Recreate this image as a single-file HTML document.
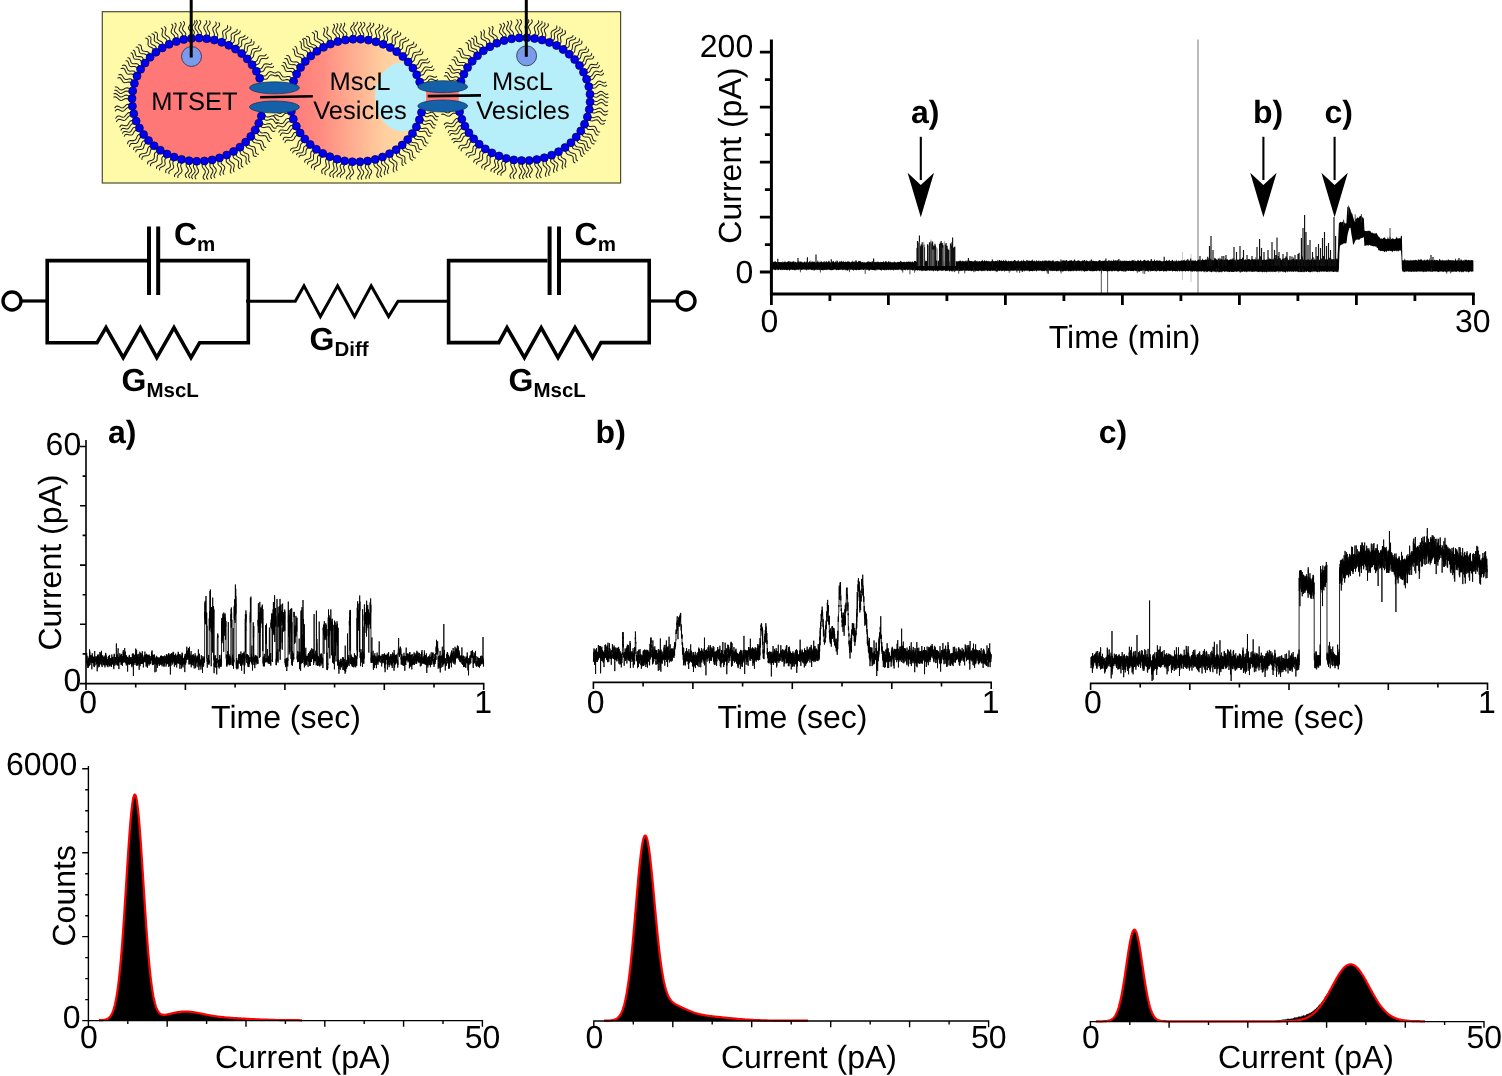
<!DOCTYPE html>
<html lang="en"><head><meta charset="utf-8"><title>MscL vesicle figure</title>
<style>html,body{margin:0;padding:0;background:#fff;}body{width:1502px;height:1076px;overflow:hidden;}svg text{font-family:"Liberation Sans",Arial,Helvetica,sans-serif;}</style></head>
<body>
<svg width="1502" height="1076" viewBox="0 0 1502 1076" style="display:block" text-rendering="geometricPrecision">
<g id="vesicles">
<rect x="102.3" y="11.7" width="518.3" height="171.3" fill="#FFFAA8" stroke="#4d4d33" stroke-width="1.2"/>
<defs><linearGradient id="gmid" x1="0" y1="0" x2="1" y2="0"><stop offset="0" stop-color="#FF7B7B"/><stop offset="0.22" stop-color="#FF8A80"/><stop offset="0.72" stop-color="#FFD0A0"/><stop offset="1" stop-color="#FFDDA8"/></linearGradient><clipPath id="cmid"><ellipse cx="356.5" cy="100.5" rx="66.3" ry="61.4"/></clipPath>
</defs>
<rect x="256" y="88" width="46" height="19" fill="#FF7878"/>
<ellipse cx="197.9" cy="99.7" rx="65.9" ry="61.6" fill="#FF7878"/>
<ellipse cx="356.5" cy="100.5" rx="66.3" ry="61.4" fill="url(#gmid)"/>
<g clip-path="url(#cmid)"><ellipse cx="403" cy="96.8" rx="28" ry="34.5" fill="#B6EFFA"/><rect x="403" y="76" width="40" height="42" fill="#B6EFFA"/></g>
<rect x="418" y="87" width="50" height="19" fill="#B6EFFA"/>
<ellipse cx="524.2" cy="99.2" rx="66" ry="61.5" fill="#B6EFFA"/>
<path d="M264.8 115.3 L265.9 116.4 L267.1 117 L268.5 117 L270.1 116.4 L271.6 115.9 L273 115.8 L274.2 116.6 L275.2 117.9 L276.2 119.3 L277.4 120.1 L278.8 120.1 M263.8 118.6 L264.9 119.6 L266.1 120.3 L267.5 120.2 L269.1 119.7 L270.7 119.1 L272.1 119.1 L273.3 119.8 L274.3 121.2 L275.3 122.6 L276.4 123.4 L277.8 123.3 M262.1 123.1 L263.2 124.1 L264.5 124.5 L266.1 124.3 L267.8 123.8 L269.4 123.6 L270.7 124 L271.7 125.1 L272.5 126.5 L273.4 127.8 L274.7 128.3 L276.3 127.9 M260.8 126.2 L261.8 127.2 L263.1 127.6 L264.7 127.4 L266.4 126.9 L268 126.7 L269.3 127.1 L270.3 128.2 L271.1 129.6 L272.1 130.9 L273.3 131.4 L275 131 M258.8 130 L259.6 131.3 L260.6 132.4 L261.9 132.9 L263.6 132.8 L265.3 132.6 L266.9 132.8 L268 133.6 L268.8 135 L269.4 136.7 L270.2 137.9 L271.5 138.5 M257 132.9 L257.8 134.2 L258.8 135.3 L260.2 135.8 L261.8 135.7 L263.6 135.5 L265.1 135.7 L266.2 136.5 L267 137.9 L267.6 139.6 L268.5 140.9 L269.8 141.4 M254.1 137 L254.8 138.5 L255.7 139.6 L257.1 140.2 L258.8 140.3 L260.5 140.5 L261.8 141.1 L262.7 142.3 L263.2 143.9 L263.6 145.7 L264.4 147 L265.8 147.5 M252 139.7 L252.7 141.2 L253.6 142.3 L255 142.8 L256.7 143 L258.3 143.2 L259.7 143.7 L260.6 144.9 L261 146.6 L261.5 148.3 L262.3 149.6 L263.6 150.2 M248.4 143.7 L249 144.9 L250.1 145.8 L251.5 146.2 L253.1 146.5 L254.4 147.1 L255.1 148.2 L255.4 149.9 L255.5 151.6 L255.9 153.1 L257 153.9 L258.6 154.2 M246 146.1 L246.6 147.3 L247.6 148.1 L249.1 148.6 L250.7 148.9 L252 149.5 L252.7 150.6 L253 152.3 L253.1 154 L253.5 155.5 L254.5 156.3 L256.2 156.6 M242.8 148.7 L242.9 150.4 L243.3 151.7 L244.3 152.7 L245.8 153.3 L247.3 153.9 L248.4 154.7 L248.8 156.1 L248.8 157.8 L248.6 159.7 L248.9 161.2 L249.9 162.1 M240.1 150.8 L240.2 152.4 L240.7 153.8 L241.6 154.8 L243.1 155.4 L244.6 155.9 L245.7 156.8 L246.2 158.1 L246.1 159.9 L245.9 161.7 L246.2 163.3 L247.2 164.2 M236 153.5 L236.1 155.1 L236.8 156.3 L238 157.2 L239.4 157.9 L240.8 158.7 L241.5 159.9 L241.6 161.4 L241.3 163.2 L241.1 164.9 L241.6 166.2 L242.9 167 M233.1 155.3 L233.2 156.8 L233.8 158 L235 158.9 L236.5 159.6 L237.8 160.4 L238.6 161.6 L238.7 163.2 L238.4 165 L238.2 166.6 L238.7 167.9 L240 168.8 M229.4 157.2 L229.2 158.8 L229.4 160.2 L230.2 161.4 L231.5 162.3 L232.9 163.2 L234 164.2 L234.3 165.6 L234 167.2 L233.5 169 L233.4 170.5 L234.1 171.7 M226.4 158.6 L226.2 160.2 L226.3 161.6 L227.1 162.8 L228.4 163.7 L229.8 164.6 L230.9 165.6 L231.2 167 L230.9 168.6 L230.4 170.4 L230.3 171.9 L231 173.1 M221.6 160.4 L221.2 161.8 L221.2 163.1 L221.9 164.2 L223.1 165.2 L224.2 166.1 L224.8 167.3 L224.7 168.6 L223.9 170.2 L223.2 171.8 L223.1 173.1 L223.8 174.2 M218.4 161.4 L217.9 162.9 L218 164.2 L218.7 165.3 L219.9 166.2 L221 167.2 L221.6 168.3 L221.4 169.7 L220.7 171.3 L220 172.8 L219.8 174.2 L220.6 175.3 M213.7 162.6 L213.2 164.1 L213.3 165.5 L214 166.7 L215.1 167.9 L216 169.1 L216.3 170.5 L215.9 172 L214.9 173.5 L214.1 175.1 L214 176.5 L214.9 177.8 M210.3 163.3 L209.9 164.8 L209.9 166.2 L210.6 167.4 L211.7 168.6 L212.7 169.8 L213 171.1 L212.5 172.6 L211.6 174.2 L210.8 175.8 L210.7 177.2 L211.5 178.4 M205.9 163.9 L205.5 165.3 L205.8 166.7 L206.7 168 L207.8 169.3 L208.6 170.7 L208.7 172.1 L208 173.6 L207.1 175.1 L206.5 176.5 L206.7 177.9 L207.8 179.2 M202.5 164.2 L202.1 165.6 L202.4 167 L203.3 168.3 L204.5 169.7 L205.3 171 L205.3 172.4 L204.7 173.9 L203.7 175.4 L203.1 176.8 L203.3 178.2 L204.4 179.5 M197.4 164.3 L196.8 165.6 L196.8 166.9 L197.4 168.3 L198.2 169.6 L198.6 171 L198.3 172.3 L197.2 173.6 L195.9 174.9 L195.1 176.2 L195.1 177.5 L195.9 178.9 M194 164.2 L193.4 165.6 L193.4 166.9 L194 168.2 L194.8 169.6 L195.2 170.9 L194.9 172.2 L193.8 173.5 L192.5 174.8 L191.7 176.2 L191.7 177.5 L192.5 178.8 M189.9 163.9 L189.4 165.1 L189.7 166.4 L190.4 167.8 L191.3 169.2 L191.7 170.5 L191.4 171.8 L190.4 172.9 L189.3 174 L188.6 175.2 L188.8 176.5 L189.8 177.9 M186.5 163.4 L186.1 164.7 L186.3 166 L187 167.4 L187.9 168.7 L188.4 170.1 L188.1 171.3 L187.1 172.5 L185.9 173.6 L185.3 174.8 L185.5 176.1 L186.4 177.5 M182.4 162.7 L181.3 163.9 L180.7 165.2 L180.8 166.6 L181.3 168.2 L181.9 169.8 L182 171.3 L181.3 172.6 L180 173.7 L178.6 174.8 L177.8 176.1 L177.9 177.6 M179.1 161.9 L178 163.1 L177.4 164.4 L177.4 165.8 L178 167.4 L178.6 169 L178.7 170.5 L178 171.8 L176.7 172.9 L175.3 174 L174.5 175.3 L174.6 176.8 M174.2 160.4 L173.2 161.4 L172.8 162.6 L173 164.1 L173.5 165.6 L173.7 167.1 L173.2 168.3 L172.1 169.3 L170.5 170.1 L169.3 171.1 L168.8 172.3 L169.1 173.8 M171 159.2 L170 160.2 L169.6 161.5 L169.8 162.9 L170.3 164.5 L170.5 166 L170 167.2 L168.9 168.1 L167.3 169 L166.1 169.9 L165.6 171.1 L165.9 172.6 M166.9 157.4 L165.7 158.3 L164.9 159.3 L164.8 160.7 L165 162.3 L165.2 163.9 L164.8 165.1 L163.7 166.1 L162.1 166.7 L160.6 167.4 L159.6 168.5 L159.6 169.9 M163.8 155.9 L162.6 156.7 L161.9 157.8 L161.7 159.2 L162 160.8 L162.1 162.4 L161.7 163.6 L160.6 164.5 L159 165.2 L157.5 165.9 L156.6 166.9 L156.5 168.4 M159.6 153.4 L158.3 154.2 L157.5 155.4 L157.2 156.9 L157.2 158.6 L157 160.1 L156.2 161.3 L154.8 162 L153 162.5 L151.5 163.2 L150.6 164.3 L150.4 165.9 M156.7 151.6 L155.4 152.4 L154.6 153.5 L154.4 155 L154.4 156.7 L154.2 158.2 L153.4 159.4 L152 160.2 L150.2 160.7 L148.6 161.3 L147.7 162.4 L147.6 164 M152.6 148.4 L151.3 149.1 L150.6 150.3 L150.2 151.8 L149.9 153.4 L149.2 154.6 L148 155.4 L146.2 155.7 L144.3 156 L142.9 156.6 L142.1 157.8 L141.9 159.4 M150 146.2 L148.7 147 L148 148.1 L147.6 149.7 L147.3 151.2 L146.6 152.5 L145.3 153.2 L143.6 153.6 L141.7 153.8 L140.3 154.4 L139.5 155.6 L139.3 157.3 M146.9 143.2 L145.5 143.6 L144.6 144.4 L144.1 145.8 L143.7 147.3 L143.2 148.5 L142.1 149.3 L140.6 149.5 L138.8 149.5 L137.2 149.7 L136.2 150.5 L135.8 151.9 M144.6 140.7 L143.2 141.1 L142.3 142 L141.7 143.3 L141.4 144.8 L140.9 146.1 L139.8 146.8 L138.2 147.1 L136.5 147 L134.9 147.2 L133.9 148 L133.5 149.5 M141.6 137 L140.3 137.6 L139.4 138.7 L138.7 140.2 L138.1 141.7 L137.2 142.8 L135.9 143.4 L134.1 143.4 L132.4 143.3 L130.9 143.7 L130 144.8 L129.5 146.5 M139.6 134.3 L138.3 134.8 L137.4 135.9 L136.7 137.4 L136.1 139 L135.2 140.1 L133.9 140.6 L132.1 140.6 L130.4 140.6 L128.9 141 L128 142.1 L127.5 143.8 M137.2 130.3 L135.8 130.4 L134.7 131 L133.8 132.2 L133.1 133.6 L132.3 134.7 L131 135.1 L129.5 134.9 L127.7 134.5 L126.2 134.3 L125 134.9 L124.3 136.2 M135.5 127.3 L134.1 127.4 L133 128 L132.2 129.2 L131.5 130.6 L130.6 131.7 L129.4 132.2 L127.8 132 L126.1 131.5 L124.5 131.4 L123.4 131.9 L122.6 133.3 M133.9 123.6 L132.5 123.7 L131.4 124.3 L130.4 125.5 L129.6 127 L128.7 128.3 L127.6 129 L126.2 128.9 L124.6 128.5 L123.1 128.2 L121.9 128.7 L121 130.1 M132.6 120.5 L131.3 120.5 L130.1 121.2 L129.2 122.4 L128.4 123.9 L127.5 125.2 L126.4 125.8 L124.9 125.8 L123.3 125.3 L121.9 125.1 L120.7 125.6 L119.8 126.9 M131.1 115.7 L129.7 115.8 L128.4 116.6 L127.3 117.8 L126.2 119.2 L125 120.2 L123.6 120.5 L122 120 L120.4 119.4 L118.9 119.3 L117.6 120 L116.5 121.5 M130.3 112.5 L128.9 112.5 L127.6 113.3 L126.5 114.5 L125.3 115.9 L124.1 116.9 L122.7 117.2 L121.2 116.7 L119.6 116.1 L118.1 116 L116.8 116.7 L115.7 118.2 M129.5 107.8 L128.2 107.6 L126.9 108.1 L125.7 109.1 L124.5 110.3 L123.3 111.2 L121.9 111.2 L120.5 110.6 L119.1 109.7 L117.7 109.3 L116.4 109.7 L115.3 111 M129.1 104.4 L127.8 104.3 L126.5 104.7 L125.3 105.8 L124.1 107 L122.9 107.8 L121.6 107.9 L120.2 107.2 L118.7 106.4 L117.3 105.9 L116.1 106.3 L114.9 107.6 M129 99.7 L127.6 98.8 L126.3 98.4 L124.9 98.7 L123.5 99.5 L122.1 100.2 L120.7 100.4 L119.3 99.8 L118 98.6 L116.6 97.4 L115.2 96.8 L113.9 97.1 M129.1 96.3 L127.7 95.4 L126.3 95 L124.9 95.3 L123.5 96.1 L122.1 96.8 L120.8 97 L119.4 96.4 L118 95.2 L116.7 94 L115.3 93.4 L113.9 93.7 M129.4 92.5 L128.2 91.6 L126.9 91.1 L125.5 91.3 L124 92 L122.5 92.9 L121 93.4 L119.7 93.2 L118.5 92.2 L117.3 91 L116 90.2 L114.6 90.3 M129.9 89.1 L128.7 88.2 L127.4 87.7 L126 87.9 L124.5 88.7 L123 89.6 L121.5 90.1 L120.2 89.8 L119 88.8 L117.8 87.6 L116.6 86.9 L115.2 87 M131.3 83.3 L130.2 82.3 L128.9 81.9 L127.5 82.2 L126 82.6 L124.6 82.7 L123.4 82.2 L122.4 80.9 L121.5 79.3 L120.5 78.1 L119.3 77.6 L117.8 78 M132.2 80 L131.1 79 L129.9 78.7 L128.4 78.9 L127 79.4 L125.6 79.5 L124.4 78.9 L123.4 77.6 L122.5 76 L121.5 74.8 L120.2 74.4 L118.8 74.8 M134.1 75.4 L133 74.4 L131.7 74 L130.2 74.1 L128.7 74.3 L127.4 74 L126.4 72.9 L125.6 71.3 L124.9 69.7 L124 68.5 L122.6 68.2 L121 68.5 M135.4 72.3 L134.4 71.3 L133.1 70.9 L131.6 71 L130.1 71.2 L128.8 70.8 L127.8 69.8 L127 68.2 L126.3 66.6 L125.3 65.4 L124 65 L122.4 65.4 M137.3 68.9 L136.6 67.6 L135.7 66.8 L134.3 66.5 L132.8 66.6 L131.3 66.7 L130 66.3 L129.2 65.2 L128.7 63.6 L128.2 62 L127.3 60.9 L126 60.7 M139.1 66 L138.4 64.7 L137.4 63.9 L136.1 63.6 L134.6 63.7 L133 63.8 L131.8 63.3 L131 62.2 L130.5 60.6 L130 59.1 L129.1 58 L127.8 57.7 M141.5 62.6 L141 61.1 L140.2 60 L139.1 59.4 L137.5 59.3 L135.9 59.3 L134.5 58.9 L133.6 58 L133.2 56.5 L132.9 54.8 L132.3 53.5 L131.1 52.8 M143.6 59.9 L143.1 58.5 L142.3 57.3 L141.2 56.7 L139.6 56.6 L138 56.6 L136.6 56.3 L135.7 55.3 L135.3 53.8 L135 52.2 L134.4 50.8 L133.3 50.2 M147 56.2 L146.4 55 L145.3 54.2 L143.9 53.8 L142.2 53.7 L140.7 53.4 L139.7 52.6 L139.2 51.2 L139 49.6 L138.6 48.2 L137.7 47.3 L136.1 47.1 M149.4 53.8 L148.8 52.6 L147.8 51.8 L146.3 51.4 L144.6 51.3 L143.1 51 L142.1 50.2 L141.6 48.8 L141.4 47.2 L141.1 45.8 L140.1 44.9 L138.5 44.7 M153.6 50.2 L153.2 48.8 L152.4 47.9 L151 47.3 L149.6 46.7 L148.5 45.9 L148 44.6 L148.1 42.9 L148.3 41.1 L148.1 39.6 L147.2 38.6 L145.7 38.1 M156.3 48.1 L155.9 46.8 L155 45.8 L153.7 45.2 L152.3 44.6 L151.2 43.8 L150.7 42.5 L150.8 40.8 L151 39 L150.8 37.5 L149.9 36.6 L148.4 36.1 M159.9 45.8 L159.6 44.5 L158.6 43.5 L157.2 42.8 L155.8 42.1 L154.7 41.3 L154.2 40 L154.3 38.4 L154.6 36.7 L154.4 35.3 L153.5 34.3 L151.9 33.7 M162.9 44 L162.5 42.7 L161.6 41.7 L160.2 41 L158.7 40.4 L157.6 39.5 L157.1 38.3 L157.3 36.6 L157.5 35 L157.3 33.5 L156.4 32.5 L154.8 32 M166.8 42 L166.8 40.5 L166.3 39.3 L165.2 38.3 L163.8 37.4 L162.6 36.5 L162 35.3 L162.1 33.7 L162.5 32 L162.9 30.4 L162.5 29.1 L161.3 28.1 M169.9 40.6 L169.9 39.1 L169.4 37.9 L168.3 36.9 L166.9 36 L165.7 35.1 L165.1 33.9 L165.1 32.3 L165.6 30.6 L166 29 L165.6 27.7 L164.4 26.7 M174.5 38.9 L174.8 37.4 L174.5 36.1 L173.6 34.9 L172.4 33.9 L171.4 32.8 L171.1 31.5 L171.5 29.9 L172.3 28.2 L172.9 26.6 L172.7 25.3 L171.7 24.2 M177.8 37.9 L178 36.4 L177.8 35 L176.9 33.9 L175.7 32.9 L174.7 31.7 L174.3 30.4 L174.7 28.9 L175.5 27.2 L176.1 25.6 L176 24.2 L174.9 23.1 M182.1 36.8 L182.5 35.4 L182.3 34.1 L181.5 32.9 L180.4 31.8 L179.4 30.6 L179.1 29.3 L179.6 27.9 L180.5 26.3 L181.2 24.8 L181.2 23.5 L180.3 22.3 M185.4 36.1 L185.8 34.7 L185.7 33.4 L184.9 32.2 L183.7 31.1 L182.8 29.9 L182.4 28.6 L182.9 27.2 L183.8 25.6 L184.5 24.1 L184.5 22.8 L183.6 21.6 M189.9 35.5 L190.7 34.1 L191 32.8 L190.6 31.5 L189.7 30.3 L188.8 29.1 L188.5 27.8 L188.9 26.5 L190 25 L191.1 23.6 L191.6 22.3 L191.3 21 M193.3 35.2 L194.1 33.8 L194.4 32.5 L194 31.2 L193.1 30 L192.2 28.8 L191.9 27.5 L192.3 26.1 L193.4 24.7 L194.5 23.3 L195 22 L194.6 20.7 M197.5 35.1 L198 33.7 L197.9 32.4 L197.1 31 L196 29.7 L195.1 28.3 L194.9 27 L195.4 25.6 L196.4 24.3 L197.2 23 L197.3 21.6 L196.4 20.3 M200.9 35.1 L201.4 33.8 L201.3 32.5 L200.5 31.1 L199.4 29.7 L198.5 28.4 L198.3 27 L198.8 25.7 L199.8 24.4 L200.6 23 L200.7 21.7 L199.8 20.3 M205.4 35.5 L206.1 34.2 L206.3 32.9 L205.7 31.4 L204.8 29.9 L204 28.5 L203.8 27.1 L204.4 25.8 L205.5 24.6 L206.5 23.4 L206.8 22 L206.2 20.6 M208.8 35.9 L209.5 34.6 L209.6 33.3 L209.1 31.9 L208.2 30.4 L207.4 28.9 L207.2 27.5 L207.8 26.2 L208.9 25 L209.9 23.8 L210.2 22.5 L209.6 21 M213.6 36.8 L214.3 35.6 L214.4 34.2 L214 32.7 L213.2 31.1 L212.7 29.6 L212.9 28.2 L213.8 27.1 L215.1 26 L216.1 24.8 L216.3 23.5 L215.7 21.9 M216.9 37.6 L217.6 36.4 L217.8 35 L217.3 33.5 L216.5 31.9 L216 30.4 L216.2 29 L217.1 27.8 L218.4 26.8 L219.4 25.6 L219.6 24.3 L219 22.7 M221.8 39.1 L222.8 38 L223.2 36.8 L223.1 35.3 L222.7 33.8 L222.5 32.3 L223.1 31.1 L224.3 30.1 L225.9 29.3 L227.2 28.3 L227.7 27.1 L227.5 25.6 M225 40.2 L226 39.2 L226.4 38 L226.3 36.5 L225.9 34.9 L225.7 33.5 L226.3 32.2 L227.5 31.3 L229.1 30.4 L230.4 29.5 L230.9 28.3 L230.6 26.7 M229 42 L230.3 41.2 L231.1 40 L231.4 38.6 L231.2 37 L231.1 35.4 L231.5 34.1 L232.7 33.2 L234.4 32.5 L236 31.7 L237 30.7 L237.2 29.3 M232 43.5 L233.3 42.7 L234.2 41.6 L234.4 40.1 L234.3 38.5 L234.2 37 L234.6 35.6 L235.7 34.7 L237.4 34 L239 33.2 L240 32.2 L240.2 30.8 M235.7 45.7 L237.1 45.1 L238.3 44.3 L238.8 43.2 L238.9 41.7 L238.8 40.1 L239 38.8 L239.9 37.8 L241.4 37.3 L243.1 36.9 L244.5 36.3 L245.1 35.2 M238.6 47.5 L240 46.9 L241.1 46.2 L241.7 45 L241.7 43.5 L241.6 42 L241.8 40.6 L242.7 39.7 L244.2 39.2 L246 38.8 L247.3 38.1 L247.9 37 M242.9 50.8 L244 50 L244.5 48.7 L244.7 47.2 L244.8 45.6 L245.3 44.3 L246.4 43.6 L247.9 43.2 L249.6 42.9 L250.8 42.2 L251.4 41 L251.3 39.3 M245.5 52.9 L246.6 52.1 L247.1 50.9 L247.3 49.4 L247.4 47.8 L247.9 46.5 L249 45.7 L250.6 45.3 L252.2 45 L253.4 44.4 L254 43.1 L254 41.4 M248.6 55.9 L249.9 55.4 L250.8 54.5 L251.3 53.1 L251.5 51.4 L252 50 L252.9 49 L254.3 48.6 L256 48.5 L257.5 48.2 L258.5 47.4 L258.9 45.9 M250.9 58.4 L252.2 57.9 L253.2 56.9 L253.6 55.5 L253.9 53.9 L254.3 52.4 L255.2 51.5 L256.6 51.1 L258.3 51 L259.8 50.7 L260.8 49.9 L261.2 48.3 M253.8 61.9 L255.3 61.8 L256.5 61.2 L257.3 60.1 L257.9 58.6 L258.4 57.1 L259.3 56.1 L260.7 55.7 L262.4 55.8 L264.1 55.9 L265.4 55.5 L266.2 54.4 M255.8 64.7 L257.3 64.5 L258.5 63.9 L259.4 62.8 L259.9 61.3 L260.4 59.8 L261.3 58.8 L262.7 58.5 L264.4 58.6 L266.1 58.7 L267.4 58.3 L268.2 57.1 M258.4 68.7 L259.9 68.8 L261.2 68.4 L262.2 67.5 L263 66.1 L263.7 64.8 L264.7 63.9 L266.2 63.8 L267.9 64.1 L269.6 64.5 L271 64.3 L271.9 63.3 M260 71.7 L261.6 71.8 L262.9 71.4 L263.9 70.5 L264.6 69.1 L265.4 67.7 L266.4 66.9 L267.8 66.7 L269.5 67.1 L271.2 67.5 L272.6 67.3 L273.6 66.3 M261.9 75.7 L263.5 76 L264.9 76 L266.1 75.4 L267.1 74.2 L268 72.8 L269.1 71.9 L270.4 71.6 L272 72.1 L273.8 72.7 L275.3 73 L276.5 72.4 M263.1 78.8 L264.7 79.2 L266.2 79.2 L267.4 78.5 L268.3 77.3 L269.3 76 L270.3 75 L271.7 74.8 L273.3 75.2 L275 75.9 L276.6 76.1 L277.8 75.5 M424.7 111.8 L425.8 112.9 L427 113.4 L428.4 113.3 L429.8 112.8 L431.2 112.3 L432.5 112.3 L433.7 113.2 L434.7 114.6 L435.7 116 L436.9 116.8 L438.2 116.6 M424 115.1 L425.1 116.2 L426.3 116.8 L427.7 116.7 L429.1 116.1 L430.5 115.6 L431.8 115.7 L433 116.5 L434 117.9 L435 119.3 L436.2 120.1 L437.5 120 M422.8 119.3 L423.8 120.4 L424.9 121.1 L426.2 121.2 L427.8 120.7 L429.3 120.3 L430.6 120.3 L431.7 121.1 L432.6 122.5 L433.4 124 L434.5 124.8 L435.8 124.9 M421.7 122.5 L422.6 123.6 L423.7 124.3 L425.1 124.4 L426.6 123.9 L428.1 123.5 L429.5 123.5 L430.6 124.3 L431.4 125.7 L432.3 127.2 L433.3 128 L434.7 128.1 M419.6 127.2 L420.5 128.2 L421.7 128.6 L423.2 128.5 L424.8 128.1 L426.3 128.1 L427.4 128.7 L428.2 130 L428.8 131.5 L429.6 132.8 L430.8 133.3 L432.3 133 M418 130.2 L419 131.2 L420.2 131.6 L421.7 131.5 L423.3 131.2 L424.7 131.1 L425.8 131.7 L426.6 133 L427.2 134.5 L428 135.8 L429.2 136.3 L430.8 136 M415.7 134 L416.5 135.3 L417.5 136.3 L418.9 136.7 L420.6 136.6 L422.3 136.7 L423.6 137.2 L424.5 138.4 L425 140.1 L425.6 141.7 L426.5 142.8 L428 143.1 M413.8 136.8 L414.6 138.1 L415.6 139.1 L417 139.5 L418.7 139.4 L420.4 139.5 L421.7 140 L422.6 141.2 L423.1 142.9 L423.7 144.5 L424.6 145.6 L426.1 146 M410.6 140.8 L411.3 141.9 L412.5 142.5 L414 142.7 L415.6 142.8 L417 143.3 L417.8 144.2 L418.2 145.8 L418.4 147.4 L419 148.7 L420.1 149.4 L421.8 149.4 M408.3 143.3 L409.1 144.4 L410.2 145 L411.8 145.2 L413.4 145.4 L414.7 145.8 L415.5 146.8 L415.9 148.3 L416.2 149.9 L416.7 151.2 L417.9 151.9 L419.5 151.9 M405 146.5 L405.6 147.9 L406.6 148.9 L408 149.4 L409.7 149.8 L411.1 150.4 L412.1 151.5 L412.4 153.1 L412.5 154.8 L412.8 156.4 L413.7 157.5 L415.3 158 M402.5 148.7 L403 150.1 L404 151.1 L405.5 151.7 L407.1 152.1 L408.6 152.7 L409.5 153.7 L409.8 155.3 L409.9 157.1 L410.2 158.7 L411.2 159.7 L412.7 160.2 M399.1 151.3 L399.2 152.8 L399.6 154 L400.7 154.9 L402.1 155.4 L403.6 155.9 L404.7 156.8 L405 158.1 L404.9 159.7 L404.7 161.4 L405 162.7 L406 163.6 M396.3 153.3 L396.4 154.8 L396.8 156 L397.9 156.8 L399.3 157.4 L400.8 157.9 L401.9 158.7 L402.2 160 L402.1 161.6 L401.9 163.3 L402.2 164.7 L403.2 165.5 M392.1 155.8 L392 157.4 L392.2 158.8 L393.1 159.9 L394.5 160.8 L395.8 161.6 L396.8 162.7 L397 164.2 L396.7 165.9 L396.2 167.7 L396.3 169.3 L397.1 170.4 M389.1 157.4 L389 159 L389.2 160.4 L390.1 161.5 L391.5 162.4 L392.8 163.2 L393.8 164.3 L394 165.8 L393.6 167.5 L393.2 169.3 L393.3 170.9 L394.1 172 M384.9 159.3 L384.6 160.8 L384.6 162.2 L385.4 163.3 L386.6 164.2 L387.8 165.1 L388.6 166.2 L388.7 167.5 L388.1 169.2 L387.5 170.8 L387.3 172.3 L388.1 173.4 M381.7 160.5 L381.4 162 L381.5 163.4 L382.2 164.5 L383.4 165.4 L384.7 166.3 L385.5 167.4 L385.5 168.8 L385 170.4 L384.3 172.1 L384.2 173.5 L384.9 174.6 M377.2 162 L377.1 163.4 L377.5 164.8 L378.6 165.9 L380 167 L381.1 168.1 L381.4 169.4 L381.1 171 L380.4 172.6 L380 174.1 L380.4 175.5 L381.6 176.6 M373.9 162.9 L373.8 164.3 L374.3 165.6 L375.3 166.8 L376.7 167.9 L377.8 169 L378.2 170.3 L377.8 171.9 L377.1 173.5 L376.7 175 L377.1 176.4 L378.4 177.5 M369.6 163.8 L368.9 165.2 L368.6 166.5 L369 167.8 L370 169 L371.1 170.1 L371.7 171.3 L371.5 172.7 L370.6 174.1 L369.6 175.6 L369.1 177 L369.5 178.3 M366.2 164.3 L365.5 165.7 L365.3 167.1 L365.7 168.3 L366.6 169.5 L367.7 170.6 L368.3 171.9 L368.1 173.2 L367.3 174.7 L366.2 176.2 L365.7 177.5 L366.1 178.8 M361.7 164.7 L361 166.1 L360.9 167.4 L361.4 168.7 L362.4 170 L363.4 171.2 L363.8 172.5 L363.5 173.8 L362.5 175.2 L361.5 176.6 L361.1 177.9 L361.7 179.2 M358.3 164.9 L357.6 166.2 L357.5 167.6 L358 168.9 L359 170.1 L360 171.4 L360.4 172.7 L360.1 174 L359.1 175.4 L358.1 176.7 L357.7 178.1 L358.3 179.3 M353.1 164.8 L352.2 166.1 L351.9 167.4 L352.2 168.7 L353 170.1 L353.6 171.5 L353.6 172.8 L352.8 174.1 L351.5 175.3 L350.3 176.6 L349.7 177.9 L350.2 179.2 M349.7 164.6 L348.8 165.9 L348.5 167.2 L348.8 168.5 L349.6 169.9 L350.2 171.3 L350.2 172.6 L349.4 173.9 L348.1 175.1 L346.9 176.4 L346.3 177.7 L346.8 179 M345.4 164.1 L344.3 165.2 L343.6 166.3 L343.6 167.6 L344.1 169 L344.7 170.3 L344.8 171.6 L344.1 172.8 L342.8 173.8 L341.4 174.9 L340.4 176 L340.4 177.2 M342 163.5 L340.9 164.6 L340.2 165.8 L340.2 167 L340.7 168.4 L341.3 169.8 L341.5 171.1 L340.8 172.2 L339.5 173.3 L338 174.3 L337.1 175.4 L337.1 176.7 M337.2 162.4 L336.5 163.6 L336.3 165.1 L336.8 166.7 L337.3 168.3 L337.4 169.8 L336.8 171.1 L335.5 172.2 L334.1 173.3 L333.1 174.5 L333 175.9 L333.6 177.5 M333.9 161.4 L333.2 162.7 L333.1 164.1 L333.5 165.7 L334 167.3 L334.1 168.9 L333.5 170.1 L332.3 171.3 L330.8 172.3 L329.9 173.5 L329.7 175 L330.4 176.6 M329.6 159.9 L328.9 161.1 L328.8 162.6 L329.1 164.2 L329.5 165.9 L329.5 167.4 L328.7 168.6 L327.3 169.6 L325.9 170.5 L324.9 171.6 L324.8 173.1 L325.4 174.8 M326.5 158.6 L325.7 159.8 L325.6 161.3 L325.9 162.9 L326.3 164.6 L326.3 166.1 L325.5 167.3 L324.2 168.3 L322.7 169.2 L321.8 170.3 L321.7 171.8 L322.2 173.6 M322.2 156.5 L321 157.4 L320.5 158.7 L320.4 160.2 L320.5 161.9 L320.4 163.4 L319.5 164.5 L318.1 165.3 L316.4 166 L315 166.8 L314.3 168 L314.5 169.7 M319.2 154.8 L318.1 155.8 L317.5 157.1 L317.4 158.6 L317.6 160.3 L317.4 161.8 L316.5 162.9 L315.1 163.7 L313.4 164.3 L312 165.2 L311.4 166.4 L311.5 168 M315.6 152.5 L314.4 153.3 L313.7 154.3 L313.5 155.8 L313.5 157.4 L313.5 159 L312.8 160.1 L311.6 160.8 L309.9 161.3 L308.5 161.8 L307.6 162.8 L307.5 164.3 M312.9 150.6 L311.6 151.3 L310.9 152.4 L310.7 153.8 L310.8 155.5 L310.7 157 L310.1 158.2 L308.8 158.9 L307.2 159.3 L305.7 159.8 L304.8 160.8 L304.7 162.3 M309.3 147.7 L307.9 148.1 L306.8 148.8 L306.2 150 L306 151.6 L305.9 153.1 L305.3 154.3 L304.1 154.9 L302.5 155.2 L300.8 155.3 L299.5 155.9 L299 157.1 M306.8 145.4 L305.4 145.8 L304.3 146.6 L303.7 147.7 L303.5 149.3 L303.3 150.8 L302.8 152 L301.6 152.7 L300 152.9 L298.3 153.1 L297 153.6 L296.5 154.8 M303.8 142.3 L302.3 142.8 L301.2 143.6 L300.6 145 L300.2 146.7 L299.9 148.4 L299.1 149.7 L297.9 150.4 L296.2 150.6 L294.6 150.8 L293.3 151.5 L292.7 152.9 M301.5 139.8 L300.1 140.2 L299 141.1 L298.3 142.4 L298 144.1 L297.6 145.8 L296.9 147.1 L295.7 147.8 L294 148 L292.4 148.2 L291.1 148.9 L290.5 150.3 M298 135 L296.6 135.4 L295.5 136.3 L294.8 137.6 L294.1 139 L293.1 140 L291.7 140.4 L290 140.3 L288.2 140 L286.6 140.2 L285.6 141.1 L284.9 142.6 M296.1 132.2 L294.7 132.5 L293.6 133.4 L292.9 134.8 L292.2 136.2 L291.2 137.2 L289.9 137.6 L288.1 137.5 L286.3 137.2 L284.7 137.3 L283.7 138.2 L283.1 139.8 M294 128.3 L292.5 128.6 L291.4 129.4 L290.5 130.8 L289.7 132.2 L288.6 133.2 L287.2 133.6 L285.5 133.3 L283.8 132.9 L282.2 133 L281.1 133.8 L280.3 135.4 M292.5 125.2 L291 125.5 L289.9 126.4 L289 127.7 L288.1 129.1 L287.1 130.2 L285.7 130.5 L284 130.3 L282.2 129.9 L280.7 129.9 L279.6 130.8 L278.8 132.3 M291.1 122 L289.6 121.7 L288.2 121.8 L287 122.6 L286 123.9 L285 125.4 L283.9 126.5 L282.6 126.9 L281.1 126.5 L279.4 126 L277.9 125.8 L276.7 126.5 M290 118.7 L288.5 118.5 L287.1 118.6 L285.9 119.4 L284.9 120.7 L283.9 122.2 L282.8 123.3 L281.5 123.7 L280 123.3 L278.3 122.8 L276.8 122.6 L275.6 123.3 M288.6 113.6 L287.2 113.2 L285.8 113.2 L284.5 113.9 L283.4 115.1 L282.2 116.2 L280.9 116.8 L279.5 116.6 L277.9 115.8 L276.4 115 L275 114.8 L273.7 115.6 M288 110.3 L286.5 109.8 L285.1 109.9 L283.9 110.6 L282.7 111.7 L281.5 112.9 L280.3 113.5 L278.8 113.2 L277.3 112.5 L275.7 111.7 L274.3 111.5 L273.1 112.2 M290.3 81.4 L289.2 80.3 L288 79.6 L286.5 79.6 L284.8 80 L283.2 80.3 L281.8 80 L280.7 78.9 L279.8 77.4 L278.8 75.9 L277.6 75.1 L276.1 75.2 M291.4 78.2 L290.4 77 L289.1 76.4 L287.6 76.4 L286 76.8 L284.4 77.1 L283 76.8 L281.9 75.7 L280.9 74.2 L280 72.7 L278.7 71.9 L277.2 72 M293.4 73.8 L292.6 72.5 L291.6 71.6 L290.3 71.3 L288.8 71.5 L287.3 71.6 L286 71.1 L285.2 70 L284.6 68.3 L284 66.7 L283 65.7 L281.7 65.5 M295 70.8 L294.2 69.5 L293.2 68.6 L291.9 68.3 L290.3 68.5 L288.8 68.6 L287.6 68.1 L286.7 67 L286.1 65.3 L285.5 63.7 L284.6 62.6 L283.2 62.4 M297.3 67 L296.5 65.7 L295.4 64.9 L293.9 64.6 L292.2 64.7 L290.6 64.6 L289.3 64 L288.5 62.7 L288 61 L287.4 59.5 L286.3 58.5 L284.8 58.4 M299.2 64.2 L298.4 62.9 L297.3 62.1 L295.8 61.8 L294.1 61.9 L292.5 61.8 L291.2 61.2 L290.4 59.9 L289.9 58.2 L289.3 56.7 L288.3 55.7 L286.7 55.6 M302.2 60.5 L301.8 58.9 L301.1 57.7 L299.9 57 L298.4 56.7 L296.8 56.4 L295.6 55.8 L294.9 54.6 L294.6 52.8 L294.4 51 L293.9 49.6 L292.7 48.9 M304.5 57.9 L304 56.4 L303.3 55.2 L302.1 54.5 L300.6 54.2 L299.1 53.9 L297.8 53.3 L297.1 52 L296.9 50.3 L296.7 48.5 L296.1 47.1 L295 46.4 M307.8 54.6 L307.6 53 L307.1 51.6 L306 50.7 L304.5 50.2 L303 49.7 L301.9 48.8 L301.3 47.5 L301.3 45.7 L301.3 43.8 L300.9 42.3 L299.9 41.4 M310.4 52.4 L310.2 50.7 L309.6 49.4 L308.6 48.5 L307.1 47.9 L305.6 47.4 L304.4 46.6 L303.9 45.2 L303.8 43.4 L303.8 41.5 L303.5 40 L302.4 39.1 M314.1 49.6 L313.5 48.3 L312.4 47.3 L310.9 46.7 L309.1 46.2 L307.8 45.5 L307 44.3 L306.8 42.8 L306.8 41.1 L306.5 39.6 L305.4 38.7 L303.7 38.2 M316.9 47.6 L316.3 46.3 L315.2 45.4 L313.7 44.8 L311.9 44.3 L310.6 43.5 L309.8 42.4 L309.6 40.8 L309.6 39.1 L309.3 37.7 L308.2 36.7 L306.5 36.2 M320.8 45.3 L320.5 43.9 L319.7 42.7 L318.3 41.9 L316.6 41.2 L315.2 40.4 L314.4 39.2 L314.3 37.7 L314.5 36 L314.5 34.4 L313.8 33.2 L312.2 32.5 M323.8 43.7 L323.5 42.3 L322.7 41.1 L321.3 40.3 L319.6 39.6 L318.2 38.8 L317.4 37.6 L317.3 36.1 L317.5 34.4 L317.5 32.8 L316.8 31.6 L315.2 30.9 M328 41.8 L328.2 40.3 L328 39 L327.1 37.9 L325.8 37.1 L324.5 36.2 L323.7 35.1 L323.6 33.7 L324.2 32.1 L324.7 30.5 L324.7 29.1 L323.8 28.1 M331.2 40.5 L331.4 39 L331.2 37.7 L330.3 36.7 L329 35.8 L327.7 34.9 L326.9 33.9 L326.8 32.5 L327.3 30.9 L327.9 29.3 L327.8 27.9 L326.9 26.8 M335.9 39 L336.3 37.5 L336.2 36.2 L335.4 35 L334.2 33.9 L333.1 32.9 L332.7 31.6 L333 30.1 L333.8 28.5 L334.5 27 L334.5 25.6 L333.6 24.4 M339.2 38.1 L339.6 36.6 L339.4 35.3 L338.7 34.1 L337.5 33.1 L336.4 32 L335.9 30.7 L336.2 29.2 L337 27.6 L337.8 26.1 L337.8 24.7 L336.9 23.5 M342.8 37.3 L343.3 36 L343.5 34.7 L343 33.5 L341.9 32.4 L340.6 31.3 L339.7 30.2 L339.6 28.9 L340.2 27.5 L341 26.1 L341.4 24.8 L341 23.6 M346.2 36.8 L346.7 35.4 L346.9 34.1 L346.4 32.9 L345.3 31.8 L344 30.8 L343.1 29.6 L342.9 28.4 L343.5 27 L344.4 25.6 L344.8 24.2 L344.4 23 M351.6 36.3 L352.4 34.9 L352.9 33.7 L352.7 32.4 L351.9 31.2 L351 29.9 L350.6 28.7 L351 27.4 L352 26.1 L353.3 24.8 L354 23.5 L353.8 22.2 M354.9 36.1 L355.8 34.8 L356.3 33.5 L356.1 32.2 L355.3 31 L354.4 29.8 L354 28.5 L354.4 27.2 L355.4 25.9 L356.7 24.6 L357.4 23.3 L357.2 22 M360 36.2 L360.5 34.9 L360.3 33.7 L359.5 32.3 L358.7 31 L358.2 29.7 L358.6 28.5 L359.6 27.3 L360.7 26.1 L361.5 24.8 L361.3 23.5 L360.4 22.2 M363.4 36.4 L363.8 35.1 L363.7 33.9 L362.9 32.5 L362.1 31.2 L361.6 29.9 L362 28.7 L363 27.5 L364.1 26.3 L364.9 25 L364.7 23.7 L363.8 22.4 M367.4 36.9 L368.2 35.7 L368.6 34.4 L368.4 33.1 L367.6 31.6 L366.9 30.2 L366.8 28.8 L367.4 27.6 L368.7 26.5 L369.9 25.4 L370.5 24.2 L370.1 22.8 M370.7 37.4 L371.6 36.3 L372 35 L371.7 33.6 L371 32.2 L370.3 30.7 L370.1 29.4 L370.8 28.2 L372 27.1 L373.2 25.9 L373.8 24.7 L373.5 23.3 M375.6 38.6 L376.4 37.4 L376.7 36.1 L376.3 34.6 L375.7 33 L375.4 31.5 L375.7 30.2 L376.8 29.1 L378.2 28.1 L379.4 27 L379.7 25.7 L379.2 24.2 M378.8 39.5 L379.7 38.3 L380 37 L379.6 35.5 L379 33.9 L378.7 32.4 L379 31.1 L380.1 30 L381.5 29 L382.6 27.9 L383 26.6 L382.5 25.1 M382.6 40.8 L383.7 39.9 L384.4 38.7 L384.5 37.3 L384 35.7 L383.5 34.1 L383.5 32.7 L384.2 31.6 L385.6 30.7 L387 29.9 L387.9 28.8 L387.9 27.5 M385.8 42.1 L386.9 41.1 L387.6 40 L387.6 38.6 L387.2 37 L386.7 35.4 L386.7 34 L387.4 32.9 L388.7 32 L390.1 31.2 L391.1 30.1 L391.1 28.7 M390.5 44.4 L391.6 43.4 L392.3 42.2 L392.3 40.7 L392.1 39 L392.1 37.4 L392.6 36.2 L393.9 35.3 L395.5 34.6 L396.9 33.8 L397.7 32.7 L397.6 31.1 M393.5 46 L394.6 45.1 L395.3 43.8 L395.3 42.3 L395.1 40.6 L395.1 39 L395.6 37.8 L396.9 36.9 L398.5 36.2 L399.9 35.4 L400.7 34.3 L400.6 32.7 M397 48.2 L398.4 47.6 L399.4 46.8 L399.9 45.6 L399.9 44 L399.8 42.4 L400.1 41 L401 40 L402.5 39.5 L404.2 39.1 L405.4 38.4 L405.9 37.2 M399.8 50.2 L401.1 49.6 L402.2 48.7 L402.7 47.5 L402.7 46 L402.6 44.3 L402.9 42.9 L403.8 42 L405.3 41.5 L406.9 41.1 L408.2 40.4 L408.7 39.2 M403.8 53.4 L405.2 52.8 L406 51.7 L406.4 50.2 L406.6 48.5 L407 47 L407.9 45.9 L409.3 45.4 L411.1 45.1 L412.6 44.6 L413.6 43.6 L413.8 42 M406.4 55.7 L407.7 55.1 L408.6 54 L409 52.5 L409.1 50.8 L409.5 49.2 L410.4 48.2 L411.8 47.6 L413.6 47.3 L415.1 46.9 L416.1 45.9 L416.4 44.3 M409.7 59.3 L411 58.7 L411.9 57.6 L412.4 56.1 L412.8 54.5 L413.4 53.2 L414.6 52.4 L416.2 52.2 L417.9 52.1 L419.4 51.8 L420.3 50.7 L420.7 49.1 M412 61.8 L413.3 61.3 L414.2 60.2 L414.6 58.7 L415 57.1 L415.7 55.7 L416.8 55 L418.4 54.8 L420.1 54.7 L421.6 54.3 L422.5 53.3 L422.9 51.6 M414.6 65.4 L416.2 65.3 L417.4 64.8 L418.3 63.7 L418.9 62.2 L419.6 60.8 L420.6 59.9 L422 59.7 L423.8 59.9 L425.5 60 L426.8 59.7 L427.7 58.5 M416.5 68.3 L418.1 68.2 L419.3 67.6 L420.2 66.5 L420.8 65 L421.5 63.6 L422.5 62.7 L423.9 62.5 L425.7 62.7 L427.4 62.9 L428.7 62.5 L429.6 61.3 M418.8 72.2 L420.3 72.2 L421.6 71.7 L422.6 70.6 L423.4 69.1 L424.2 67.8 L425.3 67 L426.8 66.9 L428.5 67.3 L430.2 67.5 L431.6 67.2 L432.5 66 M420.3 75.3 L421.8 75.3 L423.1 74.8 L424.1 73.7 L424.9 72.2 L425.7 70.8 L426.9 70 L428.3 69.9 L430 70.3 L431.7 70.6 L433.1 70.2 L434 69 M422.1 79.6 L423.6 80 L425 79.9 L426.2 79.1 L427.2 77.9 L428.1 76.6 L429.3 75.9 L430.7 75.9 L432.4 76.5 L434 77.2 L435.5 77.3 L436.6 76.5 M423.2 82.9 L424.7 83.2 L426.1 83.1 L427.3 82.3 L428.3 81.1 L429.2 79.8 L430.4 79.1 L431.8 79.1 L433.5 79.7 L435.1 80.4 L436.6 80.5 L437.7 79.7 M593.2 100.3 L594.5 101.1 L595.8 101.6 L597.1 101.4 L598.5 100.6 L599.9 99.6 L601.2 99.1 L602.5 99.4 L603.8 100.4 L605.1 101.6 L606.4 102.3 L607.7 102.1 M593.1 103.7 L594.3 104.5 L595.6 105 L597 104.8 L598.3 103.9 L599.7 103 L601.1 102.5 L602.4 102.8 L603.7 103.8 L604.9 105 L606.2 105.7 L607.6 105.5 M592.4 109.1 L593.7 109.7 L595.2 109.6 L596.7 109 L598.3 108.3 L599.7 108 L601.1 108.5 L602.3 109.7 L603.5 111 L604.8 111.8 L606.2 111.7 L607.8 110.9 M591.8 112.4 L593.1 113 L594.5 113 L596.1 112.4 L597.6 111.7 L599.1 111.4 L600.5 111.9 L601.7 113 L602.9 114.3 L604.2 115.1 L605.6 115.1 L607.2 114.3 M590.6 116.9 L591.8 117.6 L593.2 117.7 L594.8 117.3 L596.4 116.7 L597.9 116.6 L599.2 117.2 L600.2 118.5 L601.2 119.9 L602.4 120.8 L603.8 120.9 L605.5 120.3 M589.5 120.1 L590.7 120.8 L592.2 120.9 L593.8 120.5 L595.4 120 L596.9 119.8 L598.1 120.5 L599.2 121.7 L600.2 123.1 L601.3 124.1 L602.8 124.2 L604.4 123.5 M587.7 124.5 L588.5 125.7 L589.6 126.4 L590.9 126.5 L592.5 126.3 L593.9 126.2 L595.1 126.7 L595.9 127.9 L596.6 129.5 L597.3 131.1 L598.3 131.9 L599.7 131.9 M586.2 127.5 L587.1 128.8 L588.1 129.5 L589.5 129.6 L591 129.4 L592.5 129.3 L593.6 129.8 L594.5 131 L595.1 132.6 L595.8 134.1 L596.8 135 L598.2 135 M583.8 131.8 L584.6 133 L585.8 133.8 L587.3 134.1 L588.9 134.1 L590.4 134.4 L591.5 135.2 L592.2 136.8 L592.7 138.6 L593.4 140.1 L594.5 140.9 L596.1 141 M581.9 134.6 L582.8 135.9 L583.9 136.7 L585.4 136.9 L587.1 136.9 L588.6 137.2 L589.7 138.1 L590.4 139.6 L590.9 141.4 L591.5 142.9 L592.7 143.8 L594.3 143.9 M579.2 138.2 L579.9 139.5 L581 140.3 L582.5 140.7 L584.1 140.8 L585.6 141.2 L586.6 142.2 L587.1 143.7 L587.4 145.5 L587.9 147 L589 147.9 L590.6 148.1 M577 140.8 L577.7 142.1 L578.8 142.9 L580.3 143.3 L581.9 143.5 L583.4 143.8 L584.4 144.8 L584.9 146.3 L585.3 148.1 L585.8 149.6 L586.8 150.5 L588.4 150.7 M574.4 143.5 L574.9 144.9 L575.6 146 L576.9 146.7 L578.5 147 L580.3 147.2 L581.7 147.8 L582.5 148.8 L582.9 150.4 L583.1 152 L583.6 153.4 L584.9 154.1 M572 145.8 L572.4 147.2 L573.1 148.4 L574.4 149 L576.1 149.3 L577.8 149.6 L579.2 150.1 L580.1 151.1 L580.4 152.7 L580.6 154.3 L581.2 155.7 L582.4 156.4 M568.3 148.8 L568.6 150.3 L569.3 151.6 L570.5 152.4 L572.1 152.9 L573.8 153.4 L575.1 154.1 L575.8 155.3 L576 156.9 L576 158.6 L576.4 160 L577.6 160.9 M565.6 150.8 L565.9 152.3 L566.5 153.6 L567.7 154.4 L569.4 154.9 L571.1 155.4 L572.4 156.1 L573.1 157.3 L573.2 158.9 L573.2 160.6 L573.7 162 L574.9 162.9 M561.2 153.7 L561 155.2 L561.2 156.6 L562 157.6 L563.2 158.4 L564.6 159 L565.6 159.9 L565.9 161.2 L565.6 162.9 L565.1 164.6 L565 166.1 L565.8 167.1 M558.3 155.3 L558.1 156.9 L558.2 158.3 L559 159.3 L560.3 160 L561.7 160.7 L562.6 161.6 L562.9 162.9 L562.6 164.5 L562.1 166.3 L562.1 167.8 L562.8 168.8 M554 157.4 L553.7 158.9 L553.8 160.2 L554.5 161.3 L555.7 162.1 L557 163 L557.8 164 L557.9 165.3 L557.3 166.9 L556.7 168.6 L556.6 170 L557.3 171 M550.9 158.7 L550.6 160.2 L550.6 161.5 L551.4 162.6 L552.6 163.5 L553.8 164.3 L554.7 165.3 L554.7 166.7 L554.2 168.2 L553.6 169.9 L553.4 171.3 L554.1 172.4 M546.7 160.2 L546.3 161.8 L546.2 163.2 L546.9 164.5 L548 165.6 L549.3 166.7 L550.1 167.9 L550.2 169.3 L549.6 171 L548.8 172.6 L548.6 174.2 L549.2 175.4 M543.4 161.2 L543 162.8 L543 164.2 L543.6 165.5 L544.8 166.6 L546 167.7 L546.9 168.9 L546.9 170.3 L546.3 171.9 L545.6 173.6 L545.3 175.1 L545.9 176.4 M538.3 162.4 L538.1 163.8 L538.5 165.2 L539.6 166.4 L540.7 167.6 L541.5 168.9 L541.5 170.4 L540.8 171.9 L539.9 173.5 L539.5 175 L539.9 176.4 L541.1 177.6 M534.9 163 L534.7 164.4 L535.2 165.8 L536.2 167 L537.4 168.2 L538.1 169.5 L538.1 171 L537.5 172.5 L536.6 174.1 L536.1 175.6 L536.6 177 L537.8 178.2 M530.2 163.5 L529.8 164.8 L530 166 L530.8 167.2 L531.7 168.4 L532.3 169.6 L532.1 170.9 L531.3 172.2 L530.1 173.6 L529.4 174.9 L529.6 176.1 L530.6 177.3 M526.8 163.7 L526.4 165 L526.6 166.2 L527.4 167.4 L528.3 168.6 L528.9 169.9 L528.7 171.1 L527.9 172.5 L526.8 173.8 L526.1 175.1 L526.2 176.4 L527.2 177.6 M522.9 163.7 L522.4 165.1 L522.4 166.4 L523.1 167.8 L524.1 169.2 L525 170.6 L525.2 172 L524.6 173.4 L523.5 174.7 L522.7 176 L522.6 177.4 L523.4 178.8 M519.5 163.6 L519 164.9 L519 166.3 L519.7 167.7 L520.7 169.1 L521.6 170.5 L521.8 171.9 L521.2 173.2 L520.1 174.6 L519.3 175.9 L519.2 177.3 L520 178.7 M514.7 163.1 L514.2 164.4 L514.3 165.9 L515 167.4 L515.9 169 L516.4 170.5 L516.2 171.9 L515.3 173.1 L514.1 174.4 L513.3 175.7 L513.4 177.1 L514.2 178.7 M511.4 162.6 L510.8 163.9 L510.9 165.4 L511.6 166.9 L512.5 168.5 L513.1 170 L512.9 171.4 L512 172.7 L510.8 173.9 L510 175.2 L510 176.6 L510.9 178.2 M506.7 161.6 L505.6 162.7 L504.9 163.9 L504.9 165.3 L505.4 166.8 L505.8 168.3 L505.6 169.7 L504.7 170.8 L503.2 171.8 L501.8 172.8 L500.9 174 L501 175.4 M503.4 160.7 L502.3 161.8 L501.6 163.1 L501.6 164.4 L502.1 166 L502.5 167.5 L502.4 168.8 L501.4 170 L499.9 171 L498.5 172 L497.6 173.1 L497.7 174.6 M499.5 159.4 L498.4 160.4 L497.7 161.5 L497.7 162.9 L498.2 164.4 L498.7 166 L498.6 167.4 L497.8 168.4 L496.5 169.3 L495.1 170.1 L494.2 171.2 L494.2 172.5 M496.3 158.2 L495.2 159.2 L494.6 160.3 L494.5 161.7 L495 163.2 L495.5 164.8 L495.5 166.1 L494.7 167.2 L493.3 168.1 L491.9 168.9 L491 169.9 L491 171.3 M491.6 156.1 L490.5 157.1 L490 158.3 L490 159.9 L490.2 161.6 L490.2 163.1 L489.6 164.4 L488.4 165.2 L486.7 166 L485.4 166.8 L484.7 168 L484.8 169.6 M488.6 154.5 L487.5 155.5 L487 156.7 L487 158.3 L487.2 160 L487.2 161.6 L486.6 162.8 L485.3 163.7 L483.7 164.4 L482.4 165.2 L481.7 166.4 L481.8 168.1 M484.9 152.2 L483.6 153 L482.8 154 L482.5 155.4 L482.6 157 L482.6 158.6 L482.1 159.9 L480.9 160.7 L479.3 161.2 L477.8 161.8 L476.8 162.7 L476.5 164.1 M482.1 150.3 L480.8 151.1 L480 152.1 L479.7 153.5 L479.7 155.1 L479.8 156.7 L479.3 158 L478.1 158.8 L476.5 159.3 L475 159.8 L474 160.8 L473.7 162.2 M478.3 147.4 L476.9 147.9 L476 148.7 L475.6 150.1 L475.5 151.6 L475.3 153.2 L474.6 154.2 L473.3 154.8 L471.7 155.1 L470.1 155.3 L469 156.1 L468.7 157.5 M475.7 145.1 L474.4 145.7 L473.4 146.5 L473 147.8 L472.9 149.4 L472.7 150.9 L472 152 L470.8 152.6 L469.1 152.8 L467.5 153.1 L466.4 153.9 L466.1 155.2 M472 141.3 L470.7 141.9 L469.9 143 L469.5 144.5 L469 146 L468.3 147.1 L467 147.7 L465.3 147.8 L463.5 147.8 L462.2 148.2 L461.4 149.3 L461.1 151 M469.7 138.8 L468.4 139.4 L467.6 140.5 L467.2 142 L466.8 143.5 L466 144.6 L464.7 145.2 L463 145.3 L461.3 145.3 L459.9 145.7 L459.1 146.8 L458.8 148.5 M467.3 135.7 L465.7 135.8 L464.3 136.2 L463.3 137.2 L462.7 138.6 L462 140.1 L461.1 141.2 L459.8 141.7 L458 141.6 L456.2 141.3 L454.7 141.6 L453.7 142.6 M465.3 132.9 L463.7 133 L462.4 133.4 L461.4 134.4 L460.7 135.8 L460.1 137.3 L459.2 138.4 L457.8 138.9 L456.1 138.8 L454.3 138.6 L452.8 138.8 L451.8 139.8 M462.8 128.6 L461.3 128.8 L460.2 129.5 L459.4 130.7 L458.6 132.2 L457.8 133.4 L456.5 134 L455 133.9 L453.3 133.6 L451.7 133.5 L450.5 134.1 L449.8 135.5 M461.2 125.6 L459.8 125.8 L458.6 126.5 L457.8 127.7 L457 129.2 L456.2 130.4 L455 131 L453.4 130.9 L451.7 130.5 L450.1 130.4 L448.9 131.1 L448.2 132.5 M459.4 121.5 L458 121.6 L456.7 122.3 L455.7 123.5 L454.8 125 L453.7 126.3 L452.4 126.8 L450.9 126.7 L449.2 126.2 L447.7 126 L446.4 126.6 L445.4 128 M458.3 118.3 L456.8 118.4 L455.6 119.1 L454.5 120.3 L453.6 121.8 L452.6 123.1 L451.3 123.7 L449.7 123.5 L448.1 123 L446.5 122.8 L445.2 123.4 L444.2 124.8 M457 113.8 L455.4 113.2 L454 113 L452.7 113.4 L451.5 114.4 L450.3 115.5 L449.1 116.2 L447.6 116.1 L446 115.4 L444.4 114.4 L442.9 113.9 L441.6 114.3 M456.2 110.5 L454.7 109.9 L453.2 109.7 L451.9 110.1 L450.7 111.1 L449.6 112.2 L448.3 112.9 L446.9 112.8 L445.3 112 L443.7 111.1 L442.1 110.6 L440.8 111 M457.8 81.5 L456.8 80.4 L455.6 79.9 L454.1 80 L452.6 80.5 L451.1 80.7 L449.8 80.4 L448.8 79.2 L447.9 77.7 L447 76.3 L445.8 75.7 L444.3 75.9 M458.9 78.3 L457.8 77.2 L456.6 76.7 L455.2 76.8 L453.6 77.2 L452.2 77.5 L450.9 77.1 L449.9 76 L449 74.5 L448 73.1 L446.8 72.4 L445.4 72.6 M460.4 74.6 L459.5 73.4 L458.4 72.6 L457.1 72.5 L455.5 72.8 L453.9 73.2 L452.5 73.1 L451.4 72.3 L450.6 70.9 L449.9 69.4 L448.9 68.5 L447.6 68.3 M461.9 71.5 L461 70.3 L459.9 69.6 L458.5 69.4 L456.9 69.7 L455.3 70.1 L453.9 70.1 L452.9 69.2 L452.1 67.9 L451.4 66.4 L450.4 65.4 L449 65.2 M464.4 67 L463.5 65.9 L462.4 65.3 L460.9 65.2 L459.2 65.4 L457.7 65.4 L456.5 64.8 L455.8 63.5 L455.2 61.9 L454.6 60.5 L453.5 59.8 L451.9 59.8 M466.2 64.2 L465.4 63.1 L464.2 62.4 L462.7 62.4 L461.1 62.5 L459.5 62.5 L458.4 61.9 L457.6 60.6 L457.1 59.1 L456.4 57.7 L455.3 56.9 L453.8 57 M469.1 60.3 L468.3 59.1 L467.1 58.3 L465.5 58 L463.8 57.9 L462.2 57.6 L461.2 56.6 L460.6 55.2 L460.2 53.4 L459.6 52 L458.4 51.1 L456.7 51 M471.3 57.7 L470.5 56.5 L469.3 55.7 L467.7 55.4 L466 55.3 L464.4 54.9 L463.4 54 L462.8 52.6 L462.4 50.8 L461.8 49.4 L460.6 48.5 L458.9 48.4 M474.9 54.1 L474.4 52.7 L473.5 51.7 L472.2 51.2 L470.6 50.8 L469.3 50.2 L468.6 49.1 L468.4 47.5 L468.4 45.7 L468.1 44.1 L467.3 43.1 L465.8 42.7 M477.3 51.8 L476.9 50.4 L476 49.4 L474.6 48.9 L473.1 48.5 L471.8 47.9 L471.1 46.8 L470.9 45.2 L470.9 43.4 L470.6 41.8 L469.8 40.8 L468.3 40.3 M480.5 49.2 L480.2 47.9 L479.3 46.9 L478 46.3 L476.3 45.9 L474.9 45.3 L474 44.3 L473.8 42.9 L473.9 41.2 L473.8 39.7 L473 38.7 L471.5 38.1 M483.3 47.2 L482.9 45.9 L482.1 44.9 L480.7 44.3 L479.1 43.9 L477.7 43.3 L476.8 42.3 L476.6 40.9 L476.6 39.2 L476.5 37.7 L475.8 36.6 L474.3 36.1 M486.8 45 L486.8 43.4 L486.5 42 L485.7 41 L484.3 40.3 L482.7 39.6 L481.5 38.8 L481 37.5 L481.1 35.9 L481.4 34.2 L481.4 32.7 L480.6 31.7 M489.8 43.3 L489.8 41.7 L489.5 40.4 L488.6 39.3 L487.2 38.6 L485.7 37.9 L484.5 37.1 L484 35.9 L484.1 34.3 L484.4 32.5 L484.3 31 L483.5 30 M494 41.2 L494.2 39.7 L493.9 38.3 L493.1 37.3 L491.7 36.5 L490.2 35.6 L489.3 34.6 L489 33.3 L489.4 31.7 L489.9 30.1 L489.8 28.7 L488.9 27.6 M497.2 39.8 L497.3 38.3 L497.1 37 L496.2 36 L494.8 35.1 L493.4 34.3 L492.4 33.3 L492.1 32 L492.5 30.4 L493 28.8 L493 27.4 L492.1 26.3 M502.6 37.9 L502.8 36.5 L502.4 35.3 L501.4 34.3 L500.3 33.3 L499.5 32.2 L499.5 30.9 L500.1 29.4 L500.9 27.8 L501.4 26.3 L501.1 25.1 L499.9 24.1 M505.8 37 L506.1 35.6 L505.7 34.4 L504.7 33.3 L503.6 32.3 L502.8 31.2 L502.7 29.9 L503.3 28.4 L504.2 26.8 L504.7 25.3 L504.3 24.1 L503.2 23.1 M509.7 36.1 L510.1 34.7 L509.9 33.3 L509.1 32.1 L507.9 31 L506.9 29.8 L506.5 28.5 L506.9 27 L507.7 25.5 L508.4 24 L508.4 22.6 L507.4 21.4 M513.1 35.5 L513.5 34.1 L513.3 32.7 L512.5 31.5 L511.2 30.3 L510.2 29.2 L509.8 27.9 L510.2 26.4 L511 24.9 L511.7 23.4 L511.7 22 L510.8 20.8 M518.1 34.9 L518.4 33.5 L518.1 32.2 L517.2 30.8 L516.2 29.5 L515.6 28.2 L515.7 26.8 L516.6 25.3 L517.6 23.8 L518.2 22.4 L517.9 21 L516.8 19.7 M521.5 34.7 L521.8 33.3 L521.5 31.9 L520.6 30.6 L519.6 29.3 L519 27.9 L519.1 26.5 L519.9 25.1 L521 23.6 L521.6 22.2 L521.3 20.8 L520.2 19.5 M526 34.7 L526.8 33.4 L527 32 L526.6 30.6 L525.8 29.2 L525.2 27.8 L525.2 26.4 L526 25.1 L527.3 23.8 L528.5 22.4 L528.9 21.1 L528.3 19.7 M529.4 34.8 L530.2 33.5 L530.4 32.1 L530 30.7 L529.2 29.3 L528.6 27.9 L528.6 26.6 L529.4 25.2 L530.7 23.9 L531.9 22.6 L532.3 21.2 L531.7 19.8 M534 35.3 L535 34.1 L535.5 32.8 L535.3 31.4 L534.7 29.9 L534.3 28.4 L534.4 27.1 L535.3 25.8 L536.7 24.6 L538.1 23.4 L538.8 22.2 L538.5 20.7 M537.3 35.8 L538.4 34.6 L538.9 33.3 L538.7 31.9 L538.1 30.4 L537.6 28.9 L537.7 27.6 L538.7 26.3 L540.1 25.1 L541.5 23.9 L542.1 22.7 L541.9 21.2 M541.4 36.7 L542.3 35.6 L542.6 34.4 L542.3 33 L541.6 31.4 L541.1 30 L541.2 28.7 L542.1 27.5 L543.4 26.6 L544.6 25.5 L545.1 24.3 L544.7 22.9 M544.7 37.6 L545.6 36.5 L545.9 35.2 L545.6 33.8 L544.9 32.3 L544.4 30.8 L544.5 29.5 L545.4 28.4 L546.7 27.4 L547.9 26.4 L548.4 25.2 L548 23.7 M549.8 39.3 L550.9 38.3 L551.4 37 L551.4 35.5 L551.1 34 L551.2 32.5 L551.9 31.3 L553.3 30.4 L555 29.6 L556.3 28.7 L556.9 27.4 L556.7 25.9 M553 40.5 L554.1 39.5 L554.6 38.2 L554.6 36.7 L554.3 35.2 L554.3 33.7 L555.1 32.5 L556.5 31.6 L558.2 30.8 L559.5 29.9 L560.1 28.6 L559.9 27.1 M556.8 42.3 L557.7 41.3 L558 40 L557.8 38.5 L557.4 36.8 L557.5 35.4 L558.2 34.3 L559.6 33.6 L561.1 32.9 L562.2 32 L562.5 30.7 L562.1 29 M559.8 43.9 L560.7 42.9 L561 41.6 L560.8 40 L560.5 38.4 L560.5 37 L561.2 35.9 L562.6 35.1 L564.1 34.5 L565.2 33.6 L565.5 32.3 L565.1 30.6 M563.6 46.2 L565 45.6 L566 44.8 L566.4 43.5 L566.5 42 L566.5 40.4 L566.9 39.2 L568.1 38.4 L569.7 38 L571.4 37.5 L572.6 36.8 L573 35.5 M566.4 48.1 L567.8 47.5 L568.8 46.7 L569.3 45.4 L569.3 43.9 L569.3 42.3 L569.7 41.1 L570.9 40.3 L572.5 39.9 L574.2 39.5 L575.4 38.7 L575.8 37.4 M570.3 51.2 L571.4 50.3 L572.1 49.1 L572.4 47.4 L572.5 45.7 L573 44.2 L574 43.3 L575.6 42.8 L577.3 42.4 L578.6 41.7 L579.3 40.4 L579.4 38.7 M572.9 53.4 L574 52.6 L574.7 51.3 L574.9 49.6 L575.1 47.9 L575.5 46.5 L576.6 45.5 L578.1 45 L579.8 44.6 L581.2 43.9 L581.9 42.7 L581.9 40.9 M576.2 56.8 L577.4 56.2 L578.2 55.1 L578.6 53.6 L579 52.1 L579.6 50.8 L580.7 50.1 L582.3 49.9 L584 49.8 L585.4 49.4 L586.1 48.3 L586.4 46.7 M578.5 59.3 L579.7 58.7 L580.5 57.7 L580.9 56.2 L581.2 54.6 L581.8 53.3 L583 52.6 L584.6 52.4 L586.2 52.3 L587.6 51.9 L588.4 50.8 L588.7 49.2 M581.2 62.8 L582.4 62.3 L583.3 61.4 L583.8 60 L584.3 58.3 L584.9 57 L585.9 56.3 L587.4 56.1 L589 56.2 L590.4 56 L591.3 55.1 L591.7 53.6 M583.1 65.6 L584.4 65.1 L585.2 64.2 L585.8 62.7 L586.2 61.1 L586.8 59.8 L587.8 59.1 L589.3 58.9 L590.9 59 L592.3 58.8 L593.3 57.9 L593.7 56.3 M585.6 69.8 L587 69.6 L588 68.7 L588.8 67.4 L589.4 65.9 L590.3 64.7 L591.6 64.3 L593.1 64.5 L594.8 64.8 L596.2 64.8 L597.3 63.9 L597.9 62.4 M587.2 72.8 L588.6 72.6 L589.6 71.7 L590.3 70.4 L591 68.9 L591.9 67.8 L593.1 67.3 L594.7 67.5 L596.4 67.8 L597.8 67.8 L598.8 66.9 L599.5 65.4 M588.9 76.7 L590.3 76.6 L591.5 76 L592.5 74.8 L593.4 73.2 L594.4 71.9 L595.6 71.3 L597.1 71.3 L598.7 71.8 L600.2 72 L601.5 71.5 L602.5 70.1 M590.1 79.9 L591.5 79.8 L592.7 79.2 L593.7 78 L594.6 76.4 L595.6 75.1 L596.8 74.4 L598.3 74.5 L599.9 75 L601.4 75.2 L602.7 74.6 L603.6 73.3 M591.4 84.5 L592.9 84.9 L594.2 84.8 L595.4 84.1 L596.5 82.9 L597.6 81.7 L598.8 81.1 L600.2 81.3 L601.7 82.1 L603.3 82.8 L604.6 82.9 L605.8 82.1 M592.2 87.8 L593.6 88.2 L594.9 88.1 L596.1 87.4 L597.2 86.2 L598.3 85 L599.5 84.4 L600.9 84.6 L602.5 85.4 L604 86.1 L605.4 86.2 L606.6 85.4 M592.9 92.7 L594.3 93.5 L595.7 93.8 L597 93.5 L598.3 92.6 L599.6 91.7 L600.9 91.3 L602.3 91.7 L603.7 92.8 L605.2 93.9 L606.6 94.5 L607.9 94.1 M593.2 96.1 L594.6 96.9 L596 97.2 L597.3 96.9 L598.6 96 L599.8 95.1 L601.2 94.7 L602.6 95.1 L604 96.2 L605.5 97.3 L606.9 97.9 L608.2 97.5" fill="none" stroke="#222" stroke-width="1.05" stroke-linecap="round" stroke-linejoin="round"/>
<g fill="#0000F0" stroke="#00004a" stroke-width="0.7"><circle cx="261.4" cy="116" r="4"/><circle cx="258.8" cy="123.3" r="4"/><circle cx="255.2" cy="130.1" r="4"/><circle cx="250.8" cy="136.4" r="4"/><circle cx="245.7" cy="142.1" r="4"/><circle cx="239.9" cy="147.2" r="4"/><circle cx="233.5" cy="151.5" r="4"/><circle cx="226.7" cy="155.1" r="4"/><circle cx="219.5" cy="157.9" r="4"/><circle cx="212.1" cy="159.9" r="4"/><circle cx="204.4" cy="161" r="4"/><circle cx="196.7" cy="161.3" r="4"/><circle cx="189.1" cy="160.7" r="4"/><circle cx="181.5" cy="159.4" r="4"/><circle cx="174.1" cy="157.1" r="4"/><circle cx="167" cy="154.1" r="4"/><circle cx="160.3" cy="150.3" r="4"/><circle cx="154.1" cy="145.8" r="4"/><circle cx="148.5" cy="140.5" r="4"/><circle cx="143.6" cy="134.6" r="4"/><circle cx="139.4" cy="128.1" r="4"/><circle cx="136.1" cy="121.1" r="4"/><circle cx="133.8" cy="113.8" r="4"/><circle cx="132.4" cy="106.2" r="4"/><circle cx="132" cy="98.5" r="4"/><circle cx="132.7" cy="90.9" r="4"/><circle cx="134.4" cy="83.4" r="4"/><circle cx="137" cy="76.1" r="4"/><circle cx="140.6" cy="69.3" r="4"/><circle cx="145" cy="63" r="4"/><circle cx="150.1" cy="57.3" r="4"/><circle cx="155.9" cy="52.2" r="4"/><circle cx="162.3" cy="47.9" r="4"/><circle cx="169.1" cy="44.3" r="4"/><circle cx="176.3" cy="41.5" r="4"/><circle cx="183.7" cy="39.5" r="4"/><circle cx="191.4" cy="38.4" r="4"/><circle cx="199.1" cy="38.1" r="4"/><circle cx="206.7" cy="38.7" r="4"/><circle cx="214.3" cy="40" r="4"/><circle cx="221.7" cy="42.3" r="4"/><circle cx="228.8" cy="45.3" r="4"/><circle cx="235.5" cy="49.1" r="4"/><circle cx="241.7" cy="53.6" r="4"/><circle cx="247.3" cy="58.9" r="4"/><circle cx="252.2" cy="64.8" r="4"/><circle cx="256.4" cy="71.3" r="4"/><circle cx="259.7" cy="78.3" r="4"/><circle cx="421.5" cy="112.4" r="4"/><circle cx="419.4" cy="119.8" r="4"/><circle cx="416.4" cy="126.9" r="4"/><circle cx="412.4" cy="133.5" r="4"/><circle cx="407.7" cy="139.6" r="4"/><circle cx="402.2" cy="145" r="4"/><circle cx="396.1" cy="149.7" r="4"/><circle cx="389.5" cy="153.7" r="4"/><circle cx="382.5" cy="157" r="4"/><circle cx="375.2" cy="159.4" r="4"/><circle cx="367.6" cy="161" r="4"/><circle cx="360" cy="161.8" r="4"/><circle cx="352.3" cy="161.8" r="4"/><circle cx="344.6" cy="160.9" r="4"/><circle cx="337.1" cy="159.2" r="4"/><circle cx="329.8" cy="156.7" r="4"/><circle cx="322.8" cy="153.4" r="4"/><circle cx="316.3" cy="149.3" r="4"/><circle cx="310.2" cy="144.5" r="4"/><circle cx="304.8" cy="139" r="4"/><circle cx="300.1" cy="132.9" r="4"/><circle cx="296.3" cy="126.2" r="4"/><circle cx="293.3" cy="119.1" r="4"/><circle cx="291.3" cy="111.6" r="4"/><circle cx="293.6" cy="81.2" r="4"/><circle cx="296.6" cy="74.1" r="4"/><circle cx="300.6" cy="67.5" r="4"/><circle cx="305.3" cy="61.4" r="4"/><circle cx="310.8" cy="56" r="4"/><circle cx="316.9" cy="51.3" r="4"/><circle cx="323.5" cy="47.3" r="4"/><circle cx="330.5" cy="44" r="4"/><circle cx="337.8" cy="41.6" r="4"/><circle cx="345.4" cy="40" r="4"/><circle cx="353" cy="39.2" r="4"/><circle cx="360.7" cy="39.2" r="4"/><circle cx="368.4" cy="40.1" r="4"/><circle cx="375.9" cy="41.8" r="4"/><circle cx="383.2" cy="44.3" r="4"/><circle cx="390.2" cy="47.6" r="4"/><circle cx="396.7" cy="51.7" r="4"/><circle cx="402.8" cy="56.5" r="4"/><circle cx="408.2" cy="62" r="4"/><circle cx="412.9" cy="68.1" r="4"/><circle cx="416.7" cy="74.8" r="4"/><circle cx="419.7" cy="81.9" r="4"/><circle cx="590.1" cy="101.9" r="4"/><circle cx="589.3" cy="109.5" r="4"/><circle cx="587.4" cy="117" r="4"/><circle cx="584.5" cy="124.2" r="4"/><circle cx="580.8" cy="130.9" r="4"/><circle cx="576.2" cy="137.1" r="4"/><circle cx="570.9" cy="142.7" r="4"/><circle cx="565" cy="147.6" r="4"/><circle cx="558.5" cy="151.7" r="4"/><circle cx="551.6" cy="155.2" r="4"/><circle cx="544.3" cy="157.8" r="4"/><circle cx="536.8" cy="159.6" r="4"/><circle cx="529.2" cy="160.5" r="4"/><circle cx="521.5" cy="160.6" r="4"/><circle cx="513.8" cy="159.9" r="4"/><circle cx="506.3" cy="158.4" r="4"/><circle cx="499" cy="156" r="4"/><circle cx="491.9" cy="152.9" r="4"/><circle cx="485.3" cy="148.9" r="4"/><circle cx="479.2" cy="144.2" r="4"/><circle cx="473.7" cy="138.8" r="4"/><circle cx="468.9" cy="132.8" r="4"/><circle cx="464.9" cy="126.2" r="4"/><circle cx="461.8" cy="119.2" r="4"/><circle cx="459.6" cy="111.8" r="4"/><circle cx="461" cy="81.4" r="4"/><circle cx="463.9" cy="74.2" r="4"/><circle cx="467.6" cy="67.5" r="4"/><circle cx="472.2" cy="61.3" r="4"/><circle cx="477.5" cy="55.7" r="4"/><circle cx="483.4" cy="50.8" r="4"/><circle cx="489.9" cy="46.7" r="4"/><circle cx="496.8" cy="43.2" r="4"/><circle cx="504.1" cy="40.6" r="4"/><circle cx="511.6" cy="38.8" r="4"/><circle cx="519.2" cy="37.9" r="4"/><circle cx="526.9" cy="37.8" r="4"/><circle cx="534.6" cy="38.5" r="4"/><circle cx="542.1" cy="40" r="4"/><circle cx="549.4" cy="42.4" r="4"/><circle cx="556.5" cy="45.5" r="4"/><circle cx="563.1" cy="49.5" r="4"/><circle cx="569.2" cy="54.2" r="4"/><circle cx="574.7" cy="59.6" r="4"/><circle cx="579.5" cy="65.6" r="4"/><circle cx="583.5" cy="72.2" r="4"/><circle cx="586.6" cy="79.2" r="4"/><circle cx="588.8" cy="86.6" r="4"/><circle cx="590" cy="94.2" r="4"/></g>
<ellipse cx="274.5" cy="87.8" rx="24.9" ry="6" fill="#1561A9" stroke="#0b2f55" stroke-width="0.7"/>
<ellipse cx="274.5" cy="107" rx="24.9" ry="6" fill="#1561A9" stroke="#0b2f55" stroke-width="0.7"/>
<rect x="426" y="90" width="32.8" height="12" fill="#FF7878"/>
<ellipse cx="442.7" cy="86.7" rx="24.9" ry="6" fill="#1561A9" stroke="#0b2f55" stroke-width="0.7"/>
<ellipse cx="442.7" cy="106" rx="24.9" ry="6" fill="#1561A9" stroke="#0b2f55" stroke-width="0.7"/>
<path d="M260 97.3 L312.8 96.3" stroke="#000" stroke-width="2.6" fill="none"/>
<path d="M427.7 96.1 L481 95.4" stroke="#000" stroke-width="2.8" fill="none"/>
<circle cx="191.5" cy="56.5" r="10" fill="#7A9BEC" stroke="#2a2a44" stroke-width="0.8"/>
<path d="M191.2 0 V57.5" stroke="#000" stroke-width="3"/>
<circle cx="526.6" cy="55.8" r="10" fill="#7A9BEC" stroke="#2a2a44" stroke-width="0.8"/>
<path d="M526.3 0 V56.8" stroke="#000" stroke-width="3"/>
<g font-family="'Liberation Sans', Arial, Helvetica, sans-serif" font-size="25.5" fill="#000">
<text x="151.2" y="109.8">MTSET</text>
<text x="329.4" y="89.5">MscL</text>
<text x="313.2" y="119.4">Vesicles</text>
<text x="492" y="89.5">MscL</text>
<text x="476.2" y="119.4">Vesicles</text>
</g>
</g>
<g id="circuit" fill="none" stroke="#000" stroke-linejoin="miter" stroke-linecap="butt">
<circle cx="12" cy="301" r="9" stroke-width="3.4" fill="#fff"/>
<circle cx="686" cy="301" r="9" stroke-width="3.4" fill="#fff"/>
<path d="M21.5 301 H47" stroke-width="3.2"/>
<path d="M649 301 H676.5" stroke-width="3.2"/>
<path d="M147 260.6 H47.2 V342.8 H97 L106 327.6 L123.2 357.6 L140.3 327.6 L156.8 357.6 L174 327.6 L191 357.6 L199.6 342.8 H248.3 V260.6 H160" stroke-width="3.6"/>
<path d="M149 226.4 V295 M158.2 226.4 V295" stroke-width="4"/>
<path d="M246 301.2 H295.3 L304 285.8 L320.4 316.6 L337.6 285.8 L354.5 316.6 L371.2 285.8 L388.6 316.6 L398 301.2 H448" stroke-width="3"/>
<path d="M547.5 260.6 H448.6 V342.6 H498.8 L507 327.6 L524.4 357.6 L541.2 327.6 L558 357.6 L575 327.6 L592.6 357.6 L601 342.6 H649.2 V260.6 H560.8" stroke-width="3.6"/>
<path d="M549.6 226.4 V295 M559 226.4 V295" stroke-width="4"/>
</g>
<g font-family="'Liberation Sans', Arial, Helvetica, sans-serif" font-weight="bold" fill="#000">
<text x="174" y="245.3" font-size="32">C<tspan font-size="20.5" dy="6">m</tspan></text>
<text x="574.6" y="245.3" font-size="32">C<tspan font-size="20.5" dy="6">m</tspan></text>
<text x="121.6" y="390.8" font-size="32">G<tspan font-size="20.5" dy="6">MscL</tspan></text>
<text x="508.6" y="390.8" font-size="32">G<tspan font-size="20.5" dy="6">MscL</tspan></text>
<text x="309.6" y="349.6" font-size="32">G<tspan font-size="20.5" dy="6">Diff</tspan></text>
</g>
<g id="long">
<path d="M1198 39.5 V293" stroke="#aaa" stroke-width="1.6"/>
<path d="M1101.3 268 V293 M1107.6 268 V293" stroke="#444" stroke-width="0.9"/>
<path d="M1182.5 252 V280 M1191 254 V282" stroke="#bbb" stroke-width="0.8"/>
<path d="M771.4 262.4 L771.9 262.4 L772.4 261.8 L772.9 261.6 L773.4 261.7 L773.9 262.2 L774.4 261.1 L774.9 262.1 L775.4 261.1 L775.9 261.8 L776.4 262.3 L776.9 262.1 L777.4 262.3 L777.9 262 L778.4 262.1 L778.9 262 L779.4 262.3 L779.9 262 L780.4 262.2 L780.9 262.1 L781.4 261.9 L781.9 262.2 L782.4 262.5 L782.9 260.8 L783.4 262.5 L783.9 262.1 L784.4 261.3 L784.9 262 L785.4 261.3 L785.9 262.5 L786.4 262 L786.9 262.2 L787.4 261.7 L787.9 261.4 L788.4 261.3 L788.9 261.3 L789.4 260.9 L789.9 262.3 L790.4 261.6 L790.9 261.6 L791.4 262.4 L791.9 261.2 L792.4 262.1 L792.9 261.2 L793.4 261.7 L793.9 260.8 L794.4 261.8 L794.9 262.4 L795.4 261.4 L795.9 262.1 L796.4 262.3 L796.9 262.5 L797.4 262 L797.9 261.6 L798.4 261.8 L798.9 261.3 L799.4 261.3 L799.9 262.4 L800.4 261.3 L800.9 261.4 L801.4 261.9 L801.9 261.6 L802.4 262.3 L802.9 262.4 L803.4 262.4 L803.9 262.1 L804.4 261.9 L804.9 260.8 L805.4 262.2 L805.9 262.6 L806.4 262.3 L806.9 260.9 L807.4 261.6 L807.9 262.2 L808.4 262.2 L808.9 262.3 L809.4 260.4 L809.9 262.1 L810.4 262.4 L810.9 260.1 L811.4 261.7 L811.9 262.5 L812.4 261.8 L812.9 261 L813.4 262.3 L813.9 261.6 L814.4 261.6 L814.9 262 L815.4 262.4 L815.9 262.4 L816.4 261.9 L816.9 262.5 L817.4 261.6 L817.9 260.1 L818.4 261.7 L818.9 262.4 L819.4 262.4 L819.9 261.2 L820.4 262 L820.9 261.6 L821.4 261.4 L821.9 261.2 L822.4 262.6 L822.9 261.9 L823.4 261.8 L823.9 261.7 L824.4 260.8 L824.9 262.5 L825.4 262.2 L825.9 261.2 L826.4 261.5 L826.9 261.3 L827.4 261.9 L827.9 262.5 L828.4 261.3 L828.9 260.5 L829.4 260.9 L829.9 262.3 L830.4 262.5 L830.9 262.5 L831.4 262.5 L831.9 261.2 L832.4 262 L832.9 260.9 L833.4 260.8 L833.9 261.4 L834.4 262.4 L834.9 262 L835.4 260.9 L835.9 262.1 L836.4 262.4 L836.9 262.1 L837.4 261.1 L837.9 261.6 L838.4 262.5 L838.9 262.4 L839.4 261.1 L839.9 261.7 L840.4 261.7 L840.9 261.2 L841.4 261.5 L841.9 260.4 L842.4 262 L842.9 261.9 L843.4 260.5 L843.9 262.3 L844.4 261.8 L844.9 261.9 L845.4 261.3 L845.9 262.1 L846.4 261.7 L846.9 262.3 L847.4 260.8 L847.9 262.1 L848.4 261.7 L848.9 260.8 L849.4 262 L849.9 261.7 L850.4 262.3 L850.9 262.5 L851.4 261.6 L851.9 261.7 L852.4 261.8 L852.9 260.1 L853.4 262 L853.9 262 L854.4 261 L854.9 262.5 L855.4 260.8 L855.9 262.2 L856.4 261.3 L856.9 261.3 L857.4 262.3 L857.9 262.2 L858.4 260.6 L858.9 261.5 L859.4 261 L859.9 260.9 L860.4 261.8 L860.9 260.6 L861.4 262.5 L861.9 261.9 L862.4 262.1 L862.9 262 L863.4 262.2 L863.9 262.5 L864.4 262 L864.9 262.4 L865.4 262.5 L865.9 262.4 L866.4 262.2 L866.9 262.1 L867.4 262.1 L867.9 260.8 L868.4 261.7 L868.9 261.6 L869.4 261.6 L869.9 262.2 L870.4 261.8 L870.9 262.1 L871.4 261.2 L871.9 262.5 L872.4 261 L872.9 261.6 L873.4 262.4 L873.9 262.3 L874.4 262 L874.9 262.3 L875.4 261.4 L875.9 262.4 L876.4 262.2 L876.9 261.6 L877.4 261.5 L877.9 262.2 L878.4 261.8 L878.9 261.8 L879.4 262.3 L879.9 262.3 L880.4 261.6 L880.9 262.5 L881.4 262.1 L881.9 261.9 L882.4 262 L882.9 262.3 L883.4 260.9 L883.9 261.5 L884.4 262.4 L884.9 261.8 L885.4 260.8 L885.9 262 L886.4 260.9 L886.9 262 L887.4 262.5 L887.9 261.9 L888.4 261.2 L888.9 261.3 L889.4 261.6 L889.9 262.4 L890.4 262.1 L890.9 261.4 L891.4 262.3 L891.9 262.5 L892.4 261.9 L892.9 262.4 L893.4 262.4 L893.9 261.6 L894.4 261.2 L894.9 262.4 L895.4 262.3 L895.9 262.1 L896.4 262.5 L896.9 262.4 L897.4 261.8 L897.9 261.9 L898.4 262.2 L898.9 261.5 L899.4 262.1 L899.9 262 L900.4 260.4 L900.9 261.5 L901.4 261.5 L901.9 261.8 L902.4 262 L902.9 262.2 L903.4 261.8 L903.9 262 L904.4 262 L904.9 261.4 L905.4 262.3 L905.9 262.3 L906.4 261.5 L906.9 261.8 L907.4 262 L907.9 261.8 L908.4 261 L908.9 262.3 L909.4 261.2 L909.9 261.9 L910.4 261.9 L910.9 261.3 L911.4 261.9 L911.9 262.5 L912.4 261.1 L912.9 262 L913.4 262.4 L913.9 261.8 L914.4 260.7 L914.9 261 L915.4 260.9 L915.9 261.1 L916.4 262.1 L916.9 262 L917.4 262 L917.9 262 L918.4 261.6 L918.9 261.1 L919.4 261.5 L919.9 261.2 L920.4 261.4 L920.9 260.9 L921.4 261.5 L921.9 261.2 L922.4 261.1 L922.9 259.2 L923.4 261.2 L923.9 261.6 L924.4 261.5 L924.9 261.6 L925.4 260 L925.9 261.7 L926.4 260.8 L926.9 261.1 L927.4 261 L927.9 261.2 L928.4 260.4 L928.9 261.3 L929.4 261.6 L929.9 260.9 L930.4 260 L930.9 261.6 L931.4 260.3 L931.9 260.9 L932.4 261.7 L932.9 260.1 L933.4 260.9 L933.9 261 L934.4 261.3 L934.9 260.3 L935.4 260.3 L935.9 260.8 L936.4 260.6 L936.9 260.2 L937.4 261.5 L937.9 261.2 L938.4 261.2 L938.9 260.8 L939.4 261.4 L939.9 260.5 L940.4 261.2 L940.9 261.6 L941.4 261.4 L941.9 260.4 L942.4 260.9 L942.9 261.6 L943.4 260.3 L943.9 261.6 L944.4 260.3 L944.9 261.1 L945.4 260.7 L945.9 261.6 L946.4 261.2 L946.9 261.4 L947.4 261.2 L947.9 261.1 L948.4 260.9 L948.9 261.4 L949.4 261.4 L949.9 261.1 L950.4 261.1 L950.9 261.5 L951.4 260.6 L951.9 261.1 L952.4 261.1 L952.9 261.5 L953.4 260.8 L953.9 260.2 L954.4 261.3 L954.9 260.9 L955.4 260.8 L955.9 261.7 L956.4 261.2 L956.9 261.1 L957.4 261.6 L957.9 261.5 L958.4 261.2 L958.9 261.1 L959.4 260.6 L959.9 261.2 L960.4 260.7 L960.9 260.2 L961.4 261.4 L961.9 261.5 L962.4 260.3 L962.9 261.6 L963.4 261.3 L963.9 261 L964.4 261.6 L964.9 261.3 L965.4 260.4 L965.9 261.5 L966.4 261.4 L966.9 260.1 L967.4 260.5 L967.9 261.5 L968.4 261.5 L968.9 259.5 L969.4 261.1 L969.9 260.7 L970.4 261.1 L970.9 261.2 L971.4 261 L971.9 261 L972.4 261.3 L972.9 261.6 L973.4 261.2 L973.9 261.6 L974.4 260.5 L974.9 260.5 L975.4 259.7 L975.9 261.6 L976.4 260.8 L976.9 261.4 L977.4 261.5 L977.9 260.7 L978.4 261.6 L978.9 261.4 L979.4 261.2 L979.9 260.8 L980.4 261.6 L980.9 261.6 L981.4 260.6 L981.9 260.9 L982.4 259.4 L982.9 261 L983.4 261.2 L983.9 261.2 L984.4 260 L984.9 260.6 L985.4 260.9 L985.9 261.2 L986.4 260.5 L986.9 260.8 L987.4 261 L987.9 261.5 L988.4 261.2 L988.9 260.6 L989.4 261.5 L989.9 261.2 L990.4 261.6 L990.9 261.3 L991.4 260.8 L991.9 261.4 L992.4 261.4 L992.9 261.3 L993.4 261.2 L993.9 260.7 L994.4 261.4 L994.9 260.9 L995.4 261 L995.9 260.8 L996.4 261.2 L996.9 261 L997.4 259.6 L997.9 261.2 L998.4 261.5 L998.9 259.7 L999.4 260.1 L999.9 260.1 L1000.4 261.1 L1000.9 260.5 L1001.4 260.4 L1001.9 260.5 L1002.4 260.9 L1002.9 261.2 L1003.4 259.6 L1003.9 260.8 L1004.4 260.8 L1004.9 261.5 L1005.4 259.3 L1005.9 261.3 L1006.4 260.8 L1006.9 260.6 L1007.4 261.4 L1007.9 261.5 L1008.4 260.2 L1008.9 261.3 L1009.4 261.4 L1009.9 260.7 L1010.4 261.1 L1010.9 261.3 L1011.4 260.5 L1011.9 261.6 L1012.4 261.4 L1012.9 260.7 L1013.4 261.1 L1013.9 260.6 L1014.4 260.4 L1014.9 260.7 L1015.4 260.4 L1015.9 260.9 L1016.4 261.5 L1016.9 261 L1017.4 261.2 L1017.9 260.9 L1018.4 260.8 L1018.9 261.3 L1019.4 261.3 L1019.9 261.4 L1020.4 261.3 L1020.9 260.7 L1021.4 261.1 L1021.9 259.7 L1022.4 261.4 L1022.9 260.7 L1023.4 259.3 L1023.9 261.1 L1024.4 261.1 L1024.9 260.8 L1025.4 261.6 L1025.9 261 L1026.4 261.4 L1026.9 259.6 L1027.4 261.4 L1027.9 260.8 L1028.4 261 L1028.9 260.5 L1029.4 260.8 L1029.9 260.8 L1030.4 260.7 L1030.9 261 L1031.4 260.8 L1031.9 259.9 L1032.4 259.3 L1032.9 261 L1033.4 261.4 L1033.9 260.4 L1034.4 260.6 L1034.9 261 L1035.4 261.6 L1035.9 261.3 L1036.4 259.9 L1036.9 260.4 L1037.4 261.6 L1037.9 261.1 L1038.4 260.9 L1038.9 259.7 L1039.4 261.1 L1039.9 261.5 L1040.4 260.7 L1040.9 260.9 L1041.4 261.4 L1041.9 261.1 L1042.4 260.8 L1042.9 260.2 L1043.4 261.5 L1043.9 260.5 L1044.4 260.5 L1044.9 261 L1045.4 260.3 L1045.9 260.8 L1046.4 261 L1046.9 260.2 L1047.4 261.5 L1047.9 260.5 L1048.4 261 L1048.9 260.1 L1049.4 260.4 L1049.9 261.1 L1050.4 261.2 L1050.9 260.3 L1051.4 261.3 L1051.9 261.3 L1052.4 259.8 L1052.9 261.3 L1053.4 259.8 L1053.9 261.5 L1054.4 261.5 L1054.9 261.5 L1055.4 261.5 L1055.9 260.8 L1056.4 261 L1056.9 261.4 L1057.4 260.6 L1057.9 261.3 L1058.4 261.4 L1058.9 260.9 L1059.4 261.4 L1059.9 261.5 L1060.4 261.5 L1060.9 261.5 L1061.4 261 L1061.9 261.4 L1062.4 260.6 L1062.9 260.3 L1063.4 259.9 L1063.9 261 L1064.4 260.2 L1064.9 260.8 L1065.4 261.2 L1065.9 259.8 L1066.4 261.4 L1066.9 259.9 L1067.4 261.3 L1067.9 261.3 L1068.4 261.1 L1068.9 261.1 L1069.4 260.4 L1069.9 260.4 L1070.4 260.7 L1070.9 259.9 L1071.4 259.7 L1071.9 261.1 L1072.4 261.3 L1072.9 260.6 L1073.4 260.4 L1073.9 261 L1074.4 261.2 L1074.9 261.5 L1075.4 261.1 L1075.9 260.8 L1076.4 261.2 L1076.9 261 L1077.4 260.5 L1077.9 260.8 L1078.4 260.6 L1078.9 260.1 L1079.4 260.7 L1079.9 260.9 L1080.4 261.3 L1080.9 261.3 L1081.4 260.9 L1081.9 261.3 L1082.4 260.5 L1082.9 259.9 L1083.4 261.1 L1083.9 260.5 L1084.4 261.4 L1084.9 261.4 L1085.4 261.2 L1085.9 260.5 L1086.4 260.1 L1086.9 261 L1087.4 260.9 L1087.9 260.8 L1088.4 261.2 L1088.9 261.4 L1089.4 261.3 L1089.9 260.6 L1090.4 260.2 L1090.9 261.4 L1091.4 260 L1091.9 261.5 L1092.4 261 L1092.9 260.5 L1093.4 260.7 L1093.9 261 L1094.4 261.3 L1094.9 260.8 L1095.4 261 L1095.9 261.2 L1096.4 261 L1096.9 261.2 L1097.4 261.5 L1097.9 261 L1098.4 261.2 L1098.9 260.1 L1099.4 259.7 L1099.9 260.8 L1100.4 259.9 L1100.9 261.4 L1101.4 261.1 L1101.9 261 L1102.4 261.3 L1102.9 260.2 L1103.4 261.1 L1103.9 260.8 L1104.4 260.7 L1104.9 260.3 L1105.4 260.7 L1105.9 260.2 L1106.4 260.9 L1106.9 261.2 L1107.4 261.3 L1107.9 260.7 L1108.4 260.9 L1108.9 261 L1109.4 260.7 L1109.9 261.2 L1110.4 261 L1110.9 260.6 L1111.4 260.8 L1111.9 260.5 L1112.4 261 L1112.9 261.3 L1113.4 259.1 L1113.9 260.4 L1114.4 260.7 L1114.9 260.5 L1115.4 260.5 L1115.9 260.1 L1116.4 260.2 L1116.9 261 L1117.4 259.6 L1117.9 261.1 L1118.4 260.3 L1118.9 259.6 L1119.4 261.3 L1119.9 261.3 L1120.4 260.5 L1120.9 260.3 L1121.4 261.1 L1121.9 261.2 L1122.4 260.5 L1122.9 261.2 L1123.4 261 L1123.9 260.4 L1124.4 261 L1124.9 260.3 L1125.4 261.1 L1125.9 260.7 L1126.4 260.8 L1126.9 260.7 L1127.4 261 L1127.9 261 L1128.4 261 L1128.9 261 L1129.4 261 L1129.9 260 L1130.4 261.3 L1130.9 261.1 L1131.4 260.3 L1131.9 261 L1132.4 259.9 L1132.9 259.9 L1133.4 260.2 L1133.9 260.4 L1134.4 261.4 L1134.9 259.3 L1135.4 261.1 L1135.9 261.1 L1136.4 261.3 L1136.9 261.2 L1137.4 260.1 L1137.9 260.5 L1138.4 260.2 L1138.9 260.5 L1139.4 261 L1139.9 261 L1140.4 260 L1140.9 259.7 L1141.4 260.8 L1141.9 261.4 L1142.4 261.1 L1142.9 261 L1143.4 260.4 L1143.9 259.7 L1144.4 259.7 L1144.9 260.3 L1145.4 260.6 L1145.9 260.8 L1146.4 261.1 L1146.9 260.6 L1147.4 260.2 L1147.9 260.6 L1148.4 260.2 L1148.9 260.4 L1149.4 261.3 L1149.9 261.2 L1150.4 260.5 L1150.9 260.8 L1151.4 259.9 L1151.9 261.2 L1152.4 260.4 L1152.9 261.1 L1153.4 261 L1153.9 260.7 L1154.4 259 L1154.9 260.5 L1155.4 261.1 L1155.9 261.1 L1156.4 260.4 L1156.9 260 L1157.4 260.6 L1157.9 260.7 L1158.4 260.9 L1158.9 260.3 L1159.4 260.6 L1159.9 260.4 L1160.4 260.5 L1160.9 261 L1161.4 261.2 L1161.9 260.9 L1162.4 261.4 L1162.9 261.3 L1163.4 261.1 L1163.9 260.9 L1164.4 260.7 L1164.9 260.8 L1165.4 261.1 L1165.9 261 L1166.4 260.1 L1166.9 260.3 L1167.4 261 L1167.9 261 L1168.4 260.6 L1168.9 260.5 L1169.4 259.6 L1169.9 260.4 L1170.4 261.1 L1170.9 261 L1171.4 261.3 L1171.9 260.1 L1172.4 259.7 L1172.9 259.9 L1173.4 261.3 L1173.9 261.3 L1174.4 261.4 L1174.9 259.9 L1175.4 261 L1175.9 261.4 L1176.4 260.4 L1176.9 259.4 L1177.4 261.4 L1177.9 261.4 L1178.4 260.1 L1178.9 261.3 L1179.4 260.9 L1179.9 260.5 L1180.4 261.1 L1180.9 260.6 L1181.4 260.2 L1181.9 260.4 L1182.4 260.6 L1182.9 260.8 L1183.4 260.2 L1183.9 259.9 L1184.4 260.7 L1184.9 259.1 L1185.4 260.9 L1185.9 260.8 L1186.4 259.7 L1186.9 260.8 L1187.4 259.7 L1187.9 260.4 L1188.4 259.9 L1188.9 261.1 L1189.4 260.7 L1189.9 260.3 L1190.4 260.6 L1190.9 259.7 L1191.4 260.7 L1191.9 260.7 L1192.4 260.4 L1192.9 260.5 L1193.4 261.1 L1193.9 259.8 L1194.4 260.8 L1194.9 260.7 L1195.4 260.2 L1195.9 260.6 L1196.4 261.2 L1196.9 260.9 L1197.4 259.8 L1197.9 261.1 L1198.4 258.7 L1198.9 260.3 L1199.4 260.3 L1199.9 259 L1200.4 260.1 L1200.9 260.9 L1201.4 260 L1201.9 260.1 L1202.4 258.2 L1202.9 259.7 L1203.4 260.2 L1203.9 259.6 L1204.4 260 L1204.9 260.2 L1205.4 259 L1205.9 259.7 L1206.4 259.9 L1206.9 258.8 L1207.4 259.4 L1207.9 258.4 L1208.4 257.7 L1208.9 260 L1209.4 259.2 L1209.9 259.5 L1210.4 258.9 L1210.9 258.6 L1211.4 260.4 L1211.9 259.3 L1212.4 260.1 L1212.9 260.2 L1213.4 260.6 L1213.9 260 L1214.4 258.3 L1214.9 257.2 L1215.4 258.4 L1215.9 258.5 L1216.4 259.5 L1216.9 259.4 L1217.4 260.4 L1217.9 258.2 L1218.4 260.2 L1218.9 259.4 L1219.4 259.4 L1219.9 257.3 L1220.4 258.6 L1220.9 260.1 L1221.4 258.9 L1221.9 258.6 L1222.4 259.8 L1222.9 259.8 L1223.4 260.3 L1223.9 259.9 L1224.4 259.8 L1224.9 259.5 L1225.4 259.6 L1225.9 258.7 L1226.4 259.5 L1226.9 259.4 L1227.4 259.2 L1227.9 259.3 L1228.4 260.6 L1228.9 259.7 L1229.4 259.6 L1229.9 260.2 L1230.4 259.6 L1230.9 258.7 L1231.4 258.8 L1231.9 260.3 L1232.4 258.9 L1232.9 257.8 L1233.4 257.9 L1233.9 259.7 L1234.4 259.4 L1234.9 260.5 L1235.4 260.5 L1235.9 259 L1236.4 259.3 L1236.9 260.1 L1237.4 259.6 L1237.9 259.5 L1238.4 259.6 L1238.9 260 L1239.4 258.5 L1239.9 259.2 L1240.4 259 L1240.9 259.2 L1241.4 258.9 L1241.9 259.1 L1242.4 257.7 L1242.9 257.2 L1243.4 257.7 L1243.9 259.2 L1244.4 259.8 L1244.9 260.2 L1245.4 258.7 L1245.9 259.9 L1246.4 259.9 L1246.9 260 L1247.4 258.4 L1247.9 259.7 L1248.4 259.1 L1248.9 259.3 L1249.4 258.8 L1249.9 259.4 L1250.4 259.9 L1250.9 259.5 L1251.4 259.6 L1251.9 259.1 L1252.4 259.1 L1252.9 259.1 L1253.4 259.7 L1253.9 259 L1254.4 259 L1254.9 260.1 L1255.4 259.2 L1255.9 256.6 L1256.4 259.9 L1256.9 259.7 L1257.4 258.9 L1257.9 259.9 L1258.4 259.4 L1258.9 258.5 L1259.4 260.1 L1259.9 258.2 L1260.4 260 L1260.9 260.4 L1261.4 258.3 L1261.9 260.3 L1262.4 259.6 L1262.9 259.9 L1263.4 259.7 L1263.9 259.5 L1264.4 259.3 L1264.9 260 L1265.4 259.7 L1265.9 260.1 L1266.4 259.2 L1266.9 259.7 L1267.4 259.5 L1267.9 259.6 L1268.4 256.5 L1268.9 259.8 L1269.4 258.7 L1269.9 258 L1270.4 259.1 L1270.9 259.2 L1271.4 258.5 L1271.9 260.2 L1272.4 258.7 L1272.9 259.8 L1273.4 259.2 L1273.9 257.4 L1274.4 259.6 L1274.9 260 L1275.4 259.7 L1275.9 257.5 L1276.4 259.2 L1276.9 258.6 L1277.4 259.3 L1277.9 259.2 L1278.4 259.5 L1278.9 258.8 L1279.4 259.5 L1279.9 259.9 L1280.4 258.6 L1280.9 259.4 L1281.4 260.5 L1281.9 259.1 L1282.4 258.8 L1282.9 259.2 L1283.4 258.1 L1283.9 259 L1284.4 259.6 L1284.9 259.7 L1285.4 259.7 L1285.9 258.7 L1286.4 258.5 L1286.9 259.2 L1287.4 258.5 L1287.9 260 L1288.4 259.6 L1288.9 260.4 L1289.4 259.6 L1289.9 259.4 L1290.4 260.1 L1290.9 259.8 L1291.4 259.5 L1291.9 259.2 L1292.4 258.9 L1292.9 259.6 L1293.4 258.2 L1293.9 257 L1294.4 259.6 L1294.9 259.9 L1295.4 259.3 L1295.9 259.8 L1296.4 259.3 L1296.9 259.1 L1297.4 259 L1297.9 260.2 L1298.4 259.4 L1298.9 258.8 L1299.4 260 L1299.9 259.8 L1300.4 259.5 L1300.9 259 L1301.4 258.9 L1301.9 259.9 L1302.4 259.2 L1302.9 259.4 L1303.4 259.9 L1303.9 259 L1304.4 260.3 L1304.9 260.2 L1305.4 259.7 L1305.9 260.1 L1306.4 260 L1306.9 259.5 L1307.4 259.9 L1307.9 259.1 L1308.4 259.3 L1308.9 259.5 L1309.4 260.2 L1309.9 259.5 L1310.4 260.6 L1310.9 260 L1311.4 259.4 L1311.9 258.3 L1312.4 258.5 L1312.9 260.1 L1313.4 260.2 L1313.9 258.1 L1314.4 258.8 L1314.9 260.2 L1315.4 260 L1315.9 259 L1316.4 259.7 L1316.9 260.3 L1317.4 259.4 L1317.9 258.4 L1318.4 258.6 L1318.9 259 L1319.4 260 L1319.9 259.8 L1320.4 259.6 L1320.9 259.3 L1321.4 259.9 L1321.9 260.3 L1322.4 258 L1322.9 259.9 L1323.4 259.4 L1323.9 260.5 L1324.4 258.1 L1324.9 258.7 L1325.4 259.2 L1325.9 259.8 L1326.4 259.1 L1326.9 257.7 L1327.4 259.8 L1327.9 259.5 L1328.4 258.8 L1328.9 259.2 L1329.4 259 L1329.9 258.3 L1330.4 259.3 L1330.9 259.9 L1331.4 258.3 L1331.9 259.8 L1332.4 260.2 L1332.9 259.2 L1333.4 260.3 L1333.9 259.4 L1334.4 259.4 L1334.9 259 L1335.4 259.7 L1335.9 260.1 L1336.4 258.4 L1336.9 258.6 L1337.4 259.5 L1337.9 249.4 L1338.4 234.7 L1338.9 223.2 L1339.4 222.9 L1339.9 222 L1340.4 222 L1340.9 221.8 L1341.4 222.7 L1341.9 221.4 L1342.4 221.7 L1342.9 222.2 L1343.4 221.2 L1343.9 221.3 L1344.4 222.6 L1344.9 223.2 L1345.4 223.4 L1345.9 223.5 L1346.4 222.9 L1346.9 214.2 L1347.4 207 L1347.9 207.1 L1348.4 207.7 L1348.9 205.9 L1349.4 207.2 L1349.9 208.5 L1350.4 209.5 L1350.9 211.7 L1351.4 212.2 L1351.9 214.2 L1352.4 213.7 L1352.9 216.3 L1353.4 217.9 L1353.9 219.5 L1354.4 222.1 L1354.9 220.8 L1355.4 219.3 L1355.9 218.6 L1356.4 218.2 L1356.9 218.8 L1357.4 216.7 L1357.9 217.9 L1358.4 217.9 L1358.9 217.6 L1359.4 216.8 L1359.9 216 L1360.4 215.8 L1360.9 215.9 L1361.4 216.7 L1361.9 216.2 L1362.4 217.2 L1362.9 217.8 L1363.4 217.7 L1363.9 218.9 L1364.4 229.7 L1364.9 230.9 L1365.4 231.1 L1365.9 231 L1366.4 231.1 L1366.9 231.2 L1367.4 231.2 L1367.9 230.5 L1368.4 230.7 L1368.9 231.1 L1369.4 230.4 L1369.9 231.5 L1370.4 231.3 L1370.9 231.6 L1371.4 232.8 L1371.9 233 L1372.4 232.2 L1372.9 233.5 L1373.4 233.5 L1373.9 232.9 L1374.4 233.6 L1374.9 233.6 L1375.4 233.8 L1375.9 232.8 L1376.4 233.1 L1376.9 233.8 L1377.4 234.8 L1377.9 235.4 L1378.4 236.2 L1378.9 237 L1379.4 237.4 L1379.9 237.3 L1380.4 238.7 L1380.9 238.7 L1381.4 238.6 L1381.9 238.4 L1382.4 238.9 L1382.9 238.4 L1383.4 237.4 L1383.9 238.2 L1384.4 237.3 L1384.9 237.4 L1385.4 238.5 L1385.9 239.3 L1386.4 239.1 L1386.9 239.3 L1387.4 238.8 L1387.9 236.5 L1388.4 238.7 L1388.9 238.8 L1389.4 239 L1389.9 236.2 L1390.4 236.8 L1390.9 239.5 L1391.4 238.4 L1391.9 238.9 L1392.4 238.3 L1392.9 238.6 L1393.4 238.6 L1393.9 239.2 L1394.4 239.2 L1394.9 239 L1395.4 238.9 L1395.9 238.3 L1396.4 237.4 L1396.9 236.4 L1397.4 239.1 L1397.9 237.7 L1398.4 238.2 L1398.9 238.9 L1399.4 238 L1399.9 238 L1400.4 238.8 L1400.9 235.9 L1401.4 235.5 L1401.9 236.2 L1402.4 260.4 L1402.9 260.1 L1403.4 260.4 L1403.9 260.4 L1404.4 258.3 L1404.9 260.4 L1405.4 259.2 L1405.9 260.7 L1406.4 260.4 L1406.9 260.1 L1407.4 260.2 L1407.9 260.6 L1408.4 260.4 L1408.9 260.2 L1409.4 260.6 L1409.9 260.5 L1410.4 260.6 L1410.9 259.6 L1411.4 260.5 L1411.9 260.4 L1412.4 260.6 L1412.9 260 L1413.4 260.6 L1413.9 259.7 L1414.4 260.5 L1414.9 259.9 L1415.4 260.3 L1415.9 259.4 L1416.4 259.9 L1416.9 260.6 L1417.4 260.7 L1417.9 259.7 L1418.4 259.5 L1418.9 259.6 L1419.4 259.8 L1419.9 260.3 L1420.4 258.9 L1420.9 259.8 L1421.4 259.1 L1421.9 260.1 L1422.4 260.6 L1422.9 260.3 L1423.4 260.6 L1423.9 260.3 L1424.4 259.3 L1424.9 260.5 L1425.4 260.8 L1425.9 259.5 L1426.4 260.5 L1426.9 259.5 L1427.4 259.7 L1427.9 259.1 L1428.4 260.4 L1428.9 260.2 L1429.4 258.1 L1429.9 260.7 L1430.4 260.5 L1430.9 260.1 L1431.4 259.8 L1431.9 260.1 L1432.4 259.7 L1432.9 260.4 L1433.4 260.7 L1433.9 259.9 L1434.4 259.8 L1434.9 260 L1435.4 260.6 L1435.9 259.8 L1436.4 260 L1436.9 259.9 L1437.4 260.1 L1437.9 260.5 L1438.4 260.4 L1438.9 260.4 L1439.4 258.8 L1439.9 259.1 L1440.4 259.9 L1440.9 260.6 L1441.4 260.6 L1441.9 260.3 L1442.4 259.8 L1442.9 260.5 L1443.4 260.2 L1443.9 260.6 L1444.4 260.5 L1444.9 260.3 L1445.4 260.5 L1445.9 260.3 L1446.4 259.7 L1446.9 260.7 L1447.4 260.6 L1447.9 259.5 L1448.4 259.1 L1448.9 260.6 L1449.4 260.1 L1449.9 260.3 L1450.4 260.1 L1450.9 260.5 L1451.4 260 L1451.9 260.6 L1452.4 259.9 L1452.9 260.6 L1453.4 260 L1453.9 260.7 L1454.4 260.6 L1454.9 260.6 L1455.4 258.1 L1455.9 259.8 L1456.4 260.6 L1456.9 260.8 L1457.4 260.4 L1457.9 259 L1458.4 259.9 L1458.9 260.4 L1459.4 260.5 L1459.9 260.4 L1460.4 260.6 L1460.9 258.9 L1461.4 259.6 L1461.9 260.6 L1462.4 260.3 L1462.9 260.8 L1463.4 260.1 L1463.9 260.7 L1464.4 260.4 L1464.9 259.3 L1465.4 260 L1465.9 259.7 L1466.4 259.7 L1466.9 260 L1467.4 260.3 L1467.9 260.5 L1468.4 259.8 L1468.9 259.9 L1469.4 260.1 L1469.9 260.6 L1470.4 260.5 L1470.9 259.7 L1471.4 260.1 L1471.9 260.2 L1472.4 259.9 L1472.9 260.5 L1473.4 260.7 L1473.4 271.5 L1472.9 271.8 L1472.4 271.2 L1471.9 271.8 L1471.4 271.7 L1470.9 271.2 L1470.4 271.4 L1469.9 271.4 L1469.4 271.7 L1468.9 272.2 L1468.4 272.5 L1467.9 271.5 L1467.4 271.7 L1466.9 271.8 L1466.4 271.7 L1465.9 271.4 L1465.4 271.6 L1464.9 271.5 L1464.4 271.3 L1463.9 271.4 L1463.4 272.2 L1462.9 272.2 L1462.4 271.8 L1461.9 271.4 L1461.4 272.4 L1460.9 272.1 L1460.4 271.3 L1459.9 271.6 L1459.4 272.5 L1458.9 271.4 L1458.4 271.6 L1457.9 271.3 L1457.4 271.3 L1456.9 271.9 L1456.4 271.7 L1455.9 271.5 L1455.4 272.1 L1454.9 271.5 L1454.4 271.5 L1453.9 271.8 L1453.4 271.6 L1452.9 272 L1452.4 271.8 L1451.9 271.3 L1451.4 272.8 L1450.9 271.5 L1450.4 271.5 L1449.9 271.3 L1449.4 271.5 L1448.9 271.6 L1448.4 271.5 L1447.9 271.5 L1447.4 271.5 L1446.9 272.5 L1446.4 271.7 L1445.9 272.6 L1445.4 271.4 L1444.9 271.4 L1444.4 271.5 L1443.9 271.6 L1443.4 272 L1442.9 271.9 L1442.4 271.6 L1441.9 271.4 L1441.4 271.4 L1440.9 271.4 L1440.4 271.4 L1439.9 271.6 L1439.4 271.6 L1438.9 272 L1438.4 272.1 L1437.9 272.3 L1437.4 271.4 L1436.9 271.3 L1436.4 271.4 L1435.9 271.6 L1435.4 271.6 L1434.9 271.5 L1434.4 271.4 L1433.9 271.3 L1433.4 271.4 L1432.9 271.6 L1432.4 272 L1431.9 271.4 L1431.4 271.3 L1430.9 271.8 L1430.4 271.6 L1429.9 271.7 L1429.4 271.3 L1428.9 271.8 L1428.4 271.5 L1427.9 271.2 L1427.4 271.6 L1426.9 271.5 L1426.4 271.9 L1425.9 271.5 L1425.4 272 L1424.9 271.4 L1424.4 271.7 L1423.9 271.5 L1423.4 272.2 L1422.9 271.9 L1422.4 271.3 L1421.9 272.1 L1421.4 271.3 L1420.9 271.5 L1420.4 271.4 L1419.9 271.7 L1419.4 271.4 L1418.9 271.3 L1418.4 271.8 L1417.9 271.3 L1417.4 271.8 L1416.9 271.4 L1416.4 271.9 L1415.9 271.4 L1415.4 271.4 L1414.9 271.7 L1414.4 271.7 L1413.9 271.7 L1413.4 271.7 L1412.9 271.4 L1412.4 271.4 L1411.9 272 L1411.4 271.8 L1410.9 272.1 L1410.4 271.5 L1409.9 271.6 L1409.4 271.7 L1408.9 271.4 L1408.4 272 L1407.9 271.3 L1407.4 271.6 L1406.9 271.3 L1406.4 271.7 L1405.9 271.6 L1405.4 271.4 L1404.9 271.8 L1404.4 272.5 L1403.9 271.3 L1403.4 271.9 L1402.9 271.6 L1402.4 271.6 L1401.9 269.2 L1401.4 255.9 L1400.9 250.5 L1400.4 250.6 L1399.9 250.5 L1399.4 250.3 L1398.9 251.8 L1398.4 250.9 L1397.9 250.5 L1397.4 251.1 L1396.9 251.7 L1396.4 250.5 L1395.9 251.2 L1395.4 250.6 L1394.9 250.8 L1394.4 251.5 L1393.9 250.5 L1393.4 250.9 L1392.9 250.9 L1392.4 252.4 L1391.9 251.4 L1391.4 251 L1390.9 250.8 L1390.4 251.3 L1389.9 250.8 L1389.4 250.5 L1388.9 251.5 L1388.4 251.1 L1387.9 250.8 L1387.4 250.5 L1386.9 251.7 L1386.4 251.9 L1385.9 250.8 L1385.4 251.4 L1384.9 251.7 L1384.4 252.2 L1383.9 251.4 L1383.4 251.1 L1382.9 251.3 L1382.4 250.9 L1381.9 250.7 L1381.4 251.1 L1380.9 251.2 L1380.4 250.9 L1379.9 250.5 L1379.4 250.5 L1378.9 250.3 L1378.4 250.4 L1377.9 248.6 L1377.4 247.7 L1376.9 248.1 L1376.4 246.6 L1375.9 246.6 L1375.4 246.5 L1374.9 246.7 L1374.4 246 L1373.9 246 L1373.4 246.4 L1372.9 246.2 L1372.4 245.9 L1371.9 246.1 L1371.4 245.6 L1370.9 245.9 L1370.4 245.4 L1369.9 245.1 L1369.4 244.9 L1368.9 245.1 L1368.4 245.7 L1367.9 245.4 L1367.4 245.2 L1366.9 245.1 L1366.4 245.4 L1365.9 245.5 L1365.4 245.8 L1364.9 245.7 L1364.4 246.1 L1363.9 238.2 L1363.4 236.6 L1362.9 237.9 L1362.4 237.8 L1361.9 238 L1361.4 238.3 L1360.9 238.2 L1360.4 238.6 L1359.9 239 L1359.4 239.8 L1358.9 240.1 L1358.4 239.6 L1357.9 239.5 L1357.4 239.5 L1356.9 240.1 L1356.4 239.5 L1355.9 239.7 L1355.4 240.7 L1354.9 241.5 L1354.4 242.9 L1353.9 243.9 L1353.4 245.1 L1352.9 243.5 L1352.4 239.7 L1351.9 237.1 L1351.4 234.3 L1350.9 230.2 L1350.4 227.5 L1349.9 227.9 L1349.4 228 L1348.9 229.7 L1348.4 231.3 L1347.9 233.4 L1347.4 235.8 L1346.9 239.7 L1346.4 243.2 L1345.9 243.3 L1345.4 243.5 L1344.9 243.3 L1344.4 243.4 L1343.9 243.3 L1343.4 243.7 L1342.9 243.7 L1342.4 244.4 L1341.9 244.2 L1341.4 244.8 L1340.9 245.3 L1340.4 245.3 L1339.9 246 L1339.4 252.7 L1338.9 269.5 L1338.4 271.7 L1337.9 272.4 L1337.4 271.5 L1336.9 272.3 L1336.4 271.8 L1335.9 271.3 L1335.4 271.9 L1334.9 271.5 L1334.4 271.8 L1333.9 271.9 L1333.4 271.9 L1332.9 271.9 L1332.4 271.4 L1331.9 271.4 L1331.4 271.6 L1330.9 271.5 L1330.4 271.3 L1329.9 272.5 L1329.4 271.6 L1328.9 271.3 L1328.4 271.8 L1327.9 271.5 L1327.4 272.1 L1326.9 271.8 L1326.4 272 L1325.9 271.5 L1325.4 271.6 L1324.9 271.5 L1324.4 271.7 L1323.9 271.3 L1323.4 271.7 L1322.9 272 L1322.4 271.3 L1321.9 271.3 L1321.4 271.9 L1320.9 271.5 L1320.4 271.4 L1319.9 271.5 L1319.4 272.4 L1318.9 271.8 L1318.4 271.6 L1317.9 271.8 L1317.4 272.4 L1316.9 271.8 L1316.4 271.7 L1315.9 271.5 L1315.4 271.5 L1314.9 271.8 L1314.4 271.4 L1313.9 271.3 L1313.4 271.4 L1312.9 271.5 L1312.4 271.6 L1311.9 271.7 L1311.4 271.7 L1310.9 271.9 L1310.4 272.4 L1309.9 271.5 L1309.4 272.6 L1308.9 272.1 L1308.4 271.9 L1307.9 271.3 L1307.4 271.3 L1306.9 272.1 L1306.4 271.9 L1305.9 271.5 L1305.4 271.8 L1304.9 271.5 L1304.4 272.2 L1303.9 272.3 L1303.4 271.7 L1302.9 271.4 L1302.4 271.7 L1301.9 272.2 L1301.4 272.1 L1300.9 272.1 L1300.4 271.9 L1299.9 271.4 L1299.4 271.8 L1298.9 271.9 L1298.4 272.3 L1297.9 271.5 L1297.4 271.8 L1296.9 271.4 L1296.4 271.5 L1295.9 271.6 L1295.4 271.7 L1294.9 271.4 L1294.4 271.3 L1293.9 271.7 L1293.4 272 L1292.9 271.4 L1292.4 271.5 L1291.9 271.7 L1291.4 271.7 L1290.9 271.3 L1290.4 271.6 L1289.9 272.1 L1289.4 271.4 L1288.9 271.5 L1288.4 271.6 L1287.9 271.3 L1287.4 272.4 L1286.9 271.4 L1286.4 271.3 L1285.9 272.5 L1285.4 272.5 L1284.9 272.3 L1284.4 271.6 L1283.9 272.6 L1283.4 271.5 L1282.9 271.8 L1282.4 271.7 L1281.9 271.4 L1281.4 271.3 L1280.9 272.1 L1280.4 271.5 L1279.9 271.3 L1279.4 271.6 L1278.9 273.3 L1278.4 271.3 L1277.9 271.5 L1277.4 271.3 L1276.9 271.6 L1276.4 271.4 L1275.9 272.4 L1275.4 271.6 L1274.9 272 L1274.4 271.7 L1273.9 272.1 L1273.4 271.3 L1272.9 272.4 L1272.4 271.5 L1271.9 271.8 L1271.4 271.4 L1270.9 272.4 L1270.4 271.6 L1269.9 271.6 L1269.4 271.9 L1268.9 271.5 L1268.4 271.8 L1267.9 272.2 L1267.4 271.3 L1266.9 272.5 L1266.4 272.2 L1265.9 271.7 L1265.4 271.9 L1264.9 271.5 L1264.4 272.4 L1263.9 271.7 L1263.4 271.8 L1262.9 271.9 L1262.4 272.5 L1261.9 271.8 L1261.4 272.1 L1260.9 271.3 L1260.4 272.2 L1259.9 271.3 L1259.4 271.9 L1258.9 272.2 L1258.4 271.7 L1257.9 272.2 L1257.4 271.6 L1256.9 271.8 L1256.4 271.5 L1255.9 271.6 L1255.4 271.5 L1254.9 271.6 L1254.4 271.8 L1253.9 271.4 L1253.4 271.7 L1252.9 272 L1252.4 271.7 L1251.9 271.7 L1251.4 271.7 L1250.9 271.5 L1250.4 271.4 L1249.9 271.4 L1249.4 271.8 L1248.9 271.6 L1248.4 271.4 L1247.9 271.6 L1247.4 271.7 L1246.9 271.6 L1246.4 272.4 L1245.9 272.1 L1245.4 271.3 L1244.9 271.9 L1244.4 271.7 L1243.9 271.3 L1243.4 271.5 L1242.9 271.8 L1242.4 272 L1241.9 271.3 L1241.4 272.2 L1240.9 271.7 L1240.4 272.5 L1239.9 271.3 L1239.4 271.9 L1238.9 271.6 L1238.4 271.3 L1237.9 271.6 L1237.4 271.6 L1236.9 271.9 L1236.4 271.7 L1235.9 271.6 L1235.4 271.5 L1234.9 271.7 L1234.4 271.4 L1233.9 272 L1233.4 272 L1232.9 271.7 L1232.4 271.9 L1231.9 272 L1231.4 271.9 L1230.9 271.5 L1230.4 271.6 L1229.9 271.9 L1229.4 272.3 L1228.9 271.5 L1228.4 271.9 L1227.9 271.4 L1227.4 271.9 L1226.9 271.4 L1226.4 271.4 L1225.9 271.4 L1225.4 271.4 L1224.9 271.7 L1224.4 271.9 L1223.9 271.3 L1223.4 271.3 L1222.9 271.4 L1222.4 271.6 L1221.9 272.7 L1221.4 271.7 L1220.9 271.8 L1220.4 271.7 L1219.9 272.6 L1219.4 271.9 L1218.9 271.6 L1218.4 271.9 L1217.9 272 L1217.4 271.5 L1216.9 271.5 L1216.4 271.5 L1215.9 271.8 L1215.4 271.8 L1214.9 272.1 L1214.4 271.6 L1213.9 271.4 L1213.4 271.6 L1212.9 271.6 L1212.4 271.6 L1211.9 272.1 L1211.4 272.6 L1210.9 271.5 L1210.4 272.1 L1209.9 271.3 L1209.4 271.7 L1208.9 271.2 L1208.4 271.2 L1207.9 271.4 L1207.4 271.9 L1206.9 272.2 L1206.4 271.2 L1205.9 272.5 L1205.4 271.1 L1204.9 271.1 L1204.4 272.4 L1203.9 272 L1203.4 271.2 L1202.9 271.4 L1202.4 271 L1201.9 271.4 L1201.4 271.4 L1200.9 271.5 L1200.4 271.3 L1199.9 271.4 L1199.4 271.2 L1198.9 271.6 L1198.4 271.4 L1197.9 271.3 L1197.4 271.4 L1196.9 271.4 L1196.4 271.8 L1195.9 270.9 L1195.4 271.3 L1194.9 270.9 L1194.4 271.7 L1193.9 271.1 L1193.4 270.9 L1192.9 271.9 L1192.4 271.5 L1191.9 270.9 L1191.4 271.8 L1190.9 270.9 L1190.4 271.8 L1189.9 271 L1189.4 270.6 L1188.9 271.1 L1188.4 271.4 L1187.9 271.2 L1187.4 271.1 L1186.9 270.9 L1186.4 270.8 L1185.9 271.3 L1185.4 271.7 L1184.9 271.2 L1184.4 270.8 L1183.9 270.9 L1183.4 271.3 L1182.9 271 L1182.4 271.2 L1181.9 271.4 L1181.4 270.9 L1180.9 271.2 L1180.4 270.6 L1179.9 271.6 L1179.4 271.5 L1178.9 270.8 L1178.4 270.7 L1177.9 270.7 L1177.4 272.1 L1176.9 270.9 L1176.4 271.3 L1175.9 270.8 L1175.4 271.7 L1174.9 270.9 L1174.4 271 L1173.9 271 L1173.4 270.7 L1172.9 271.2 L1172.4 271.7 L1171.9 270.6 L1171.4 270.7 L1170.9 270.9 L1170.4 270.7 L1169.9 270.7 L1169.4 271.3 L1168.9 270.6 L1168.4 270.9 L1167.9 271.3 L1167.4 270.6 L1166.9 270.8 L1166.4 271.7 L1165.9 271.2 L1165.4 271.2 L1164.9 270.7 L1164.4 271.5 L1163.9 271 L1163.4 271.9 L1162.9 270.7 L1162.4 270.8 L1161.9 271.1 L1161.4 270.9 L1160.9 271.3 L1160.4 271.1 L1159.9 271 L1159.4 271.5 L1158.9 271 L1158.4 270.6 L1157.9 270.7 L1157.4 271.1 L1156.9 270.8 L1156.4 271.3 L1155.9 271.3 L1155.4 271 L1154.9 271.4 L1154.4 270.6 L1153.9 270.6 L1153.4 271.1 L1152.9 271 L1152.4 270.9 L1151.9 271.2 L1151.4 270.7 L1150.9 271.1 L1150.4 271.6 L1149.9 271.4 L1149.4 270.6 L1148.9 270.6 L1148.4 272 L1147.9 271.8 L1147.4 270.7 L1146.9 271.2 L1146.4 270.6 L1145.9 271 L1145.4 271.5 L1144.9 270.7 L1144.4 270.6 L1143.9 270.8 L1143.4 270.6 L1142.9 270.6 L1142.4 270.6 L1141.9 270.9 L1141.4 270.7 L1140.9 271 L1140.4 270.7 L1139.9 271.4 L1139.4 271.7 L1138.9 271.7 L1138.4 271.2 L1137.9 271.6 L1137.4 271.1 L1136.9 270.8 L1136.4 271.6 L1135.9 270.7 L1135.4 270.9 L1134.9 270.6 L1134.4 270.6 L1133.9 271.4 L1133.4 271.1 L1132.9 270.9 L1132.4 271 L1131.9 271 L1131.4 270.9 L1130.9 271.2 L1130.4 271 L1129.9 270.5 L1129.4 270.7 L1128.9 270.9 L1128.4 270.9 L1127.9 271 L1127.4 270.6 L1126.9 270.6 L1126.4 271.5 L1125.9 271.2 L1125.4 272.1 L1124.9 270.7 L1124.4 271.3 L1123.9 271.3 L1123.4 270.8 L1122.9 271.6 L1122.4 270.8 L1121.9 271.5 L1121.4 270.9 L1120.9 271 L1120.4 270.6 L1119.9 271.1 L1119.4 270.7 L1118.9 271.7 L1118.4 271.2 L1117.9 271.4 L1117.4 271.3 L1116.9 271.2 L1116.4 270.6 L1115.9 270.8 L1115.4 271 L1114.9 270.8 L1114.4 271.4 L1113.9 270.7 L1113.4 270.6 L1112.9 271.1 L1112.4 271.3 L1111.9 271.7 L1111.4 270.9 L1110.9 270.8 L1110.4 270.8 L1109.9 271.4 L1109.4 270.9 L1108.9 271.3 L1108.4 271 L1107.9 271.2 L1107.4 271.4 L1106.9 271.7 L1106.4 270.7 L1105.9 271 L1105.4 270.9 L1104.9 271.1 L1104.4 271.1 L1103.9 271 L1103.4 271.2 L1102.9 271.1 L1102.4 270.6 L1101.9 270.8 L1101.4 271.3 L1100.9 271.1 L1100.4 270.6 L1099.9 270.9 L1099.4 271.4 L1098.9 270.6 L1098.4 270.8 L1097.9 270.5 L1097.4 271 L1096.9 270.8 L1096.4 271.6 L1095.9 271 L1095.4 270.8 L1094.9 271 L1094.4 271.3 L1093.9 271.1 L1093.4 271.3 L1092.9 271.4 L1092.4 270.9 L1091.9 271.4 L1091.4 270.7 L1090.9 271.2 L1090.4 271.3 L1089.9 270.9 L1089.4 270.9 L1088.9 270.6 L1088.4 270.6 L1087.9 270.8 L1087.4 270.9 L1086.9 271.5 L1086.4 271 L1085.9 271 L1085.4 271.2 L1084.9 270.9 L1084.4 271.9 L1083.9 271.4 L1083.4 271.1 L1082.9 270.5 L1082.4 270.5 L1081.9 272.1 L1081.4 270.5 L1080.9 270.8 L1080.4 270.7 L1079.9 270.6 L1079.4 271.2 L1078.9 270.9 L1078.4 270.6 L1077.9 271.1 L1077.4 270.6 L1076.9 270.9 L1076.4 271.4 L1075.9 270.5 L1075.4 271 L1074.9 270.9 L1074.4 270.6 L1073.9 270.8 L1073.4 271.3 L1072.9 271.4 L1072.4 270.6 L1071.9 270.7 L1071.4 271.2 L1070.9 271 L1070.4 271.6 L1069.9 271.3 L1069.4 270.8 L1068.9 271.4 L1068.4 271.3 L1067.9 270.5 L1067.4 270.7 L1066.9 271.3 L1066.4 270.6 L1065.9 271.1 L1065.4 271.3 L1064.9 270.7 L1064.4 270.8 L1063.9 271.6 L1063.4 270.7 L1062.9 271.9 L1062.4 271.1 L1061.9 271.8 L1061.4 270.8 L1060.9 271 L1060.4 271.9 L1059.9 270.9 L1059.4 270.5 L1058.9 270.5 L1058.4 271.3 L1057.9 271.2 L1057.4 270.7 L1056.9 270.9 L1056.4 271.5 L1055.9 271.3 L1055.4 270.6 L1054.9 270.7 L1054.4 271.1 L1053.9 271.1 L1053.4 270.5 L1052.9 271.4 L1052.4 270.8 L1051.9 270.9 L1051.4 270.8 L1050.9 270.5 L1050.4 271.2 L1049.9 270.6 L1049.4 270.5 L1048.9 270.8 L1048.4 270.7 L1047.9 270.6 L1047.4 271.7 L1046.9 270.8 L1046.4 271 L1045.9 270.7 L1045.4 270.5 L1044.9 270.7 L1044.4 271.2 L1043.9 270.9 L1043.4 270.8 L1042.9 271.5 L1042.4 270.9 L1041.9 270.6 L1041.4 271.2 L1040.9 270.8 L1040.4 270.4 L1039.9 270.5 L1039.4 270.7 L1038.9 270.5 L1038.4 270.9 L1037.9 270.5 L1037.4 270.5 L1036.9 270.9 L1036.4 271.8 L1035.9 270.8 L1035.4 270.6 L1034.9 270.6 L1034.4 271.2 L1033.9 270.5 L1033.4 270.9 L1032.9 270.9 L1032.4 271.6 L1031.9 271 L1031.4 271 L1030.9 270.9 L1030.4 270.9 L1029.9 271.3 L1029.4 271.6 L1028.9 271.6 L1028.4 270.5 L1027.9 270.4 L1027.4 270.9 L1026.9 270.4 L1026.4 270.7 L1025.9 270.7 L1025.4 270.8 L1024.9 270.6 L1024.4 271.8 L1023.9 270.6 L1023.4 270.5 L1022.9 272 L1022.4 271.5 L1021.9 272 L1021.4 270.5 L1020.9 270.4 L1020.4 270.4 L1019.9 271.4 L1019.4 270.6 L1018.9 270.4 L1018.4 270.8 L1017.9 270.9 L1017.4 270.5 L1016.9 270.5 L1016.4 271.4 L1015.9 270.4 L1015.4 270.5 L1014.9 270.6 L1014.4 270.8 L1013.9 270.8 L1013.4 270.8 L1012.9 270.8 L1012.4 270.7 L1011.9 270.6 L1011.4 270.6 L1010.9 271.7 L1010.4 270.7 L1009.9 270.5 L1009.4 271 L1008.9 270.7 L1008.4 271.1 L1007.9 270.8 L1007.4 270.7 L1006.9 270.9 L1006.4 270.7 L1005.9 270.4 L1005.4 271 L1004.9 270.7 L1004.4 271.9 L1003.9 270.8 L1003.4 270.6 L1002.9 270.8 L1002.4 270.9 L1001.9 270.8 L1001.4 271.4 L1000.9 270.5 L1000.4 270.5 L999.9 271.1 L999.4 270.9 L998.9 270.4 L998.4 270.8 L997.9 270.7 L997.4 271.9 L996.9 270.9 L996.4 271.1 L995.9 271.8 L995.4 270.6 L994.9 271.2 L994.4 270.6 L993.9 270.8 L993.4 270.5 L992.9 271.1 L992.4 270.8 L991.9 270.7 L991.4 270.4 L990.9 270.7 L990.4 271.2 L989.9 270.7 L989.4 270.9 L988.9 270.8 L988.4 270.5 L987.9 271.4 L987.4 270.9 L986.9 270.6 L986.4 270.5 L985.9 270.6 L985.4 270.5 L984.9 271.5 L984.4 270.5 L983.9 270.4 L983.4 271.2 L982.9 270.4 L982.4 271.5 L981.9 270.6 L981.4 271.4 L980.9 270.8 L980.4 270.8 L979.9 270.6 L979.4 270.8 L978.9 270.6 L978.4 271.5 L977.9 271 L977.4 271 L976.9 271 L976.4 270.8 L975.9 270.6 L975.4 271.6 L974.9 271.9 L974.4 270.5 L973.9 270.6 L973.4 271.3 L972.9 270.6 L972.4 270.9 L971.9 270.7 L971.4 271.3 L970.9 271.3 L970.4 270.5 L969.9 270.7 L969.4 270.7 L968.9 270.8 L968.4 271 L967.9 270.4 L967.4 270.8 L966.9 270.4 L966.4 270.8 L965.9 271.3 L965.4 270.6 L964.9 270.8 L964.4 271.6 L963.9 270.6 L963.4 270.4 L962.9 270.5 L962.4 270.9 L961.9 270.4 L961.4 270.9 L960.9 271.3 L960.4 270.5 L959.9 270.9 L959.4 271.2 L958.9 270.4 L958.4 270.4 L957.9 270.9 L957.4 270.4 L956.9 270.7 L956.4 270.8 L955.9 270.5 L955.4 271.6 L954.9 270.6 L954.4 272.4 L953.9 271.1 L953.4 270.6 L952.9 270.5 L952.4 271.9 L951.9 270.8 L951.4 271.6 L950.9 270.9 L950.4 270.3 L949.9 271.8 L949.4 271.3 L948.9 270.7 L948.4 270.4 L947.9 270.3 L947.4 271.3 L946.9 270.7 L946.4 270.9 L945.9 270.5 L945.4 271.5 L944.9 270.5 L944.4 270.3 L943.9 270.4 L943.4 270.6 L942.9 270.8 L942.4 270.8 L941.9 270.5 L941.4 271 L940.9 270.4 L940.4 270.6 L939.9 270.4 L939.4 270.5 L938.9 271 L938.4 270.6 L937.9 270.7 L937.4 271.7 L936.9 270.6 L936.4 270.5 L935.9 271.1 L935.4 270.7 L934.9 270.4 L934.4 270.5 L933.9 270.4 L933.4 271.4 L932.9 271.2 L932.4 270.3 L931.9 270.7 L931.4 270.5 L930.9 270.4 L930.4 270.6 L929.9 270.7 L929.4 270.8 L928.9 270.6 L928.4 270.3 L927.9 270.4 L927.4 270.5 L926.9 270.7 L926.4 270.7 L925.9 270.9 L925.4 270.8 L924.9 270.8 L924.4 270.5 L923.9 270.5 L923.4 270.4 L922.9 271.4 L922.4 270.3 L921.9 271.6 L921.4 270.6 L920.9 270.4 L920.4 270.6 L919.9 270.2 L919.4 271 L918.9 270.1 L918.4 270.2 L917.9 270.2 L917.4 270.8 L916.9 270.5 L916.4 270 L915.9 270.1 L915.4 270.7 L914.9 270.5 L914.4 270.8 L913.9 269.7 L913.4 270.1 L912.9 270.9 L912.4 270.2 L911.9 269.7 L911.4 270 L910.9 269.5 L910.4 269.9 L909.9 269.8 L909.4 269.9 L908.9 269.8 L908.4 269.5 L907.9 270.5 L907.4 269.9 L906.9 269.7 L906.4 269.5 L905.9 269.5 L905.4 270.8 L904.9 270.1 L904.4 270.1 L903.9 269.6 L903.4 270.1 L902.9 270.3 L902.4 270.9 L901.9 269.6 L901.4 270.9 L900.9 269.6 L900.4 269.7 L899.9 269.7 L899.4 269.6 L898.9 269.6 L898.4 269.9 L897.9 270.3 L897.4 269.7 L896.9 269.5 L896.4 270 L895.9 269.9 L895.4 269.7 L894.9 270.3 L894.4 269.6 L893.9 269.5 L893.4 271.1 L892.9 269.9 L892.4 269.7 L891.9 269.9 L891.4 269.7 L890.9 269.5 L890.4 270.4 L889.9 269.5 L889.4 270.1 L888.9 269.8 L888.4 270.2 L887.9 269.9 L887.4 269.6 L886.9 270.3 L886.4 270.1 L885.9 270.5 L885.4 269.5 L884.9 270 L884.4 270.6 L883.9 270 L883.4 269.8 L882.9 270.3 L882.4 269.5 L881.9 269.8 L881.4 270.7 L880.9 270.4 L880.4 269.9 L879.9 269.9 L879.4 269.5 L878.9 269.8 L878.4 269.5 L877.9 270.2 L877.4 269.6 L876.9 269.5 L876.4 270 L875.9 271 L875.4 269.6 L874.9 271 L874.4 270 L873.9 270.1 L873.4 269.9 L872.9 270.1 L872.4 270.1 L871.9 269.8 L871.4 269.9 L870.9 269.6 L870.4 269.8 L869.9 270.3 L869.4 270.4 L868.9 271 L868.4 269.9 L867.9 269.5 L867.4 270 L866.9 269.6 L866.4 270.1 L865.9 270.2 L865.4 269.6 L864.9 269.6 L864.4 269.5 L863.9 270 L863.4 269.9 L862.9 269.6 L862.4 269.7 L861.9 269.5 L861.4 269.8 L860.9 269.9 L860.4 269.6 L859.9 269.9 L859.4 270.1 L858.9 270.3 L858.4 270.1 L857.9 270 L857.4 269.6 L856.9 269.9 L856.4 270.5 L855.9 269.9 L855.4 270.1 L854.9 269.8 L854.4 269.7 L853.9 269.7 L853.4 271 L852.9 270.1 L852.4 270 L851.9 269.5 L851.4 269.7 L850.9 269.6 L850.4 270 L849.9 269.5 L849.4 270 L848.9 269.5 L848.4 269.9 L847.9 270.9 L847.4 270.5 L846.9 269.7 L846.4 270.2 L845.9 270.7 L845.4 269.8 L844.9 269.6 L844.4 269.9 L843.9 269.7 L843.4 270 L842.9 269.6 L842.4 270.6 L841.9 269.6 L841.4 269.7 L840.9 269.5 L840.4 269.9 L839.9 269.8 L839.4 269.8 L838.9 270.2 L838.4 269.9 L837.9 269.9 L837.4 269.8 L836.9 270.1 L836.4 270.2 L835.9 270 L835.4 269.5 L834.9 269.6 L834.4 269.5 L833.9 269.5 L833.4 270.1 L832.9 270.1 L832.4 270 L831.9 270.4 L831.4 270.1 L830.9 270.2 L830.4 269.9 L829.9 269.8 L829.4 269.9 L828.9 269.7 L828.4 269.6 L827.9 269.5 L827.4 270.1 L826.9 269.5 L826.4 270.3 L825.9 270.1 L825.4 269.7 L824.9 269.8 L824.4 270.3 L823.9 269.5 L823.4 270.4 L822.9 270.4 L822.4 270.1 L821.9 270 L821.4 269.9 L820.9 270.3 L820.4 270 L819.9 270.3 L819.4 269.8 L818.9 269.9 L818.4 269.6 L817.9 270.1 L817.4 269.6 L816.9 270.4 L816.4 269.5 L815.9 269.5 L815.4 270.1 L814.9 270.3 L814.4 270.3 L813.9 271 L813.4 269.8 L812.9 269.6 L812.4 270.3 L811.9 270 L811.4 270.1 L810.9 269.7 L810.4 269.5 L809.9 269.5 L809.4 269.6 L808.9 269.7 L808.4 269.8 L807.9 269.6 L807.4 269.6 L806.9 271 L806.4 269.7 L805.9 270 L805.4 269.6 L804.9 269.6 L804.4 269.8 L803.9 269.4 L803.4 269.6 L802.9 269.8 L802.4 269.5 L801.9 269.9 L801.4 269.8 L800.9 270.2 L800.4 270 L799.9 269.6 L799.4 269.5 L798.9 269.7 L798.4 270 L797.9 269.4 L797.4 269.7 L796.9 270.1 L796.4 269.8 L795.9 269.5 L795.4 270.4 L794.9 270 L794.4 270.5 L793.9 269.8 L793.4 269.7 L792.9 270.2 L792.4 269.7 L791.9 269.8 L791.4 269.7 L790.9 269.5 L790.4 270 L789.9 269.9 L789.4 270.9 L788.9 269.8 L788.4 269.6 L787.9 270.6 L787.4 269.7 L786.9 270.2 L786.4 269.8 L785.9 270.2 L785.4 269.6 L784.9 270 L784.4 269.9 L783.9 269.4 L783.4 269.9 L782.9 269.6 L782.4 270.2 L781.9 270.3 L781.4 269.6 L780.9 270.1 L780.4 270 L779.9 269.6 L779.4 269.5 L778.9 269.8 L778.4 270.1 L777.9 270.4 L777.4 269.6 L776.9 269.8 L776.4 269.4 L775.9 269.7 L775.4 270.4 L774.9 269.7 L774.4 269.9 L773.9 269.5 L773.4 269.6 L772.9 269.7 L772.4 269.5 L771.9 269.6 L771.4 269.7Z" fill="#000"/>
<path d="M1390 228V240 M1348.4 205.6V215 M1355.2 214.5V222 M1361.4 214V222 M1343.6 219.6V226" stroke="#333" stroke-width="0.9" fill="none"/>
<path d="M873.7 259.2V266 M1151.3 259.1V266 M777.8 258.8V266 M1108.9 259.9V266 M1014.7 260.1V266 M1091.4 259.4V266 M837 260.5V266 M939.2 260.1V266 M992.4 259.6V266 M807.4 257.3V266 M1018.2 260.3V266 M1105.9 258.4V266 M1074.6 259.4V266 M1027 260V266 M1190.7 258.4V266 M1066.5 259.9V266 M1118.9 258.9V266 M968.4 258.1V266 M1164.2 256.7V266 M947.1 260.2V266 M945.1 259.5V266 M1084.4 259.9V266 M1061 259.6V266 M831.3 259.3V266 M856 260.2V266 M1187.8 259.1V266 M816 254.5V266 M798 258V266 M873.6 258.5V266 M917 248.1V266 M917.5 241.1V266 M918.1 242.6V266 M918.7 249.6V266 M919.3 242.8V266 M920 246.3V266 M920.6 246.3V266 M921.1 244.5V266 M921.6 246.8V266 M922.2 242.3V266 M922.6 245.5V266 M923.3 249.3V266 M923.9 244.6V266 M924.5 247.3V266 M927.6 244.2V266 M928.3 247.2V266 M928.8 245.8V266 M929.5 242.2V266 M929.9 247.9V266 M930.3 242.4V266 M931 241.3V266 M931.5 243.6V266 M932 249.7V266 M932.6 241.4V266 M933.2 246.5V266 M933.9 245.4V266 M934.5 248V266 M935 243.7V266 M935.4 245.4V266 M935.9 247.2V266 M939.6 243.7V266 M940 245.6V266 M940.5 242.4V266 M941.2 241.1V266 M941.7 243.6V266 M942.2 243V266 M942.7 244.5V266 M943.2 245.6V266 M945 244.4V266 M946.1 243.1V266 M947.1 245.8V266 M947.9 248.7V266 M949 250V266 M950.5 243.4V266 M951.2 245.6V266 M951.9 242.2V266 M952.8 249.2V266 M953.6 247.8V266 M954.4 246.7V266 M919.4 235.6V266 M952.6 237.5V266 M1211 236V266 M1209.5 246V266 M1213 250V266 M1234 247V266 M1236.5 252V266 M1240 246V266 M1243.5 250V266 M1247 255V266 M1257 247V266 M1259.6 239V266 M1261.5 248V266 M1264 252V266 M1268 250V266 M1272 242V266 M1274.5 250V266 M1277 237.5V266 M1279 252V266 M1283 254V266 M1287 252V266 M1290 256V266 M1301.4 238V266 M1303 228V266 M1304.6 215V266 M1306 232V266 M1308 245V266 M1310 240V266 M1312.5 252V266 M1316 247V266 M1318.5 244V266 M1320.5 248V266 M1322.5 238V266 M1324.5 232V266 M1326.5 246V266 M1328.5 243V266 M1330.5 250V266 M1334 217V266 M1335.6 236V266 M1222 256V266 M1226 255V266 M1252 256V266 M1295 255V266 M1298 254V266 M1225.8 258V266 M1313 257.1V266 M1200 255.9V266 M1223.8 255.9V266 M1310.1 257.9V266 M1234.1 258.2V266 M1275.2 257.9V266 M1317.3 256.1V266 M1326.3 258.7V266 M1321.6 258.4V266 M1284.9 258V266 M1260.4 256.3V266 M1289.9 258.3V266 M1285.9 256.4V266 M1292 256.4V266 M1323.4 256.1V266 M1332.8 259V266 M1207.7 256.7V266 M1275.8 255.1V266 M1260.9 259V266 M1299.1 252.7V266 M1302 256.4V266 M1218.6 258.4V266 M1329.6 257.7V266 M1279.9 257.9V266 M1278.4 256.1V266 M1301.6 258.1V266 M1287.2 258V266 M1431 255V266 M1433 257V266 M1459 258V266" stroke="#111" stroke-width="1.15" fill="none"/>
<path d="M928.6 244.5V266 M933.8 249.7V266 M943 247.7V266 M944.1 242.6V266 M955.5 246.5V266 M944.6 241.3V266 M923.5 244.9V266 M950 247.5V266 M930.9 239.7V266 M937.6 248.5V266 M923.5 246.9V266 M923.8 241.7V266 M919.1 241.6V266 M932.3 249.6V266" stroke="#888" stroke-width="0.8" fill="none"/>
<path d="M1446.8 268V273.7 M902.8 268V272.6 M909.9 268V274.4 M996.7 268V272.1 M954.1 268V271.7 M1048 268V274 M958.7 268V273.7 M914.6 268V272.7 M1218.7 268V272.3 M1318 268V271.8 M1302.9 268V272.2 M1101.5 268V273.3 M1299.7 268V272.2 M964.7 268V273.4 M1143 268V273.7 M973.8 268V272.2 M1312.9 268V272.2 M800.4 268V272.3 M1019.7 268V273 M1431.2 268V271.6 M820.4 268V272.5 M1156.5 268V271.5 M1061.1 268V273.5 M849.5 268V272.2 M1450.4 268V273.3 M1216.4 268V272.3 M1048.3 268V273.6 M1431.5 268V271.6 M1047 268V272.7 M1016.9 268V272.5 M1144.7 268V273.9 M1137.3 268V272.9 M865.2 268V273.9 M1009.2 268V272.7 M1123.9 268V272 M1240.2 268V272.7" stroke="#222" stroke-width="0.8" fill="none"/>
<path d="M771.4 39.6 V294 H1474.8" fill="none" stroke="#000" stroke-width="3" stroke-linejoin="miter"/>
<path d="M759.9 52.2 H771.4 M764.9 79.7 H771.4 M759.9 107.2 H771.4 M764.9 134.7 H771.4 M759.9 162.1 H771.4 M764.9 189.6 H771.4 M759.9 217.1 H771.4 M764.9 244.6 H771.4 M759.9 272 H771.4 M771.4 294 V305 M829.9 294 V301 M888.4 294 V305 M946.9 294 V301 M1005.4 294 V305 M1063.9 294 V301 M1122.4 294 V305 M1180.9 294 V301 M1239.4 294 V305 M1297.9 294 V301 M1356.4 294 V305 M1414.9 294 V301 M1473.4 294 V305" fill="none" stroke="#000" stroke-width="2.8"/>
<path d="M920.8 136.8 V180" stroke="#000" stroke-width="2.1"/>
<path d="M920.8 217.2 L907.6 172.8 L920.8 185 L934 172.8 Z" fill="#000"/>
<path d="M1263.4 136.8 V180" stroke="#000" stroke-width="2.1"/>
<path d="M1263.4 217.2 L1250.2 172.8 L1263.4 185 L1276.6 172.8 Z" fill="#000"/>
<path d="M1334.6 136.8 V180" stroke="#000" stroke-width="2.1"/>
<path d="M1334.6 217.2 L1321.4 172.8 L1334.6 185 L1347.8 172.8 Z" fill="#000"/>
</g>
<g font-family="'Liberation Sans', Arial, Helvetica, sans-serif" fill="#000">
<text x="753.2" y="56.6" font-size="32" text-anchor="end">200</text>
<text x="753.2" y="283.2" font-size="32" text-anchor="end">0</text>
<text x="769.4" y="332" font-size="32" text-anchor="middle">0</text>
<text x="1472.8" y="332" font-size="32" text-anchor="middle">30</text>
<text x="1124.6" y="347.5" font-size="32" text-anchor="middle">Time (min)</text>
<text x="741.3" y="155.6" font-size="32" text-anchor="middle" transform="rotate(-90 741.3 155.6)">Current (pA)</text>
<text x="911" y="123.2" font-size="32" font-weight="bold">a)</text>
<text x="1253" y="123.2" font-size="32" font-weight="bold">b)</text>
<text x="1324.4" y="123.2" font-size="32" font-weight="bold">c)</text>
</g>
<g id="traces">
<path id="ta" d="M86.5 659.6l.1-2.2l.1 2.6l0-6.9l.1 10.3l.1-3.4l.1 2.7l0-4l.1-2.9l.1 3.9l.1-.2l0 3.5l.1 2.5l.1-3.2l.1 1.4l0 .1l.1-2.4l.1 1.6l.1 4.9l.1-4.5l0-.3l.1 4.7l.1-.5l.1 0l0-3.5l.1 1.5l.1-7.4l.1 .7l0 2.3l.1-1l.1 6.4l.1-3.7l0 1.8l.1-5l.1 3.8l.1-2.1l0-4.7l.1 3.7l.1 5.5l.1-4.9l.1-11.3l0 15.3l.1-2.2l.1-10.8l.1 5.1l0 .8l.1 7.3l.1-3.2l.1 .9l0-4.2l.1-3.2l.1 1l.1 4.9l0-4.7l.1 4.7l.1-4.1l.1 4.7l.1-5.9l0 1.7l.1 3.3l.1 1.9l.1-.9l0-1.6l.1 .4l.1-1.6l.1-3.4l0 .5l.1 4.1l.1-1.4l.1-3.3l0 13.8l.1-10.1l.1 1l.1-3.1l.1-1.4l0-2.4l.1 0l.1 9.5l.1-6.1l0 3.8l.1-1.8l.1-2.4l.1 6.8l0-3l.1-.3l.1-.2l.1 2.7l0-.5l.1-.1l.1-4.9l.1 .5l.1 1.2l0 4.6l.1-5.4l.1 2.1l.1 2.7l0 4l.1-5.2l.1-4.4l.1 5.2l0-1.8l.1 .3l.1-2l.1 5.9l0-2.5l.1 5.1l.1-7.5l.1-8.6l0 2.8l.1 6.4l.1-3.5l.1 6.1l.1 2.6l0-4.7l.1-1.9l.1 0l.1 1.6l0 1.7l.1-3.9l.1-.1l.1 1.2l0-.6l.1-1.1l.1 .3l.1 1.2l0-1.8l.1-1.3l.1 .4l.1 1.1l.1 .6l0 .4l.1 4.8l.1 .9l.1-4.4l0 2.6l.1 2l.1-7.3l.1 2.8l0 .2l.1-1.5l.1 12.7l.1-12.8l0-1.8l.1 3.9l.1-3.4l.1 3.3l.1-5.6l0 5.7l.1 3.3l.1-6.1l.1 .1l0-3.4l.1 13l.1-9.1l.1-1.5l0 .2l.1 1.7l.1 .4l.1 2.4l0 1.2l.1-8l.1 5l.1 4.7l0-2.7l.1 .3l.1 3.9l.1-7.4l.1 6.3l0 1.9l.1-4.7l.1 1.8l.1 .6l0-1.9l.1-5.1l.1 5.2l.1-5l0-5.8l.1 8.3l.1 3.6l.1 .6l0-8.5l.1 1.9l.1 2.9l.1-6.1l.1 9l0-8.3l.1 2.4l.1-4l.1 7.2l0-5.1l.1-3.4l.1 6.3l.1-.5l0 1.7l.1-.5l.1-4.9l.1-3.7l0 6.2l.1-1l.1 9.4l.1-6.6l.1 0l0-2.2l.1-1.4l.1 11.9l.1-2.1l0-5.4l.1 2l.1-.9l.1-2.2l0 2l.1-2l.1-1.8l.1 4.9l0-6.1l.1 3.7l.1-2.4l.1 6.2l.1-2.7l0-3.3l.1 3.3l.1-1l.1 3.3l0 1.9l.1-5.3l.1-.6l.1-1.4l0 1.6l.1-1.6l.1 7.6l.1-.8l0-1.2l.1 2.7l.1-5.9l.1 .8l0-1.9l.1 3.9l.1-.5l.1 3l.1-9.2l0 2.3l.1 9.4l.1-.6l.1-3.6l0-4.8l.1 .9l.1-2.3l.1 8.1l0-3.3l.1-1.5l.1-7.4l.1 5.7l0-5.3l.1 2.3l.1 2.3l.1 4.2l.1-6.8l0 2l.1 1.7l.1 .7l.1-2.3l0 4.2l.1 1l.1 2.2l.1-3.2l0 .7l.1 2.8l.1-5.7l.1 1.8l0 1.1l.1 1.7l.1 2.4l.1-1.7l.1-5.7l0 1.6l.1 1.7l.1-2.2l.1 2.1l0 1.9l.1-2l.1-2.2l.1 7.3l0-4.2l.1 2.3l.1-7.8l.1 1l0-1.6l.1 2.7l.1-.3l.1-3.4l.1 4.9l0 2.9l.1-4.9l.1 1.6l.1 3.8l0-3l.1 2.6l.1-2.7l.1 3.6l0-5.4l.1 2.9l.1 .9l.1-8.2l0 11.4l.1-8.2l.1 2.6l.1-1.1l0 0l.1 5.8l.1-2.4l.1 1.8l.1-6.3l0 3.6l.1 2.6l.1-.6l.1 1.2l0-5.2l.1 3l.1-3.4l.1 4.4l0-4.8l.1 2.2l.1-3.5l.1 8.8l0-7.5l.1 4.3l.1-2.6l.1 5.7l.1-4.9l0-2.2l.1 .9l.1-6l.1 5.3l0 .4l.1-1.2l.1 2.4l.1-1.7l0 1l.1-3.3l.1 4.7l.1-4.9l0 7.3l.1-3.3l.1 .8l.1 .3l.1-1.9l0 1.4l.1-1.7l.1 1.6l.1 .2l0-5.3l.1 1.5l.1 1.2l.1 1.6l0 5.6l.1-3.3l.1-2l.1 7.5l0 .5l.1-6.2l.1 .2l.1-3.3l0-1l.1-5.1l.1 2.3l.1-1.3l.1 2.8l0-.2l.1-.1l.1 .5l.1 .9l0 7l.1-8.4l.1 1.9l.1 .2l0-2l.1 3.6l.1 .8l.1-4.6l0 .9l.1 4.7l.1-2.2l.1-2.1l.1 2.2l0-3.3l.1 6.5l.1 .9l.1-3.5l0-.7l.1-.5l.1-2.4l.1-14.2l0 18.8l.1-2.4l.1-3.5l.1-1.5l0 6.8l.1 2.6l.1-3.6l.1 0l.1-6.8l0 3.4l.1 2.4l.1 5.8l.1-2.7l0 1.8l.1-6.9l.1-1.7l.1 3.9l0 2.4l.1-5l.1 1.7l.1-.7l0 .4l.1-10.4l.1 13.6l.1 3.8l.1-7.9l0 3.6l.1 1.3l.1 0l.1-1.8l0-3.3l.1 6.3l.1 5.2l.1-10.2l0 1.7l.1-3.3l.1 3l.1 2.1l0-5.1l.1 2.6l.1 .9l.1-3l0 2.9l.1-1.2l.1-6.2l.1 6.1l.1-1.6l0 1.4l.1-2.9l.1 2.8l.1-1.4l0 4l.1-5.8l.1 1.9l.1-2l0 .8l.1-1.8l.1 .4l.1 7.1l0-5.1l.1 .2l.1 7.6l.1-2.7l.1-1.5l0 2.7l.1-6.3l.1-3.3l.1 4l0 4l.1 2.1l.1-4.3l.1 4.8l0-1.5l.1-6.6l.1 4.5l.1-.1l0-1.4l.1 4.8l.1 1.7l.1-2.6l.1-4.9l0 5l.1-7.3l.1 3l.1 .2l0 1.2l.1-2.8l.1 5.1l.1-11.1l0 9.9l.1-11.4l.1 9l.1 1.3l0-3.9l.1 1l.1 4.2l.1-3.4l0 1.3l.1-1l.1-2.5l.1 2.8l.1-1.4l0 3.7l.1-.8l.1-6.4l.1 4.5l0 2.6l.1 1.2l.1-14.4l.1 11.5l0 2l.1-.4l.1-2l.1 2.4l0-5.7l.1 1.1l.1-5.3l.1 5.5l.1-1.9l0 5l.1 3.1l.1-2.5l.1-1.3l0-2.6l.1 4.7l.1-5.8l.1 1.9l0 2.5l.1-1.3l.1 6.6l.1-7.2l0-3l.1 5.9l.1 3.2l.1-2.6l.1-1.7l0 .3l.1 3.3l.1-4.2l.1-2.7l0 4l.1 1.8l.1-4.6l.1 .5l0 4.2l.1-5.6l.1 14.5l.1-13.8l0-.4l.1 .3l.1 5.1l.1-4.7l.1 2.2l0-1.4l.1 3l.1-3.9l.1 .5l0 5.8l.1-3.3l.1 1.4l.1-2l0-2.2l.1 4.9l.1-1.2l.1 2.6l0-4.3l.1-4l.1 .8l.1 2l0-4.1l.1 3.9l.1 3.5l.1 2.4l.1-3.6l0-.4l.1 1l.1-4l.1 .5l0 1.5l.1 .6l.1-2.6l.1 3.1l0-.1l.1-1.8l.1 .9l.1 1.3l0 2.9l.1-1.4l.1-1.3l.1-4.3l.1 6.7l0-3.5l.1-1.6l.1 3.5l.1-1.8l0 1.4l.1 1.3l.1 1l.1-4l0 1.1l.1 .2l.1 4.6l.1-7.7l0 6.3l.1 2.7l.1-10.1l.1 3.8l.1-2.8l0-4.2l.1 1.6l.1 8.9l.1-7.8l0 2.4l.1-3.6l.1-1.8l.1 3.1l0 .2l.1-.6l.1 1.6l.1-4.3l0 10.9l.1-2.6l.1 14.1l.1-13.8l.1-1.1l0-1.7l.1-.9l.1 4.7l.1-5.6l0 1.3l.1-1.5l.1 .3l.1 1.4l0-.9l.1-3.5l.1 5.4l.1-2.9l0-1.4l.1 6.9l.1-1.5l.1 1.8l0-5.6l.1 3.8l.1 3.7l.1-4.4l.1-1.6l0-2.5l.1 6.2l.1-1.7l.1-5.6l0 1l.1-1.3l.1-6.4l.1 12.5l0-8.3l.1 9.3l.1-2.5l.1-1.4l0-.6l.1 3.6l.1-3.7l.1 3.6l.1-.1l0 4.7l.1-15.9l.1 4.5l.1 2.9l0 3.3l.1-3.7l.1 1.8l.1 2l0-4.3l.1 3.7l.1 5.3l.1-10.9l0 1.2l.1 6.8l.1 1.3l.1-.3l.1 2.2l0-4.7l.1 .6l.1-3.8l.1 .6l0 4.3l.1-.2l.1-5l.1 4.8l0-3.6l.1 5.8l.1-3.6l.1-7l0 .4l.1 2.9l.1 1.3l.1-.3l0 2.1l.1-2.9l.1 12.6l.1-6.7l.1-5.1l0 4.9l.1-4.4l.1-1l.1-.1l0 1.3l.1-7.1l.1 8.3l.1-1.1l0 7.3l.1-4l.1-3.8l.1-3l0 8.8l.1-6l.1 2.5l.1-7.8l.1 10.3l0-3.1l.1-4.7l.1 1.5l.1-.8l0 4l.1 .4l.1-4.2l.1 4.2l0 3.5l.1-5.7l.1 5l.1-1.8l0-.1l.1-7.9l.1 7.3l.1-1.5l.1-.4l0 4.8l.1-5.6l.1-.5l.1-.4l0-6l.1 8l.1-4.4l.1 9l0-2.5l.1-.8l.1-4.3l.1 2.9l0 1l.1-1.3l.1 2l.1-.7l.1-1.7l0 1.3l.1 7.7l.1-5.9l.1-4.2l0 0l.1 .2l.1 .5l.1 .5l0 4.1l.1-4.8l.1 .8l.1 .8l0-4.2l.1 3.7l.1-2l.1 .7l0 2l.1-2.3l.1 .5l.1-1.6l.1-4.6l0 10.4l.1-2.3l.1 1.5l.1-6l0 1.8l.1 4.7l.1-1.8l.1 0l0 .4l.1-1.8l.1-3.8l.1 .8l0 6.7l.1-.4l.1 1.3l.1 3.3l.1-7.8l0-.7l.1-4.1l.1 8.1l.1-2.8l0 4.4l.1-3.7l.1 1.5l.1 1.8l0-2.2l.1-6.6l.1 6.6l.1 5.9l0-4.5l.1-4.3l.1 .5l.1 9.3l.1-12.6l0 6.3l.1-3.1l.1 1.6l.1 2.2l0-6.5l.1 2.5l.1-.4l.1-1.8l0 6l.1-6.7l.1-.3l.1 5.9l0-1.6l.1 4.7l.1-8.2l.1 4l0-2.1l.1-1.5l.1 3.6l.1 5.7l.1-11l0 8.9l.1-3.5l.1 2.3l.1-3.8l0-2.6l.1 .2l.1 3.8l.1-.4l0 5l.1-2.8l.1-.1l.1-2.6l0 1.3l.1-1.1l.1-.4l.1-2.6l.1 4.9l0-.5l.1 1.5l.1 1.8l.1-1l0-3.4l.1-.4l.1-.4l.1-.3l0 1.8l.1-1.5l.1 1.5l.1-1.9l0-.2l.1 2.2l.1-7.6l.1-.9l.1 7l0-1.4l.1 1l.1-.1l.1 2.2l0-.5l.1-9.5l.1 12.9l.1-.1l0-3l.1 4.9l.1-2.3l.1-6.5l0-1.6l.1 3.5l.1 2l.1 2.8l.1 2l0-5.8l.1-4.4l.1 2.9l.1 6.9l0-9.2l.1 2.9l.1-2.3l.1 .5l0-1.4l.1 6.2l.1-3.5l.1 .1l0 2.7l.1 2.3l.1-7.6l.1 1.8l0 3.8l.1-.6l.1-5.9l.1 3.3l.1-1l0 6.9l.1-5l.1-1.5l.1 15.2l0-9.2l.1-2.5l.1 1.2l.1-1.7l0-1.9l.1 4.9l.1 .9l.1-4.3l0 4.3l.1-1.6l.1 1.7l.1-5.9l.1-.4l0 4.7l.1 4l.1 5.2l.1-2.7l0-10.6l.1 1.8l.1-4.4l.1 2.5l0 6.4l.1-5.9l.1 5l.1-2.9l0 .6l.1 .9l.1 .7l.1-6.3l.1 7l0-2l.1-4.6l.1 10.6l.1-7.3l0 5.9l.1-2.6l.1-4.9l.1 1.9l0 .2l.1 2.6l.1-3l.1-.5l0 1.7l.1-.6l.1-1.9l.1 4.5l.1-4l0 1l.1-.3l.1-2.2l.1 4.3l0-5.2l.1 3.6l.1 1.8l.1-1.5l0-2.4l.1 7.1l.1-4.8l.1 3.6l0-4.4l.1-.3l.1 2.6l.1-.9l0-3.7l.1-.6l.1 3.5l.1 1.8l.1 1.8l0 .3l.1-3l.1 2.2l.1-5.9l0 .2l.1-2.1l.1 2.7l.1 2.5l0 1.4l.1-2.4l.1-4.2l.1 3.6l0-3.3l.1 3l.1-4.2l.1 1.5l.1 8l0-8.6l.1 6.1l.1 2.1l.1-6.5l0 .3l.1-1l.1 4.7l.1-2.1l0 1.2l.1 5.2l.1-4.6l.1-1.1l0-4.3l.1 4.3l.1 2.4l.1-2.3l.1 3.6l0-2.8l.1-2l.1 .1l.1 .9l0-1.8l.1-2.6l.1 1.9l.1 2.4l0-3.7l.1 2.2l.1-.5l.1-.8l0 2.2l.1 6.1l.1 .7l.1-7.7l0 2.8l.1-1.4l.1-.2l.1-.7l.1 4.2l0 2.7l.1-3.5l.1-2.4l.1-2.9l0-1.9l.1 4.8l.1-.8l.1 3.9l0-.4l.1-1.4l.1-2.1l.1 3.4l0-1.2l.1-2l.1-.9l.1-2.6l.1 2.6l0 1.3l.1 2.2l.1-5l.1-.3l0 4.2l.1 5.3l.1-2.3l.1-3.3l0-.9l.1-4.2l.1-1.7l.1 3.6l0-2.3l.1 3.5l.1 5.6l.1-8.5l.1 0l0 1.8l.1-1.5l.1 4.8l.1-2.4l0-4.2l.1 1l.1 2.2l.1 6.1l0-7.6l.1 5.9l.1-5.3l.1-.3l0 2l.1 .4l.1-1.7l.1 1.9l.1 .9l0 3.3l.1-1.6l.1-4.6l.1 6.5l0-10.4l.1 6.3l.1-1.5l.1 8.9l0-8.2l.1 3.1l.1-8.3l.1 4.4l0 3.7l.1 4.2l.1-8.1l.1 2.1l0-3.8l.1 8.3l.1-7.4l.1 3.2l.1-4.5l0 3.9l.1 2l.1-.7l.1-1.5l0 .9l.1-5.8l.1 10.2l.1 9.8l0-19l.1-1.2l.1 8.1l.1-3l0-1.9l.1 8.6l.1-8.8l.1-2.4l.1 4.6l0 0l.1 2.4l.1-3.8l.1 .3l0-5.3l.1 3.8l.1-2.5l.1 3l0 4.3l.1-2.9l.1 .6l.1 3.4l0-5.1l.1 7.1l.1-7.6l.1-3.8l.1 9.2l0-.1l.1 0l.1-4.9l.1 3.3l0-2.2l.1 2.5l.1 1.6l.1 .8l0-6.2l.1-5.6l.1 3.3l.1 6.2l0-5.5l.1-.3l.1 1.6l.1-4.8l0 2l.1 4.1l.1 .1l.1 3.6l.1-2.5l0-1.7l.1 3.9l.1-2.9l.1 1.7l0-1.1l.1 7.2l.1-8.8l.1-2.6l0 6.3l.1 .7l.1-.8l.1-2.1l0 .4l.1-4.9l.1 4.3l.1-4.2l.1 2.7l0 6l.1 .7l.1 .7l.1-11.4l0 5l.1-1l.1 2l.1-3l0 3.1l.1-.1l.1 4.5l.1-8.7l0 3.1l.1 3.1l.1-5.3l.1 .8l.1 4.3l0 4.1l.1 1.8l.1-6.5l.1 2.3l0 .4l.1-7l.1 3.3l.1-1.1l0 1.9l.1-6.1l.1 .5l.1 1.2l0 2.5l.1 4.3l.1-5.2l.1 1.9l.1-4.3l0 2.3l.1 .9l.1 4.4l.1-.3l0-11l.1 7l.1 3.7l.1-4.3l0-5.4l.1 5.9l.1 2.6l.1 2.6l0-3.5l.1-.7l.1 3.2l.1 .2l0-2.8l.1 1.6l.1 .1l.1-4.4l.1-1.6l0-1.6l.1 2.9l.1 5.1l.1 2.7l0 .2l.1 3.5l.1-8.5l.1-1.1l0 1.6l.1 .2l.1-6.7l.1 9.7l0-5.3l.1 3.1l.1 1l.1-3.4l.1 1.5l0-4.7l.1 7.8l.1 1.1l.1-1.1l0-3.8l.1 4.6l.1-3.6l.1 4l0 3.3l.1-4.6l.1 .9l.1-3l0-4.8l.1 2.3l.1-3.8l.1 4.7l.1 .8l0-8.4l.1 9.7l.1 3.4l.1-12.2l0 4.8l.1-1.8l.1 5.5l.1-3.9l0 2l.1-2.5l.1 .6l.1 3.2l0 6l.1-4.9l.1-.5l.1 .6l0-2.3l.1-1.1l.1-.9l.1 3.1l.1 .1l0 2.8l.1-5.2l.1 3.7l.1 .2l0 1.3l.1-3.8l.1 .8l.1-1.6l0 1.2l.1-2.6l.1 2.3l.1-3.5l0 6.6l.1-7.5l.1 15.9l.1-12.9l.1 .9l0-5.9l.1 2.6l.1 .9l.1 3.2l0 2.7l.1-.7l.1 .3l.1-1.9l0 3.4l.1-10.8l.1 .3l.1 1.4l0 7.2l.1-1.5l.1-3.3l.1-1.9l.1 2l0-4.8l.1 2.3l.1-4.7l.1 8.8l0-4.3l.1 2.2l.1-10.9l.1 12.5l0 .7l.1-2.5l.1-1.1l.1 1.3l0-2.4l.1 3.3l.1-4.5l.1 3.8l.1-3.4l0-3.4l.1 4.7l.1-2.3l.1 4.4l0-7.7l.1 4.6l.1-.6l.1 5.7l0-7.6l.1 2.4l.1-6.6l.1 9.9l0-4.9l.1 3.3l.1-2.4l.1 1.5l0 5.6l.1 3.4l.1-7.2l.1-1l.1-.2l0-3.1l.1 1.5l.1-2l.1-5.6l0 6l.1 8.2l.1 3.2l.1-9.6l0-.6l.1-.4l.1 4.1l.1 3.5l0-5.7l.1 2.9l.1-1.6l.1 2.9l.1 1l0-3.5l.1 .5l.1 2.2l.1 1.1l0-.4l.1 3.3l.1-5l.1 4.5l0-12.3l.1 16.2l.1-6.8l.1 4.4l0-5.1l.1 .2l.1-.5l.1 .9l.1-1.5l0-2.3l.1 4.5l.1-1.8l.1-.6l0-3.6l.1 6.2l.1 3.9l.1-9.8l0 4.9l.1-.7l.1 1.8l.1-1.2l0 .7l.1-5.5l.1 7l.1-4.1l.1 1.5l0 1.9l.1-7.6l.1 4.5l.1 6.9l0-7.2l.1-.3l.1 3.6l.1-5.7l0 1.6l.1 2.5l.1 2.3l.1-4l0 1.9l.1 2.2l.1 6.1l.1-8.3l0-1.7l.1-.4l.1-.7l.1 3.1l.1-2.8l0 1.4l.1 1.1l.1-4.4l.1 2.4l0-1.7l.1-3.2l.1 8.1l.1 .6l0 2.2l.1 2.5l.1-5.7l.1 .1l0 7.1l.1-12.9l.1 7.1l.1 .4l.1 3.5l0-.1l.1-5.2l.1-.3l.1-1.1l0-1.2l.1 4.3l.1 .4l.1-2.7l0 2.4l.1 .3l.1-1.8l.1 .7l0-5.6l.1 5.6l.1-4.5l.1 2.9l.1-1.4l0-1.2l.1 2.2l.1-3.1l.1 2.6l0 1.6l.1-5.5l.1 3.2l.1 8.4l0-3.9l.1-1.1l.1-.3l.1-4.4l0 1.6l.1 3.6l.1-13.3l.1 10.6l0-3l.1 3.4l.1 3.6l.1-2l.1 8.1l0-10.7l.1 1.3l.1 2.9l.1-2.2l0-2.2l.1-3.7l.1-1.8l.1 5.8l0-3.9l.1 2.3l.1 .6l.1 5.2l0 1.1l.1-3.7l.1 5.6l.1-6.8l.1 3.7l0-1l.1 3.3l.1-3.5l.1 2.5l0-1l.1-4.3l.1 3l.1 .7l0 1.4l.1 4.9l.1-9.3l.1 4.8l0 .5l.1-4.1l.1-6.3l.1 3.3l.1 4.5l0 .8l.1-2.5l.1-1.7l.1-.6l0-.1l.1-.7l.1 5.6l.1-1.5l0 2.5l.1 2.6l.1-.2l.1-5l0 .6l.1 10.2l.1-8.7l.1 .1l.1-5.9l0 1.3l.1-3.7l.1 5.8l.1 5.1l0-7.6l.1 .2l.1 1.2l.1-3.1l0 4.7l.1-1l.1 4l.1 .2l0 .1l.1-6.4l.1 .6l.1 2l0-.8l.1 1l.1 .1l.1-5.4l.1 5.8l0-.7l.1-2.7l.1 1.2l.1-49.4l0 4.1l.1-2.1l.1 5.6l.1-16l0 7.8l.1-1.4l.1-8.2l.1 23.4l0-7.9l.1 7.1l.1-8.9l.1 5.3l.1-7.7l0 12.1l.1-7.5l.1 2.4l.1 3.5l0-26.6l.1 21l.1 1.3l.1-3.6l0 1l.1 3.2l.1-2.7l.1 9.9l0-10.3l.1-3.1l.1 10.6l.1 35.4l.1-32.8l0 34.8l.1 .9l.1-2.1l.1 8.2l0-3l.1-3.5l.1 1l.1-1.3l0-1.5l.1-.8l.1-.5l.1 2l0 3.9l.1-2.4l.1 2.2l.1-4.8l0 2l.1 2.1l.1 .1l.1-1.9l.1-1.7l0-4.7l.1 8.9l.1-2.8l.1 3.9l0-1.3l.1-3.7l.1 2.3l.1 1l0-44.7l.1 2.5l.1 9.4l.1-12.6l0-6.8l.1 8.7l.1-.1l.1-1.3l.1-1.5l0 4.7l.1-30.5l.1 36.4l.1-9l0 .4l.1-13.2l.1-16.1l.1 20.7l0 5.8l.1-6.1l.1 .5l.1 18.4l0-20.5l.1 6l.1-2.6l.1 20l.1-2.3l0 36.9l.1-59.3l.1 12l.1-.4l0-6.1l.1 15.1l.1-18.7l.1-1.9l0 20.3l.1-3.1l.1 .8l.1 9.1l0-17.9l.1 17l.1-12.1l.1-9.7l.1 6.6l0 34.5l.1-41.5l.1-13.3l.1 19.9l0-2.9l.1-.8l.1 3.2l.1-5.3l0 2.2l.1 2.2l.1 4.8l.1-15l0 20.5l.1-9.4l.1 .6l.1-9.1l0 51.6l.1-33.8l.1-16.6l.1 46l.1 17.4l0-9.9l.1 2.2l.1-1.4l.1-4.4l0 7.3l.1-4l.1-.7l.1-.6l0-2.3l.1-.5l.1-3.4l.1 7.2l0 .4l.1-1.6l.1 2.2l.1-8.3l.1 8.3l0 1.6l.1 1.9l.1-1.3l.1 1.5l0-1.4l.1-4.9l.1 2.8l.1 .9l0-5.4l.1 4.8l.1-2.6l.1 .5l0 .5l.1-.4l.1 5.9l.1-.8l.1-1.5l0 8.6l.1-14.1l.1-1.4l.1 .9l0-1.7l.1 4.3l.1-3.2l.1-14.1l0-7.1l.1 0l.1-2.1l.1 .9l0-.9l.1-2.4l.1 4.4l.1-2.7l.1 3.6l0 24.5l.1-2.2l.1 .4l.1 5.7l0-2l.1-3.6l.1 3.7l.1-5.4l0 1.8l.1 3.6l.1-4l.1-1.4l0 2.5l.1-2.2l.1 2.2l.1 6.1l0-4l.1-.1l.1 2l.1-4.8l.1 0l0-6.5l.1 5l.1 2.5l.1 2.2l0-3.3l.1-1l.1 4.8l.1 .9l0-1.9l.1-.5l.1-3.1l.1 5.8l0-3.8l.1-3.1l.1 .2l.1 2.9l.1-2.4l0 1.3l.1-3.1l.1 6.3l.1-10.1l0 12.1l.1-8.4l.1-2.9l.1 4.4l0-33.3l.1-5.8l.1 5l.1-7.7l0 22.9l.1-9.4l.1-5.9l.1 17.5l.1-21.2l0 7.3l.1 3.1l.1 8.1l.1-22.3l0 1.4l.1 1.1l.1 11.2l.1 2.2l0-9.9l.1-10.4l.1 7.4l.1-3.9l0-.5l.1 21.5l.1-19.5l.1 10.3l0-7.3l.1 3.3l.1-4.4l.1 31.1l.1-39.3l0 12.1l.1 2.1l.1-4.8l.1 .8l0 4.9l.1-13.4l.1 4.8l.1 16.7l0-1.4l.1-6.2l.1-3l.1 3.9l0-12l.1 6.7l.1 8l.1-11.3l.1 10.4l0-17.3l.1 1.6l.1 15.4l.1-4.6l0-7.5l.1 8.8l.1 12.6l.1-7.2l0-6.4l.1-.9l.1 1l.1-5.1l0 35.3l.1 .2l.1 1.9l.1-1.9l.1-2.1l0 4.6l.1 5.8l.1-2.3l.1 3l0-1.5l.1-4.2l.1 6.7l.1-6.2l0-1.6l.1 2.8l.1 .3l.1 2.9l0-.3l.1-4.4l.1 1.9l.1-4.5l.1-6.6l0 9.1l.1 1.3l.1-6.3l.1 8.8l0-.7l.1-2.1l.1 1l.1-40l0 36.9l.1 .1l.1 4.2l.1 .5l0 .5l.1-.5l.1-6.2l.1 .5l0 .2l.1-4.1l.1 6.5l.1-.1l.1 4.7l0-7.2l.1 .6l.1-1.5l.1-.5l0 4.6l.1-4.8l.1 3.9l.1 2.1l0-6.7l.1 9.2l.1-4.9l.1-2.6l0 3.2l.1 .5l.1 3.2l.1-1.8l.1-1.2l0-.2l.1-2.2l.1-1.4l.1-39l0-4.5l.1 5.8l.1 1.4l.1-12.4l0 18.6l.1-15.6l.1-4.4l.1 18l0-1l.1-12l.1 15.3l.1-8.1l.1 .4l0 5.2l.1 39.7l.1-4.5l.1-3.1l0 5.9l.1-3.7l.1 5.9l.1-.5l0-6l.1 3.4l.1-6.8l.1-.8l0 4.7l.1 6.1l.1-.8l.1-36.8l0 37.9l.1-7.7l.1 3.4l.1-1.5l.1 3.6l0 5l.1-7.1l.1 .1l.1-.8l0-1.2l.1 2l.1 .5l.1-53.1l0-.2l.1-2.7l.1 12.1l.1-3.9l0-7l.1-2.8l.1-5.3l.1 20.7l.1-13.6l0 6.5l.1 2.7l.1-2.4l.1 9.7l0-7.2l.1-6.8l.1 3.9l.1-28.3l0 23.6l.1-2.4l.1 9.6l.1-7l0-19.5l.1 24.7l.1-17.3l.1 9.1l.1-.8l0 17.7l.1 42.5l.1 3.6l.1-6.2l0 2.5l.1-4.4l.1 7.3l.1-9.5l0 7l.1 .4l.1 4l.1-3.9l0-1l.1 .4l.1-1.7l.1 2.5l.1-4l0 4.7l.1 1.9l.1 0l.1 0l0-4l.1-2.5l.1-1.7l.1 2.9l0 5.6l.1-4.8l.1-2.3l.1 1l0-1.4l.1-2.5l.1-2.1l.1 .7l0-2.9l.1 5.6l.1 3.4l.1-1l.1-1l0 2.5l.1 .2l.1-5.3l.1 .1l0-2.3l.1 3.8l.1-4.8l.1 2l0 1.5l.1-5.1l.1 4.2l.1 1l0 3.7l.1 .2l.1-3.6l.1-3.5l.1 .3l0-2.1l.1 4.6l.1-.6l.1 1.3l0 5.9l.1 .5l.1-2.7l.1-2.9l0-8.7l.1 9l.1 4.9l.1-4.8l0-5.8l.1 10.7l.1-6.1l.1 2.8l.1 8.5l0-14.4l.1 1.7l.1 1.3l.1 1.7l0-3.7l.1 3.9l.1 4.1l.1-11.8l0 7.6l.1 2.9l.1-7.5l.1 2.2l0-.7l.1-1.3l.1-3.2l.1 2.2l.1 6.8l0-1.8l.1 .6l.1-3.6l.1-2.5l0 1.1l.1 .5l.1-1.9l.1 3.8l0-5.5l.1 3.6l.1-.7l.1 2.3l0-1.6l.1 8.5l.1-9.7l.1-4l0 5.4l.1 .1l.1 16.8l.1-18.7l.1 3l0 1.1l.1 1.7l.1-3l.1-1.2l0 8.4l.1-11.6l.1 4.8l.1-8.6l0-25l.1-5.6l.1 .2l.1 .6l0-5.9l.1 38.3l.1-25.9l.1 4.5l.1-14.1l0 5.7l.1-12.2l.1 7.5l.1-3.9l0 8.4l.1 36.4l.1 3l.1 .9l0-7.7l.1-.3l.1 5.4l.1-1.6l0-.2l.1-.1l.1-3.5l.1 4.3l.1-2l0-2.6l.1 4.5l.1-4.6l.1 .7l0 2.7l.1-1.6l.1 3.5l.1 1.5l0 2.9l.1-2.6l.1 2.3l.1-.4l0 3.1l.1-8.1l.1 4.7l.1 1.9l0 2.1l.1-3.3l.1-8.3l.1 9.2l.1-1.8l0 .1l.1-.4l.1-2.5l.1 5.1l0 2l.1-4.1l.1-4.9l.1-.9l0 2.3l.1 4.3l.1-4.5l.1-1.5l0 4.6l.1-.8l.1 .2l.1-1.9l.1 1l0-10.9l.1-33.6l.1 .3l.1-4.6l0 10.6l.1-24.7l.1 8.9l.1 5.3l0 1.3l.1 8.1l.1-7.5l.1-17.5l0 60.4l.1 4.6l.1-4.8l.1 5.5l.1-2.7l0-1.8l.1-.6l.1-2.4l.1-.9l0 4.4l.1 2.8l.1 1.6l.1-17.1l0 12.6l.1 1.6l.1 4.8l.1-.1l0-3.8l.1 3.6l.1-3.4l.1 9.7l.1-9.1l0-4.2l.1 3l.1-2.3l.1 1.7l0-1.9l.1-1.3l.1 8.4l.1-4.3l0-38.3l.1 16.4l.1 0l.1 18l0-10l.1-11l.1 1l.1-10.6l0 11.2l.1 23.9l.1 1l.1-2l.1-.1l0 .4l.1-.4l.1 2.5l.1-5.1l0 3.4l.1 3.8l.1-3.6l.1 7.1l0-4l.1-.5l.1-7.4l.1 4.7l0-2.9l.1-3.2l.1 6l.1 .7l.1 .2l0-2.5l.1 2.8l.1-5.7l.1 2.9l0-2.4l.1 5.3l.1-6l.1-.7l0 9l.1-1.1l.1-3.1l.1 .3l0-.6l.1 .6l.1-.1l.1-.9l.1-2.9l0 2.2l.1-.1l.1 3.7l.1-.4l0-5.9l.1 1.8l.1-.6l.1 5.1l0-5.2l.1 1.7l.1 1.1l.1 3.4l0-3.6l.1 .6l.1 3.6l.1-2.6l0-41.6l.1 4.1l.1 2.1l.1-11.1l.1-11.7l0 20.6l.1-4.2l.1 2.8l.1-10.3l0 2.9l.1-.4l.1 17.6l.1-14.2l0 8.6l.1 6.3l.1-20.4l.1-.3l0 6.8l.1 31.1l.1 7.8l.1-37.3l.1 5.1l0-6.9l.1-17l.1 31.1l.1-8.7l0-5.3l.1 37.9l.1-31.3l.1-13.7l0 13.2l.1-9.3l.1-3.9l.1 4l0-8.4l.1 10.5l.1 1.3l.1 3.3l.1-5.3l0 .4l.1-5.9l.1-1.1l.1-2.9l0 5.1l.1 6.4l.1-5.1l.1-.3l0 4.7l.1-3.8l.1 4.3l.1-4.9l0 5.4l.1 4.1l.1-17.4l.1 7l.1-8.7l0 23.2l.1-6.7l.1-7.3l.1 6.3l0-1.4l.1 4.7l.1 27.8l.1-42l0 21.2l.1 31.6l.1 1.5l.1-6.3l0 3.7l.1 5.1l.1-1.1l.1-3.6l0-3.2l.1 7.5l.1-1.5l.1-.7l.1 3.2l0-7.8l.1-2.9l.1 3l.1 2.8l0-1.6l.1-6.2l.1 2.3l.1 2.3l0 7.6l.1-5.6l.1 1l.1-1.5l0-.7l.1-1.2l.1 3.1l.1-1.7l.1 1l0-2.1l.1 1.7l.1 1.8l.1 .5l0-.4l.1-36.6l.1 1.4l.1-1.2l0 8.6l.1-2.5l.1 2.6l.1 9.7l0-17.4l.1 8.9l.1-1.5l.1-6.2l.1 14.9l0-19.1l.1 37.3l.1 1.3l.1-.6l0-3.5l.1 1.4l.1 0l.1-1l0 2.8l.1-1.5l.1-3.6l.1-7.1l0 13.3l.1-4.3l.1 2.2l.1-.1l0-.9l.1 1l.1 1.4l.1-1.4l.1-2.1l0 1.8l.1-.6l.1 4.3l.1-2.7l0 .8l.1-.1l.1-5.4l.1 5l0-.8l.1-2.4l.1-.8l.1 5.7l0-4.1l.1 4.3l.1-7.8l.1 4.6l.1-32.4l0 30.3l.1-3.6l.1 5.9l.1 1l0 2.7l.1-2l.1-2l.1 .5l0-2l.1 5.2l.1-8l.1 2.5l0 .5l.1 .6l.1 5.3l.1-5.4l.1-6.1l0 9.6l.1 3.1l.1-6.1l.1 1.7l0-38.6l.1 5.3l.1-8.4l.1 6.9l0-.1l.1-6.4l.1-2.2l.1-1.6l0 12.4l.1-4.9l.1-10.2l.1 3.8l.1 9l0-2.9l.1-9.9l.1 6.3l.1 10.8l0-5.6l.1-6.2l.1 43.2l.1-46.6l0-.8l.1 10.2l.1-6.7l.1 1.6l0-5.1l.1 12.5l.1-17.7l.1 25.2l0-20.3l.1 11.3l.1-23.6l.1 11l.1 1.6l0-3.4l.1 2.9l.1 10.4l.1 7.8l0-.4l.1-8.1l.1-4.1l.1 13.9l0-5.5l.1 7l.1-24.7l.1 10.7l0-.9l.1-25l.1 29.4l.1 17.4l.1-26.4l0-2.1l.1 0l.1 .7l.1-5.8l0 2.2l.1 10.2l.1-9l.1 9l0 2.3l.1-15l.1 18.6l.1-6.6l0 5.5l.1-9.3l.1 15l.1 29.5l.1 4.2l0-5.9l.1 6.1l.1-7.7l.1-2.6l0 6.9l.1-2l.1-7.9l.1-.3l0 6.3l.1 2.5l.1-61.4l.1 59.9l0 .2l.1-5.8l.1 1.5l.1 5.1l.1-7l0 3.6l.1-4.8l.1 .4l.1 7.1l0 2.3l.1-12.5l.1 13.6l.1-55.9l0 20.6l.1-5.7l.1-7.8l.1-.4l0 8.3l.1-4.1l.1 7.1l.1-7.5l0-1.9l.1 6.4l.1 4.1l.1-12.5l.1 .5l0 1.2l.1 4.5l.1 30.1l.1 1.9l0-27.9l.1-17.3l.1 3.2l.1 11.8l0-9.5l.1 2.8l.1 0l.1 .2l0-15.9l.1 16.5l.1 44.4l.1-48.5l.1 8.4l0 7.2l.1-5l.1-16.6l.1 43.4l0-29.8l.1-5.3l.1 5l.1-14.2l0 7.8l.1 13.2l.1-6.4l.1 .1l0-.5l.1-7l.1 8.3l.1-.1l.1-6l0 1.9l.1 5.4l.1-4.6l.1 4l0-10.5l.1 32.7l.1-14.6l.1 21.6l0-30.3l.1 3.6l.1-2.8l.1 3.1l0-19.7l.1 20.2l.1 .8l.1-.3l0-4.1l.1-5.8l.1 4.9l.1-5.7l.1 9l0-10.6l.1 12.1l.1-5.2l.1 8.8l0-10.7l.1 14.7l.1-3l.1-13.2l0 15l.1-2.5l.1-6.7l.1-3.2l0-1.1l.1-2.2l.1 7.3l.1 0l.1-5.7l0 2.7l.1-9.6l.1 21.2l.1-17.4l0-1.9l.1 50.5l.1 .7l.1 .4l0-4.1l.1 5.9l.1-4.1l.1 6.4l0-4.7l.1-2.1l.1 1.1l.1 1.8l.1-1l0-1.2l.1 .4l.1 1.9l.1-.7l0-4.4l.1 4.5l.1 3.2l.1 .2l0-4.2l.1-2.3l.1 3.8l.1 7.6l0-7.9l.1 2.7l.1-6.1l.1-.2l.1-1.9l0 3.6l.1 1.2l.1-3.2l.1-.1l0 2.3l.1-3.5l.1 8.6l.1-1.6l0-5.2l.1-.3l.1 1.2l.1-27l0-7.3l.1-9.8l.1-14.9l.1 21.4l0-7.4l.1 21.4l.1-16l.1-11l.1 11.2l0 13.1l.1-12.6l.1-4.4l.1 7.5l0 29.6l.1-37.8l.1 10.6l.1 21.1l0-33.3l.1 .1l.1 7.1l.1 29.7l0-31.4l.1-5.6l.1 18.3l.1-22.9l.1 18l0-3.3l.1 1.3l.1-1.5l.1-12.8l0-2.7l.1 8.5l.1-7.2l.1 7.5l0 .7l.1 3.8l.1-.2l.1-6l0 42.4l.1-40.2l.1-10.1l.1 42.7l.1-27.1l0-8l.1-6.1l.1 12.5l.1-7.1l0-7l.1 56.8l.1-33.7l.1-9.4l0 40.8l.1-7l.1 6.8l.1-3.2l0 2l.1 1.2l.1 3l.1-14.5l0 4.9l.1-2.3l.1 8l.1-3.1l.1-2.2l0 3.7l.1-2.2l.1-3.6l.1 1.2l0-2.5l.1 3.4l.1 2.1l.1 0l0-.6l.1 .8l.1 .5l.1-1.7l0 .5l.1-46.2l.1 5.3l.1-5.1l.1 13.6l0 4.2l.1 3.5l.1-2.9l.1 13.5l0-14l.1 .5l.1-2.8l.1-2.4l0 6.8l.1 1.8l.1 8.7l.1-3.8l0-7.5l.1-3.7l.1 .3l.1 1.5l.1-1.3l0 2.5l.1 1.1l.1 5.2l.1-21l0 15.2l.1 4.6l.1-10.1l.1 4.5l0-1.2l.1-4.6l.1-2.5l.1 4l0-2.4l.1-5.3l.1 6.7l.1 6.9l.1-4.8l0-9.3l.1 36.4l.1 3l.1 2.6l0-4l.1 1.5l.1 1.8l.1-4.1l0 7.3l.1-8.4l.1 2.9l.1-3.5l0-2.1l.1 2.4l.1-1.2l.1 6l0-3.4l.1 1.5l.1 5.7l.1-5.2l.1 1.1l0 2.6l.1 .6l.1-5.4l.1 3.1l0 1.1l.1-4.2l.1-2.2l.1 1l0 1.4l.1-17.3l.1 20l.1-.7l0-1.9l.1-3.4l.1 16.6l.1-7.5l.1-7.2l0 6.2l.1-2.5l.1 6.1l.1-8.1l0-4.3l.1 9.2l.1-5.1l.1 7.5l0 .9l.1 2.7l.1 3.7l.1-11.1l0-.8l.1 5.3l.1-6.4l.1 4.9l.1-51.5l0 52.2l.1-45.5l.1-7.8l.1 10.4l0 35.1l.1-45.5l.1 6.8l.1 3.8l0-10.4l.1 15.9l.1-10.6l.1-8.5l0 45.8l.1 6.5l.1-3.3l.1 5.6l.1 1.2l0-3.2l.1 1.8l.1-8.4l.1-18.4l0 25.9l.1 1.3l.1-1.7l.1-2.4l0-57.8l.1 55.3l.1 3.9l.1-31.9l0 4.8l.1-13.1l.1 0l.1 9l0 7.2l.1-9.7l.1 6.8l.1 22.6l.1-17.4l0 18.3l.1 8.4l.1-6.9l.1 4.7l0-37.7l.1 43.1l.1-9.2l.1-.1l0 3.2l.1-1.8l.1-2.2l.1-2.4l0-.6l.1 1.4l.1-.2l.1 3.9l.1 1.8l0 4.4l.1-6.7l.1 3.6l.1 0l0-1.3l.1-7.9l.1-5.5l.1 11.5l0 2.9l.1 .1l.1-3.7l.1-.2l0-.6l.1 6.2l.1-6.9l.1 1.5l.1-2.7l0 3.6l.1 5.6l.1-2.3l.1-6.3l0 1.6l.1 2.8l.1-3.4l.1-.6l0 1.7l.1-2.3l.1-.3l.1 1.4l0-.2l.1 .8l.1-1.9l.1 3.7l0-2l.1 .7l.1 5.7l.1 2.7l.1-10.6l0-2.1l.1 4l.1-3.2l.1 1.8l0-3.7l.1 8.7l.1-3.9l.1 1.9l0-2.9l.1 2.9l.1-4l.1 2.6l0-3.5l.1 5.5l.1-1.4l.1-3.5l.1 10.2l0-6.1l.1-4.8l.1-2.7l.1 4l0 3.3l.1-3.3l.1 3.8l.1-2.3l0-6.5l.1 3.4l.1 11.5l.1-3.7l0-3.9l.1 1l.1 2.2l.1-3.3l.1 2.8l0-11.3l.1 9.1l.1-.4l.1 3.5l0-4.1l.1 4l.1-2.5l.1-.4l0-1.6l.1-.3l.1 3.2l.1-4.1l0-8l.1 5.1l.1 2.9l.1 1l.1-2.3l0 .1l.1-1l.1 .1l.1 1.4l0 2.7l.1-.6l.1 .8l.1-1.2l0-2.5l.1-3.8l.1 7.9l.1-9.5l0 7.1l.1-7.3l.1 7.8l.1 2.4l0-.4l.1-.6l.1 .8l.1 5.8l.1-4.4l0-7.1l.1 3.2l.1 6.2l.1-3.7l0 0l.1-45l.1 43.6l.1 1.2l0-3.7l.1 5l.1-3.7l.1-.4l0 3.6l.1 1.4l.1-3l.1-.9l.1-3.8l0 2.2l.1 .5l.1-.3l.1 1.2l0-.6l.1 4.4l.1-5.6l.1 5.9l0 .2l.1-6.5l.1-4.1l.1 8.5l0-1.6l.1 .9l.1 1.9l.1 4.9l.1-7.1l0-1l.1-46.6l.1 41.3l.1 1l0 5.6l.1-15.2l.1 11l.1 3.5l0-18.8l.1 18.1l.1-3.4l.1 11.2l0-7.9l.1 .6l.1-.9l.1 .6l0 8.7l.1-5.8l.1 2.2l.1-.7l.1 3.3l0-3.2l.1 1.8l.1-2.2l.1 1.3l0-5.8l.1 5.9l.1-3.4l.1-3l0 2l.1-.7l.1 7.8l.1-4.6l0 1l.1 2.6l.1-6.2l.1 2.8l.1 .2l0-39.7l.1 33.3l.1 8.8l.1-.3l0-2.3l.1 1.9l.1 3.5l.1-8.9l0 8.1l.1-2.3l.1-.9l.1-4l0-.6l.1 5.1l.1-2.8l.1-5.8l.1 5.1l0 3l.1-2.2l.1 .5l.1 2.3l0-3l.1 2.5l.1 2.9l.1-1l0-11.2l.1 9l.1-1.1l.1 1.8l0-6.5l.1 6.1l.1-1.1l.1 .3l.1-3.6l0-4l.1 9.2l.1-4.7l.1 1.8l0-1.3l.1-2l.1 4.6l.1-3.3l0 5.6l.1-3.4l.1-.4l.1 .2l0-2.4l.1 2.9l.1 7.1l.1-3.2l0-28.6l.1-8.3l.1-.3l.1 2.9l.1-3.9l0 5.6l.1 .6l.1 1.6l.1-4.3l0-2.3l.1-3.3l.1 13.4l.1 15.8l0-29.2l.1 10.3l.1 .5l.1-8.4l0-5.8l.1 16.9l.1-1.3l.1 2.8l.1-3.8l0-1l.1-1.2l.1-6.8l.1 5.1l0 3.6l.1-5.4l.1-.6l.1 8.7l0-11.8l.1 10.7l.1-7.9l.1 5.7l0-9.8l.1-1.9l.1 .6l.1 16.3l.1-5.4l0 .8l.1-5.1l.1 6.5l.1-12.2l0 3.7l.1 4.7l.1 .6l.1 29.2l0 1.2l.1 1.7l.1 4l.1-3.5l0-4.4l.1-1.7l.1-7.6l.1 5.8l0 6l.1 1.1l.1 1l.1 3.6l.1-3.9l0 .2l.1 2.1l.1-.4l.1-4.7l0 1.4l.1-35.8l.1 6.9l.1-14.8l0-3.6l.1 1.1l.1 21l.1-12.8l0-17.3l.1 38.5l.1-21.7l.1-8.6l.1 10.2l0 1.3l.1-7.8l.1-6.2l.1 4.6l0 16.9l.1-13.5l.1 .6l.1 7.7l0-4.8l.1 8.1l.1-17.1l.1 8.3l0 32.4l.1-24.4l.1-4.7l.1-10.2l.1-.8l0 12.3l.1-8.5l.1 4.5l.1-2.2l0 3.3l.1-8.8l.1 4.4l.1-7.8l0-6l.1 11.1l.1 7.6l.1-6.2l0 2.9l.1 5.6l.1-7.7l.1-2.5l.1 35l0-27.6l.1 1.5l.1 1.3l.1-1.1l0-4.3l.1 6.6l.1-10.1l.1 29l0-25.7l.1-6.2l.1 6.3l.1 5.1l0-7.7l.1 37.4l.1-12.7l.1 12.9l0-1.6l.1 4.2l.1-3.5l.1 3l.1-2.4l0 .7l.1 1.2l.1 1.2l.1-2.6l0-.9l.1 4.4l.1-7.7l.1 1.7l0-2.3l.1-30.6l.1 34.3l.1-3.2l0-3.3l.1 2.9l.1 4.6l.1 .1l.1 2.5l0 6.7l.1-32.9l.1-15.9l.1 5.5l0 15.3l.1-6.6l.1 4.2l.1 1.2l0-4.5l.1-13.5l.1 33.4l.1-17.5l0-7.4l.1-5.7l.1 30.5l.1-17.7l.1-1.1l0 5.7l.1-7.9l.1-.7l.1-4.9l0 32.6l.1-31.2l.1 9.8l.1-5.6l0-2.4l.1 10.2l.1-11.6l.1-2l0-3.4l.1 10.2l.1-7.7l.1 3.9l.1-1.5l0-8.9l.1 17.9l.1-15.4l.1 22l0-15.6l.1-3.3l.1 1.1l.1 2.4l0 34.9l.1-1.2l.1-1.6l.1-3.1l0 6.1l.1-.7l.1-3.2l.1-33.8l0 30.5l.1 2.6l.1-1l.1 1.5l.1 2.9l0-1.1l.1 3.4l.1 2.5l.1-2.6l0 7.2l.1-13.5l.1 5.4l.1-3.7l0 .4l.1 4.5l.1-3.6l.1-.1l0-.6l.1-.1l.1 .4l.1 1.3l.1 2.3l0-2.4l.1 1.1l.1-1.4l.1 .4l0 4.1l.1 1.5l.1-3.9l.1-1.9l0-1.9l.1 .4l.1-1.4l.1-1.6l0 4.5l.1-5.2l.1 2.5l.1 3.2l.1 .9l0-3.3l.1 1.8l.1-2.9l.1 4.6l0 1.8l.1-4.3l.1 .9l.1 1.2l0 .2l.1 .2l.1-.6l.1 0l0-1.8l.1 2l.1-3.8l.1 1.5l0-1.4l.1-3.8l.1-.5l.1 .5l.1-.2l0 3.6l.1 9.1l.1-5.2l.1 .8l0 .7l.1-6.8l.1 4.6l.1-3.3l0-3.4l.1 5.6l.1-3.5l.1 2.8l0 7.4l.1-3.5l.1-5.6l.1 1.1l.1-1.5l0-.4l.1-.3l.1 .8l.1-1l0 5.4l.1-3.6l.1 9.6l.1-6.3l0 1.5l.1 3.3l.1 .1l.1-8l0 5.1l.1 7.2l.1-28.1l.1 22.2l.1-3.4l0 2.8l.1-1.4l.1-2.5l.1 8.5l0-6.9l.1-.8l.1 1.2l.1-.5l0-2.2l.1-.3l.1 1.3l.1 3.9l0 .2l.1-2.8l.1 .4l.1 3.5l.1-4.3l0 .3l.1-4.7l.1 4.2l.1-2.4l0 1.7l.1 1.5l.1-5.5l.1 7.5l0-1.6l.1-4.5l.1-27.5l.1 28.2l0-1.7l.1 1.3l.1 4.4l.1-4l0 3.2l.1-.6l.1-1.1l.1 .3l.1 .4l0-6.7l.1 4.3l.1-.6l.1 0l0-.3l.1 .7l.1-6.3l.1 4.5l0 3.5l.1-4.5l.1 7.6l.1-.3l0-4.2l.1-40.9l.1 3.8l.1-1.1l.1 2.1l0-8.3l.1 2.4l.1-4.4l.1-4.5l0 5.4l.1 3.1l.1 31.5l.1-40.8l0 10l.1-.1l.1-2.1l.1-7.6l0 7l.1 46.1l.1 .6l.1-.8l.1-1.8l0-2.6l.1 5.4l.1-9.5l.1 6.8l0 3l.1-3.1l.1 .6l.1-.6l0 3.2l.1-8.2l.1 5.1l.1-3.2l0 4.4l.1-.1l.1 3.9l.1-3.6l0-5.5l.1 5.4l.1-4.8l.1 5.6l.1 3.2l0-.8l.1-3.5l.1 1.6l.1-6.8l0-.1l.1 6l.1 0l.1 1.3l0-6.5l.1 2.6l.1 2.5l.1-3.8l0 7.5l.1-4.4l.1 2.5l.1-2.6l.1 5.3l0-9.4l.1 5.9l.1-4.8l.1 .9l0 1.6l.1 4.1l.1-1.1l.1-11.3l0 8.2l.1 1.8l.1-2.9l.1 2.6l0-2.3l.1 2.8l.1-4.5l.1 7.6l.1-5.4l0-1.7l.1 4.1l.1-8.4l.1 2.7l0 .5l.1-.1l.1-2.4l.1 2.7l0 8.7l.1-6.9l.1 3l.1 1.3l0 0l.1-3.5l.1-2.3l.1 2.5l.1-1.1l0 4.1l.1-8.2l.1-.2l.1 4.3l0 5.5l.1-6.9l.1-1.7l.1 1.5l0-40.4l.1 31.9l.1-42.5l.1 7.4l0 4l.1-.4l.1 37.6l.1-43.7l0-11.3l.1 12l.1 3.1l.1 7.1l.1-7.6l0-2.5l.1-9.7l.1 6.8l.1 5.3l0 14.8l.1-15.7l.1 7.2l.1-4.1l0-7.9l.1 4.6l.1-.5l.1 7.5l0-12l.1 8.9l.1-2.9l.1-2.1l.1-2.9l0 1.7l.1 39.7l.1-32.5l.1-9.2l0-13.7l.1-1.2l.1 15.2l.1-9.1l0 3.2l.1 52.1l.1 .5l.1 .6l0-1.9l.1 .3l.1-2.1l.1-.2l.1 12.1l0-6.1l.1-7.5l.1 .9l.1 3.8l0-4.6l.1-3.5l.1 9.5l.1-.7l0-2l.1 3l.1-.8l.1-.8l0-4.7l.1 2.4l.1 1l.1 1l.1 5.5l0-5.4l.1 3.8l.1 .4l.1-.3l0-.9l.1-2.6l.1 3l.1-6.3l0 12.6l.1-57.7l.1 44.8l.1-2.6l0 12.2l.1-5.5l.1 3.5l.1 1.4l0-10.1l.1 1.9l.1 4.7l.1-5.5l.1-1.6l0 3.7l.1 2.1l.1 0l.1-4.4l0 10l.1-4.2l.1-33l.1 32.2l0-38.3l.1-5.9l.1 6l.1-7.6l0-8.6l.1 15.6l.1-2.2l.1 8.3l.1-3l0-1.1l.1 10.9l.1-12.2l.1-8.4l0 4.7l.1-4.3l.1 3l.1 5.1l0 2.9l.1-2.1l.1 2.3l.1-9.1l0 .8l.1-3.1l.1 11.4l.1-5.1l.1-2.6l0-.7l.1 3.7l.1-7l.1 8.4l0-12.8l.1 28.7l.1-35.8l.1 20.8l0 8.9l.1-16.8l.1-3.4l.1-2.8l0 11.5l.1 .5l.1-11.4l.1 6l0-2.1l.1 .4l.1 6.6l.1-2.7l.1-11.3l0 4.2l.1 15.8l.1-4.9l.1-7.3l0 15.2l.1-16.3l.1 3.9l.1-4l0-2.3l.1 12.3l.1 1.8l.1-4.9l0-2.6l.1-1.4l.1 38.2l.1-33.2l.1-3.5l0 5.2l.1-2l.1-5.9l.1-.1l0-.2l.1 8.2l.1-3.5l.1-.8l0 1.8l.1 5.8l.1-10.6l.1 .5l0 .3l.1 5.6l.1-17.8l.1 18.2l.1 .9l0-10.8l.1 18l.1-7.2l.1-8.3l0-14.8l.1 14.1l.1-7.7l.1 3.1l0 5.4l.1 41l.1 8.5l.1-3.8l0-1.7l.1 4.2l.1-9.5l.1 8.8l.1-2.8l0 4.8l.1-5.1l.1 1.2l.1-21.5l0 19.1l.1 3.4l.1-4.5l.1 6.6l0-1l.1-4.1l.1 1l.1 4.3l0-.8l.1 .8l.1-3.2l.1 3.6l0-5.9l.1-2.1l.1-1.8l.1-2l.1 10.5l0-5.2l.1 11.6l.1 2.1l.1-9.7l0-1.9l.1-2l.1 4.3l.1-3.9l0 .1l.1 6.5l.1 3.6l.1-12l0 1.2l.1 12.1l.1-8.4l.1-2.8l.1 4.6l0-.9l.1-1.4l.1-1.2l.1-1.6l0-3.1l.1 11.8l.1-5.3l.1-1l0-.9l.1 2.8l.1-1.6l.1-2.4l0 6.5l.1-3.9l.1 .2l.1 1.4l.1-.7l0 4.8l.1-9.2l.1 3.5l.1 .8l0-2.8l.1 4.7l.1 .3l.1 5.9l0-9.5l.1 4l.1-.3l.1-2.3l0-2.1l.1 6.1l.1-1.1l.1-.6l0-4l.1-5.8l.1 9.1l.1-3.2l.1 4.3l0-2.7l.1 1.4l.1-4.3l.1-.8l0 2.8l.1 .7l.1 4.7l.1 .2l0-6.7l.1 2.1l.1-1.5l.1-1.4l0 3.9l.1-5.7l.1 4l.1-1.3l.1-2.3l0 3.1l.1 2.9l.1 .5l.1-6.6l0 .3l.1 3.1l.1-17.8l.1 18.7l0-4.7l.1 4.7l.1-.3l.1 1.6l0-1.6l.1-.3l.1-1.4l.1-.7l.1-1.7l0 2.3l.1-.7l.1 1.5l.1-2.5l0-.2l.1 .2l.1 2l.1-1.3l0 1.7l.1 4l.1-2.1l.1 0l0-1.3l.1-1.1l.1-1.1l.1-.2l.1-1.1l0 1.8l.1 3.1l.1-.4l.1 1.9l0 4l.1 .2l.1-4.1l.1-4.3l0-.5l.1-1.7l.1 0l.1 1.3l0-3.1l.1 5.3l.1 2.6l.1-.7l0-2.1l.1-3.6l.1 2.3l.1-.7l.1 3.2l0 3l.1-6.9l.1 4.3l.1 2l0-4.5l.1-1.1l.1 2.9l.1-1.1l0-1.5l.1-1l.1 2.2l.1-4.5l0 3.8l.1 .6l.1-2.8l.1 4.1l.1-3.9l0 4.7l.1-2.9l.1-4.4l.1 3.3l0 4.4l.1 6.8l.1-7l.1 4.1l0-4.3l.1 .9l.1 .2l.1 10.5l0-17.6l.1 4.5l.1 2l.1-5.9l.1 8.3l0-7.5l.1 1.9l.1 3.9l.1 1.6l0-.1l.1 1l.1-3.6l.1-4.2l0 3.4l.1-2.7l.1 2.6l.1-4l0 4l.1-3.2l.1-1.4l.1 .5l.1 1.5l0-.3l.1-1.7l.1 .8l.1-.9l0-.5l.1 .4l.1-1.4l.1 1.3l0 14.7l.1-10.1l.1-3.3l.1 4.2l0 4.3l.1-2l.1-2.4l.1 3.2l0-8.7l.1 8.3l.1-2l.1 2.1l.1-.8l0-.9l.1-3.2l.1-6.2l.1 11.6l0-7.8l.1 8.8l.1-8.2l.1 2.8l0 3.9l.1 4l.1-6.7l.1 .5l0 2.4l.1-1.7l.1 3.2l.1-4.4l.1 3.5l0-2.2l.1-4.6l.1 3.6l.1 3.8l0 .1l.1-4.6l.1-1.1l.1 2.5l0-5.7l.1 .6l.1 4.5l.1-2.9l0-.8l.1-.3l.1-2.5l.1 .4l.1 8.3l0-9l.1 6.5l.1 .3l.1-.1l0 4.9l.1-3.2l.1 2.2l.1-6.6l0-1.2l.1 3.7l.1-1.4l.1 4.1l0 1l.1-6.5l.1-1.5l.1 5.8l0 5.8l.1-6.9l.1 2.3l.1-4.1l.1-6.7l0 4.8l.1 .3l.1-.4l.1 .8l0 1.5l.1-3.4l.1 3l.1-1.4l0-.7l.1 5.7l.1-2l.1-.8l0-3.3l.1 3.7l.1-5l.1 5.1l.1-6.8l0 5l.1 12.1l.1-20.7l.1 10.1l0-1.7l.1-2.6l.1 .2l.1 2.4l0-1.2l.1 10.5l.1-6.9l.1-.9l0 3.6l.1 .8l.1-2.7l.1 .9l.1-2.6l0 1.6l.1 .5l.1 2.4l.1-6.8l0 1.4l.1-4.1l.1 6.5l.1 2.6l0-2.5l.1-6.6l.1 3.7l.1 4l0-5.1l.1 .8l.1 0l.1-1.5l.1 4.1l0-2.4l.1 2l.1-3.8l.1-2.1l0 4.2l.1-4.1l.1 7.9l.1 .3l0-3.2l.1 1.1l.1 .4l.1 .3l0 1l.1-1.9l.1 1.5l.1-2.5l0 8l.1-3.9l.1-1l.1 2l.1-11.8l0 1.5l.1-2.5l.1-3.1l.1-.4l0-.9l.1-1.7l.1-7.8l.1 10.7l0 .2l.1-.5l.1-.4l.1 4.9l0-1.2l.1 .7l.1 3l.1-6l.1 2.7l0 4.7l.1-6.4l.1 6.2l.1-7.3l0 3.1l.1-2.3l.1 1.3l.1 .4l0-1.8l.1-2.3l.1-.1l.1 .7l0-1.7l.1 1.4l.1 2.1l.1 2.9l.1 1.7l0-6.6l.1 .8l.1 .4l.1 .2l0 9.9l.1-1.9l.1 7l.1-3.7l0-2.2l.1-3.9l.1 4.4l.1-.6l0 3.8l.1-4.4l.1-4l.1 5.2l0 5.5l.1-7.4l.1-1.6l.1 4.3l.1 1.8l0 .9l.1 .4l.1 1.8l.1 .5l0-.3l.1-6.4l.1 .5l.1-1l0 6.8l.1-4.4l.1 .6l.1-2.8l0-1.6l.1 3.8l.1-.1l.1-3.8l.1 9.3l0-9.4l.1 1.5l.1-.5l.1-1.2l0-2.3l.1-1.2l.1 7.8l.1 .2l0-4.2l.1 .4l.1-.8l.1 9.3l0-7.2l.1 3.1l.1-2.5l.1 11.9l.1-12.9l0 3l.1 2.3l.1-6.2l.1 2.2l0 3.8l.1 1l.1 .5l.1-3.9l0-4.3l.1 2.2l.1-.8l.1 6.9l0 .4l.1-5.3l.1-2.4l.1 1.9l.1-11.6l0 13.3l.1-2.3l.1-2.6l.1 2.5l0-.2l.1-4.2l.1-.2l.1-.1l0 2.4l.1 3.6l.1-3.3l.1 3.2l0-.5l.1-.2l.1-2.8l.1-2.8l0 1.7l.1 4.9l.1-3.8l.1 2.6l.1 .3l0-.5l.1-1l.1 4.7l.1-6.6l0 3.4l.1 1.5l.1-3.9l.1 .9l0 3.8l.1-4.4l.1-3.3l.1 6l0-2.4l.1 3.5l.1-4.3l.1 2.7l.1-2.8l0 3.2l.1 .8l.1-4.1l.1 3l0 9l.1-15.8l.1 5.6l.1 .2l0-1.2l.1-.3l.1-4.8l.1 14.9l0-9.7l.1 2.8l.1 2.5l.1 2.2l.1-8.1l0 5.3l.1-6.7l.1 6.9l.1 4.1l0-7l.1 5.6l.1-7.1l.1 1.6l0 3.9l.1 2.1l.1-3.2l.1-2.7l0-4.7l.1 2l.1-2l.1 8.3l0-5.4l.1 7.4l.1 4.4l.1-8.9l.1-2.2l0-.2l.1 6.7l.1-6.6l.1 6.5l0-1.8l.1 .7l.1-4.3l.1 5l0 .9l.1-11.1l.1 5.3l.1 2.8l0 2.7l.1-3.8l.1-.1l.1 3.1l.1-3.4l0-1.3l.1-1.5l.1 1.5l.1-2.5l0-.6l.1 1.7l.1 0l.1 5.4l0-2.3l.1-6.6l.1-2.2l.1 3.5l0 2.2l.1 6.6l.1-1.7l.1 1.8l.1-3.9l0 1.2l.1-5.9l.1 1.7l.1-2.2l0-2.2l.1 4.4l.1-3.2l.1 9.2l0-2l.1-5.2l.1 2.4l.1 1.1l0-2.8l.1 0l.1 .3l.1 .3l.1 2.9l0 .6l.1-2.1l.1-5.7l.1 .1l0 5.2l.1 3.8l.1-1.5l.1-3.5l0 3.7l.1 2.6l.1-6.2l.1-7l0 9.2l.1-1.6l.1 2.1l.1-1.6l0 1.5l.1-4.1l.1 2l.1 .8l.1-3.1l0 4.3l.1-5.4l.1-3l.1 3.4l0-1.2l.1 4.6l.1 3.6l.1-1.3l0-5.1l.1 1.8l.1 .3l.1 .4l0 4l.1-.8l.1 .5l.1-5.6l.1 2.1l0-.4l.1-2.7l.1-2.7l.1 5.8l0 1.2l.1-6.6l.1 5.5l.1 1.9l0-2.5l.1 .1l.1 1.9l.1 2.4l0-.9l.1-2.9l.1 3.5l.1-1.2l.1-4.1l0 1.9l.1 4.5l.1 3.1l.1-5.3l0 2.4l.1-4.9l.1-1l.1 2.4l0-2.5l.1-3.4l.1 5.9l.1-2.4l0 2.1l.1 3.1l.1 2.5l.1 .4l.1-8.9l0 3l.1-2.7l.1-5.2l.1 3.2l0 .5l.1 6.9l.1-.2l.1-12.3l0 8.2l.1 2.9l.1-2.3l.1 4.6l0-3.6l.1 .7l.1-2.9l.1 1.9l0 3.7l.1-3.8l.1 2.4l.1 1.5l.1-.1l0-1.7l.1 1.7l.1-1.7l.1-5.2l0 3.3l.1 4l.1 .1l.1-.1l0-4.8l.1-1l.1 1.7l.1-.6l0 1l.1 1.5l.1 .3l.1 .6l.1-8.3l0 3.2l.1-6.7l.1 11.7l.1 1.7l0-4.9l.1 4.5l.1-.5l.1-5.3l0 6.7l.1-9.3l.1 5.1l.1-2.5l0-2.4l.1 .6l.1 3.1l.1-.1l.1-3l0-.7l.1 8l.1 .3l.1 1.3l0-5.1l.1-1l.1 1.1l.1 5.2l0-7.3l.1-4.3l.1 3.9l.1 4.1l0 .8l.1-3.1l.1 10.9l.1 2.9l0-13.6l.1 3.2l.1-2l.1-3.7l.1 8.4l0-3.5l.1 1.9l.1 1l.1-2.6l0-3l.1-1.3l.1 .3l.1 2.9l0 6.6l.1-4.9l.1-3.3l.1-1l0 3l.1 0l.1-.6l.1 1l.1 1.3l0-2.6l.1-3.6l.1 4.3l.1-1.2l0-3.8l.1 9.3l.1-7.4l.1 5.4l0-5.6l.1 5.3l.1 1.6l.1-5.6l0 .2l.1 5.6l.1-3.2l.1-.7l.1-2.9l0-3.6l.1 4.2l.1 4.7l.1 1.2l0-6l.1-1.6l.1 3.3l.1 .6l0 6.3l.1-1.3l.1-4.9l.1 2.1l0-2.9l.1 4l.1-2.5l.1 1.3l.1 .3l0-4.8l.1-6.2l.1 4l.1 3.2l0 .5l.1 1.6l.1-5.5l.1 2.4l0 6.5l.1-7.2l.1 2l.1 2.4l0-1.5l.1-4.4l.1 2.5l.1 2.1l0-2.5l.1-1.4l.1-4l.1 6.2l.1 1.4l0-4l.1-1.1l.1-3.2l.1 5.8l0-4.6l.1 3.8l.1 2.3l.1 4.4l0-1.4l.1 .4l.1-3.9l.1 2.6l0-.1l.1 1.7l.1-3.5l.1 2.3l.1-1.4l0 6.2l.1-3.7l.1-3.5l.1 5l0-1.2l.1 .6l.1-.8l.1-5.5l0 4.6l.1-1.3l.1-7l.1 2.8l0 1.9l.1 3.3l.1 1.9l.1-3l.1 .8l0-.7l.1 .7l.1-4.4l.1 .8l0-5l.1 6.6l.1-3.8l.1 4.1l0-3.9l.1-5.5l.1-4.1l.1 5.2l0-3.6l.1 .2l.1 1.7l.1-10.3l0 6.7l.1 2.7l.1 4.7l.1-8.2l.1 5.2l0 3.9l.1-.3l.1-5.5l.1-.3l0-.3l.1-2.9l.1 3.4l.1 4.2l0-3l.1-8.8l.1 8.8l.1 2.2l0-2.6l.1-1.3l.1 8.8l.1 2.2l.1 9.3l0-11.2l.1 1.7l.1-3.1l.1 .5l0 5.9l.1 4.2l.1-3.4l.1 .9l0-1l.1 3.1l.1-2.5l.1-1l0 2.5l.1-4.1l.1 .4l.1 1l.1-7.1l0 5.7l.1-.8l.1 4.7l.1 3.2l0-7l.1 1.6l.1 1.4l.1-13.4l0 9.6l.1 11.2l.1 .7l.1-10.2l0-4.5l.1 3.1l.1-.4l.1-4.3l.1 2.8l0-2.3l.1 1.3l.1 1.8l.1-2.1l0 7l.1 3.1l.1-7.5l.1-1.6l0 .4l.1-3.4l.1 3.6l.1 .3l0-1.6l.1 5.1l.1-2.9l.1 .8l0-4.9l.1-.6l.1-2l.1-6.7l.1 9.5l0 1.9l.1 3.2l.1-7.9l.1 5.6l0 7.7l.1-8.9l.1 2.4l.1 5l0-11.2l.1-.7l.1 10.8l.1-7.9l0-.2l.1-1.8l.1 8.1l.1 0l.1-.5l0-.4l.1-37.4l.1 32.7l.1-2.3l0 .8l.1 3.8l.1 2.1l.1-11.2l0 9l.1-.2l.1 4.5l.1-.6l0-4.1l.1 4.4l.1-.2l.1-4.2l.1 1.6l0 2.2l.1 1.5l.1-1l.1 7.7l0-8.9l.1 4l.1-1.3l.1-.7l0-4l.1 1.6l.1-3l.1 7.6l0-5.8l.1 4.8l.1-4.1l.1 5l.1-4.8l0-.8l.1 .5l.1 .4l.1-4.3l0-2.8l.1 4.4l.1 1.2l.1 1.5l0-.6l.1-1.5l.1 4.6l.1-1.6l0-4.7l.1-5.2l.1 5l.1 1.9l0-6.1l.1 7.2l.1-6.7l.1 5.4l.1 1l0-.4l.1 1.7l.1-5.3l.1 1.5l0 5.9l.1-1.4l.1-3l.1-3.6l0 6l.1 0l.1 7.4l.1-7.1l0 1.6l.1 5.7l.1-6.3l.1-2.7l.1 1.2l0 1.7l.1 5.6l.1-9.6l.1 3.8l0 3.9l.1-9.6l.1 3.8l.1 2.7l0-.8l.1-3l.1-.2l.1 2.8l0 1.1l.1-4.9l.1-2.6l.1 6.6l.1-3.6l0 1.8l.1-2.4l.1 3.4l.1-6.7l0 5.1l.1 .5l.1-5.8l.1 .2l0-2.2l.1 2.4l.1 4.2l.1 8.2l0-5.6l.1-11.1l.1 4.2l.1 .2l0-4l.1 10l.1-4.8l.1 2.5l.1 .7l0 3.2l.1-6.1l.1 1.8l.1-.8l0-4.7l.1 2.6l.1 4.8l.1-5.3l0 .4l.1-2.4l.1 4.5l.1 1.5l0-3.7l.1-7.2l.1 2.4l.1 2.8l.1 3.1l0 2.9l.1-4.3l.1 7.5l.1-4.9l0 2.9l.1 3.5l.1-12.5l.1 6.5l0-1.3l.1-4.1l.1 2.4l.1 1.3l0 3.9l.1-.2l.1 .4l.1-2l.1 2.1l0-2.5l.1-.7l.1 1.9l.1-12.3l0 17.8l.1-5.3l.1 3.3l.1-7.2l0 2.2l.1 1.9l.1-4.6l.1 1.2l0-6.4l.1 6.7l.1-4.4l.1 4.1l.1 .1l0-7.9l.1 3.8l.1 5.4l.1-3.6l0-1.9l.1 4.8l.1-2.7l.1-5.1l0 1.4l.1 2.5l.1 5.7l.1-7l0 2.6l.1 .3l.1-4.5l.1-1.7l0-.6l.1 4.4l.1-6.6l.1 5.2l.1 7.2l0-.1l.1-1.1l.1-3.7l.1 2.8l0-5.8l.1 .8l.1 7.3l.1-7.3l0-.2l.1-4.2l.1 1.2l.1 .5l0 3.4l.1 1.5l.1-.2l.1-1.5l.1 3.2l0-4.3l.1 9.9l.1-7.7l.1 6.6l0-4.4l.1 .3l.1-.4l.1 .4l0 4.5l.1 .8l.1-2.8l.1 2.5l0 1.3l.1-4.6l.1 5l.1 0l.1-4.7l0-.2l.1 4.6l.1-1.5l.1-.5l0-3.2l.1 2.7l.1 .3l.1 3.2l0-5.8l.1 .4l.1 2l.1 1.5l0-5.4l.1 5l.1-2.5l.1-.4l0 2.3l.1-4.4l.1 2.8l.1-.1l.1-.2l0-1l.1-9.1l.1 16.6l.1-5.5l0 4l.1-1.3l.1 2.3l.1-1.7l0-.1l.1 1.1l.1 2l.1-2.8l0-5.7l.1 5.8l.1 .7l.1-4.8l.1-1.8l0 3.7l.1-4.3l.1 2.8l.1 2.2l0-1.1l.1 7.6l.1-6l.1 1.7l0 2.4l.1-1.3l.1-2.1l.1 5l0-5.5l.1 5.6l.1-6.1l.1 1.5l.1 3.7l0-4.4l.1 .4l.1 .6l.1-2.1l0-3.1l.1-.9l.1 5.2l.1-2.6l0 3.8l.1 1.8l.1 2.1l.1-7.6l0-.5l.1 .8l.1 .9l.1 2.1l.1-.7l0-.8l.1 6.9l.1-9.7l.1 3.3l0 1.9l.1 0l.1-6.7l.1 3.1l0-2l.1 2.4l.1 .5l.1-3.7l0-.1l.1 .5l.1 4.9l.1-2.9l0 2.6l.1-5l.1 5.7l.1-10.2l.1 6.1l0 2l.1-4.7l.1 3.2l.1-1.1l0 .4l.1 4.6l.1-.4l.1-4.4l0 12.1l.1-11.8l.1 6.1l.1-5.8l0 5l.1-2l.1 4.7l.1 8.9l.1-10.4l0-4.5l.1 4.7l.1-1.3l.1 .6l0-5.6l.1 1.2l.1 3.1l.1 .6l0-1.6l.1-.2l.1-3.9l.1 3.7l0-3.1l.1 1.8l.1-1.9l.1-1.4l.1 .3l0-1.9l.1 8.6l.1-2.2l.1-1.1l0-1.5l.1 1.5l.1 .7l.1-2.4l0-1.6l.1-2.3l.1 5.5l.1 2.3l0-2.5l.1-.3l.1-7.9l.1-1.1l.1-.3l0 4l.1 1.1l.1-1.2l.1-2.1l0 .4l.1 3.5l.1-4.5l.1-.8l0 2l.1 1.3l.1 3.5l.1-3.1l0 2.7l.1-2.4l.1-.5l.1-.8l0-3.9l.1 6.2l.1-.1l.1-4.5l.1 4.9l0-4.7l.1 7.4l.1 2.7l.1 2.2l0 2.6l.1 1.1l.1-8l.1-1.5l0 5.6l.1-5.6l.1-2.7l.1 1.1l0 4.1l.1-4.3l.1 5.2l.1-5.3l.1-1l0 3l.1 .5l.1 4.2l.1-2.9l0 .7l.1 .3l.1-8.6l.1 2.7l0 3.2l.1 .7l.1 .5l.1-2.1l0-1l.1-2.4l.1 3.4l.1-2.4l.1 4.1l0-6.3l.1-2.3l.1 6l.1 1l0 6.7l.1 .9l.1-.9l.1-4.3l0-4.3l.1 7.3l.1-2.5l.1 0l0 .7l.1 5.1l.1-1.9l.1-1.1l0 1.2l.1 1l.1-2.2l.1-2.1l.1 .9l0-.2l.1 1.2l.1 2.9l.1-1l0-2.3l.1 1.1l.1-3.3l.1-2l0-.8l.1-1.2l.1 1.1l.1 1.2l0-.9l.1 .2l.1 4.7l.1-2l.1 2.9l0-2.1l.1-2.7l.1 6.7l.1-1.6l0-6l.1 3.2l.1 5.5l.1-8.7l0-.4l.1 3.4l.1-2.3l.1 5.3l0-5.6l.1 4.1l.1 4.9l.1-8.7l.1-.3l0-.2l.1 3l.1-1.7l.1 1.3l0 1.5l.1-3.4l.1-.3l.1 3.7l0 2.2l.1 1.1l.1-2.2l.1-7.5l0 4.3l.1 2.5l.1-1.2l.1 1.4l.1-.1l0-2.9l.1 4.3l.1-1.2l.1-5.6l0-2l.1 7.5l.1-2.5l.1 .6l0 1.8l.1-1.5l.1 1.6l.1 .6l0-3.6l.1 3.3l.1-2.1l.1 .1l0-2.4l.1-1.8l.1-1.4l.1 6.5l.1-4.9l0 1l.1 1.4l.1-2l.1 3.1l0-1.1l.1-4.6l.1-18.3l.1 26.7l0 .6l.1-2.4l.1 1.8l.1-4.1l0 2.1l.1 4.8l.1-4.6" fill="none" stroke="#000" stroke-width="0.85" stroke-linejoin="round"/>
<path d="M86 440 V683.6 H484.5 M86 683.6 V690.1 M135.7 683.6 V687.6 M185.4 683.6 V690.1 M235.1 683.6 V687.6 M284.9 683.6 V690.1 M334.6 683.6 V687.6 M384.3 683.6 V690.1 M434 683.6 V687.6 M483.7 683.6 V690.1 M80 446.5 H86 M80 505.8 H86 M80 565.1 H86 M80 624.3 H86 M80 683.6 H86 M82.6 476.1 H86 M82.6 535.4 H86 M82.6 594.7 H86 M82.6 653.9 H86" fill="none" stroke="#000" stroke-width="1.6"/>
<path id="tb" d="M593.4 662.1l.1-4l.1 .1l0 3.1l.1-9.1l.1 .9l.1 4.9l0-8.7l.1-.9l.1 5.4l.1 3.3l0 2.3l.1-5.4l.1 1.3l.1 2.2l0-5.1l.1 12.5l.1-10.6l.1-3.5l.1 9.3l0-6.5l.1 .4l.1-4.7l.1 6.5l0-1.9l.1-3.1l.1-.1l.1 4.2l0 1.7l.1 17.3l.1-20.3l.1 6.7l0-4.5l.1 .8l.1-2.5l.1-3.1l.1 6l0-.4l.1-4.1l.1 3.5l.1-7.9l0 7.2l.1-1.8l.1 4.2l.1 .2l0-4.2l.1 8.2l.1-5.1l.1 3.3l0-6.3l.1 8.2l.1-4.8l.1-.2l.1 1.9l0-7l.1 2.3l.1-1.8l.1 7.9l0 0l.1-6.7l.1 .5l.1 2.2l0-3l.1-1.1l.1-3.8l.1-3.4l0 8l.1 6.3l.1-6.4l.1 3.9l.1-.7l0-2.8l.1-.9l.1 1.1l.1-2.3l0 .6l.1 .3l.1 .7l.1 4.9l0-8.1l.1-3.7l.1 3.8l.1 4.4l.1 .7l0 1.5l.1-7.7l.1 6.1l.1 2.5l0-.1l.1 1.1l.1-8.4l.1 3.6l0-7.4l.1 3l.1 24.3l.1-20l0-6.1l.1 7.6l.1 .7l.1 .6l.1-1l0 .5l.1 .2l.1-1.5l.1-5.6l0-.8l.1 11l.1-6.5l.1 8.3l0-5.1l.1-7l.1-1.9l.1 8.6l0 1.2l.1 .3l.1-1.6l.1 5.7l.1-9l0 6.6l.1-4.3l.1-4.2l.1 4.7l0 4.3l.1-1.5l.1-.7l.1 3.4l0 2l.1-9.2l.1 1.3l.1-2.6l0 3.7l.1-3l.1 10.6l.1-7.9l.1-2.9l0 1.3l.1 7.7l.1-9.3l.1 .8l0 14.4l.1-14.6l.1 .3l.1-.8l0 5.5l.1-.4l.1 1.7l.1-5.9l0 0l.1 .1l.1-.2l.1 1.9l.1-9.8l0 8.9l.1-3.4l.1 4.2l.1 .9l0 2.4l.1-.4l.1-4.2l.1-8.8l0 10.9l.1-2.4l.1-1l.1-6.5l0 12.5l.1-.5l.1-10.7l.1 9.3l.1-2.2l0-4.5l.1 7.3l.1 2.8l.1-6.8l0-1.4l.1 2.9l.1 2.8l.1-4l0 6.3l.1-4l.1-1l.1-3.8l0-.2l.1 9.9l.1-4.5l.1-10.1l.1 16.3l0-8.7l.1 2.7l.1 1.7l.1-.2l0 4.9l.1-19.6l.1 14.1l.1 .6l0-3l.1-.5l.1 .4l.1-1.6l0 1.4l.1 1.7l.1-2l.1 7.9l.1-9.5l0 6.1l.1-7.3l.1 1.1l.1-4.1l0 5.9l.1-1.6l.1 4.9l.1-13.9l0 10.8l.1 1.6l.1-4.1l.1 2.7l.1-3.5l0 1.1l.1 6.8l.1-10.1l.1 5.7l0 2.5l.1 1.5l.1-4.5l.1 2.6l0 .5l.1 1.7l.1-6.1l.1 1.7l0 1.1l.1 1.3l.1-4.3l.1 3.7l.1 2.3l0 .2l.1 6.3l.1-12l.1-2.6l0 8.9l.1-2.5l.1-.8l.1-4.6l0 1.8l.1 1.6l.1 3.2l.1-4.8l0-2l.1 1.2l.1-.3l.1-7.7l.1 5.7l0 1.6l.1-5.2l.1 4.9l.1 2.4l0 4.8l.1-.7l.1-1.6l.1-.3l0-1.8l.1 1.1l.1-.8l.1 .5l0 3.5l.1-1.7l.1 2.4l.1-8.9l.1-2.9l0 8.3l.1-2.5l.1 .9l.1-8.4l0 10.2l.1-3.2l.1 5.4l.1-1.1l0 2.9l.1-4.3l.1-3l.1 4.6l0-3.4l.1 17.5l.1-19.1l.1 4.6l.1-9.1l0 8.5l.1 2.4l.1-2.2l.1-1.4l0 1.1l.1-2.5l.1 6.2l.1-8.2l0-.8l.1 3.6l.1 2l.1 1.5l0-10l.1 12.3l.1-3.2l.1-3.3l.1 4.6l0-1.9l.1 .5l.1-.3l.1-4l0-.5l.1 9.5l.1-3.8l.1-9.3l0 .3l.1 5.3l.1 1.5l.1-.3l0 1.7l.1-2.8l.1-2.5l.1-3.7l.1 7.7l0-5.4l.1 7.8l.1-4.6l.1-.9l0 6.6l.1-3.5l.1 5.4l.1-11.7l0 1.8l.1 6l.1-1.3l.1 1.9l0-10.7l.1 6.6l.1 3.7l.1 6.5l.1-5.9l0 .1l.1 .2l.1-9.2l.1 .6l0 3.4l.1 1.9l.1 3.6l.1 1l0-4.5l.1 1.5l.1 4.7l.1-8.7l.1 12.2l0-5.6l.1-6.3l.1-1.4l.1 5l0 4.7l.1 2.9l.1-.3l.1-10.2l0 6.7l.1-1.2l.1-.7l.1 1l0-3.1l.1 2.3l.1-1.9l.1-1.5l.1-.1l0 12.5l.1-13.4l.1 1.1l.1-.4l0 .8l.1 4.4l.1-2.2l.1 5.4l0-5.6l.1-.1l.1-.9l.1 1.2l0-5.2l.1 2.4l.1-3.1l.1-5.8l.1-5l0 1.6l.1-.5l.1-10.1l.1 12l0 1.4l.1-2l.1-11.2l.1 6.3l0-1.5l.1 10.1l.1-3l.1 0l0 4.5l.1 .4l.1 1.1l.1 7l.1-3.8l0 4.3l.1-1.3l.1-.1l.1-3.8l0 13.3l.1-6.6l.1-.5l.1-1l0-4.8l.1-.7l.1-.1l.1 1.1l0 3.6l.1-3.7l.1 4.1l.1 1.8l.1-10.5l0 2.8l.1 9.9l.1-.1l.1-5.3l0-2.9l.1 6.5l.1-4.2l.1 1l0 3.9l.1-4.3l.1 .4l.1-2.8l0 2.9l.1-6.2l.1 7.2l.1-4.1l.1-4.8l0 10.5l.1-2.5l.1-4.4l.1 5.4l0-9.3l.1 15.5l.1-17.2l.1 5.7l0 6.7l.1-2.1l.1-4.1l.1 5l0-12.9l.1 1.1l.1 4.5l.1 4.7l.1-2.1l0 .5l.1-1.7l.1 3.9l.1 2.5l0-4.4l.1 6.4l.1-5.2l.1 4.7l0 1.1l.1-15.6l.1 13.5l.1-4.3l0-7.4l.1 6.2l.1-1.7l.1 6l.1 1.8l0-4.3l.1 2.1l.1-2.9l.1-.6l0 .5l.1 .7l.1 6.5l.1-7.4l0-1.2l.1 6.8l.1 2l.1-20.3l.1 18.7l0-5.5l.1 .6l.1 3.8l.1-15.6l0 25.1l.1-6.3l.1-7.4l.1 2.5l0-.9l.1 .4l.1 2.1l.1-3.1l0-3.2l.1 .6l.1 3l.1-4.4l.1 5.7l0-2.1l.1 .9l.1 2.6l.1-2.1l0 1.7l.1-3.8l.1 2l.1 5.7l0-6.5l.1 3.1l.1-4.4l.1-.8l0-.4l.1 2.2l.1 .7l.1 4.6l.1-6.1l0-2.1l.1-.9l.1 6.1l.1-2.9l0 5l.1-11.4l.1 11.7l.1 7.8l0-4.1l.1 1.2l.1-11.5l.1 4.4l0-2.2l.1 2.4l.1 7l.1-7.5l.1 2.6l0-1.6l.1 4.2l.1 1.7l.1-2.4l0 1.7l.1-.6l.1-7l.1-3.8l0-4.9l.1 9.2l.1-9.3l.1 3l0-2.5l.1-.7l.1 4.3l.1-6.4l.1-7.2l0 1.4l.1-7.6l.1 2.2l.1 2.5l0 2l.1 2.7l.1 2.6l.1-1.2l0 11.3l.1-1.4l.1 1.3l.1 1l0 5.1l.1 1.7l.1-1.9l.1-1.7l.1 .2l0 1.9l.1-4.8l.1 3.5l.1-1.6l0-1.8l.1 3.1l.1-2.2l.1 0l0 1.3l.1-6.1l.1 9.5l.1-3.5l0 3l.1 8l.1-7.4l.1 5.8l.1-10.2l0 6.1l.1-4.3l.1-2.9l.1 5.7l0 .6l.1-2.9l.1 3.1l.1 5.2l0-14.7l.1 6.3l.1-.3l.1-8.7l0 3.6l.1-2l.1-1.2l.1 8.7l.1 1.2l0-4.7l.1 7.3l.1-4l.1 3.7l0-.3l.1-.4l.1 2.1l.1-5.6l0-.5l.1 .2l.1 .9l.1-9.4l.1 10.6l0-3.8l.1-1.8l.1 .9l.1 .7l0 3.8l.1-3.6l.1 4.3l.1-2.7l0 3.8l.1 .8l.1 2.9l.1-4.4l0-1.7l.1 5.9l.1-1.8l.1 5.7l.1-12.2l0-.6l.1 1.1l.1-2.5l.1 6.4l0 3.4l.1 .7l.1-3.9l.1 5.1l0-3.9l.1-2.7l.1 5.2l.1-3.2l0 3.7l.1-2.5l.1-1.7l.1-4.9l.1 .9l0 7.2l.1-9.2l.1 5.1l.1 2.6l0-2.9l.1-8.6l.1 7l.1-7.9l0 .6l.1 2.8l.1 12.1l.1-10.9l0 10.6l.1-10.1l.1 3.2l.1 1.5l.1-7.9l0 3.7l.1-5.9l.1 11.5l.1-3.3l0 2l.1-8.4l.1 3.2l.1 4.5l0 3.3l.1-13.5l.1 2.9l.1 12.5l0-4.6l.1-7.1l.1 5.5l.1 .1l.1 .9l0-9.5l.1 4.9l.1 3.8l.1-.8l0 .1l.1-2.7l.1 11.5l.1-2.8l0-5.6l.1 2l.1-.5l.1 2.6l0-.5l.1-12.4l.1 14.4l.1-10.1l.1 1.9l0-4.2l.1 3.3l.1 .5l.1-1.3l0 .6l.1-2.1l.1 3.1l.1-2.2l0 6.8l.1-2l.1 9.2l.1-11.7l0-2.1l.1-4l.1 6.6l.1-5.9l.1 4.1l0-2.7l.1 3.8l.1-4.1l.1 1.4l0 7.3l.1-3.1l.1-1.3l.1 5.7l0-4.9l.1 1.8l.1-2.5l.1-1l0 4.5l.1-4.5l.1 1.3l.1-.4l.1 2.1l0-2.4l.1 9.1l.1-1.6l.1-1.5l0 3.6l.1-7.3l.1-5.8l.1 6.1l0-3.8l.1-10.7l.1 10l.1 5.6l.1-8.6l0-2.8l.1 8.5l.1-7.1l.1-2.2l0-5.3l.1 4.6l.1-8.6l.1 1.4l0 2.9l.1-4.8l.1 4.5l.1 .8l0-2.1l.1 6.9l.1-.4l.1 .4l.1-2.7l0 8.3l.1 1.7l.1-.5l.1 3.1l0-4.1l.1-3.6l.1 6.8l.1-2.3l0 .2l.1 1.4l.1 1.7l.1 6.9l0-6.7l.1-.4l.1-.4l.1 1.3l.1-17.8l0 16.9l.1-10.5l.1 16.9l.1-12l0 2.6l.1 5.7l.1 1.4l.1-6.1l0 6.8l.1-1.8l.1-4.8l.1 5.8l0-7.5l.1 2.3l.1 .2l.1-3.5l.1-4l0 10.2l.1-.8l.1-1.8l.1 .2l0-1.3l.1-4.6l.1 6l.1-5l0-5.4l.1 12.6l.1-1.7l.1-3.5l0 3.7l.1-5.4l.1 6.2l.1-8.4l.1 0l0 9.2l.1-2.8l.1 3.1l.1-6l0 3.5l.1 4.3l.1 3.5l.1-3.7l0 3.5l.1-4.3l.1-1.2l.1 .6l0-7.3l.1-1.8l.1 6.6l.1 1.1l.1-7.9l0 5.7l.1-1.8l.1 1.5l.1-1.2l0 .8l.1 3.7l.1-3.4l.1-1.9l0 1.1l.1 9.4l.1-7.8l.1-.5l0-2.9l.1 5.7l.1 1.6l.1-2.7l.1 .5l0-1.2l.1 2l.1 12l.1-20.5l0-1.3l.1 12.3l.1-6.6l.1 1.6l0-3.8l.1-.7l.1-2.1l.1 8.4l0 3.6l.1-3.1l.1-7l.1 1.9l.1-2.5l0 9.7l.1 1.6l.1 .3l.1-7.4l0 6.6l.1 .4l.1 7.9l.1-9.8l0-8.5l.1-1.3l.1 1.6l.1 1.2l.1-14.8l0 23.2l.1 5.1l.1-11.3l.1-4l0 12.7l.1-6l.1 13.5l.1-20.1l0 3.7l.1-5.7l.1 5.7l.1-1.6l0 3.3l.1-1.1l.1 6.9l.1-1.8l.1-1.5l0-.1l.1-3.8l.1-1.7l.1 5.6l0-2l.1-1.6l.1 4.6l.1 3.2l0-5.8l.1-3l.1 .5l.1 3.6l0 1.1l.1-3.2l.1-5.3l.1 4.3l.1-2.1l0 1.2l.1 5.4l.1-2.4l.1 .2l0-2.6l.1 2.1l.1-.2l.1-2.7l0 .1l.1 3l.1 1.4l.1-4.3l0 1.9l.1-9.4l.1 10.9l.1-2.3l.1-11.2l0 10.4l.1-3.4l.1 4l.1-4.3l0 11l.1-1.7l.1 4.8l.1-2.6l0-5.8l.1-3.9l.1 3.7l.1-6.8l0 6.4l.1 2.7l.1-3.2l.1-.2l.1 3.8l0-5.1l.1 1.5l.1 1.2l.1-10.3l0-2.3l.1 8l.1 1.4l.1-5.7l0 5.3l.1-4.2l.1-9.1l.1 17.5l0-9.7l.1 1.2l.1 5l.1 7.4l.1-5.1l0-1.4l.1 .6l.1-9.1l.1 5.4l0 9.6l.1-5.1l.1-1.9l.1-.8l0 2.3l.1 10.6l.1-12.3l.1 0l0-7.2l.1 1.1l.1 10l.1-2.9l.1-9.3l0 6.2l.1 6.5l.1-.8l.1-1.6l0 1.8l.1-.7l.1 1.1l.1 .9l0-1.2l.1-1l.1 .1l.1-21l0 16.8l.1 2.2l.1 3.9l.1 2.9l.1-.3l0-3l.1-6.3l.1-2.1l.1 4.5l0 2.5l.1-.2l.1-.9l.1-7.8l0-1.1l.1-3.6l.1 5.8l.1 3l.1 3.9l0 1.5l.1 2.8l.1-8.8l.1 3l0-4.6l.1 5.8l.1-7.4l.1 9.3l0-6.1l.1 2.7l.1-5.9l.1 12.3l0-11.2l.1 1.6l.1-1.9l.1-1.6l.1 3.5l0 5.3l.1-2.8l.1 5.5l.1-4.2l0 5.4l.1-7.7l.1 5.3l.1-3.5l0-.9l.1-3.3l.1-1.9l.1 4l0 4.2l.1-2.5l.1 1.9l.1-8.5l.1 6.6l0-.6l.1-2.7l.1-1l.1 6l0-5.4l.1 4.8l.1-4.6l.1 3.7l0-1.3l.1-2.2l.1 .2l.1 .8l0 5.5l.1-9.7l.1-2l.1 .3l.1 5l0 2.4l.1-3.7l.1 5.3l.1-6.8l0-6.3l.1 2.1l.1 4.9l.1-1.1l0-1l.1-5.5l.1 3.6l.1-2.6l0 4.4l.1-.4l.1-1.8l.1 .7l.1-2.4l0-1.3l.1-.1l.1-2.3l.1 .4l0-7.5l.1 1.2l.1-4.3l.1 4l0-3l.1 .5l.1 1.2l.1-3.7l0-1l.1 0l.1-4.9l.1 2.3l.1-4.1l0 0l.1 .5l.1-1.7l.1-3.4l0 12.8l.1-4.1l.1 1.3l.1-2.8l0 7.3l.1-5.3l.1-1.5l.1 1.5l0-.2l.1 14l.1-18.1l.1-.8l.1 2.2l0-1.3l.1-.7l.1-1.2l.1-2l0 7.4l.1-.1l.1-3.8l.1-2.7l0 4l.1 .9l.1-1.2l.1-.9l0 5.9l.1-6.8l.1 4.3l.1-6.3l.1-2.4l0 9.9l.1-3.7l.1-.9l.1 5l0-1.4l.1-5.7l.1 2.7l.1-4.6l0 2.4l.1-3.2l.1-2.6l.1 7.3l.1-5.7l0 3.1l.1-5.3l.1 11.5l.1-.4l0 .9l.1-.2l.1 3.7l.1 2.1l0-4l.1 .6l.1-2.3l.1 12.7l0-8l.1 6.1l.1 2l.1-3.6l.1 3.1l0 1.6l.1-3.9l.1 8.3l.1 .4l0 1.2l.1-2.6l.1 .5l.1 10.5l0-5.2l.1-4.9l.1 .8l.1 10.7l0 .2l.1-1.4l.1 1.3l.1-7.2l.1 2.6l0 9.6l.1-.2l.1-6.6l.1 7.9l0 4.5l.1-13.5l.1-3.7l.1 4.7l0 5.4l.1 .3l.1-1.2l.1 8.1l0-11l.1 1.3l.1 6.5l.1-1.7l.1 2.3l0-4.4l.1-2.5l.1-.1l.1 .4l0 1.7l.1-3.7l.1-1.3l.1 9.6l0-5.3l.1 2l.1 1.5l.1 1l0-1.5l.1 5.3l.1-13.9l.1 9.1l.1 .5l0-.1l.1-5.2l.1-1.2l.1-1.8l0 1.8l.1 2.7l.1-6.1l.1 9.2l0-6.4l.1-2.4l.1-3.6l.1 12.3l0-6.1l.1 1.8l.1-5.2l.1 10.9l.1-2.6l0 .8l.1-7.5l.1 5l.1 3.3l0-4.1l.1-5l.1 3.8l.1-3.5l0 1.7l.1 5.3l.1 .2l.1 .2l0-1.8l.1-2.3l.1 8.7l.1-.6l.1 1.7l0-5.3l.1 3.4l.1-9.4l.1 15.3l0-11.9l.1 2.3l.1-10.3l.1 7.7l0 5l.1-8.9l.1 7.8l.1 2.5l0-7.1l.1 2.1l.1 2.6l.1-5.3l.1 3.9l0 2.4l.1-2.1l.1-6.2l.1-.6l0 7.6l.1-1.4l.1-7.4l.1 4.1l0 .3l.1 1.8l.1 1.8l.1 1.6l.1-16.9l0 11.4l.1 5l.1-4.1l.1-1.9l0-2.3l.1-1.8l.1 10.8l.1-10.6l0 10.4l.1 1l.1-5.7l.1-1.1l0 4.1l.1-5.1l.1 1.6l.1 6.3l.1-1.6l0 .3l.1-2l.1-2.7l.1-.4l0 3.5l.1-1.2l.1 8.1l.1-10.7l0 3.7l.1 .3l.1 1.1l.1-5.2l0-3.1l.1-.3l.1 3.7l.1-.2l.1 3.7l0-2.3l.1 5.3l.1 9.6l.1-19.7l0 11.1l.1-.5l.1-5.3l.1 .7l0 1.5l.1 5.7l.1-8.3l.1 9.4l0-5.2l.1-2.1l.1 2l.1-3.7l.1-2.1l0 9.4l.1-5.4l.1-2.6l.1-2.2l0 7.9l.1-1.1l.1-3.4l.1 3.9l0-3.3l.1-6.9l.1 16.3l.1-9.2l0 5.7l.1-6.5l.1 1.5l.1-1.9l.1-1.3l0 3.7l.1 .9l.1 3.8l.1-4.7l0 3.6l.1-2.3l.1-2.8l.1 1.1l0-2.6l.1-1.8l.1 8.1l.1 1.6l0-5l.1 .3l.1-4.3l.1-2.7l.1 11.8l0-2l.1-3.2l.1 5l.1-8.5l0 2.5l.1 2.8l.1 2l.1-3.7l0-1.3l.1 7.5l.1-14.2l.1 3.1l0-2.6l.1 7.5l.1-3.7l.1 4.3l.1-5.6l0 6.8l.1-7.7l.1 6.3l.1-8.7l0-4.1l.1 9.3l.1 3.6l.1-1l0 7.6l.1-17.4l.1 1.5l.1-1.9l0 8.8l.1-9.2l.1 9l.1-7.6l.1 2.4l0-.8l.1 1.7l.1 4l.1 6.1l0-12l.1 6.1l.1-4.2l.1 6.8l0-9.3l.1 10.9l.1-7l.1-.5l.1 12.8l0-8.5l.1-4.4l.1 2.9l.1 .6l0-1.4l.1 .6l.1 1.7l.1 .7l0 1.3l.1-12.5l.1 9.9l.1 0l0-9.5l.1 .5l.1 13.3l.1-4.3l.1-7.4l0 2.4l.1-2.7l.1 3.9l.1 .9l0-.2l.1 3.7l.1-7l.1 3.1l0 2l.1 2.3l.1 .6l.1-6.5l0 4.5l.1-5.4l.1 3.5l.1 1.6l.1-.8l0-4.2l.1 7.1l.1 1.6l.1-2.9l0-6.6l.1 6.8l.1-3.3l.1-1.6l0-5l.1 15.2l.1-7.3l.1 .3l0 .4l.1-4.1l.1-15.5l.1 16.4l.1 .7l0 10.7l.1-9.5l.1 3.2l.1-6l0 7.2l.1-.2l.1-2.8l.1-.4l0-5.8l.1 4.8l.1-5.5l.1 8.7l0-6.9l.1 .3l.1 2.6l.1-.9l.1 21.1l0-23.8l.1 2.6l.1-2.7l.1-1.1l0 6.5l.1 1.2l.1-8.4l.1 5.1l0-1.9l.1 .8l.1 .3l.1-1.9l0 .3l.1 .7l.1 8.6l.1-7.4l.1 5l0-7l.1 5.1l.1-6.3l.1 4.1l0-2.3l.1 3l.1 .1l.1 2.7l0-7.4l.1-3.9l.1 3.2l.1 7.3l0-5.6l.1 3.3l.1 .4l.1 1.8l.1-4.1l0-2.4l.1 .4l.1-4.2l.1 2.7l0-4.9l.1 10.5l.1-1.6l.1 5.1l0 1.9l.1-10l.1 6.7l.1 4.7l0 .7l.1-4.9l.1-.1l.1-4.5l.1 3.1l0-1.9l.1 5.1l.1-2.6l.1-8l0 1.9l.1 .7l.1-.7l.1-6.2l0 5.4l.1 8.5l.1-3.9l.1 4.9l.1-1.5l0 2.5l.1-13.9l.1 5.7l.1-1.9l0 5l.1-1.1l.1-3.2l.1 9.1l0-9.8l.1 8.9l.1-.9l.1-4.3l0-1.8l.1-4.5l.1 5.8l.1 3l.1-5l0-1.7l.1 6l.1-2.9l.1 .6l0-5.4l.1 4.5l.1 .4l.1 1.4l0-1.4l.1 .4l.1 2.7l.1 .4l0 .4l.1-11.4l.1 8.7l.1-5.8l.1 6.2l0-1.5l.1 6.8l.1-4.4l.1 1.5l0 2.3l.1-12.7l.1 15.1l.1-2l0-2.3l.1 6.3l.1-7.3l.1 2.9l0 .5l.1-3.5l.1 7.6l.1-9.9l.1 .3l0-3.3l.1 10.9l.1-8.6l.1-1.3l0 12.3l.1-3.2l.1-9.2l.1 2.1l0 3.3l.1 1.3l.1-3l.1 2.1l0-5.9l.1 4.4l.1 4.1l.1-3.5l.1-6l0 2.9l.1 5.5l.1-5.4l.1-3.6l0 3.5l.1 2.9l.1 8.6l.1-5.2l0-4.3l.1-1.6l.1 3.2l.1 3.4l0-1l.1-7.2l.1-2.5l.1 3.3l.1 .3l0 2.7l.1-.4l.1-1.2l.1 1.4l0-9.7l.1 10.2l.1-2.1l.1 3l0-7.2l.1 4.5l.1-2.8l.1-2.5l0 2.4l.1-3l.1 .3l.1-.1l.1 6.6l0 3l.1-4.9l.1 3.7l.1-.2l0-3.8l.1 5l.1-5.8l.1-2.2l0 4.5l.1 5.2l.1 .1l.1-4.6l0-5.1l.1-2.3l.1 2.8l.1-6l.1 2l0 7.6l.1-2.6l.1 1.8l.1 9.6l0 2l.1-12.8l.1 7.3l.1-1.6l0-4.1l.1 2.9l.1 2l.1 7.6l.1-8.7l0 1.2l.1-1.9l.1-3.2l.1 7.9l0-.6l.1 1.6l.1-13.7l.1 9.7l0-1.9l.1-4.2l.1 6.5l.1-.4l0 1.4l.1-1.1l.1 2.8l.1-5.2l.1-6l0 2.9l.1-1l.1-2.6l.1 6.4l0-5.6l.1-.9l.1 6.3l.1-15.1l0 13.1l.1 7.6l.1-8.7l.1 2.9l0-2.7l.1 1.3l.1 5.2l.1-5.2l.1 3.2l0 2.1l.1 6.3l.1-1.2l.1-8.4l0 1.1l.1 2.5l.1 .2l.1-2.1l0-.3l.1-2.7l.1 8.4l.1 .2l0-8.6l.1-1.3l.1 3.3l.1-1.2l.1-6.9l0 4.1l.1-2.4l.1 .3l.1 4.8l0-14.2l.1 16.3l.1 2.7l.1-10.2l0 1.9l.1-2.3l.1 9.9l.1-11l0 4.9l.1 5.7l.1-7.5l.1 6.9l.1 .9l0-8.1l.1 .6l.1-5.1l.1 .8l0 7l.1-.5l.1 1.5l.1 .4l0 16.7l.1-19.1l.1 10.3l.1-2.9l0-8.9l.1 2.6l.1-1.7l.1 5.9l.1-1.8l0 .2l.1-5.5l.1-1.9l.1 .6l0-7.4l.1 6.7l.1-2l.1-.7l0 1.1l.1 3.4l.1 4.8l.1-.8l0-3.2l.1-2.2l.1-6.5l.1 4.9l.1 4.6l0 8.1l.1-15.6l.1 5l.1 1.7l0 2.6l.1 .7l.1-1.3l.1-5.3l0 1.3l.1 1.2l.1 4.9l.1-3.9l0 3.4l.1-.7l.1 4.1l.1-3.8l.1 .1l0-8.1l.1 3.3l.1 3.1l.1-3.5l0 3.6l.1-1.1l.1-6.5l.1 1.6l0 3.5l.1 2.9l.1 .1l.1-4l0-9.7l.1 9.7l.1-10.3l.1 8.4l.1 1.8l0 3.2l.1 11.5l.1-10.5l.1 1.2l0-.2l.1 .4l.1-5.7l.1 2.1l0-3.4l.1-7.4l.1 8l.1-1.3l.1 4.6l0 11.3l.1-10.1l.1-1.7l.1-2.1l0 2.5l.1 5.7l.1-3.8l.1-5.7l0 2.3l.1-.4l.1 4.8l.1 3.7l0-2.7l.1-3.9l.1 2.8l.1-1.1l.1-2.5l0 3.1l.1 2.4l.1-7.4l.1 4.9l0-9.5l.1 8.9l.1 2.3l.1-.7l0 5.1l.1 0l.1-.9l.1-5.7l0 2.6l.1-7.1l.1 .6l.1 4.1l.1-.3l0 3.6l.1 1.3l.1-1.4l.1 2.3l0-3.5l.1 .1l.1 .9l.1-4.7l0 5.6l.1-10.2l.1 6.3l.1-.2l0 2l.1-9.4l.1 7l.1 3.5l.1-4l0-3.3l.1 4l.1 .4l.1 4.4l0-8.4l.1 11.3l.1-6.2l.1-.1l0 2.1l.1 3.9l.1-4.3l.1-5.4l0 2.8l.1 .2l.1-.9l.1 .4l.1 3.2l0-1.4l.1-5l.1 11.6l.1-.6l0 2.6l.1-12.4l.1 .4l.1 2.7l0 10.9l.1-3.9l.1-8.6l.1 4l0-5.6l.1 0l.1 7.7l.1-1.9l.1 1.5l0-2.4l.1 1.2l.1 1.3l.1 3l0-7.4l.1 1.4l.1 5.8l.1-6.1l0 .8l.1-.8l.1 3.8l.1-10.2l0 6.6l.1-3l.1-2.1l.1 6.7l.1-3.3l0-1.9l.1-1.4l.1 15.8l.1-14.8l0 2.7l.1 .5l.1-7.6l.1 11.1l0-2.9l.1-.6l.1-5.4l.1 9.6l0-7.4l.1 3.2l.1-7l.1 10.4l.1-1.9l0-8.2l.1 6.6l.1 .7l.1 5.8l0-8l.1 10.6l.1-11.4l.1 6.5l0-3.9l.1-1.6l.1 2.8l.1 2.3l.1-3.3l0 8.8l.1-4.2l.1-5.8l.1 6.4l0-2.2l.1-6.9l.1-1.8l.1-1.8l0 9.1l.1-6l.1 .5l.1 4.3l0-4.4l.1 1.5l.1-5l.1 3.9l.1 5.5l0 1.8l.1-3.7l.1-22l.1 18.3l0 2.1l.1 .5l.1 .8l.1 0l0 3.4l.1-2.4l.1-.5l.1 .2l0 15.7l.1-24.3l.1 8.5l.1 1.2l.1-1.6l0-1.3l.1 1.6l.1-7.1l.1-.9l0 1.9l.1 3.5l.1-.4l.1-3.4l0 2.9l.1 3l.1-3.2l.1 .8l0 2l.1-2l.1 9.5l.1-10.2l.1 0l0 0l.1 7.2l.1-4.5l.1-6.3l0 1.5l.1 1.3l.1 3.1l.1-6.4l0 3.8l.1-3.8l.1 6.8l.1 1.9l0-7.8l.1 9.2l.1 1.8l.1-3l.1-3l0-1.8l.1-1.2l.1 1.1l.1 6.3l0 3.8l.1-.8l.1 2.1l.1-5.9l0-5.7l.1-.2l.1-1.5l.1-3.1l0 2.5l.1-4.7l.1 7.8l.1-6.2l.1 2.1l0-3.8l.1 9.8l.1-4.1l.1 1.2l0-4.7l.1 6.3l.1-4.3l.1 1.7l0 1.4l.1 .5l.1 5.5l.1-4.7l0-2.9l.1-3.3l.1 1.8l.1-1.5l.1 2.1l0 3.8l.1-17l.1 14.6l.1 2.9l0-3.4l.1 7l.1 1.1l.1-7.5l0 1.4l.1 2.4l.1-4.5l.1-.9l0-1.9l.1 7.5l.1-5.2l.1 6.6l.1-6.1l0-1.8l.1-2.5l.1 6.4l.1-.1l0 2.6l.1-4.4l.1 2.7l.1 3.5l0-7.6l.1 6.3l.1-3l.1 1.1l.1-8.6l0 9.5l.1 2.4l.1-6.7l.1-4l0 17.3l.1-8.2l.1-3.8l.1 1.9l0 7.2l.1-13.4l.1 4.4l.1 1.3l0-6.7l.1 10.4l.1-5.5l.1 1.6l.1 1.9l0-5.3l.1-.5l.1 .6l.1 8.3l0 4.4l.1-3.9l.1-6l.1 14.3l0-8.9l.1-10.7l.1 7.2l.1-2l0 1.8l.1 4l.1-6.9l.1 3.4l.1-6.9l0-2.6l.1 2.1l.1-1l.1 12l0-8.7l.1 .2l.1 2.2l.1-2.7l0-.8l.1 3.2l.1-2l.1 3.1l0-3.7l.1 10.6l.1-6.2l.1-3.8l.1 2.9l0 1.6l.1-.1l.1 4.2l.1-6l0-1.8l.1 1.5l.1-6.1l.1 10.2l0-.8l.1-7.2l.1 4.3l.1-.7l0 6.1l.1-6.9l.1-.3l.1-1.8l.1-6.7l0 15.2l.1-.9l.1-4.5l.1 .4l0-.5l.1-6l.1 .7l.1 9.1l0-8.1l.1-1.2l.1 12.2l.1-4l0-.9l.1-1.6l.1 3.3l.1-11.6l.1 12l0-6.7l.1-6.6l.1 7.2l.1-3.8l0 7.3l.1-6.4l.1 6l.1-2.3l0 7.6l.1-12.1l.1 3.1l.1 4.5l0-17.4l.1 3.1l.1 6.8l.1-1.9l.1-4.3l0 2.1l.1 2.9l.1-2.5l.1-6l0-4.4l.1-5.5l.1 1l.1 .8l0-5l.1 1.7l.1-.3l.1 .7l0-3.6l.1 3.1l.1 2.6l.1-6.1l.1 .6l0 6.4l.1-3.6l.1 4.7l.1-4.5l0 0l.1 2.6l.1 6.3l.1-4.1l0 2.2l.1-5.7l.1 4.2l.1 6l.1 6.3l0-15l.1 13.4l.1 5.1l.1 .8l0 4.6l.1-.9l.1-3.1l.1 3.3l0 5.2l.1-4.2l.1 3.4l.1-.8l0 1.9l.1 .4l.1-3.6l.1-4.6l.1 5.1l0 3.5l.1-17.4l.1 3.8l.1 4.7l0 2.8l.1-8.3l.1-.1l.1-5.7l0 1.7l.1-4.6l.1 3.9l.1-.1l0 2.4l.1-8.5l.1 3.5l.1 1l.1-2.7l0-5.5l.1 1.6l.1 10.7l.1-7.7l0 3.6l.1-9.3l.1 5.1l.1-10.6l0-.4l.1 7.4l.1-1.2l.1-2.8l0 1.6l.1 3.7l.1-.9l.1 6.3l.1-6.1l0 6.9l.1 3.9l.1-2.9l.1-5.9l0 4.8l.1 6.3l.1-3.7l.1 6.7l0 7.4l.1-2.1l.1-1.9l.1 .6l0-3.2l.1 4.6l.1 3.6l.1-4.3l.1 6.4l0-4.9l.1 4.8l.1-4.9l.1 3.7l0 5.3l.1-1.5l.1 2.4l.1-4.4l0 0l.1 0l.1-6.1l.1 3.8l0 3.9l.1-8.4l.1 6.2l.1-4.3l.1 3.4l0-5.2l.1 10.6l.1-1.4l.1-5.7l0 3.2l.1-1.7l.1 .9l.1-6.6l0 .6l.1 1.5l.1-.5l.1 2.1l0 8.4l.1-5.4l.1 4.2l.1-9.4l.1-.7l0 6.4l.1-3.5l.1 4.5l.1-2.9l0 2.1l.1-1.7l.1-3.2l.1-2.1l0 7.7l.1-4.9l.1 10.3l.1-9l0 20.6l.1-18l.1-2.5l.1-.6l.1 1.2l0-.5l.1-.4l.1 5.5l.1-9.1l0 2.9l.1 3.3l.1 2l.1 2.5l0-8.4l.1 2.3l.1 4.6l.1 1.4l.1-1.1l0-.7l.1-2.9l.1-2l.1-10l0 7.9l.1 7.4l.1-1.2l.1-1.6l0 6.4l.1-11.5l.1 10l.1-7.8l0 .4l.1 1.3l.1-4.3l.1-1.7l.1 9.7l0-5.4l.1 .4l.1-1l.1-3.5l0-1l.1-1.6l.1 11.7l.1-6.1l0-2.9l.1 5.7l.1-5.9l.1 6.8l0 4.4l.1-4.3l.1-4.3l.1 2.9l.1 3.6l0-.8l.1 3.2l.1-7.4l.1 3l0-5.6l.1 4.6l.1 1.5l.1-7.8l0-.8l.1 11.1l.1-13.3l.1 1.5l0 4.6l.1 3l.1-1.5l.1 11.5l.1 .2l0-10.2l.1-3.2l.1 11.8l.1-8l0-3.4l.1 3.7l.1-6.9l.1 4l0 1.5l.1-5.2l.1 2.1l.1 7.5l0-.6l.1-5.5l.1 2.2l.1 3.9l.1-6l0 1.5l.1-1.6l.1-1.3l.1-7.4l0-1.7l.1 4.5l.1 2.7l.1 .2l0 2.8l.1 1.1l.1 .1l.1 6.7l0-.3l.1-4.3l.1 3l.1-3.4l.1-2.9l0-1.2l.1 5.8l.1-3.2l.1-2.6l0 7.4l.1-4.4l.1 .9l.1-2.9l0 1.3l.1 4.5l.1-2.1l.1-2.5l0-1.7l.1 2.1l.1 .5l.1-1.7l.1-4.3l0 6.1l.1-5.2l.1 4.9l.1-11.4l0 10.5l.1 5.1l.1-4.6l.1-1l0-1.3l.1 .2l.1-3.4l.1 1.5l0 4l.1-4.7l.1 4.3l.1-4l.1 2.4l0 3.3l.1-6.8l.1 6.5l.1-1.9l0 6.7l.1-7.5l.1-3.7l.1 1.4l0-2.9l.1 6.8l.1-3.9l.1-1.2l.1 .3l0-.8l.1 7.4l.1 1.9l.1-5.9l0 7l.1-8.1l.1-.1l.1 4.8l0-3.1l.1 0l.1 3.7l.1-5.5l0 1.8l.1-4.7l.1 10l.1 6.8l.1-4.2l0-8.3l.1 3.2l.1 5.2l.1-2.9l0-2.2l.1 6.4l.1-3.7l.1-8.9l0 3.2l.1 3.7l.1-7.3l.1-.2l0 1.8l.1 1l.1 2.6l.1-4.3l.1 7.2l0-5l.1-2.1l.1 2.1l.1-5l0 4.3l.1-3.3l.1 8.2l.1-2.8l0 .3l.1 8l.1-17.3l.1 7.1l0 9.7l.1-4l.1-.2l.1 1.1l.1-5.7l0-9.2l.1 15.6l.1-4.5l.1-4.7l0 9.9l.1-4.5l.1 1l.1-1.5l0 6.8l.1-7.1l.1 5.2l.1-8l0 6.7l.1-3.3l.1 .9l.1-3.1l.1 2.1l0-1.5l.1 7.6l.1-7.7l.1 11.2l0-9.9l.1 2.8l.1-3.6l.1-8.2l0 9.6l.1 4.3l.1-.9l.1-2.4l0 8.4l.1-.5l.1-4.8l.1-4.1l.1-1.1l0-9.1l.1 16.4l.1-6.5l.1 2.7l0-9.5l.1 3.6l.1 2.8l.1 .6l0 .4l.1-.7l.1 1.9l.1 5.5l0 .3l.1-6.4l.1-6.1l.1 11.7l.1-7.5l0 5.1l.1-2.6l.1-.7l.1 .8l0 3.2l.1 .8l.1-8.6l.1 4.2l0 11.4l.1-8.3l.1-2.1l.1-5.8l0 4.6l.1-1.1l.1 6.5l.1-4.5l.1-5.8l0 3.1l.1 1.3l.1-2.6l.1-1l0 6.7l.1-.2l.1 4.6l.1-10.9l0 12.8l.1-12.5l.1 .9l.1 6.1l.1-9.8l0 10.9l.1 2.2l.1-7l.1-2.4l0 8.2l.1-1.7l.1-6.2l.1 6.3l0-1.5l.1-2.6l.1-4.5l.1 1.6l0 6.2l.1 5.2l.1-1.3l.1 1.8l.1-2.5l0-1l.1-4.9l.1-.7l.1 1.9l0 .7l.1-2.2l.1 1.5l.1 5.3l0-5.5l.1-5l.1-1.7l.1 10.5l0-9.1l.1 1.5l.1 5.5l.1-10.6l.1 11.9l0-2.5l.1 4.1l.1-4.3l.1 3.6l0-8.6l.1-2.1l.1 7l.1-4.2l0 3l.1 5.2l.1-10.9l.1 8.5l0-11.9l.1 14.6l.1-11.3l.1 20.5l.1-15.3l0 3.8l.1-6.7l.1 5.3l.1-7.8l0 10l.1-1.2l.1-4.7l.1 10.2l0-16.1l.1 5.1l.1 0l.1 3.4l0 .4l.1-4.9l.1 4.6l.1-3.7l.1-.4l0 3.3l.1-2.6l.1 1.8l.1-1.8l0 5.5l.1-3l.1 .6l.1-2.8l0-1.6l.1 6.4l.1-3l.1 2l0-.5l.1-.7l.1-1.4l.1 1.2l.1 .2l0 1l.1-1.1l.1-2.2l.1 5.7l0-11.4l.1 4.8l.1-3.6l.1 4.2l0 2.5l.1-18.7l.1 20.4l.1-.6l0-5.2l.1 1.4l.1 5.7l.1-11.8l.1 4.7l0 3.7l.1 8l.1-11.3l.1-2.1l0 6.2l.1-1.2l.1-2.1l.1 5.4l0-7.1l.1-.1l.1 3.7l.1-1l0-2.1l.1 4.9l.1-4.4l.1-3.7l.1 5.2l0 2.3l.1-9l.1 7.3l.1 5.5l0-3l.1-6.4l.1 1.8l.1-.2l0-1.8l.1 2.6l.1-1.3l.1 1.2l.1 4.9l0-6.1l.1 3.7l.1 .1l.1-3.1l0 8.6l.1-10.1l.1 2.3l.1 5.4l0-7.5l.1-1l.1 4.2l.1-2l0-2.2l.1 2.4l.1 1.1l.1 4.9l.1-7l0 13.5l.1-17.4l.1-1.7l.1 7l0-2.9l.1-2.2l.1 3.4l.1-3.3l0 2.5l.1 10.4l.1-7.8l.1-4.8l0 8.5l.1 2l.1-7.1l.1-3.8l.1 15.6l0-8.4l.1-.4l.1 1.1l.1-6.5l0 0l.1 1.5l.1 6.2l.1-2.3l0-1.9l.1-4.5l.1 13l.1-6.4l0-2.3l.1 6.3l.1-1.3l.1-8.6l.1 8l0-2.4l.1-8.4l.1-1.8l.1 7.2l0 1.4l.1 .4l.1 .8l.1-5.5l0 11.4l.1-3.3l.1-2.3l.1-6.2l0 7.9l.1-5.4l.1-3.9l.1 7.4l.1 4.1l0-6l.1-.1l.1-.3l.1-4.1l0 5.3l.1-2l.1-.2l.1 1.6l0 4.6l.1-1.1l.1-5.5l.1-1.1l0 5.3l.1-6.5l.1-1.1l.1-2l.1 9.2l0-3.3l.1 1.3l.1 2.7l.1-3.1l0-.9l.1 9.2l.1-9.7l.1 1.3l0-2.1l.1 3l.1 1.8l.1 1.5l0-1.2l.1 1.4l.1-2.7l.1-2.4l.1-6.6l0 6l.1 .7l.1 2.3l.1-.2l0 4.3l.1-15.1l.1 10.7l.1-7l0 13.3l.1-9.4l.1 14.4l.1-13l0-.2l.1-4.1l.1 6.3l.1-3l.1 2.8l0 0l.1 2.1l.1-3.1l.1 3.3l0-7.2l.1-.1l.1 8.9l.1-.6l0 2l.1-5.5l.1-1.4l.1-2l.1-3.6l0 11.5l.1-2.1l.1-1.8l.1 .3l0-1.1l.1 4.6l.1-7.4l.1-11.8l0 20l.1-1.9l.1 3.3l.1-8.5l0 6.2l.1-6l.1-7.5l.1 4.8l.1 6.9l0-5.6l.1 7.4l.1-1.3l.1 1.8l0-1l.1-3.5l.1 2.3l.1-12.1l0 11.7l.1-.6l.1-3.4l.1 7.9l0-5.9l.1-3.8l.1 4l.1-7.1l.1 5l0 2.8l.1-4.5l.1 1.2l.1-.3l0 1.7l.1-2.2l.1 8.3l.1-8.2l0-4l.1 4.1l.1 .6l.1 2.3l0-.4l.1 3.1l.1 .4l.1-3.7l.1-4.4l0 4.6l.1 1.5l.1-2.1l.1 4.8l0-1.1l.1-3.3l.1 4.5l.1-.8l0 2l.1-3.3l.1 3.7l.1-2.7l0-8.7l.1 8.9l.1-6.1l.1-8.4l.1 13.2l0-1.5l.1 1.5l.1-.9l.1-9.6l0 10.1l.1-5.7l.1-4.4l.1 9.6l0 3.8l.1-9.4l.1-4.1l.1 11.8l0-5.8l.1-7.9l.1-1.6l.1 .2l.1 8.2l0-9l.1 1.8l.1-6.7l.1 2.5l0-3.5l.1 8.6l.1-15.3l.1-2.3l0 10.3l.1-6.7l.1 2l.1-7.6l0 1.3l.1-5.3l.1 7.2l.1-3.6l.1 .6l0-7.4l.1-1.9l.1-1.3l.1-1.1l0 1.8l.1-2.3l.1 3.5l.1 2.8l0-3.3l.1-4.3l.1 7.6l.1 1.8l0-9.5l.1-2.3l.1 3.1l.1-6.5l.1 .5l0 9.4l.1-3.1l.1-2.6l.1 1.1l0 0l.1 .3l.1 4l.1 .4l0 4.5l.1 2.7l.1 3l.1-7.6l.1 4.4l0 2.5l.1 6.7l.1 3.6l.1-10.7l0 4.4l.1 2.8l.1-2.1l.1 4.2l0-5.8l.1 7l.1 2.1l.1 3.7l0-2.3l.1 1.7l.1-.1l.1 3.3l.1-5.5l0 2.7l.1-1.2l.1 2.5l.1-4.7l0 3l.1-1.3l.1 2.2l.1-1.6l0-7.2l.1 5.4l.1-5.2l.1 3.4l0-2.1l.1-2.7l.1-6.3l.1 11.7l.1-10.1l0 .8l.1-.6l.1-3l.1 1.4l0-5.1l.1 8.1l.1-8.7l.1-.7l0 .7l.1-.5l.1-1.9l.1-3.9l0 3.3l.1-6.2l.1 2.5l.1 1.2l.1-2.5l0 3l.1 6l.1-18.7l.1 9.1l0 .1l.1-5.9l.1-6.2l.1 12.2l0-5.2l.1 5.9l.1-.4l.1-2.5l0-3l.1 1.9l.1 2.8l.1-2.1l.1-4.4l0 12.6l.1 3.9l.1-.7l.1-3.7l0 1.2l.1 3.6l.1-6l.1 8.6l0-4l.1 4l.1-8.9l.1 16.8l0-1.1l.1-.9l.1 4.2l.1-4.7l.1 9.3l0-.7l.1-6.6l.1 6.1l.1-1.5l0-1.2l.1 6.8l.1-8.9l.1 10l0-9.4l.1-5.4l.1 7.4l.1-.2l0 1.1l.1 6.8l.1-3l.1-2.8l.1-4.8l0-.3l.1 .1l.1 7.8l.1 6l0-12.9l.1 5.1l.1-1.9l.1-4.3l0 3.2l.1-3.3l.1-3.1l.1-2.9l0 12.5l.1-7.5l.1 1l.1 6.2l.1-9.5l0-.2l.1-2.8l.1 5.1l.1 .1l0 6.9l.1-5.3l.1-5.5l.1 .7l0 2.5l.1 4.5l.1 2l.1-7.9l.1 2.2l0-3.1l.1 4.6l.1-1.1l.1 1.4l0 3.3l.1 1.2l.1-8.2l.1 12.5l0-14l.1 2.3l.1 2.1l.1 2.7l0-3.8l.1 3.2l.1 2.7l.1 6.6l.1-3.2l0-6.7l.1 3.1l.1 7.9l.1-4.5l0 5l.1-1.5l.1-5.1l.1 .9l0 6.4l.1-3.3l.1 3.4l.1-5.3l0 6.7l.1-4.7l.1 3.7l.1-2.2l.1-2.1l0 1.5l.1-.4l.1 3.6l.1-8.5l0 12.8l.1-6.7l.1-2.1l.1 7.5l0-7.5l.1 1.7l.1 3.5l.1-4.6l0 4.8l.1-4.3l.1 2.3l.1 3.4l.1 5.4l0-10.5l.1-4.2l.1 9.9l.1-1.5l0-3.3l.1-4.2l.1 8.2l.1-18.4l0 10.5l.1-7.1l.1 .2l.1-4.4l0-7l.1-6.5l.1 5.4l.1-3.1l.1 1.3l0-6.6l.1-.5l.1-.1l.1-2.3l0-5.6l.1 1.8l.1-7.5l.1-3.9l0-1.2l.1-8.5l.1 12.9l.1 1.2l0-10l.1-.2l.1 .3l.1-1.1l.1 4.9l0-2.9l.1-2l.1 2.6l.1-3.4l0-5.4l.1 9.2l.1-2.5l.1-7.2l0 12.4l.1-9.7l.1 6.4l.1 9.2l0-5l.1 5.6l.1 4.4l.1 1.2l.1-1.5l0 5.7l.1-1.1l.1 1.4l.1-.6l0-2.2l.1 8.5l.1-4.6l.1 5.6l0-1.6l.1 .2l.1-3.6l.1 2.8l0 7.1l.1-2.7l.1 7.1l.1-3.3l.1 2.8l0-1.8l.1-.5l.1 .6l.1-1.7l0 3.5l.1-11.7l.1 .7l.1 16.2l0-8.6l.1-6.9l.1 .4l.1 6.8l.1-5.6l0-5.4l.1 9.1l.1 3.9l.1-1.4l0-5.6l.1 5.7l.1-8.5l.1 .8l0-.1l.1 19.3l.1-14.1l.1-.2l0-6.6l.1-.4l.1 7.2l.1-1.9l.1-10.5l0 16.1l.1-9.5l.1 2.2l.1 7l0-3.4l.1-5.4l.1 8.8l.1-20l0 5.3l.1-5.5l.1 4.9l.1-5l0 8.4l.1-2.1l.1-1.2l.1-4.8l.1 6.3l0-8.7l.1 2.7l.1-5.6l.1-.8l0-3l.1-6.7l.1 .9l.1-1.8l0 1.2l.1-1.9l.1 4.7l.1 3.7l0-7.5l.1-.9l.1 11.7l.1-3.2l.1-1.7l0 1.2l.1-.4l.1 .2l.1 2.9l0 8l.1-1.9l.1 6.2l.1-8.4l0 7.2l.1 1l.1 4.7l.1-2l0 8.2l.1 8.8l.1-.9l.1-3.2l.1 2.3l0 .4l.1 2.4l.1 1.2l.1 4l0-3l.1 10.7l.1-2.8l.1-.2l0 5.3l.1-6l.1 9.5l.1 1l0 2.1l.1-3.7l.1-.5l.1-1.5l.1-2.2l0 3.7l.1 9.7l.1-7.6l.1-9.7l0 8.9l.1-.5l.1-4.8l.1-3.5l0 8.1l.1-2.7l.1 1.1l.1 3.7l0-12.3l.1-1.1l.1 3.5l.1-.7l.1 2.8l0-4.4l.1-4.7l.1 11.3l.1 6.5l0-8.1l.1-3.6l.1 .4l.1-10.3l0 3.8l.1-.7l.1-4.9l.1 1.8l0-.8l.1 2.9l.1-9.8l.1 5.6l.1 5.1l0 .7l.1-6.2l.1 .2l.1-4.5l0 5.5l.1-6.2l.1 1.3l.1-.2l0 0l.1 6.2l.1 1.7l.1-4.1l.1 .3l0-1.5l.1 2.4l.1-5.9l.1 12.5l0-5.7l.1 4.1l.1-2.7l.1-.5l0 2.8l.1 7.7l.1-6.3l.1-3.3l0 3.8l.1-5.2l.1 7.2l.1-10l.1 13l0 4.9l.1-1.9l.1-4.1l.1 .7l0 .5l.1-8.1l.1 8.2l.1-3l0 3.7l.1-6.9l.1 4.8l.1-6.6l0 3.4l.1-6l.1 4.3l.1-.7l.1-.9l0 .6l.1-1.7l.1-6.4l.1-2.4l0 5.9l.1-15.9l.1 8.1l.1-8.3l0 15l.1-9.5l.1-9.5l.1 7.6l0-3l.1 .4l.1-22.1l.1 17.6l.1-8.3l0-3.1l.1-4.7l.1 3.2l.1 4l0-4l.1-1.2l.1-11.2l.1 5.9l0 .6l.1 .5l.1-8.2l.1-3.2l0 2.8l.1-4.5l.1 1.6l.1 3.5l.1 6.1l0-2.2l.1-4.2l.1-.6l.1 9.6l0-6.6l.1-3.9l.1 15.7l.1-8.5l0 1.3l.1 .2l.1-3.6l.1 6.1l0-2.5l.1 9.8l.1 12.4l.1-9.2l.1 4.9l0-17l.1 9.2l.1 .6l.1 3.9l0 2.5l.1-9.7l.1 7.5l.1 5l0-12l.1 .1l.1 2.9l.1-7.2l0 7.9l.1-1.1l.1-4.4l.1 2l.1-7.9l0-.9l.1 3.3l.1-5.5l.1-2.1l0-1.3l.1-5l.1 6.4l.1 .3l0-2.9l.1-1.2l.1-2.4l.1 5.8l0 .3l.1 1.6l.1-3.6l.1 .2l.1 3.3l0-6.5l.1-5.5l.1 6l.1 14.6l0-9.8l.1 7.9l.1-1l.1 4.1l0-4.1l.1-4l.1 5.2l.1 4.8l0-1.1l.1-1l.1 5.5l.1-5.4l.1 3.7l0 2.9l.1 1.4l.1 2l.1 5.4l0-5.8l.1 7.3l.1 2.7l.1 2.3l0-8.5l.1 6.5l.1 2.6l.1 6.8l.1-9.5l0-5l.1 7l.1-3.3l.1 3.5l0-6.4l.1 5.6l.1 .4l.1-1.1l0-.3l.1-4.1l.1 12.1l.1-7.9l0 2.4l.1-.4l.1 5l.1-.6l.1-2.9l0-1.1l.1-2.3l.1-3l.1 12.8l0 1l.1 .8l.1-9.3l.1 7.5l0 5.3l.1-2.9l.1 .4l.1-.3l0 5.2l.1-3l.1 12.5l.1-7.7l.1-1.9l0 3.4l.1 5l.1 2.7l.1-3.5l0-5l.1 3.1l.1 5.6l.1-4.7l0 3.3l.1 3.5l.1 1.9l.1 2.7l0-9.4l.1 7.4l.1-2.8l.1 3l.1-2.3l0 5.1l.1-1.8l.1-7.8l.1 7.3l0 .5l.1 2.2l.1 4.5l.1-19.9l0 14.6l.1-4.3l.1 4.7l.1 .7l0 5.4l.1-3.3l.1-.2l.1 10.4l.1-11.5l0-2.9l.1 7.2l.1-5.5l.1 7.8l0-.6l.1-13.4l.1 7.2l.1 1.6l0-3.2l.1 .7l.1 4.3l.1 1.5l0-6.1l.1 4.4l.1-10.1l.1 9.6l.1-1.9l0-2.2l.1-5.1l.1 8.3l.1-.4l0-.1l.1 1.4l.1-9.6l.1 10.1l0 2.8l.1 5.6l.1-7.1l.1 3.6l0-7l.1 2l.1 6.7l.1-9.9l.1 1.1l0 6.5l.1-9.6l.1 12.3l.1-8.3l0 1.8l.1-.4l.1 2.6l.1-4.8l0 5.8l.1-8l.1 6.4l.1-1l0-1.3l.1-3.2l.1 4l.1 5.9l.1-2.1l0-21.7l.1 14.8l.1-3.8l.1 9.7l0 2.2l.1-2.4l.1 2.4l.1-1.6l0-8.2l.1 3.8l.1-2.9l.1 1.5l.1 3.1l0-.9l.1 .4l.1-1.4l.1-.2l0 1.5l.1-3.9l.1 5.6l.1-5.4l0 3.6l.1-3.5l.1-.4l.1-1.5l0-4.9l.1 3.4l.1 1.3l.1-10.1l.1 11.4l0 2.6l.1-7.2l.1 19.6l.1-10l0-8.8l.1 25.8l.1-21.7l.1-2.7l0 .1l.1 13.7l.1-11.4l.1 2.3l0-1.4l.1-1.4l.1 7l.1-5.3l.1-1l0 16.7l.1-16.2l.1-3.5l.1 1.3l0 3.8l.1-1.1l.1 3l.1-1.7l0 4.8l.1-3.9l.1-9.7l.1 11.7l0-.7l.1-5.1l.1 3.2l.1-6l.1-11.9l0 15.4l.1-5.1l.1-6.9l.1 1.6l0-7.3l.1 9.1l.1 4.9l.1-18l0-.3l.1 3.4l.1 7.8l.1-8.6l0 .6l.1-.6l.1-.4l.1-.3l.1-7.3l0 .2l.1 2.3l.1-1.7l.1 3.9l0-1.6l.1 8.7l.1-22.5l.1 7.5l0 12.1l.1-.8l.1-.5l.1 2.8l0-2.2l.1 4l.1-3.4l.1 4l.1 4.7l0 .2l.1 4.5l.1 .8l.1-7.8l0 9.1l.1-4.2l.1 4.4l.1-4.9l0 7.5l.1-3.2l.1 .8l.1 .7l0 3.9l.1 3.2l.1-2.5l.1 1.6l.1-4.2l0 6.2l.1-9.8l.1 3.5l.1-3l0 5l.1 .1l.1 10.8l.1-8.4l0 3.7l.1-7.7l.1 0l.1 2.6l0-3.7l.1 3l.1-5.5l.1 6.9l.1-4.8l0 6l.1 5l.1-9.4l.1-.5l0-2.3l.1 2.3l.1 0l.1-.4l0 13.9l.1-12.4l.1 7.2l.1-5.2l.1-3.5l0 5.4l.1-2.7l.1 .8l.1 1.3l0 8.3l.1-12.1l.1 4.3l.1-2.9l0 .6l.1-1.6l.1 3.2l.1-8.9l0 4l.1-4.1l.1 5.3l.1 6.2l.1 .9l0-10.3l.1 .9l.1 6.5l.1-2.3l0 3.5l.1 2.1l.1-2.7l.1-5.4l0 3.3l.1-14.3l.1 16.8l.1-.6l0-11.4l.1 4.1l.1 4.5l.1 2.7l.1-2.2l0 11l.1-12.4l.1-.7l.1 2.1l0-4.6l.1 5.6l.1 4l.1-6.8l0-7l.1 11.6l.1-2.9l.1-2.6l0 13.5l.1-15.7l.1 1.6l.1 0l.1 7l0-2.4l.1-5.9l.1-.1l.1 9.5l0-.4l.1-6.2l.1 4.7l.1-5.8l0 1l.1 2.4l.1-.4l.1 2.3l0-1.9l.1 .8l.1 .2l.1-.1l.1-.2l0 .3l.1-.7l.1-1.1l.1-.6l0 5.2l.1-5.3l.1 3.8l.1 .9l0-2.4l.1 1.9l.1 6.4l.1-6.7l0 .6l.1-4.7l.1-5.4l.1 8.1l.1 1.2l0 .6l.1 2.1l.1-5.8l.1-1.7l0-.9l.1-5.8l.1 8l.1-9.5l0 8.8l.1 3l.1-5.2l.1-2.1l0 .6l.1 .1l.1 6.1l.1-9.4l.1 4.7l0 1l.1 3.4l.1 2.5l.1-8.5l0-1.1l.1 15l.1-2.5l.1-7.1l0-1.6l.1 9.1l.1 .2l.1-11.8l0 4.7l.1-2l.1 5l.1 8.8l.1-16.1l0-2.9l.1-.3l.1 6.4l.1-4l0-2.7l.1 0l.1 7.7l.1-.6l0-4.1l.1 2.9l.1 .3l.1 1.7l.1-1.2l0 1.6l.1-.8l.1-5.2l.1-1.6l0 .1l.1 4.2l.1 1.8l.1 1l0 3.2l.1-9.9l.1 .2l.1 2.1l0-3.4l.1 2.9l.1-.7l.1 5.8l.1-7.8l0 10.7l.1 1.9l.1 .5l.1-12.1l0 .5l.1 1.2l.1 8.2l.1-7.5l0-8.8l.1 16.5l.1-5.3l.1-3.6l0-2.7l.1 7.6l.1-1.4l.1-14.7l.1 15.8l0-1.6l.1 2.1l.1-3.8l.1 4.9l0-4.2l.1 3.8l.1-2.1l.1 1.5l0 11l.1-11.7l.1-7l.1 4.1l0 1.4l.1 4.9l.1 2.4l.1-6.2l.1-3l0 4.1l.1 2.8l.1 .7l.1-7.9l0-.8l.1 8.8l.1-5.5l.1-1.8l0 3.6l.1-1l.1 3l.1-11.5l0 7.4l.1-7.9l.1 5.5l.1-1.8l.1 5.5l0 4.5l.1-5.4l.1 5.6l.1-10.8l0 2.7l.1 .2l.1 5.2l.1-4.5l0-1.2l.1 5.6l.1-7l.1 11.6l0-7.5l.1-8l.1 10.8l.1-28.8l.1 26.5l0-2.7l.1 3l.1-.4l.1-4.2l0-2.4l.1 2.4l.1 .8l.1 5.3l0 3l.1-14.2l.1 11.7l.1-1.9l0 .2l.1-2.7l.1 .5l.1 9.2l.1-4.6l0-9.6l.1-1.8l.1 10.3l.1 3.4l0-18.8l.1 14.2l.1-3.9l.1 4.3l0-1.8l.1-2.1l.1 11l.1-6.8l0-2.7l.1-4.5l.1 2.5l.1 6l.1-2.9l0-1.7l.1 3.4l.1-8.5l.1 10.3l0-4.3l.1 3.4l.1 4.3l.1-1.7l0-1.8l.1-10.2l.1 3.5l.1 4.7l.1-1.6l0 2.4l.1-3l.1 2l.1-5.1l0-2l.1 8.8l.1-2.3l.1 3.9l0-6.4l.1 7.6l.1-5.3l.1-1.9l0 .1l.1 5.5l.1 1.8l.1-5.3l.1-4.3l0 3l.1 4.6l.1 4.9l.1-7l0 8.5l.1-17.6l.1 3.1l.1 1.5l0 3.4l.1-3.5l.1 .8l.1 .8l0 2.6l.1-3.8l.1-.9l.1 1.3l.1 6.2l0-3.5l.1 .3l.1 2.3l.1-7l0 3.3l.1-3l.1 14.9l.1-16.6l0 1.9l.1 3.7l.1 3.3l.1-8.7l0 .6l.1 9.3l.1-1.2l.1 .4l.1-4.7l0 .1l.1 3l.1 1.7l.1-13.2l0 12.4l.1-.5l.1-4.6l.1-.5l0-4.9l.1 7.1l.1-.9l.1 2.8l0 .9l.1 6.3l.1-4.7l.1-3l.1-5.7l0 4.3l.1 6.3l.1-2.1l.1-1.1l0 1.8l.1-5.5l.1 .8l.1-1.2l0 1.1l.1-12.8l.1 8.2l.1 15.6l0-11l.1-1.8l.1 3.4l.1 1.4l.1-5.4l0 .4l.1 4.8l.1 4.8l.1-8.4l0-4.6l.1 3.4l.1 3.3l.1-3.1l0 4.8l.1 1.5l.1-4.7l.1 5.8l0-3.3l.1 2.7l.1-5.8l.1-2.4l.1 4.3l0 7.1l.1-16.4l.1 9.4l.1 .2l0 5l.1-6.9l.1 4.7l.1-9.2l0 3.5l.1-1.8l.1 6.3l.1-5l0 2.6l.1-3.6l.1 4.1l.1 0l.1 4.6l0-4.5l.1 3.3l.1 2.2l.1 10.4l0-17.8l.1 2l.1 1.5l.1 .3l0-10.2l.1 4.7l.1 10.4l.1-3.1l.1-7.8l0 3.2l.1 1.4l.1-2.4l.1 1.8l0-6.3l.1 6.7l.1 5.2l.1-2.9l0-3.1l.1 2l.1 8.3l.1-4.6l0 2l.1-4.1l.1-2.1l.1 2.9l.1 2.9l0-9.3l.1-11.7l.1 14.8l.1-1.3l0 5.1l.1 6.6l.1-3.9l.1-5.7l0 3l.1-4.5l.1 4.7l.1-12.8l0 13.9l.1-10.1l.1 6l.1-3.4l.1 4.2l0-3l.1-3.9l.1 10.2l.1-9.4l0 10.6l.1-8.7l.1 5.6l.1-.9l0-3l.1-8.4l.1-.1l.1 11.4l0 4.3l.1-6.6l.1-5.9l.1 7.6l.1-6.8l0 5.2l.1-1.2l.1 0l.1 2.5l0-5.2l.1 11l.1-6l.1-4.2l0 5.1l.1-5.4l.1 9l.1-3.6l0-.2l.1-1.5l.1-.8l.1-5.1l.1 2.6l0 3.5l.1 .9l.1-2.6l.1 2.3l0-1.5l.1 1.1l.1 5.7l.1-12.3l0 12.3l.1-3.1l.1-5.6l.1-2.4l0 10.7l.1-7.9l.1 3l.1-12l.1 9.7l0-3.4l.1 .3l.1 3.9l.1 1.6l0-4.5l.1-2.9l.1 8.5l.1-2.3l0 6.8l.1-10l.1 .3l.1-2l0 2.3l.1 6.8l.1-5.7l.1-.7l.1 2.6l0-4.7l.1 3.9l.1 2.3l.1-.5l0 1.2l.1-2.3l.1-7.2l.1 7.3l0-2.8l.1-.7l.1-3.9l.1 8.9l0-6.4l.1-1.6l.1 3.5l.1-1.5l.1-5.8l0 27.2l.1-13.3l.1-2.4l.1-.6l0 1.8l.1-7.4l.1 7.5l.1-2.5l0 4.4l.1-8.5l.1 1.9l.1-5.1l.1 1.1l0 .2l.1 .6l.1 1.1l.1 4.4l0 4.1l.1-7.8l.1-3.3l.1 6.3l0 .7l.1 3.7l.1 5.9l.1-13.4l0 2.2l.1 7.5l.1-12.5l.1 9.7l.1-9.6l0 5.1l.1 6.8l.1-10.8l.1 .7l0-6.1l.1 4l.1 4.8l.1 .1l0 6.1l.1-8.2l.1 1.1l.1-.6l0-1.2l.1 .7l.1 3.4l.1 3.7l.1-1.9l0 2.5l.1-5.1l.1 9.2l.1-12.2l0 2.7l.1-1.8l.1-1.6l.1 8l0-13.4l.1 4.1l.1-1.2l.1 1.4l0-3l.1 6.5l.1-4.3l.1 9.4l.1-4.2l0-1.4l.1-6.7l.1 9.6l.1 2.8l0-5.6l.1 1.3l.1 6.5l.1-14.2l0 5.3l.1 5.5l.1-6.1l.1-.2l0 5.6l.1 2.1l.1-3.2l.1-.1l.1-6l0-5.1l.1 9.7l.1-.7l.1 1l0-4.3l.1-2.2l.1-2l.1 1.5l0 7.1l.1-8.4l.1 7.4l.1-9l0 10.4l.1 1.2l.1-.9l.1-3.3l.1-4.4l0 7.1l.1-11.9l.1 11l.1 .2l0-5.1l.1 3.1l.1 .1l.1 1.2l0-8.2l.1 4.4l.1 6.5l.1 1.1l0-1.6l.1-5.9l.1-1.6l.1 3.3l.1 3l0-3.3l.1 4.7l.1-.1l.1-6.2l0 10.4l.1-5.4l.1 .1l.1-2.2l0 8.8l.1-3.3l.1-7.5l.1 7.6l0-5.6l.1 4.2l.1-4.2l.1-.4l.1-.5l0-6.8l.1 4.5l.1 2.5l.1 3.8l0 2l.1-4.3l.1-.2l.1 4l0-3.3l.1-7.5l.1 10l.1-.2l.1 .5l0-1.4l.1 6.9l.1-8.7l.1-4.5l0 1.6l.1 8.2l.1-6.7l.1 1.8l0 3.8l.1-7.7l.1 7.3l.1-8.2l0 9.1l.1-7l.1 4.9l.1-3.1l.1 4.6l0-.5l.1 4.9l.1-6.2l.1-1l0-4.3l.1-1.3l.1 9l.1-.5l0 9.6l.1-11.7l.1-5.3l.1 6.8l0-1.6l.1-4.9l.1 6.8l.1-2.3l.1 1.7l0-2.3l.1-3l.1 3.5l.1 .1l0-3.1l.1 3.4l.1-4.8l.1 5.3l0-2l.1-1.7l.1 6.4l.1-.3l0-4.1l.1-.5l.1 2.8l.1 5.2l.1 0l0-6.5l.1 1l.1 2.2l.1-.2l0-3.8l.1 4.2l.1-13.3l.1 17.9l0-2.6l.1 2.1l.1-7.1l.1 2.1l0-2.2l.1 4.1l.1 11.2l.1-15.4l.1 2.4l0-5.9l.1 6l.1-3l.1 .2l0 1.9l.1-3.8l.1 5.9l.1-9.8l0 13.1l.1-3.8l.1-5.7l.1 .4l0 6.3l.1-8.2l.1 6.6l.1-2.7l.1 .9l0-5.2l.1-1.1l.1 5.6l.1-6l0 3.6l.1-3.6l.1 .8l.1 3.1l0-.7l.1-.3l.1-10.3l.1 12.4l0 1.2l.1-3.3l.1 3.3l.1 2.5l.1 .9l0-1.4l.1-6.8l.1 6.5l.1-4l0-.6l.1-4.2l.1 3l.1 11.7l0-10.7l.1-.4l.1 3.4l.1-1.1l0 3.3l.1-3.4l.1-.6l.1 .8l.1-4.3l0-2.4l.1 7.1l.1-4.6l.1 5.3l0 7.1l.1-9.7l.1-4.8l.1 .8l0 7.9l.1 1.2l.1-5.1l.1-8.3l.1 14l0-1.7l.1-1.3l.1 .2l.1 1.8l0-5.6l.1 4.5l.1 4.4l.1 1.5l0-2.9l.1-2.6l.1 8.7l.1-5.8l0 .9l.1-5.5l.1 7.9l.1-12.5l.1 3.1l0-5.7l.1 2.7l.1 14.8l.1-14.7l0 8.2l.1-3.3l.1-3.2l.1 3.6l0 3.7l.1-1.6l.1 .9l.1-8.5l0 5.8l.1-15.4l.1 17.8l.1-3.3l.1-5.8l0-5.7l.1 6.6l.1 4.1l.1 4.1l0-10.5l.1 3l.1-3.4l.1 2.8l0-1.8l.1 15.3l.1-10.1l.1-.6l0 1.8l.1 0l.1-3l.1-2.2l.1 4.3l0-1.1l.1 4.2l.1-2.5l.1-2.2l0 5.1l.1-5l.1 1l.1 5.3l0 5.2l.1-9.8l.1-.8l.1 6.4l0-5.5l.1 10.2l.1-8l.1 .7l.1 .5l0 5.1l.1-11.1l.1 .5l.1 4.5l0 2l.1 3.1l.1-.5l.1-3.3l0-4.1l.1 4.5l.1-3.2l.1 3.2l0-2.8l.1-3.8l.1 7.6l.1-5.8l.1 .3l0-1.7l.1 6.4l.1 4.9l.1-12.1l0 6.6l.1-2.2l.1 3.8l.1 2.3l0-.8l.1-1.4l.1-7.1l.1 8.1l0 3.9l.1-8.4l.1-10.8l.1 4.5l.1 3.8l0-3.9l.1 10.2l.1-2.5l.1 .6l0-3.6l.1-3.8l.1 .1l.1 4.7l0-2.2l.1-1.2l.1 .1l.1-2.6l0-.5l.1 4.1l.1-8l.1 9.5l.1-2.4l0 8.6l.1-2.4l.1-5.2l.1 .9l0 6l.1-.3l.1-.9l.1 2.1l0-10.2l.1-.5l.1 1.2l.1-.8l.1 7l0 .5l.1-7.4l.1 2.8l.1-.5l0-6.2l.1 11.5l.1 .2l.1-6.8l0 5.4l.1-4.3l.1-.7l.1 4.3l0-4.4l.1 4.6l.1-4.5l.1 3.1l.1 0l0 1.2l.1-6.8l.1 5.7l.1-2.9l0 3.5l.1 .7l.1-.9l.1-2.6l0 2.4l.1-.8l.1-1.1l.1 .2l0 4l.1-5.1l.1 4.9l.1-7l.1-4.3l0 4.2l.1 9.6l.1-7.3l.1-.6l0-6.5l.1-.2l.1 6.4l.1 .5l0 .6l.1 5.1l.1 3.6l.1 1.5l0-9.2l.1-1.4l.1 .8l.1 5.5l.1 5.2l0-17l.1 6.4l.1 6l.1-1.5l0-.9l.1 2.5l.1-10.4l.1 2.1l0 9.7l.1-9.4l.1 1.4l.1 6.4l0-4.6l.1-6.8l.1 5.6l.1-1.2l.1-1.1l0 7.8l.1-7.4l.1-1l.1 .6l0-2l.1 .3l.1 1.9l.1 6.4l0-5l.1 3.7l.1-6.4l.1 1.9l0-1l.1 5l.1-9.9l.1 1.2l.1 .5l0 4.3l.1-.5l.1 .2l.1 2.8l0-3.7l.1 .8l.1-1.9l.1 6.5l0 2.5l.1-.1l.1-3l.1-1.5l0 1.1l.1-4.3l.1 6.1l.1-9.4l.1 5.6l0 4.5l.1-4.1l.1 6.2l.1-8.4l0-.3l.1 1.4l.1 3l.1-2.2l0 3.9l.1-.5l.1-3.7l.1 4.3l0-2.9l.1 9.1l.1-13l.1-.1l.1 5.1l0-5.6l.1 5.6l.1-1.9l.1-.6l0-10.4l.1 10.2l.1-2.2l.1-5.5l0 5l.1-2l.1 4.8l.1-9.4l.1 4.3l0 6.2l.1-.2l.1-7.5l.1 5.3l0-3.4l.1 6.8l.1 4.3l.1-2.6l0-.8l.1-.7l.1-4.8l.1 6.9l0-6.6l.1 2l.1 .3l.1-.5l.1 1.2l0-8.2l.1-2.1l.1 5.5l.1 2.1l0 0l.1 2.8l.1 3.6l.1-8.1l0 2.7l.1-.9l.1 7l.1-2.2l0-6.2l.1 5.2l.1-4.5l.1 1.6l.1-1.6l0 6.8l.1 0l.1-5.6l.1-8.6l0 6.8l.1-4.4l.1 4.6l.1 6.4l0-11.4l.1 6.9l.1-.8l.1 10.7l0-3.2l.1-1l.1 .3l.1 1.2l.1-4.9l0 13.5l.1-8.1l.1-11.3l.1-9.2l0 9.1l.1 4.2l.1 1.1l.1 1.4l0-3.7l.1 4.3l.1 1.7l.1 .6l0-4.4l.1-2.8l.1-1.1l.1 3.6l.1-2.8l0 5.3l.1-4.1l.1-3l.1 3l0 5.8l.1-3.6l.1-2l.1-.9l0 1.1l.1-.1l.1 1.9l.1 5.9l0-10.3l.1 3.3l.1 6l.1-3.1l.1-.8l0-4.6l.1 7.3l.1-2l.1-5.7l0-3.4l.1 12l.1-5.1l.1 5.8l0 4l.1-10l.1 3.5l.1-3.1l0 4.8l.1-7.3l.1-9.1l.1 13.5l.1 2.7l0-2.1l.1-1.8l.1-6.6l.1 7.9l0 8.4l.1-6l.1 3l.1 .2l0-1.8l.1-10.6l.1 3l.1 14.3l0-15l.1 4.6l.1 1.2l.1-1.1l.1-4l0-2.1l.1-1.9l.1 8.6l.1 1.2l0-2l.1-3.2l.1 .5l.1-10.3l0 13.1l.1 6.8l.1-10.7l.1 9.3l.1-10.3l0-2.4l.1 8l.1-2.8l.1-2.1l0-.8l.1-2.8l.1 6.9l.1-.6l0 .5l.1-3.1l.1-.2l.1 .2l0 5l.1-1.1l.1 3.6l.1-5.9l.1 .3l0 .4l.1 2.9l.1-3.7l.1-4.6l0 1.8l.1 2l.1 2.2l.1 1.8l0-1.7l.1-5.8l.1 1.6l.1 1.1l0 1.7l.1 8.6l.1-8l.1-3.1l.1 3.8l0-1.2l.1 9.4l.1-8.8l.1-1.7l0 5.2l.1-1.9l.1-1.5l.1-.1l0 7.1l.1-12.7l.1 5.3l.1-.7l0 6.3l.1 2.2l.1-3.2l.1-3.3l.1 2.6l0 3.4l.1-11.7l.1 4l.1 1.6l0-5l.1 2.7l.1 6.4l.1-6.2l0-.1l.1 .2l.1 .5l.1 5.8l0-6.6l.1 .8l.1 2.3l.1-8.4l.1-.8l0 6.9l.1 6.5l.1-.4l.1-4.3l0 2.4l.1-1.1l.1-.2l.1-.1l0 5.1l.1-3.6l.1 4.3l.1-9.3l0-1l.1 .6l.1 3l.1-1.1l.1 .7l0-.2l.1-.7l.1-.7l.1 4.2l0-3l.1 .4l.1-6.4l.1 8.3l0 9.6l.1-15.7l.1 10.6l.1-5.6l0 .9l.1-4.3l.1-5.1l.1 3.5l.1-1.5l0 3.2l.1 1l.1 4l.1-3.3l0 8.5l.1-13.6l.1 3.7l.1 1l0 1.1l.1-.2l.1 .8l.1 5.7l0-10l.1 6.5l.1 2.8l.1 1.1l.1-3.7l0-.1l.1-1.3l.1-4l.1 10.5l0-10.2l.1 3.2l.1-3.2l.1 7.8l0-2.3l.1-1.1l.1 0l.1 4l.1-3.6l0 3.7l.1-.9l.1 3.9l.1-5.1l0 .4l.1-2.3l.1 6.7l.1-7.3l0-4.6l.1 .2l.1 6.2l.1-10l0-4.6l.1 9l.1 5.2l.1-1.2l.1-.5l0-1.5l.1-3.3l.1-2.4l.1 3.5l0 2l.1 2.4l.1-1.8l.1 9.3l0-3.7l.1 4.7l.1-14.3l.1 .4l0 4.7l.1 5.3l.1-15l.1 14.6l.1-6.4l0 2l.1 3.1l.1-7.1l.1-4l0 4.3l.1 1.6l.1 2.6l.1 3.1l0-2.1l.1-3.4l.1 3.4l.1-1.7l0-3.2l.1-11.7l.1 13.1l.1-3.8l.1-.7l0 1.7l.1 13.6l.1-8.2l.1 3.6l0-7.9l.1 3l.1-4.8l.1 3.2l0 3.2l.1-4.1l.1 3.9l.1-4.5l0 2l.1-2.5l.1 7.7" fill="none" stroke="#000" stroke-width="0.85" stroke-linejoin="round"/>
<path d="M592.6 682.4 H992 M593.4 682.4 V688.9 M643.1 682.4 V686.4 M692.9 682.4 V688.9 M742.6 682.4 V686.4 M792.3 682.4 V688.9 M842 682.4 V686.4 M891.8 682.4 V688.9 M941.5 682.4 V686.4 M991.2 682.4 V688.9" fill="none" stroke="#000" stroke-width="1.6"/>
<path id="tc" d="M1090.8 657.3l.1 0l.1-.1l0 2.7l.1 8.2l.1-3.6l.1-7.1l0 .8l.1 6.6l.1-3l.1 3.4l0-7.9l.1 .8l.1-2l.1 2.1l0 1.3l.1-.1l.1 1.7l.1-2.2l0-1.6l.1 1.3l.1 14.2l.1-8.3l.1-11.4l0 10.5l.1 3.7l.1-3.5l.1-6.1l0 11l.1-9.3l.1 4.9l.1-3.6l0 5.9l.1-8.2l.1 2.4l.1-1l0 5.8l.1-.5l.1 .1l.1-6l.1 3.9l0-7.7l.1 2.5l.1-1.5l.1 3.9l0-4.2l.1 2.1l.1 3l.1-6.4l0 6.6l.1-6.1l.1 .5l.1-1.5l0 4.1l.1 .2l.1-.1l.1-1.4l0 5l.1 1.1l.1-2.3l.1-4.3l.1-1.7l0-.1l.1 .2l.1 5.9l.1-7.8l0 8.5l.1-6.1l.1 10l.1-3.5l0-2l.1-.3l.1-8.2l.1 6.7l0 1.5l.1 7.8l.1-2l.1 2.4l.1-8.1l0 4.8l.1 1l.1 3.2l.1-6.6l0-5.5l.1 4.6l.1 3.3l.1-5.1l0 3.8l.1-4.4l.1 4.5l.1-12.4l0 7.5l.1-.2l.1-.7l.1 8.8l0-4.9l.1-3.6l.1 1.7l.1-1l.1-.1l0 .6l.1 .9l.1 2.5l.1-6.9l0 7.5l.1-1.6l.1-5.5l.1-1.4l0-1.5l.1 4.2l.1 5.4l.1 .1l0-5.2l.1 3l.1-1.2l.1 6.6l0-14.2l.1 11.4l.1-2.1l.1-5.2l.1 1.6l0 .8l.1 4.6l.1-1.1l.1 6.1l0-3.7l.1-3.2l.1 8.4l.1-8l0-14.1l.1 18.4l.1-9l.1 8.1l0 .2l.1-9l.1 3.3l.1 6.4l.1 2.3l0-5.5l.1-5.6l.1 5.2l.1 2.3l0-.3l.1 2.8l.1 2l.1-5.5l0 5l.1-4.4l.1-5.1l.1 3.4l0-.8l.1 6.6l.1-10l.1-2l0-2.3l.1 14l.1-10.6l.1-.2l.1 .3l0 4l.1-4.1l.1 8.5l.1-3.7l0-.5l.1-.7l.1 .2l.1-1.8l0 4.8l.1-1.4l.1-3.6l.1 2.3l0-1.5l.1 2.3l.1 6.6l.1-1.1l0-5l.1 .3l.1-3.9l.1 1.5l.1-2.2l0 4.2l.1-.7l.1 11.6l.1-8.3l0 4.3l.1-6.2l.1 .2l.1-.8l0-1.1l.1 1.7l.1-1.4l.1 7.9l0 1.9l.1-9.7l.1 2.8l.1 3.9l.1-.1l0-4l.1-7.1l.1 6.2l.1 2.2l0-.2l.1-4.6l.1 6.9l.1-3.2l0-6.6l.1 3l.1 8l.1-7l0-1.6l.1 3.6l.1-5.6l.1-2.1l0 1.3l.1 4.4l.1 5.6l.1-20l.1 12.6l0-5.4l.1 2l.1-6.9l.1 6.1l0 1.2l.1 1.1l.1 7.7l.1 .1l0-3l.1 .6l.1-4.8l.1-.6l0 1.9l.1 3.8l.1-9.2l.1 5.9l.1-3.2l0 6.1l.1 .7l.1 1.7l.1-.7l0-3.8l.1-6.4l.1-5.8l.1 12.6l0 1.4l.1-3.1l.1-.7l.1-5.7l0 10.3l.1-1.1l.1-2.9l.1 .5l0 .1l.1-2.3l.1 4.4l.1-5.4l.1 9.5l0-10.7l.1 10.6l.1-7.6l.1 2.9l0 4.4l.1-4.9l.1 .4l.1 2.5l0-2.4l.1-2.5l.1-7l.1 11.7l0 14l.1-12.2l.1-3.4l.1 4.1l0 2.3l.1-2.5l.1 .5l.1-2.6l.1 7.3l0-7.1l.1-33.8l.1 43.6l.1-11.7l0 6.1l.1-13.1l.1 6.4l.1-2.5l0 .2l.1 1.9l.1 6.6l.1-7.9l0-2.1l.1-.6l.1 4.1l.1 3.4l.1-2.5l0-1.7l.1-2.6l.1 1.2l.1 2.4l0-.5l.1-3.4l.1 1.6l.1 6.2l0-6.9l.1 .7l.1 1.1l.1 2.7l0-2.9l.1-4.7l.1-2.2l.1-.2l0 3.9l.1-1.5l.1 5.7l.1 1.8l.1 .7l0-1.5l.1-6.3l.1 1.9l.1 3.3l0 1.5l.1-3.8l.1 4.2l.1-3.2l0-.7l.1 4.1l.1-2.2l.1-6.6l0 3.6l.1-.8l.1 4.7l.1 .5l0-2.3l.1 5.6l.1-12.3l.1 4.1l.1 2.2l0 2.7l.1-5.8l.1 10.8l.1-4.2l0-4l.1-4.2l.1 9.2l.1-8.7l0 8.4l.1-8.5l.1 5.7l.1 1.6l0-3.2l.1-1.4l.1 2.6l.1-3.4l.1 3.9l0 3.4l.1 1.5l.1 1.8l.1 1.2l0-8.5l.1 1.5l.1-4.8l.1 9.2l0 1.6l.1-8.5l.1 8.8l.1-7.2l0-2.9l.1 8.4l.1-6.9l.1-5.3l0 13.2l.1-1.6l.1-12.4l.1 10.7l.1-2.8l0-3.4l.1-2l.1 3.2l.1 5.8l0-5.7l.1-2.7l.1 4.3l.1 7.4l0-5.2l.1-4.1l.1 6.8l.1-5.6l0 7.4l.1-12.2l.1 7.8l.1 3l.1-.1l0-2.2l.1-2.6l.1 1.1l.1-6.5l0 16.6l.1-2.6l.1-5.8l.1-5l0-2.5l.1-1.2l.1 6l.1-3.7l0 3l.1-.4l.1 .2l.1-3.9l0 5.3l.1 3.3l.1-7.5l.1-1.8l.1-4.7l0 5.9l.1 1.4l.1-.2l.1 5.2l0-3.2l.1 .1l.1 5.9l.1-1l0 3.9l.1-8.5l.1 1.1l.1-4.5l0 4.6l.1-7l.1 5.3l.1-1.2l0 5l.1-7.9l.1 5.3l.1 15l.1-19.6l0 .8l.1-2.4l.1 4.2l.1 3.2l0-9l.1 1.5l.1 13.8l.1-1.9l0-1l.1-12.2l.1 11.9l.1-8.1l0 2.9l.1-2.6l.1 5l.1-4.2l.1-.7l0 .1l.1 7.2l.1 6.3l.1-6.8l0 1.1l.1-4.5l.1-.3l.1 .2l0 7.7l.1-11.4l.1 8.2l.1-6l0-4.6l.1 7.8l.1-1.4l.1-3l0-1.3l.1 .2l.1 .4l.1-.3l.1-2.9l0 4.8l.1 .7l.1-5l.1 1.4l0 6.5l.1 2.5l.1-.5l.1-3.2l0-5.3l.1 5.1l.1 8.2l.1-11.1l0 6.2l.1-9.5l.1 .1l.1 3.5l.1-2l0-1.4l.1 3.8l.1-1.1l.1 4.1l0 2.8l.1-.4l.1 6.6l.1 2l0-15.6l.1 2.4l.1-.2l.1-1.9l0 7.1l.1-2.1l.1 4.4l.1-15.8l0 4.2l.1 6.6l.1-16.7l.1 13.6l.1 1.6l0 2.3l.1-2.9l.1 6.7l.1-7l0-2l.1 4.2l.1-2.5l.1-4.7l0 3.3l.1-2.1l.1 3.9l.1-4l0-6.8l.1 10.2l.1 2.7l.1 2.1l0-2.9l.1 3.9l.1-4.6l.1-.7l.1-2.8l0 2.8l.1 4.1l.1-5.7l.1-12.5l0 10.6l.1 2.3l.1-.3l.1 1.6l0-8.4l.1 14.1l.1-5.9l.1-4.4l0 16l.1-7.1l.1-6.1l.1 7.6l.1-9.7l0 .2l.1 7.9l.1 5.2l.1-8.7l0-2.6l.1-2.4l.1 3.3l.1 14.2l0-15.8l.1 .5l.1 9.5l.1-13.1l0 2.8l.1 2.4l.1 .2l.1-8.7l0 7.7l.1 .9l.1-3.1l.1-6.4l.1 7.9l0-2.6l.1 8.2l.1 2.3l.1-1.2l0 .9l.1-1.3l.1-7.1l.1 5.9l0-5.5l.1 1.5l.1-4.9l.1 5.5l0 5.3l.1-8.6l.1 5.8l.1-5l0 3.7l.1-6.2l.1 5l.1 .5l.1-10.4l0 10.4l.1 3.9l.1 4.5l.1-10.5l0 7.6l.1-6.7l.1 .3l.1-2.5l0 1.8l.1 1l.1-2.1l.1 .3l0 3.5l.1-4.6l.1 5.1l.1 1.2l.1-7.6l0-21.5l.1 24.5l.1 3.1l.1-6l0 8.4l.1-4.7l.1 3.8l.1-1.6l0-.4l.1 3.5l.1-5.3l.1 2.7l0 1.2l.1-7.2l.1 4l.1-4l0 4.7l.1-3l.1 4.7l.1-11.2l.1 11.4l0 3.4l.1-4.6l.1 1.4l.1 .2l0-3.1l.1 1.5l.1-4.4l.1 5.9l0-7.6l.1-1.8l.1-.1l.1 2.4l0 .4l.1-4.2l.1 2.5l.1-4.6l.1 8.9l0-.3l.1 .2l.1 3.9l.1-8.1l0 9.5l.1-1.3l.1-3.6l.1-.2l0 1.5l.1 6.5l.1-11.4l.1 9.3l0-4.3l.1 .3l.1-1.7l.1-2.6l0-3.8l.1 3.4l.1 4.2l.1-2.2l.1 2.2l0-3l.1-5.1l.1 5.9l.1 .3l0-9.4l.1 9l.1 1.4l.1 1.9l0-1l.1-10.3l.1 3l.1 2.7l0 5.3l.1 2.9l.1-8.3l.1 10.1l0 1.7l.1-2.9l.1-4.9l.1-5.7l.1 5.2l0 1.9l.1 8.7l.1-9.1l.1 5.6l0-3.2l.1-8.9l.1 9.3l.1-.7l0-3.9l.1-5.1l.1 12.5l.1 3.5l0-8.4l.1 6.5l.1-10.1l.1 6l.1-5.8l0 1.5l.1 2.9l.1-3.9l.1-3.8l0-6.4l.1 4.8l.1 8.1l.1-2.5l0-2.9l.1 3.5l.1 .3l.1-2.1l0 7.7l.1-.5l.1-7.2l.1-2l0-1.1l.1 1.3l.1-6.2l.1 6.2l.1 3.6l0-3.4l.1 6.9l.1-3.7l.1 .3l0 .4l.1 6.3l.1-3l.1-1.3l0 2.9l.1-1.8l.1-6.9l.1 8.9l0-2.1l.1-4.6l.1-5.1l.1 5.2l.1-2.7l0 4.8l.1 10.4l.1-10.3l.1 3.7l0 7.5l.1-4.7l.1-6.2l.1 .7l0-.3l.1-11.9l.1-1.3l.1 6.8l0 14l.1-4.5l.1-4.6l.1-.4l0 3.6l.1-2.7l.1-3.9l.1 5.2l.1 .3l0 3.6l.1 2.8l.1-11.8l.1 6l0-.6l.1-3.4l.1 8.8l.1 .4l0-5.2l.1-62.8l.1 60.1l.1 .2l0 5.7l.1-5.5l.1-2.2l.1 3.2l0-.8l.1-7l.1 12l.1-4.8l.1 4.9l0-3.5l.1-6l.1 8.6l.1-2.6l0-2.5l.1 5.1l.1-5l.1 1.6l0 1.2l.1-.6l.1 5.8l.1-4l0-.9l.1 5.1l.1-1.5l.1 7.3l.1-3.6l0-9.8l.1 9.7l.1-6l.1 16.3l0-8.5l.1-11.3l.1 13.4l.1-11.6l0-2.7l.1 9.5l.1-.4l.1-3.6l0-10.3l.1 12l.1-4.3l.1-2.9l0 4.2l.1 15.2l.1-18l.1-5.5l.1-2l0 17.2l.1-12.8l.1 .2l.1-1.5l0 7.2l.1 4.4l.1-6.1l.1-3.5l0 4.5l.1 1.3l.1 3.4l.1 1.9l0-2.5l.1-12.1l.1 10.1l.1-3l0 3l.1 .4l.1-13.9l.1 13.3l.1-3.5l0 2.5l.1 4.2l.1-9.8l.1 2.7l0 6.9l.1-8.7l.1 4.8l.1-3.4l0 .2l.1-1.9l.1-1.8l.1 3l0 5l.1 2.7l.1-3l.1-1l.1 3.9l0-8.9l.1-7.4l.1 9.5l.1 6.5l0-10.3l.1 17l.1-13.4l.1-7.3l0 2.7l.1 1.1l.1 3.2l.1 3.6l0 4.6l.1-6l.1-18.1l.1 19.1l0 1.5l.1-.8l.1-.9l.1-6.5l.1-1l0-.1l.1 3.7l.1 3.7l.1-7.2l0 3.4l.1-2.7l.1 3.6l.1-2.3l0 6.9l.1-7.3l.1-8.6l.1 16.4l0-2.8l.1 .6l.1-6.1l.1 9l.1-4.3l0-2.6l.1-1.5l.1-9.1l.1 16.3l0 .8l.1-9.3l.1 2l.1 2.2l0-2.8l.1 1.6l.1 6.9l.1 .1l0-4.2l.1-16.6l.1 13.1l.1 .2l0 3.7l.1-7.3l.1 11.5l.1-.1l.1-8.6l0-6.2l.1 10.5l.1-.5l.1-2.7l0 2.5l.1 1.4l.1-8.9l.1 9.3l0-12.3l.1 4.7l.1-2.5l.1 12.4l0-4.3l.1 2.6l.1-7.7l.1-4.5l0 12.2l.1-8.3l.1 4.2l.1-2.2l.1-7.3l0 10.2l.1 .7l.1-1.4l.1 3.6l0 .3l.1-5.7l.1-1.3l.1-.2l0 .1l.1 .6l.1 1.9l.1-2.6l0 .7l.1-.5l.1 2.5l.1 4.4l.1-.5l0-1.7l.1-4l.1-1.8l.1 2.2l0 3.5l.1-12.2l.1 4.9l.1 8.8l0-2.7l.1 6.2l.1-7.6l.1 4.2l0-2.2l.1-7.7l.1 9.1l.1-5.6l0 5.4l.1 0l.1 3.3l.1-4.9l.1-.6l0 3.5l.1-9.5l.1 10.3l.1-2.4l0-2.3l.1-3l.1 9.3l.1-.7l0-7.8l.1 5.4l.1-2.3l.1 1.1l0 6.2l.1-3.7l.1-6.9l.1-3.6l0 .6l.1-1.7l.1 9l.1-1.6l.1 1l0 1.4l.1-2l.1 13.3l.1-14.1l0 5.7l.1-8.1l.1-1.5l.1 7.8l0-8.7l.1 .5l.1 .5l.1 6.3l0-7.5l.1 11.9l.1-5.8l.1 10l.1-14.4l0 8.7l.1-12l.1 6.6l.1 .1l0-2.5l.1 4l.1-.5l.1 .7l0-6.9l.1 3.6l.1 4.6l.1-2l0-1.9l.1 1.5l.1-1.1l.1-1.4l0 7.5l.1-4.8l.1-4.6l.1 3.4l.1-6l0 11.5l.1-4.7l.1-3.5l.1 4.5l0-1.6l.1 2.7l.1 .7l.1-3.8l0 2l.1 1.4l.1-2.3l.1 3.6l0-9.6l.1 3.2l.1-2.4l.1 6.9l.1-.8l0 .8l.1-5.8l.1 3.6l.1 8.9l0-3.1l.1 6.7l.1-8.6l.1 4.6l0-3.9l.1-1l.1-2l.1 3.2l0-5l.1-4.4l.1 2.9l.1-1.2l0-.7l.1 13.4l.1-9.9l.1 6.4l.1-5.9l0 4.6l.1-2.1l.1 3.5l.1-3.7l0 5.3l.1-6.1l.1-4.8l.1 2.6l0-2.4l.1 3.3l.1 1.9l.1-.6l0-.7l.1-5.2l.1 3.4l.1 5.3l0-5.4l.1 4.2l.1-4.6l.1 8.1l.1-3.6l0 7.3l.1-13.8l.1-6.8l.1 10.7l0-4.9l.1 6.6l.1 5.3l.1-4.9l0 1.8l.1 2.8l.1-5.1l.1 5.2l0-5.6l.1 .5l.1 6.4l.1-5.9l.1-8.8l0 11.4l.1-6.9l.1 0l.1-1.2l0 11.3l.1 .5l.1-14.2l.1 13l0-.3l.1-.9l.1-19.9l.1 9l0 5l.1-8.1l.1 6.5l.1-.8l0 3.8l.1-8.1l.1 1.1l.1 5.9l.1 6.7l0-1.9l.1-5.1l.1 .8l.1-2.1l0 2.4l.1-1.8l.1-.8l.1 2.7l0 2.8l.1-4.5l.1 4.2l.1-2.6l0-4l.1 5.7l.1-5l.1 .2l.1-12l0 20.1l.1-11.1l.1-1.3l.1 4.2l0 5.6l.1 3l.1-2l.1-2.6l0-6.1l.1 6l.1 2.8l.1-2.8l0-4.6l.1 17.4l.1-8.6l.1-12.2l0 5.5l.1 9.2l.1-8.1l.1-.5l.1 4.6l0-4.8l.1-3l.1 4.8l.1-8.2l0 1.3l.1 5.4l.1 3.6l.1-11.2l0 2.7l.1 0l.1 5.8l.1-2.5l0 1.6l.1-3.5l.1 10.5l.1-13.5l0 3.9l.1-.6l.1 .4l.1 4.7l.1-1.8l0 4l.1 2.7l.1-13.4l.1 7l0-3.1l.1-.6l.1-2l.1 2.6l0 1.4l.1 3.5l.1-.8l.1-6.2l0 4.7l.1-4.1l.1 4.8l.1 1.1l.1-4.3l0 3.3l.1-.6l.1 1.7l.1-5.8l0 11.7l.1-13.5l.1 .6l.1 10.2l0-9.9l.1 3.6l.1-1.1l.1 3.2l0-1.1l.1-5.1l.1 8.8l.1-8.5l0-6.5l.1 11.2l.1 5.8l.1-1.3l.1-7l0-2.4l.1 6l.1-2.7l.1-4.4l0 5l.1 1.5l.1-.3l.1-3.1l0 3.5l.1-4.4l.1 7.8l.1-9.6l0 4.6l.1 .6l.1-4.1l.1-1.6l0 12.9l.1-.6l.1-2.6l.1 2.9l.1-5.8l0-2.3l.1-13.4l.1 20.6l.1-6.7l0 1.5l.1-6.3l.1 10.5l.1 3.5l0-19.7l.1 14.5l.1-1.7l.1-7.4l0 2.6l.1 3.6l.1 6.2l.1-7.9l.1-4.2l0 11.7l.1-5.7l.1 3.3l.1 3.1l0-3.5l.1-6.9l.1-1.3l.1-3.4l0 6.9l.1-12.9l.1 12.3l.1-2.9l0 4.6l.1-2l.1 6.8l.1-4.1l0-7.7l.1 2.4l.1 6.4l.1 6.3l.1-8.3l0 2l.1-3.3l.1 2.6l.1-4.6l0 .8l.1 13l.1-6l.1-.2l0-3.1l.1-.6l.1 7.2l.1-6l0-5.6l.1 3.8l.1 5.9l.1-1.8l.1-1l0-.1l.1-4.2l.1 3.6l.1-2.5l0-.2l.1 1.3l.1-.1l.1 .3l0 4.6l.1 1l.1-5.1l.1-4.6l0 8.1l.1-5.5l.1 2.9l.1-.7l0-6.9l.1 7.6l.1-6.1l.1 4.9l.1 9.1l0-2.7l.1-3.6l.1 .7l.1-7.4l0-1.1l.1 1.7l.1-3.5l.1 .6l0 8.4l.1-6.5l.1 1.5l.1 .7l0-2.2l.1-5.4l.1 7.7l.1 4.7l0-5l.1 8.5l.1-12l.1-5.6l.1 7l0-4.2l.1-.6l.1 13.6l.1-6.6l0 2.7l.1 .5l.1-5.3l.1 2.1l0 1.8l.1-8.4l.1 8.9l.1-.9l0 4.5l.1-5.9l.1-1.1l.1 8.3l.1-1.8l0-15.1l.1 10.4l.1 6.6l.1-5.8l0 1.8l.1 .2l.1-6.6l.1 4.4l0 .3l.1 1.8l.1-4.6l.1-2.9l0 6.3l.1 4.2l.1-8.6l.1 7.1l0-3.1l.1 5.9l.1 .2l.1-2l.1 3.4l0-.4l.1-11.1l.1 3.5l.1 3l0 2.1l.1-4.6l.1 3l.1 .5l0-5.9l.1-2.8l.1-1.8l.1 8l0 1l.1 6.6l.1-14.2l.1 10.2l.1-3l0 2l.1-6.1l.1 .3l.1-3.6l0 3.4l.1-3.7l.1 15.8l.1-11.5l0 5.8l.1-4.3l.1 5.7l.1-6.3l0-.9l.1-6.4l.1 13.3l.1 4.5l0 1.5l.1-8.1l.1 4l.1-11.2l.1 2.8l0 5.4l.1-.6l.1 3.5l.1-16.6l0 9.6l.1-1l.1 4.2l.1-1.6l0-.4l.1-7.6l.1 9.4l.1 1.1l0-2.9l.1 5.6l.1-2.1l.1-5.5l0 3.8l.1-3.5l.1 5.2l.1-9.1l.1 1.8l0 2.1l.1 6.9l.1-3l.1-4.6l0 6.2l.1-1.1l.1-2.9l.1-4.5l0-2.5l.1 4.7l.1 2.5l.1-3.9l0-1.9l.1 4.9l.1 12.2l.1-9.8l.1-.6l0 .2l.1 .2l.1-8.1l.1-1.2l0 9.5l.1 .6l.1 .1l.1-5.9l0 7.8l.1-.7l.1 .2l.1-3.9l0 4l.1-7.2l.1-7.8l.1 13.8l0-7.4l.1 2.6l.1 5.8l.1-.9l.1 2.6l0-1.3l.1-5.6l.1 .6l.1 4.4l0 .1l.1-.2l.1-3.9l.1 3.7l0-16l.1 14.9l.1 5.4l.1-2.7l0-9.8l.1 2.5l.1-7.2l.1 9.2l0-1.6l.1 6.9l.1-.2l.1-4.3l.1 10.4l0-15.1l.1 2.4l.1-4.3l.1 8.1l0 2.6l.1-2.3l.1-3.9l.1 1.8l0-1.3l.1-4.8l.1 2.3l.1-7.3l0 5.8l.1 5.6l.1 3l.1-1l.1 1.9l0-13.9l.1 6.9l.1-2.6l.1 3.3l0 10.3l.1-2.5l.1 1.9l.1-8.4l0-3.5l.1 5.6l.1-.8l.1 1.4l0 2.7l.1-2.7l.1-3.3l.1 2.1l0-7.9l.1-.4l.1 5.8l.1 2.2l.1-.7l0 .1l.1 5.7l.1-6.5l.1 5.7l0 .5l.1-9.3l.1 10l.1-11l0-2.7l.1 7.6l.1-2.2l.1 .8l0 1.3l.1 4.9l.1-1.5l.1-8.6l.1 7.4l0 2.4l.1-.6l.1 3.4l.1 1.2l0-7.1l.1 5.9l.1-.9l.1-1.7l0-1.6l.1 6.8l.1-10.6l.1 8.2l0-9l.1 2.1l.1-10.1l.1 8.3l0 .3l.1 6.6l.1-8.7l.1 3.8l.1-4.3l0 5l.1-.2l.1-5.3l.1 3.3l0 3.8l.1-5.1l.1 2l.1-7.4l0-3.6l.1 9.5l.1-1.5l.1 1.7l0-2.5l.1-4.7l.1 4.3l.1 5.7l0-9.6l.1 3.9l.1 6.3l.1-7.1l.1 15.4l0-9.7l.1 0l.1-1.9l.1-.1l0-13.7l.1 15.7l.1-.5l.1 5.2l0-2.4l.1-10.9l.1 3.7l.1 7l0-3.7l.1 4.5l.1-8.4l.1 3.8l.1 5l0-4.7l.1-3.5l.1-15.8l.1 13.3l0 3.7l.1 10.3l.1-10.5l.1 5.4l0 .7l.1-2.1l.1-5.1l.1 4.6l0-4.7l.1 8.1l.1-.1l.1-8l0 5.7l.1-5.2l.1 3.5l.1-.6l.1 4.9l0 3.1l.1-5.4l.1 2.1l.1-10.3l0 4.5l.1 1.3l.1 6.3l.1-5l0-7.1l.1 7l.1 1l.1 1.5l0 0l.1-2.7l.1 11.6l.1-29.3l0 15.7l.1-6.1l.1 8l.1 .6l.1-.6l0-5.1l.1-1l.1 13.5l.1-9.9l0 2.3l.1-1.1l.1-6.1l.1 13.1l0-7.3l.1-4.9l.1 1.1l.1 7.6l0-1.1l.1-5.6l.1 5.5l.1-6.4l.1 .6l0 8.7l.1-6.1l.1-.8l.1 5.2l0 1.3l.1-4.8l.1 8.4l.1-7l0 6.1l.1 2.2l.1 5.1l.1-13.6l0-1.7l.1-1.7l.1 7.4l.1 .2l0-6l.1-19.8l.1 22.4l.1-1.4l.1 5.7l0-.2l.1 3.2l.1-14.4l.1 10.6l0 .5l.1-4.8l.1 2.3l.1-4.5l0 12.5l.1-9.8l.1-.1l.1-.1l0-.4l.1 2.1l.1 .7l.1-3.5l.1-8.5l0 4.7l.1 11.3l.1-3.1l.1-1.4l0 2.6l.1 .9l.1 .9l.1 .2l0-4.5l.1 5l.1-.8l.1-2l0-.9l.1-9.5l.1 2.7l.1 3.8l0 .5l.1-3.7l.1 3.3l.1-2.4l.1 3.3l0 3.4l.1-9.5l.1 9.3l.1 1.1l0-2.8l.1 4.2l.1-12.5l.1 2.4l0 2.6l.1 5.5l.1-1.3l.1-1.8l0-3.2l.1 3.5l.1-13.4l.1 7.5l0-6.5l.1 7.1l.1 3.6l.1 .4l.1-7l0 .9l.1 8.9l.1-7.3l.1 3.3l0-3.7l.1 6.2l.1-10.8l.1 1.7l0 5.2l.1 8.1l.1-7.5l.1-.6l0-2.6l.1-4.5l.1 9.5l.1-6.1l.1 5.1l0-1.7l.1 .9l.1-6.2l.1 9.2l0-1.5l.1-3.1l.1 8.9l.1-5.5l0 3l.1 1.6l.1-4.9l.1 4.5l0-6.7l.1 .7l.1 .5l.1-3.1l0 .9l.1 2.4l.1-.2l.1-1.6l.1-10.6l0 14.3l.1-1.7l.1-2.5l.1 .1l0 5.9l.1-1.6l.1-1.4l.1-.1l0-12l.1 1.9l.1 6.2l.1 3.9l0 .2l.1-.3l.1-.2l.1 3.7l.1-6.1l0 10.4l.1-2.3l.1-8l.1 1.2l0-1.8l.1-.8l.1-6.2l.1 3.8l0 2.6l.1-.6l.1 .4l.1 .9l0-7.7l.1 6.3l.1-5.1l.1 5.9l0 8.6l.1-6.7l.1 2.5l.1 3l.1 8.5l0-10.9l.1-13.9l.1 10.2l.1 3.3l0-5.3l.1-4.2l.1 10.9l.1 16.4l0-14.4l.1-9.7l.1 2.2l.1 8.5l0-7.6l.1 1.7l.1 4.4l.1-3.5l0-6.3l.1 5.6l.1 .7l.1 1.5l.1-.1l0 .1l.1-2.3l.1 .2l.1 .4l0-5.7l.1 12.4l.1-8l.1 3.6l0-8.2l.1 7.1l.1 1.2l.1-8.5l0 5.4l.1-10.5l.1 6.7l.1 5.6l.1-4.9l0 3.3l.1-11.8l.1 8l.1 8.2l0-8.5l.1-.2l.1 8.9l.1 2.7l0-14.6l.1 4.5l.1 4.4l.1 3.4l0-.2l.1-1.8l.1-9.5l.1 3.3l0 8.5l.1-7.4l.1-1.1l.1-2.5l.1 9.8l0-10l.1 2.6l.1 12.2l.1-5.2l0 4.3l.1-5.1l.1 .2l.1 .3l0-7.8l.1-4.2l.1 3.1l.1 6.5l0 .6l.1 5.3l.1-11.1l.1 3.9l0 .9l.1 .5l.1 3.3l.1 2.2l.1-4.7l0-1.6l.1 7.3l.1-10l.1 1.6l0 .2l.1 2.3l.1 3.3l.1-1.3l0-5.3l.1 4.7l.1 2.6l.1-11.9l0 8.6l.1-.6l.1-6.3l.1 7.9l.1-7.6l0 3l.1 2.1l.1 2.7l.1-3.5l0-3.2l.1 5l.1 2.3l.1-7.9l0 1.8l.1 2.6l.1 5.4l.1-4.7l0 2.4l.1-9.9l.1 12.2l.1-12.2l0 5.3l.1-.2l.1-7.3l.1 2.8l.1 1.3l0 1.2l.1-1.7l.1 2l.1 4.9l0-.9l.1-8l.1-1.2l.1 14l0-13.1l.1 7.1l.1 .6l.1-.1l0 .6l.1 4.1l.1-3l.1 .3l.1 5.4l0-14.2l.1 7.6l.1 .4l.1 1.1l0-1.8l.1 3.6l.1 2.8l.1-2.9l0-4.7l.1-.4l.1-1.2l.1 7.4l0-9.2l.1 3.7l.1-3.6l.1 2.1l0 3.5l.1-8.4l.1 12.5l.1-4l.1-1.5l0 .8l.1-2.2l.1-2.7l.1-8.2l0 5.6l.1 1.4l.1-5.9l.1 8.5l0-12.4l.1 13.4l.1 6.8l.1-13.7l0 13.4l.1 5.4l.1-8.1l.1 8l0-8.9l.1-.6l.1 1.7l.1-7.2l.1 7.2l0-2.1l.1 8.4l.1-2.7l.1 1.1l0-4.2l.1-.2l.1-8.1l.1 3.8l0 1.1l.1 3.3l.1 0l.1 1.3l0-7.4l.1-.5l.1-5.1l.1 9.2l.1 .9l0-5.6l.1 15.3l.1-4.6l.1-13l0 11.5l.1-6.5l.1-.3l.1 6.8l0-7.9l.1 3.9l.1-1.6l.1-3.1l0 7.4l.1 5.6l.1-9l.1-1l0 2.3l.1 5.3l.1-5.4l.1-2.2l.1-12.8l0 8.5l.1-4.7l.1 9.8l.1-.5l0-5.2l.1 2.4l.1-25.2l.1 22.9l0 1.7l.1 2.3l.1 2.1l.1-6.1l0-3.5l.1 6.7l.1-2.1l.1 12.8l0-16.5l.1 1.2l.1-2l.1 1.1l.1-3.1l0 8.9l.1 5.2l.1 2.5l.1-3l0-5.7l.1 2.7l.1-2l.1-2.7l0 3.9l.1-2.1l.1 1.7l.1 3.6l0 10.6l.1-14.7l.1 1.4l.1-1.7l.1 6.3l0-3.3l.1-1.9l.1 2.9l.1-5.7l0 3.4l.1 1.7l.1-4.9l.1-1.2l0 5.1l.1 6.1l.1-1.7l.1-7.5l0 .8l.1-.2l.1 3.9l.1-11.7l0 9.5l.1-1.5l.1 3.8l.1-2.9l.1-1.3l0-.7l.1 .7l.1-1.1l.1-.9l0 6.2l.1-1.6l.1 1.6l.1-.8l0-2.1l.1-9.8l.1 9l.1-4.4l0 7l.1 3.3l.1-8.1l.1 .7l.1 8.7l0-10.8l.1-1.9l.1 3.8l.1 4.9l0 2l.1-26.2l.1 11.2l.1 7l0 .8l.1-.9l.1 3.9l.1 .2l0 1.7l.1-8.8l.1 12.2l.1 .2l0-7l.1 5l.1-6l.1 7.4l.1 6l0-12.4l.1 3.5l.1 4.6l.1-4.2l0-9.4l.1 12.2l.1-2.7l.1-10l0-1.1l.1 15.5l.1-2.3l.1-4.2l0-.4l.1-.4l.1-5.4l.1 5.4l0-2.2l.1 3l.1 8l.1 1.8l.1-11.1l0 7.5l.1-8.5l.1 5.9l.1-4.4l0 2.9l.1-1.4l.1 .1l.1-9.1l0 4.9l.1-2.7l.1 .4l.1 0l0 12.5l.1-1l.1-3.8l.1 3l.1-7.3l0-5.8l.1 4l.1 5.8l.1 .3l0 2l.1-4.4l.1-1.7l.1 6.5l0-3.7l.1 2.8l.1-2l.1-6.5l0 2.5l.1-2.2l.1 3.6l.1-3l0 4.5l.1-4.6l.1-1.2l.1-1.6l.1 11.3l0-3.2l.1 7.7l.1-12.5l.1-11.6l0 19.8l.1 1.4l.1-3l.1-3.9l0 4.4l.1-7.3l.1 .5l.1 .7l0-1l.1 2.3l.1 .9l.1-2.4l.1 1.6l0 .3l.1-3.1l.1 2.9l.1-2.9l0 5.4l.1-7.1l.1 3.2l.1-3.1l0 4.2l.1-4.4l.1 2l.1 3.8l0 1.6l.1 6.5l.1-16.1l.1-.4l0-.5l.1 7.7l.1 1.2l.1 2l.1-2.8l0 5.9l.1-7.8l.1 3.5l.1-4.1l0 8.6l.1-8.3l.1 7.9l.1-10.8l0 16.7l.1-8.7l.1 7.6l.1-4.6l0-10.8l.1 .5l.1-.9l.1 16.6l0-2.7l.1-7.3l.1-2.3l.1 4l.1-5.3l0 11.3l.1-1.3l.1-4l.1-5.7l0 .5l.1 3.1l.1 1.8l.1-1.8l0 .4l.1-1.8l.1-1.4l.1 8.8l0-12l.1 1.9l.1-2l.1 2.8l.1-.1l0 4.6l.1 4.8l.1-1.9l.1-6.7l0-1.9l.1 19.1l.1-6l.1-5.4l0-.9l.1-1.7l.1 8.2l.1-8.5l0-2.4l.1 4.9l.1-8.6l.1-.3l0 12.3l.1-14.8l.1 8.9l.1-3.5l.1-5l0-1.1l.1 15l.1-5.4l.1-6.3l0 7.1l.1 2.3l.1-4.1l.1-1.5l0-.6l.1 7.1l.1 3.7l.1-1.5l0-11.9l.1 3.3l.1-9.5l.1 6.3l0 1.4l.1 9l.1-7.1l.1 8.4l.1-5.8l0-3.4l.1-7.6l.1 .7l.1 .3l0 10.4l.1-3.5l.1-.2l.1-5.9l0 .5l.1 11.5l.1-3.4l.1-4.6l0 3.4l.1 1.9l.1-4.8l.1 1.6l.1-2.3l0 8l.1 .1l.1-15.8l.1 5.1l0 7l.1 .1l.1-3.2l.1 3.1l0-1.4l.1 3.7l.1-8.4l.1-1.3l0 2l.1 7.4l.1-2.9l.1 1.3l0-4.4l.1 0l.1 2.4l.1-1.7l.1-2.6l0-5l.1 5.2l.1 1.9l.1 .3l0-.3l.1 1l.1-.6l.1 6.7l0-9.8l.1 5.9l.1-4.9l.1 7.9l0-2.1l.1 1.6l.1-9.5l.1 7.2l.1-5.8l0-3.2l.1 5.6l.1-2.5l.1 .8l0 13.4l.1-5.2l.1 .8l.1-5.7l0 1.4l.1 0l.1 4.2l.1-1.4l0-.8l.1 11.8l.1-13.9l.1 3.4l0-3.1l.1 1.8l.1-2.6l.1 .9l.1 2.1l0-.7l.1 7.6l.1-10.8l.1-4.1l0 11.1l.1-5.6l.1 1.5l.1-3.7l0 3.7l.1-4.4l.1 2.4l.1 1.4l0-1.7l.1-3.8l.1-2.4l.1 4.6l0-8.9l.1 11.3l.1 2l.1-7.6l.1 2.5l0-4.7l.1 8l.1-.2l.1 1l0 .3l.1-1.1l.1 1.1l.1-1.3l0 3.1l.1-2.7l.1 6.4l.1-10.7l0 3.7l.1 1.3l.1 8.5l.1-3l.1 9.1l0-14l.1 2.9l.1-6.2l.1 3.9l0 2.6l.1 5.6l.1-10.3l.1 2.2l0 1.6l.1-4.3l.1-1.2l.1 6.4l0-3.1l.1 1.8l.1-2.6l.1-4.3l0 5.6l.1-3.2l.1 5.4l.1-8.8l.1 9.4l0-1l.1 .5l.1-1.7l.1-3.3l0 4.7l.1 3.4l.1-9.5l.1-1.2l0 2.6l.1 13.7l.1-10.6l.1 2l0-9.1l.1 12.3l.1-4.7l.1-3l.1-.8l0 .8l.1 5.5l.1 5.6l.1-8.8l0 1.3l.1-6.2l.1 9.8l.1-11.2l0-1.2l.1 6.9l.1 1.9l.1-1.2l0 7.2l.1-9.4l.1 15.4l.1-11.2l0-.9l.1 3.3l.1 4.5l.1-5.8l.1 2.6l0-1.7l.1-5.1l.1 5.9l.1-4.5l0 5.8l.1-8.4l.1-5.6l.1 3.2l0-3.6l.1 9.6l.1 4.1l.1-8l0 11l.1-7.6l.1-2.1l.1 6.6l0-6.3l.1-2.7l.1 9.5l.1-9.4l.1 4l0-4.1l.1-2.3l.1 4.7l.1 3.2l0 5l.1 1.1l.1-5.1l.1-2.8l0-2.2l.1 1.7l.1-.7l.1 3.1l0-6.7l.1-.9l.1 6.5l.1 5.2l.1-10.2l0 7.9l.1-5.8l.1 6.1l.1-8.9l0 1l.1-.3l.1 2.9l.1-2.3l0 2.9l.1-3.3l.1 3.2l.1 5.7l0-3.8l.1 5.2l.1-6.6l.1-9.4l0 14.7l.1-6.6l.1-3.2l.1 5l.1-1.1l0-3.2l.1 5.3l.1 5l.1 1.4l0-2.2l.1-1.7l.1-6.9l.1 1.6l0-1.7l.1 .8l.1 5.1l.1-3.5l0-5.8l.1-3.6l.1 1.8l.1 6.7l0-1.9l.1 3.8l.1 3.8l.1-1.8l.1-6.4l0 4.7l.1-2.6l.1 .1l.1-2.8l0 1.2l.1 6.4l.1 1.5l.1-4.8l0 2.3l.1-6.4l.1 4.2l.1 10.1l0-6.5l.1-4.5l.1-.7l.1 .4l.1 2.2l0-5.9l.1 2.2l.1 1.8l.1-1.1l0 1.6l.1-.3l.1 5.3l.1-17.4l0 15.3l.1-.5l.1-3.6l.1 7.3l0-4.4l.1 2.9l.1 2.9l.1-7.4l0-4.7l.1 3.8l.1 5l.1 3l.1-4.9l0 3.2l.1-5.4l.1-7.5l.1 3.9l0 .9l.1 3.6l.1-4.1l.1 10.9l0-5.7l.1 4.3l.1-2.3l.1-1.7l0-8.9l.1 10.4l.1-3.2l.1-2.7l.1-1l0-3.5l.1 9.1l.1-3.5l.1-2.2l0-6.4l.1 6.9l.1 9.3l.1-6.9l0-8.1l.1 3.9l.1 1l.1 4.4l0 7.8l.1-10.6l.1-3.4l.1 2.1l0 4.9l.1-3.7l.1-3l.1 2.1l.1 7.2l0-3.9l.1-3.5l.1-7.9l.1 5.3l0 2.3l.1-1.4l.1 7.6l.1-2.2l0 3.5l.1-6.2l.1-1.6l.1-2.4l0 7.8l.1-2.4l.1-3.2l.1-1.8l0 6.7l.1-3.9l.1 2.2l.1 0l.1-1.6l0 2l.1-.7l.1-1.4l.1 3.6l0 4.5l.1-3.6l.1-2.3l.1 1l0-.9l.1-1.5l.1-1.1l.1-.6l0 2.3l.1-5.1l.1 6.5l.1 1.5l.1-1.5l0 13.1l.1-7.8l.1-1.3l.1-4.7l0 .9l.1-2.2l.1 3.8l.1 2.3l0-2l.1-6.7l.1 3.4l.1 7.5l0-7.1l.1 1l.1 6.8l.1-6.3l0 1l.1 5.2l.1-11.4l.1-2.1l.1 11.1l0-8.8l.1 7.9l.1-6.3l.1-3.5l0 5.7l.1-7.8l.1 1.9l.1-3.3l0 3l.1 2.3l.1 1.5l.1 .1l0 .6l.1-4.3l.1 .3l.1 12.6l0-7l.1 4.5l.1-7.6l.1 2.3l.1-12.4l0 15.4l.1-87l.1 1.7l.1 11.3l0-10.7l.1-7.1l.1-2.6l.1 2.9l0-1.3l.1-1l.1 13.3l.1 21.7l0-26.9l.1 9.8l.1-1.3l.1-.6l.1-8.4l0 .2l.1-3.4l.1-5.6l.1 9.4l0-8.5l.1 10.1l.1-6.5l.1 4.9l0 1.6l.1-1.5l.1-9.2l.1 10l0-8.6l.1 14.1l.1 6.2l.1-8.6l0 4l.1-9.8l.1 13.4l.1-6.7l.1-8.8l0 10.2l.1 5.4l.1-13.4l.1 18.6l0-19.3l.1-4.9l.1 6.2l.1 5.9l0-2.4l.1-3.6l.1 8l.1-4.1l0-.1l.1-4.7l.1 10.4l.1 2l.1-6.4l0 10.7l.1-10.3l.1-2l.1-7l0 15.9l.1-7.7l.1-3.8l.1 1l0 11.8l.1-4.2l.1 5.1l.1-8.5l0-6l.1 11.9l.1-.3l.1-7.5l0-5.1l.1 4.9l.1 3.2l.1-3.7l.1-3.8l0-2.2l.1 17l.1-4.1l.1-2.1l0-2.5l.1 2.5l.1 4.4l.1-10.5l0-1.9l.1 .7l.1 4.9l.1 .4l0-7.6l.1-.5l.1 14.3l.1-5.2l0 2.3l.1 .8l.1-12.1l.1 9.5l.1-.6l0-4.3l.1 5.1l.1-6.4l.1-5.6l0 7.5l.1 7.7l.1-9.5l.1-2.1l0-1.4l.1 4l.1 7.1l.1 2.4l0-3.3l.1-.3l.1 5.4l.1-12.1l.1 .7l0 12.9l.1-.1l.1-3.5l.1-1.3l0-5.7l.1 15.1l.1-30.4l.1 6.1l0-3.5l.1 19.8l.1 3.2l.1-8.5l0 .3l.1 3.4l.1-4l.1-1.9l0 1.6l.1 6.2l.1-10.9l.1-2.2l.1 7.7l0-3.5l.1 10l.1-8.9l.1 9.6l0-4.9l.1-2.9l.1 10.4l.1-21.2l0 10.9l.1 .4l.1 9.7l.1-6l0 5.9l.1-14.4l.1 17.4l.1-9.7l.1-4.3l0-4.4l.1 2.9l.1 1.6l.1-4.5l0 19.7l.1-5.5l.1 .1l.1-12.2l0 17.9l.1-15.3l.1-1.3l.1 9.7l0-4.3l.1-.9l.1 8.4l.1-2.6l0-9.9l.1 7.5l.1-5.1l.1 3.6l.1-2.9l0-5.6l.1 10.5l.1-1.9l.1-10.8l0 11.8l.1-1.1l.1 1.5l.1-.1l0 2.7l.1-9.5l.1-8.2l.1 21.2l0-13.6l.1 16.5l.1-9.4l.1 2.1l0-4.2l.1-11.9l.1 7.6l.1 5l.1 1.6l0 1.6l.1 2.9l.1-8.1l.1-2.4l0-1.2l.1 73.4l.1 4.5l.1-7.1l0-.1l.1 3.7l.1 3l.1-.9l0-2l.1 10.7l.1-7.3l.1 1.6l.1 .1l0 2.5l.1 3.4l.1-6.6l.1 6.5l0-2.1l.1 2.3l.1-2.4l.1-5.3l0-.2l.1-5l.1-3.9l.1 11.2l0 4.7l.1-12.4l.1-3.1l.1 13.6l0-10.2l.1 8.9l.1 4.3l.1 1l.1-2.5l0-3l.1-4.8l.1-.8l.1 .7l0-4.2l.1 4.8l.1 2.9l.1 3.2l0-9.5l.1 2l.1 4.7l.1-5.3l0-1.9l.1 3.8l.1 7.9l.1-7.5l0 6l.1-4.1l.1 2.5l.1-5.2l.1 .5l0 3.4l.1-7.5l.1-.1l.1 12.1l0-5.7l.1-3.4l.1 4.8l.1-1.4l0-6.8l.1 3.8l.1 3.2l.1-2.8l0 0l.1-4l.1 2.3l.1-.5l.1 8.4l0-5.7l.1-.6l.1 5.6l.1-5.4l0 2.9l.1 1.9l.1-19.6l.1 21.1l0-1.6l.1-11.8l.1 5.5l.1 .1l0-91.8l.1 9.5l.1 6.2l.1-12.8l0 20.1l.1-5.2l.1-6l.1-5.3l.1 10.4l0-3.4l.1 10.5l.1-16.2l.1 1.6l0 7l.1 2.2l.1 2.1l.1-8.4l0 8.2l.1-11.1l.1 7.6l.1-3.5l0 13.1l.1-22.7l.1 9.9l.1-2.7l.1 29l0-17.9l.1-3l.1 .7l.1 3.1l0-23.5l.1 18.7l.1-.6l.1-4.8l0 9.6l.1-11.9l.1-5.4l.1 16.4l0-5.4l.1-5.3l.1-6.6l.1 1.4l0 9.8l.1 9l.1-19l.1 7l.1-1.3l0 9.5l.1-8.9l.1-6.1l.1 13.3l0-4.8l.1-2.2l.1 8l.1-19.4l0 17.5l.1-2.2l.1-3.3l.1-6.4l0-1.3l.1 13.8l.1 2.5l.1-15.7l0 10.4l.1 3.1l.1-7.2l.1-2.3l.1 3.4l0-1.9l.1-11.4l.1 14.7l.1-12l0-1.3l.1 9.2l.1-4.6l.1-5.4l0-4.1l.1 11.9l.1 8.8l.1-3.9l0-5.8l.1-2.1l.1-6l.1 16.2l.1 78.7l0-2.2l.1-4.9l.1 8l.1 .4l0-6.9l.1 3.6l.1-.4l.1-2l0-1l.1 5.4l.1 4.7l.1-10.6l0 8.5l.1-3.8l.1-4.2l.1 3l0 2.4l.1-5l.1 1.2l.1 11l.1-10.8l0-2.4l.1 8.9l.1-17.1l.1 17.5l0-5.8l.1-2.6l.1 1.4l.1 1.2l0 6.2l.1-2.6l.1-6.3l.1 1.1l0-13.8l.1 8.6l.1 1.2l.1-1.7l.1 4.3l0-8l.1 7.8l.1 1.3l.1 5l0 7.9l.1-7.7l.1-2.3l.1 0l0-2.2l.1 .7l.1-7.8l.1 5.7l0 3.1l.1-5.3l.1 1.7l.1-4.9l0 8.1l.1-1.2l.1-2.3l.1 6.7l.1-4.2l0 1.7l.1-1l.1-2.9l.1 8.7l0 2l.1-12.2l.1 3.3l.1 5.5l0 .1l.1-3.9l.1 4.1l.1-1.1l0-5.3l.1 6.1l.1 4.7l.1-9.1l0-10.5l.1 15.3l.1-5.2l.1-1.7l.1 3.1l0 .8l.1-1.9l.1-3.7l.1-1.1l0 5.7l.1-3.1l.1-1l.1 4.6l0-3.2l.1 4.1l.1 6.2l.1-3.8l0-.3l.1-2.7l.1 2.4l.1-7.3l.1 7.6l0-1l.1-1.6l.1 6.3l.1-8.5l0 4.6l.1 4.1l.1-2.1l.1 5l0-9.6l.1 2.2l.1-6l.1 3.2l0 3.7l.1 4.2l.1-8l.1 .3l0 3.7l.1-4l.1 .4l.1 4.9l.1-1.4l0 0l.1-6.7l.1 8.1l.1-4.9l0 1.8l.1-3.1l.1 2.5l.1 5.9l0-8.8l.1 .1l.1 4.7l.1-3.5l0-1.9l.1 5.9l.1-3.1l.1 6.8l0-2.9l.1 1.6l.1 .1l.1 0l.1-1.7l0-18.1l.1 16.4l.1-.8l.1 6.2l0-8.1l.1 4.8l.1 1.9l.1-13l0 10.3l.1 7l.1-14.7l.1 2l0-1.3l.1 3.9l.1-.6l.1 2.5l.1 4.2l0-6.9l.1-1.7l.1-7.3l.1 12.2l0-.5l.1 3l.1-1.2l.1-8.5l0-69.7l.1-14.2l.1 13.3l.1-16.5l0 5l.1 8.1l.1-16.5l.1 11.7l0 3.2l.1 .6l.1 1.5l.1-20.4l.1 4l0 12l.1-15.8l.1 6.2l.1 10.6l0-4.2l.1-1.3l.1 11.4l.1-3.6l0 1.5l.1 2l.1 7.2l.1-30.5l0-.3l.1 16.4l.1-10.5l.1-.5l.1 19.9l0-6.8l.1 2.9l.1-1.7l.1-16.7l0 6.9l.1-5.6l.1 2.7l.1 7.1l0-3.5l.1 2.8l.1 .8l.1-15.3l0 1.6l.1 13.8l.1-5.9l.1 2.9l0-10.9l.1 12.4l.1 5.7l.1-9.6l.1-4.6l0 12.1l.1-2.7l.1-5.6l.1-6.3l0 3.5l.1 6.8l.1 5.8l.1-4.7l0-3.7l.1-13.9l.1 19l.1-6.5l0-2.6l.1 11.5l.1-1.5l.1 7.4l0-7.7l.1-7l.1-6.7l.1 11.3l.1-2.8l0-18.8l.1 10.3l.1 17.2l.1-7.9l0-1.1l.1-2.7l.1 1.6l.1-6.1l0 13.7l.1-7.4l.1-13.6l.1 2.5l0-.8l.1 10.8l.1-.8l.1 7.3l.1-21.7l0 17.9l.1-6.4l.1 7.6l.1-.2l0-9.8l.1 13.9l.1-7.4l.1-7.2l0 9.4l.1 .1l.1 2.1l.1-4.1l0-14.2l.1 8.6l.1 5.6l.1-10.3l0 9.9l.1-2.6l.1 5.4l.1 4.6l.1-16.7l0 3.4l.1 10.7l.1-12l.1 5.5l0 7.6l.1-1.4l.1-3.3l.1 7.2l0-14.3l.1 15.6l.1-14.9l.1-1.1l0 11.9l.1-16.6l.1 13.3l.1-2.4l0 1.1l.1-5.8l.1 6.8l.1-1.6l.1-1.8l0-12.4l.1 15.8l.1 4.8l.1-12.1l0 2.8l.1-3.9l.1 4.9l.1-9.5l0 4.7l.1 1.6l.1 5.8l.1 4.9l0 2.2l.1-1.9l.1-6.9l.1 1.9l.1-14.3l0 9.1l.1 4.3l.1-10.7l.1 3.3l0-2.2l.1-1.9l.1 13.8l.1 .6l0-6.6l.1-5.8l.1-12l.1 14.9l0-2.3l.1 9.8l.1-.3l.1-11l0 7.9l.1 4.3l.1-5.2l.1 6.4l.1-2.9l0-1.3l.1-19.7l.1 12.3l.1 2l0 .7l.1 9.7l.1-3.7l.1 5.8l0-11.7l.1-6l.1 14.7l.1-2.1l0 2.5l.1-14.8l.1-2.3l.1 8.1l.1 2.9l0-.3l.1 1.3l.1-.7l.1-4l0-4.3l.1 4l.1-4.2l.1 6.9l0-3.7l.1 5.9l.1-12.4l.1 14.7l0 .5l.1-7.3l.1-1l.1-15.1l0 8.7l.1 5.9l.1 2.9l.1-6.3l.1-2.1l0 .3l.1 5.1l.1 11.5l.1-4.2l0-6l.1 3.3l.1-8.9l.1 .6l0 2.4l.1 1.6l.1 3.4l.1-18.4l0 6.5l.1 3.1l.1 6.3l.1-2.3l0 9.3l.1-9.2l.1 1.2l.1 5.8l.1-5.2l0-4.5l.1 .3l.1 .2l.1-3.1l0-4.7l.1 12.6l.1-2.2l.1-2.5l0 1l.1 2.1l.1 4.3l.1-10.6l0 1l.1 12l.1-4.3l.1-.7l.1-6.4l0 4.2l.1-4.9l.1 4.2l.1 11.8l0-8.5l.1-10.4l.1-.6l.1 .6l0 3.5l.1 16.8l.1-11.9l.1 .4l0-5.5l.1 6.6l.1-2l.1 1.4l0 4.9l.1-6l.1 16.4l.1-4.6l.1-20l0 17.6l.1-15l.1 5.3l.1 7.2l0-14.4l.1 9.3l.1-.8l.1-7.4l0 3.8l.1 6.9l.1-19.1l.1 20l0-14.7l.1 12.2l.1-3l.1-10.3l.1 9.3l0-11.8l.1 17.2l.1-8l.1 16.8l0-9.1l.1 4.8l.1-8.7l.1 2.1l0-5l.1 3.4l.1-7.8l.1-10.3l0 22.9l.1-15.9l.1-5.9l.1 16.9l0-.4l.1 5.8l.1-7.9l.1-5.9l.1 8.2l0 .5l.1-7.6l.1 1.4l.1-4.1l0 14.8l.1-9.5l.1-2.9l.1 9.3l0 2.8l.1-3.4l.1-6.7l.1 14.6l0-23.8l.1 22.1l.1-18.7l.1 3l0 6.6l.1-4.1l.1 2l.1-1.5l.1 .3l0 8.5l.1-5.7l.1 4.7l.1-12.2l0-8l.1 5.1l.1 13.7l.1-.8l0 3.9l.1-1.7l.1-6.9l.1 2.8l0-5.5l.1 .2l.1 8.8l.1-11.4l.1 12.4l0 1.6l.1-7.2l.1 1.8l.1 7l0-4.2l.1-2l.1 6.3l.1-2.2l0 6.1l.1-2.6l.1-11l.1 10.8l0-2l.1-19.8l.1 5.2l.1 10.2l0-7.4l.1 13l.1-9.5l.1 1.9l.1 4.6l0-15.4l.1 13.7l.1-10.8l.1 29.5l0-13.3l.1-9.2l.1 .6l.1-7.2l0 12.1l.1-13.2l.1 9.1l.1 6.8l0-3.7l.1-10.7l.1 9.6l.1 1l0-6l.1 5.3l.1 0l.1-3.3l.1-10.3l0 24.5l.1-23l.1 11.1l.1 3l0-12.5l.1 12.7l.1-7.7l.1 14.9l0-14.3l.1-1.2l.1 3.4l.1 2.9l0 .1l.1-10.7l.1 10.3l.1 2.7l.1 1.7l0-12.4l.1 13.6l.1-8.7l.1 14l0-13.4l.1 11.9l.1-12l.1-5.2l0 10.6l.1-12.5l.1 2.2l.1 10.7l0 2.6l.1-10.9l.1-1.2l.1-11.9l0 8.9l.1-.9l.1 8.8l.1-1.7l.1 8.5l0-15.6l.1 6.4l.1-6.8l.1 6.7l0 3.9l.1-3.1l.1-1.3l.1 1l0 0l.1 8.3l.1-8.5l.1-8.3l0 4.9l.1 6.8l.1-3.6l.1-.5l.1-13.5l0 10.9l.1 2.1l.1 2.6l.1-13l0 13l.1-12.6l.1 16.5l.1 1.4l0-6.8l.1 3.4l.1 2.4l.1-20.8l0 22l.1-13.4l.1-1.2l.1 2.3l0 2.3l.1-2.5l.1 16.9l.1-17.8l.1 .5l0 2.6l.1 10.4l.1-13.8l.1 8.4l0-7l.1-.9l.1 14.7l.1-9.3l0-1l.1 12.4l.1-1.9l.1-16.4l0 .5l.1 22.2l.1-24.9l.1 5.6l0 17.8l.1-8.7l.1-1.2l.1-9.8l.1 12.9l0 2.7l.1-7l.1 8l.1-6.3l0 6.5l.1 2.1l.1-11l.1-11.2l0 6.7l.1 .6l.1 .9l.1-8.8l0 1.4l.1 5.4l.1-10.4l.1 8.5l.1 1.7l0-5.7l.1 7.3l.1 13.6l.1-7.3l0-12.4l.1 5.5l.1 2.6l.1 27.8l0-31.9l.1 2.2l.1-5.7l.1 15.4l0-3.8l.1-4.4l.1-1.3l.1 0l0 6.7l.1-3.3l.1-4.4l.1-1.8l.1 10.7l0-10.2l.1 4.6l.1 2.1l.1-6.5l0 6.1l.1-7.6l.1 7.9l.1 7.8l0-5.7l.1-8.5l.1 9l.1-4l0-2.5l.1 3l.1 2.1l.1-10.2l0 6.8l.1 1l.1 6.2l.1-11.5l.1-4.1l0 17.8l.1-13.7l.1 4.6l.1-6.7l0 1.9l.1-.9l.1 10.5l.1-.6l0-12.3l.1 .2l.1 18.5l.1-6.8l0-6.5l.1-.5l.1 8.8l.1 37.5l.1-45.5l0 1.4l.1-8.6l.1 17.7l.1-14.4l0 9.6l.1-16.2l.1 18.8l.1-11l0 8l.1-4.4l.1-11l.1 3.8l0 10.8l.1-.4l.1-1.7l.1 2l0-2.2l.1 1.7l.1 7.7l.1-19.4l.1 4.8l0-13.9l.1 13.7l.1-3.1l.1-2.4l0 3.7l.1 3.8l.1 .5l.1-5.4l0-3.3l.1 7.7l.1 13.4l.1 2l0-7.3l.1-.4l.1-12.7l.1-1.2l.1 1.6l0 10.3l.1-12.4l.1 1.8l.1-.3l0 8l.1 1.2l.1-9.2l.1 3.8l0 6l.1-8.4l.1 10.8l.1-13.6l0 11.9l.1 8.7l.1-15.6l.1 12.9l0-19.2l.1 13.2l.1-1.8l.1 4l.1 10.7l0-17.8l.1 4.8l.1-8l.1 2.9l0 8.3l.1 .9l.1-.9l.1-12.5l0 1.1l.1 8.2l.1 1.9l.1-1.8l0 12.4l.1-16.4l.1 2.6l.1 10.5l0-11.7l.1 5.9l.1-5.8l.1 6l.1-7.8l0 8.2l.1 9l.1-15.4l.1 2.6l0-8.4l.1 5.5l.1-6.5l.1 6.9l0 4l.1-10l.1 21.3l.1-.2l0-7.2l.1-16l.1 1.7l.1 15.9l.1-7.8l0-28.4l.1 31.3l.1-4.9l.1-10.4l0 4.1l.1 3.4l.1 16.2l.1-22.4l0 3.4l.1 7l.1-9.2l.1 14l0-3.1l.1-5.3l.1-12.4l.1 10.3l0 7.1l.1 4.7l.1-6.1l.1-.2l.1 4.1l0-10.6l.1 9.4l.1 1l.1 3.5l0 2.8l.1-1.9l.1-3.7l.1-9.6l0 4.9l.1 3.4l.1-9l.1 6.1l0 2l.1 10.8l.1-15.9l.1 15.5l.1-11.6l0-2.8l.1-1.4l.1 12.4l.1-12.4l0 1.4l.1 1.4l.1-.5l.1-2.8l0 3.1l.1-.1l.1 6l.1 2.2l0 5.9l.1-2.2l.1-7l.1-1.9l0 6.2l.1-2.5l.1-7.6l.1 10.5l.1 4.3l0-.7l.1-10.4l.1-1.8l.1 3.2l0 1.9l.1 10.5l.1-3.8l.1-14.8l0 12.4l.1-14.7l.1 9.1l.1 9.8l0-14.9l.1 4.7l.1 4.8l.1 4.4l0-6.5l.1 11.5l.1-9.5l.1 17.2l.1-11.6l0-10.8l.1 19.4l.1-7l.1-1.6l0-14.2l.1 53.5l.1-58.5l.1 8.2l0 6.8l.1-11.1l.1 2.1l.1 3l0 7l.1-11.7l.1 11.3l.1-7.3l.1-2.6l0 11.5l.1-3l.1 9.6l.1-9.8l0 1.3l.1 10.7l.1-20l.1 1.7l0-2.2l.1 9.7l.1-10l.1 16.9l0-5.2l.1 2.6l.1-7.4l.1 10.2l0 4.4l.1 3.2l.1-16.1l.1 3l.1-6.8l0 11.2l.1 2.7l.1-1.2l.1-18.1l0 14.6l.1-2.5l.1 5.7l.1-4.2l0-8.8l.1-6.6l.1 6.5l.1-5.1l0 12l.1-7.5l.1 9.5l.1 4.3l0-14.1l.1 10.1l.1-5.2l.1-6.3l.1 1.7l0 15.5l.1-13.2l.1-4.3l.1 4.9l0 6.9l.1 1.7l.1 1.5l.1-7.7l0 8.6l.1-8.7l.1-2.7l.1 5l0 9.1l.1-7l.1-9.4l.1 8.7l.1 3.3l0 4.8l.1-4.3l.1-23l.1 6.6l0 .7l.1 19.9l.1-.3l.1-3.8l0-4.9l.1 2.9l.1-9.7l.1 7l0 1.2l.1 2.6l.1 5.7l.1-24.1l0 24l.1-8.4l.1-2.8l.1-6.1l.1 17.7l0-17.7l.1 16.3l.1-3.9l.1-4.8l0 5.4l.1-.3l.1-15.3l.1 12.7l0-4.6l.1-4.9l.1 4.1l.1-7.2l0 15.7l.1-5l.1-11.4l.1 1.3l.1 4.1l0 5.2l.1 15.4l.1-14.9l.1 5.7l0 7.7l.1-15.1l.1-10l.1 20l0-5.4l.1 .4l.1-3l.1 5.1l0-9.1l.1 1l.1-4.9l.1 25.5l0-28.3l.1 3l.1 .9l.1 8.9l.1 2.5l0-4.2l.1 12l.1-22.3l.1-1.8l0 11.2l.1 .9l.1-9.8l.1-.3l0 8.1l.1-11.4l.1 .5l.1 8.8l0-11.3l.1 3.3l.1 4.7l.1 4.1l0 6.6l.1-11.4l.1 9l.1-5.7l.1 .8l0-9.1l.1 25.3l.1-17.3l.1 3.9l0 2.8l.1-6.2l.1-12.2l.1 5.1l0 14.9l.1-13l.1 2.1l.1 4.4l0 3.3l.1-13.2l.1 4.5l.1 2.6l.1-8.9l0 5.4l.1 6.5l.1 2.2l.1-1.7l0 .8l.1-3.9l.1 9.4l.1-15.4l0 6.1l.1 5.1l.1-12.3l.1 .6l0-13.1l.1 13.1l.1-.3l.1 16.5l0-8.8l.1 3.9l.1-15l.1 11.9l.1-10.8l0 .4l.1 8.9l.1-6.2l.1-4.2l0 1.9l.1 .1l.1-1l.1 8.7l0-10.2l.1 7.9l.1 1.3l.1-11.4l0 2.2l.1 .7l.1-2.3l.1 9.5l.1-4.6l0 16.9l.1-7.5l.1-5.8l.1 4.2l0-14.7l.1 6.7l.1-5.2l.1-.7l0 7.6l.1-1.3l.1 6.3l.1-6.1l0-2.1l.1 6.2l.1-8.6l.1 1.4l0-.9l.1 1.9l.1 6.4l.1 3l.1 1.1l0-17.5l.1-7.7l.1 16.7l.1-14.5l0 7.8l.1-6l.1-6.9l.1 7l0 12.3l.1 4.4l.1-6.5l.1-6.2l0 5.1l.1 8l.1-9.5l.1-3.5l0-6l.1 13.9l.1-1.2l.1 6.2l.1-14.1l0 20.3l.1 2.1l.1-9.3l.1-4.4l0-4.6l.1-9.9l.1-5.7l.1 17.5l0 8.3l.1-17l.1 11.9l.1-5.8l0 21.5l.1-20.3l.1 6.3l.1 5.1l.1-13.1l0 14.2l.1-10.4l.1 4.7l.1-2.5l0-9.5l.1 11.5l.1 2.7l.1-9.3l0-2.6l.1 15.2l.1-5.7l.1-12.4l0 9.8l.1 4.9l.1-11.3l.1 2.3l0-2.9l.1-4l.1 9.8l.1 3.9l.1-8.9l0 14.7l.1-13.3l.1-3.5l.1 1.6l0-.9l.1 7.5l.1-1.7l.1 3.7l0-.7l.1-11.1l.1 7l.1-3.5l0 .4l.1-.4l.1 20.3l.1-9.1l0-10.5l.1-4.6l.1 .6l.1-2.4l.1 11.1l0 22.7l.1-28.6l.1 8.1l.1 14.8l0-20.7l.1 5.1l.1-7.7l.1 2.8l0 3.7l.1-3.3l.1 1.5l.1 1.2l0-7.6l.1-5.7l.1 3.7l.1 4l.1-5.5l0 17l.1-6l.1-7.5l.1 3.4l0-4.6l.1 2.2l.1 10l.1-4.3l0 .2l.1-5.9l.1 17.5l.1-15.3l0 6l.1-19.2l.1 14.9l.1 1.1l0 4.1l.1-7l.1 9.2l.1-3.3l.1-8.2l0 13.4l.1-13l.1-3.8l.1 20.8l0-8.8l.1 1l.1-11.2l.1 2.8l0-9.2l.1 3.1l.1-7.2l.1 22.2l0-11.9l.1 3.5l.1-7.7l.1 9.9l.1-1l0 3.1l.1-8.1l.1 9.3l.1-.8l0-2.6l.1-4.4l.1 4.5l.1 11.1l0-13l.1 1.4l.1 2.5l.1 4.5l0-22.8l.1 21.5l.1-7.4l.1 7.3l0-5.5l.1-7.9l.1 11.5l.1-5l.1 14l0-10.8l.1-8.6l.1 10.3l.1-6.6l0 5.7l.1-12.6l.1 10.2l.1-2l0-.6l.1 5.3l.1 2.8l.1 1.3l0-9.9l.1 2.7l.1-3.4l.1 4.4l0-9.6l.1 4.9l.1-3.9l.1 12.7l.1-12.7l0 19.4l.1-19.4l.1-8.3l.1 8.4l0 2.5l.1 2.8l.1-4.5l.1-17.4l0 26l.1-1.5l.1-.3l.1-8.5l0 7.1l.1-4.2l.1 6.7l.1-9.3l.1 5.5l0 7.1l.1-8.7l.1 7.3l.1-.5l0-12.3l.1 21l.1-20.6l.1-4.2l0 5.6l.1 4.8l.1 7.5l.1-3.6l0-2.6l.1 11.4l.1-8.3l.1-3.5l0 10.3l.1-6.1l.1 1.6l.1-13.7l.1 .1l0 14.7l.1-3.7l.1-.4l.1 4.5l0-1.9l.1-4.4l.1 3.2l.1 10.4l0-8.6l.1-3.9l.1 9.7l.1 .3l0-13.1l.1 13.9l.1-20.5l.1-5.4l0 .5l.1 25.5l.1-17l.1-6.5l.1 17.8l0-18.6l.1 9.7l.1 5.4l.1-.8l0 4.2l.1 3.6l.1-12.7l.1 .3l0 4l.1 1.8l.1-6l.1 9.4l0-14.6l.1-7.8l.1 18.4l.1-3.5l.1 5.3l0-15.9l.1 19.8l.1-10.7l.1 9l0-19.4l.1 10.5l.1 .4l.1-13.5l0 14.5l.1 7.1l.1-8.9l.1-4l0 1.2l.1-6l.1 15.8l.1-7.2l0 3l.1 6.2l.1-12.3l.1 10.1l.1-18.2l0 7.2l.1-2.6l.1 10.8l.1-10.1l0 1.6l.1 8.5l.1 11.7l.1-12.8l0-4.7l.1-5.4l.1 5l.1 2.8l0 1.4l.1-4.4l.1 2.4l.1 5.3l.1-14.7l0 7l.1 2.2l.1 16l.1-11.6l0 6.9l.1 0l.1-3.2l.1-7l0-3.9l.1 3.9l.1 24.9l.1-24.3l0 2l.1 5.7l.1-9.8l.1 6.8l0-3.8l.1 2.2l.1-1.1l.1-13.1l.1 6.7l0 15.9l.1-8l.1 .4l.1 .1l0-11.3l.1 11.3l.1 8.2l.1-15.3l0 6.9l.1-1.6l.1 13.5l.1-18.1l0 4.2l.1-5.4l.1 15.8l.1-2.7l0-.2l.1-13.8l.1 1.6l.1 4.3l.1-12.3l0 9.6l.1 8.9l.1-3l.1-5.6l0-1.2l.1 7.1l.1-5.5l.1 8.7l0-2.5l.1-2.4l.1-6.5l.1 13l0-13.9l.1 6.4l.1-3.4l.1 3.2l.1 2.5l0-5.3l.1 4.8l.1-.5l.1-10.1l0-5.8l.1 8l.1 9.4l.1-9.7l0 5.5l.1 .9l.1-.1l.1-6.4l0 3.6l.1 9.3l.1-6.2l.1-.4l0 1.4l.1-5.1l.1 4.5l.1 .7l.1 2.2l0-1l.1 1.7l.1-4.3l.1 2.1l0-2.6l.1-.1l.1 4.2l.1 2.9l0 14.8l.1-13.1l.1-7.8l.1 6.9l0-8.6l.1-4.5l.1 10.2l.1-.1l.1-5.3l0-1.5l.1 1.5l.1 10.2l.1-5.3l0-3.8l.1-1.8l.1 6.5l.1-3.2l0 13.7l.1-10.8l.1-4.4l.1 9l0-.5l.1-6.1l.1-12.7l.1 17.1l0-7.7l.1 5.7l.1-.7l.1 7.1l.1-7.3l0 11.3l.1 .3l.1-6.3l.1-4.1l0-1l.1-2.4l.1-7.4l.1-8l0 26.2l.1-11.6l.1 1.1l.1 9.5l0-18.3l.1 15.3l.1-13.6l.1 5.7l0 .3l.1 .7l.1 12.7l.1-12.1l.1 0l0 1.7l.1-2.1l.1 1.3l.1-2.6l0-7.2l.1 5.8l.1-4.2l.1 5l0-4.2l.1-1.6l.1 14l.1-1.3l0 1l.1-11l.1 11.6l.1 3.9l.1 3.6l0-10.7l.1 .1l.1-5.8l.1 5.7l0 10.9l.1-8.8l.1-11.9l.1 7.1l0 1.6l.1 5.1l.1-1.7l.1-3.9l0-5l.1 3.7l.1-3.2l.1-1.1l0 3.5l.1 1.9l.1-6.4l.1 12.1l.1-3.8l0 3.6l.1-4l.1 .2l.1-8.1l0 7l.1 3.9l.1-.8l.1 5.8l0-10.7l.1 9.4l.1-8.6l.1 4.9l0-3.8l.1-.2l.1-2.2l.1 9.2l0-13.5l.1 6.2l.1 8.6l.1 7.7l.1-14.5l0 4.3l.1-8.3l.1 12.8l.1-5.2l0 5.2l.1 7.4l.1-22.6l.1 5.3l0 12.1l.1-7.1l.1-3.9l.1 12.5l0-3.4l.1-.1l.1-5.5l.1-3.6l.1 12l0-10.6l.1 7.5l.1-17.8l.1 8.5l0 13.1l.1-6.2l.1 1.5l.1 2.6l0-12.5l.1 11.2l.1-10.4l.1 10.4l0 9l.1-18.2l.1-4.5l.1 3.5l0-4.6l.1 11.4l.1-10.1l.1 12.2l.1 7.7l0-.7l.1-24.3l.1 17.7l.1-2.7l0-1.9l.1-5.4l.1 17.6l.1-1.3l0-15.4l.1 3.2l.1 13.3l.1-13.3l0 19.1l.1-16.7l.1 7.7l.1-15.2l.1 10.7l0 16.7l.1-16.6l.1-.8l.1 .6l0-2.9l.1 1.5l.1-5.1l.1 6.2l0-1.9l.1-14.3l.1 7.5l.1 6l0-5.5l.1 0l.1-7.5l.1 5.9l0 7.8l.1-5.1l.1 12.7l.1-15.6l.1-4.4l0 14.8l.1-8.1l.1 12.4l.1-12l0-3.8l.1 1.7l.1-5.5l.1 5.4l0 12.6l.1-10l.1 3.2l.1 5.9l0-11.4l.1 11.2l.1-14.8l.1 12.3l0-7.1l.1-1.4l.1 .7l.1 14l.1-15.9l0-1.3l.1 6.7l.1 .9l.1 2.9l0-.4l.1-7.1l.1 2l.1 1.9l0 3.1l.1-5.6l.1 3.3l.1 7.1l0-12.6l.1 7.8l.1 2.9l.1-18.8l.1 13.6l0 10l.1 4.6l.1-13l.1-.7l0-7.1l.1 12.3l.1 10.4l.1-17.5l0 5.1l.1-3.9l.1 8.7l.1-1.4l0 1.2l.1-21.9l.1 13.4l.1 7.3l0-1.8l.1-1.7l.1 7.6l.1-8.1l.1-2.2l0-9.8l.1 10.4l.1 9.2l.1-3.6l0-9.6l.1 2.9l.1 0l.1 10.8l0-15.8l.1 5.9l.1-.8l.1-6l0 10.6l.1-2.8l.1 7.9l.1-8.9l.1 8.8l0-7.7l.1-7.5l.1 12.2l.1-8.2l0 11.7l.1-5.6l.1-17.9l.1 5.3l0 0l.1 30.6l.1-27.1l.1 5.5l0 1.7l.1 2.6l.1-10.1l.1 1l0 8.5l.1-5.4l.1-.5l.1 5.5l.1-2.1l0 3.5l.1-2.8l.1 9.9l.1-7.5l0 1.5l.1 .4l.1-15.3l.1 3.7l0 17.9l.1-18.7l.1 18.8l.1-11.6l0 13.9l.1-25.5l.1 9.2l.1 8.1l0-.2l.1-8.4l.1 7.5l.1 1.5l.1-2.8l0 16.7l.1-18.8l.1-8.4l.1-1.1l0 9.4l.1 .8l.1-.8l.1-2.4l0 5.6l.1 3.3l.1-3.1l.1-11.9l0 5.5l.1 2l.1 1.3l.1-2.5l.1-9.5l0 .7l.1 20.3l.1-.2l.1-6.3l0-10.3l.1 8.8l.1-14.6l.1 5.3l0 16.2l.1-2l.1-4.3l.1-5.2l0 4.6l.1-.3l.1-9.2l.1-.9l0 4l.1-3.3l.1 7.2l.1-.2l.1 .1l0 8.3l.1-10.5l.1 7.6l.1-1l0-2.8l.1-3.4l.1 3.3l.1 5.7l0-13.2l.1 15.7l.1-5.6l.1 2.1l0 7.8l.1-3l.1-16.3l.1-3.5l0 5.6l.1 13.9l.1 6.7l.1-2.6l.1-9.4l0 0l.1-4.7l.1-8.1l.1 10.2l0-1.8l.1-4.1l.1-7.3l.1 17.5l0-16.5l.1 13.6l.1 3.2l.1-11l0 7.8l.1-.2l.1-3.9l.1 4.4l.1-6.7l0 5.1l.1-3.2l.1 7.7l.1 2.6l0-2.5l.1-1.3l.1-2.2l.1 3.2l0-.1l.1 .9l.1-3.9l.1-5.9l0 6.5l.1-5.6l.1 9l.1-4.8l0 4.3l.1 3.6l.1-2.3l.1 9.6l.1-13.2l0-14.3l.1 5.6l.1-.1l.1 11.1l0-.3l.1-7.6l.1 1.5l.1 2.7l0-12.5l.1-1.4l.1 1.1l.1 3.1l0 7.7l.1-3.7l.1 .6l.1 9.3l.1-4.8l0 5.1l.1-6.7l.1-9.6l.1-1.4l0 4.8l.1 8.1l.1-4.9l.1 2.9l0-8.1l.1 12.7l.1-6.4l.1 .7l0 4.8l.1-5.3l.1 2.6l.1 1.9l0-.9l.1 3.3l.1-11.1l.1-.7l.1 10.8l0-17.9l.1 22.6l.1-8l.1-8.6l0 3.2l.1 3l.1 2l.1 4.9l0-6.1l.1-6.1l.1 5l.1 .6l0-2.7l.1 5.3l.1-10.9l.1-9.7l0 18.5l.1-3l.1 2.9l.1-13.1l.1 14l0 1l.1-6.8l.1 12.3l.1-8.9l0 .7l.1 3.3l.1-20l.1 16.3l0 1.5l.1-2.7l.1 4l.1-2.9l0-4l.1-3.3l.1-4.9l.1 5l.1 5.8l0-.1l.1-4.3l.1 10.4l.1-7.8l0 1l.1 1l.1 1.5l.1-1.9l0 4.3l.1 9.1l.1-17.2l.1 5.1l0-2l.1 6.1l.1-9.6l.1-2.5l0 7.5l.1 21.4l.1-24l.1 6.2l.1 3l0-7.4l.1-1.1l.1 15.6l.1-14.5l0 1l.1 15.3l.1 6.9l.1-11.2l0-11l.1 .6l.1 6.7l.1-3.8l0-2.8l.1 .6l.1-3.1l.1 6.8l0 10.1l.1-11.8l.1 3.7l.1 5.4l.1-2.3l0-10.7l.1 8.5l.1-5.7l.1-6l0 2.2l.1 9.1l.1 2.7l.1 .8l0-2.3l.1-12.8l.1 10.9l.1 1.3l0 3.5l.1-4.8l.1 .6l.1-16.7l.1 2.3l0 11.6l.1-.5l.1 2.7l.1 .7l0-12.1l.1 19.7l.1-5.7l.1-6.8l0-3.3l.1-.6l.1 5.3l.1 4l0-8.9l.1 15l.1-11.5l.1-2.9l0 11.4l.1-12.7l.1 4.7l.1-2.3l.1-7.4l0 7.2l.1-3.3l.1-7.7l.1 10.7l0-4.3l.1 6l.1 2.8l.1-10.2l0 2.8l.1 5.6l.1-7.1l.1-.2l0 8.9l.1-15.6l.1 16l.1 4.6l.1-15.6l0 15.6l.1 6.4l.1-12.9l.1 1.6l0 0l.1-5.2l.1 8.7l.1-1.5l0-10l.1 12l.1-6.1l.1 7.4l0-13.6l.1 14.8l.1 2.8l.1 1.6l0-2.1l.1-4.8l.1-1.9" fill="none" stroke="#000" stroke-width="0.85" stroke-linejoin="round"/>
<path d="M1089.8 683.4 H1488.3 M1090.6 683.4 V689.9 M1140.2 683.4 V687.4 M1189.8 683.4 V689.9 M1239.4 683.4 V687.4 M1289 683.4 V689.9 M1338.7 683.4 V687.4 M1388.3 683.4 V689.9 M1437.9 683.4 V687.4 M1487.5 683.4 V689.9" fill="none" stroke="#000" stroke-width="1.6"/>
</g>
<g font-family="'Liberation Sans', Arial, Helvetica, sans-serif" fill="#000">
<text x="81.2" y="455.3" font-size="32" text-anchor="end">60</text>
<text x="81.2" y="691.4" font-size="32" text-anchor="end">0</text>
<text x="61.1" y="562.6" font-size="32" text-anchor="middle" transform="rotate(-90 61.1 562.6)">Current (pA)</text>
<text x="108" y="443.4" font-size="32" font-weight="bold">a)</text>
<text x="595.6" y="443.4" font-size="32" font-weight="bold">b)</text>
<text x="1098.8" y="443.4" font-size="32" font-weight="bold">c)</text>
<text x="88.2" y="713" font-size="32" text-anchor="middle">0</text>
<text x="483.2" y="713" font-size="32" text-anchor="middle">1</text>
<text x="595.6" y="713" font-size="32" text-anchor="middle">0</text>
<text x="990.7" y="713" font-size="32" text-anchor="middle">1</text>
<text x="1092.8" y="713" font-size="32" text-anchor="middle">0</text>
<text x="1487" y="713" font-size="32" text-anchor="middle">1</text>
<text x="286" y="727.8" font-size="32" text-anchor="middle">Time (sec)</text>
<text x="792.4" y="727.8" font-size="32" text-anchor="middle">Time (sec)</text>
<text x="1289.4" y="727.8" font-size="32" text-anchor="middle">Time (sec)</text>
</g>
<g id="hists">
<path id="h1f" d="M99 1020.6 L99 1020.6 L99.5 1020.5 L100 1020.5 L100.5 1020.5 L101 1020.5 L101.5 1020.5 L102 1020.4 L102.5 1020.4 L103 1020.4 L103.5 1020.3 L104 1020.2 L104.5 1020.1 L105 1020 L105.5 1019.9 L106 1019.8 L106.5 1019.4 L107 1019 L107.5 1019.1 L108 1018.6 L108.5 1017.4 L109 1018.1 L109.5 1017.3 L110 1017 L110.5 1016.2 L111 1015.5 L111.5 1014.7 L112 1012.9 L112.5 1012.8 L113 1011.4 L113.5 1009.8 L114 1007.5 L114.5 1006.6 L115 1004.3 L115.5 1001.2 L116 999.2 L116.5 997 L117 993.8 L117.5 989.6 L118 986.6 L118.5 981.9 L119 978.5 L119.5 974 L120 969.1 L120.5 963.7 L121 958.2 L121.5 952.2 L122 945.8 L122.5 938.8 L123 931.8 L123.5 925.4 L124 917.8 L124.5 910.1 L125 902.5 L125.5 894.3 L126 886.7 L126.5 878.4 L127 871 L127.5 863.1 L128 855.4 L128.5 848 L129 840.8 L129.5 833 L130 826.6 L130.5 821.3 L131 815.5 L131.5 810.4 L132 806.4 L132.5 802.8 L133 799.2 L133.5 796.3 L134 795.6 L134.5 794.2 L135 793.8 L135.5 795 L136 796.7 L136.5 798.7 L137 801.1 L137.5 805.4 L138 809.1 L138.5 814.1 L139 819.7 L139.5 824.9 L140 831.1 L140.5 838.7 L141 845.7 L141.5 853.2 L142 860.2 L142.5 868.1 L143 876.1 L143.5 883.7 L144 892.1 L144.5 900.2 L145 907.9 L145.5 915.3 L146 922.7 L146.5 930 L147 936.4 L147.5 942 L148 949.8 L148.5 955.7 L149 960.9 L149.5 966.7 L150 971.4 L150.5 976.1 L151 979.8 L151.5 984 L152 987.7 L152.5 991.3 L153 993.4 L153.5 996.8 L154 999.1 L154.5 1001.7 L155 1003.7 L155.5 1005.3 L156 1006.9 L156.5 1007.2 L157 1009 L157.5 1010 L158 1011.1 L158.5 1011.9 L159 1012.3 L159.5 1012.6 L160 1013.7 L160.5 1013.7 L161 1013.5 L161.5 1014.7 L162 1014.3 L162.5 1014.9 L163 1014.3 L163.5 1015.1 L164 1014.7 L164.5 1015.1 L165 1014.9 L165.5 1014.9 L166 1013.9 L166.5 1013.9 L167 1014.1 L167.5 1014.5 L168 1014.2 L168.5 1014.5 L169 1014.1 L169.5 1014.1 L170 1014 L170.5 1013.1 L171 1013.4 L171.5 1013.1 L172 1013.6 L172.5 1012.8 L173 1013 L173.5 1012.6 L174 1012.7 L174.5 1012.5 L175 1012.9 L175.5 1012.3 L176 1012.7 L176.5 1012 L177 1012.3 L177.5 1011.4 L178 1012.1 L178.5 1011.8 L179 1011.7 L179.5 1012.2 L180 1012.2 L180.5 1011.4 L181 1011.2 L181.5 1011.8 L182 1011.5 L182.5 1011.2 L183 1011.5 L183.5 1011.3 L184 1011.8 L184.5 1010.9 L185 1011.3 L185.5 1011.1 L186 1011.3 L186.5 1011.3 L187 1010.7 L187.5 1011.7 L188 1011.3 L188.5 1011.9 L189 1011.5 L189.5 1011.2 L190 1011.6 L190.5 1011.9 L191 1011.9 L191.5 1011.5 L192 1012.3 L192.5 1012.1 L193 1012.3 L193.5 1011.9 L194 1012.3 L194.5 1012.2 L195 1012.1 L195.5 1012.2 L196 1012.4 L196.5 1012.4 L197 1012.8 L197.5 1013.2 L198 1012.6 L198.5 1013.1 L199 1013.3 L199.5 1012.8 L200 1013.6 L200.5 1013.7 L201 1013.5 L201.5 1013.9 L202 1013.9 L202.5 1014.1 L203 1014.2 L203.5 1014.1 L204 1014.5 L204.5 1014.5 L205 1014.3 L205.5 1014.7 L206 1014.4 L206.5 1014.6 L207 1015 L207.5 1014.2 L208 1014.8 L208.5 1015.4 L209 1015.4 L209.5 1015.1 L210 1015 L210.5 1015.2 L211 1015.8 L211.5 1015.9 L212 1015.9 L212.5 1016 L213 1015.8 L213.5 1016.2 L214 1015.3 L214.5 1015.8 L215 1016.3 L215.5 1016.1 L216 1016.4 L216.5 1016.1 L217 1016.6 L217.5 1016.7 L218 1016.4 L218.5 1016.6 L219 1015.8 L219.5 1016.8 L220 1016.8 L220.5 1016.9 L221 1017.3 L221.5 1017.3 L222 1016.9 L222.5 1017 L223 1017.3 L223.5 1017.3 L224 1016.9 L224.5 1016.9 L225 1017.3 L225.5 1017.3 L226 1017.7 L226.5 1017.4 L227 1017.4 L227.5 1017.8 L228 1016.8 L228.5 1017.7 L229 1017.7 L229.5 1017.8 L230 1017.5 L230.5 1018 L231 1017.8 L231.5 1018 L232 1017.6 L232.5 1018.2 L233 1018.1 L233.5 1017.8 L234 1017.8 L234.5 1017.9 L235 1018 L235.5 1018.3 L236 1018.3 L236.5 1017.6 L237 1017.9 L237.5 1018.5 L238 1018.4 L238.5 1017.5 L239 1018.6 L239.5 1018.3 L240 1018.7 L240.5 1018.5 L241 1018.4 L241.5 1018.8 L242 1018.4 L242.5 1018.5 L243 1018.5 L243.5 1018.4 L244 1018.9 L244.5 1018.7 L245 1019 L245.5 1018.6 L246 1018.6 L246.5 1019 L247 1018.9 L247.5 1018.6 L248 1018.7 L248.5 1019.1 L249 1019.2 L249.5 1018.6 L250 1018.9 L250.5 1019.2 L251 1018.3 L251.5 1019 L252 1018.9 L252.5 1019 L253 1018.6 L253.5 1019.4 L254 1018.9 L254.5 1019.2 L255 1019.3 L255.5 1018.9 L256 1018.5 L256.5 1019.5 L257 1019.6 L257.5 1019.6 L258 1019.7 L258.5 1019.7 L259 1019.7 L259.5 1019.7 L260 1019.8 L260.5 1019.8 L261 1019.8 L261.5 1019.8 L262 1019.8 L262.5 1019.9 L263 1019.9 L263.5 1019.9 L264 1019.9 L264.5 1019.9 L265 1020 L265.5 1020 L266 1020 L266.5 1020 L267 1020 L267.5 1020 L268 1020.1 L268.5 1020.1 L269 1020.1 L269.5 1020.1 L270 1020.1 L270.5 1020.1 L271 1020.1 L271.5 1020.2 L272 1020.2 L272.5 1020.2 L273 1020.2 L273.5 1020.2 L274 1020.2 L274.5 1020.2 L275 1020.2 L275.5 1020.3 L276 1020.3 L276.5 1020.3 L277 1020.3 L277.5 1020.3 L278 1020.3 L278.5 1020.3 L279 1020.3 L279.5 1020.3 L280 1020.4 L280.5 1020.4 L281 1020.4 L281.5 1020.4 L282 1020.4 L282.5 1020.4 L283 1020.4 L283.5 1020.4 L284 1020.4 L284.5 1020.4 L285 1020.4 L285.5 1020.4 L286 1020.4 L286.5 1020.4 L287 1020.5 L287.5 1020.5 L288 1020.5 L288.5 1020.5 L289 1020.5 L289.5 1020.5 L290 1020.5 L290.5 1020.5 L291 1020.5 L291.5 1020.5 L292 1020.5 L292.5 1020.5 L293 1020.5 L293.5 1020.5 L294 1020.5 L294.5 1020.5 L295 1020.5 L295.5 1020.5 L296 1020.5 L296.5 1020.5 L297 1020.5 L297.5 1020.5 L298 1020.5 L298.5 1020.5 L299 1020.5 L299.5 1020.6 L300 1020.6 L300.5 1020.6 L301 1020.6 L301.5 1020.6 L302 1020.6 L302 1020.6Z" fill="#000"/>
<path id="h1r" d="M99 1020.3 L99.5 1020.2 L100 1020.2 L100.5 1020.2 L101 1020.2 L101.5 1020.2 L102 1020.1 L102.5 1020.1 L103 1020.1 L103.5 1020 L104 1019.9 L104.5 1019.8 L105 1019.7 L105.5 1019.6 L106 1019.5 L106.5 1019.3 L107 1019.1 L107.5 1018.8 L108 1018.5 L108.5 1018.2 L109 1017.8 L109.5 1017.3 L110 1016.8 L110.5 1016.1 L111 1015.4 L111.5 1014.5 L112 1013.6 L112.5 1012.5 L113 1011.2 L113.5 1009.8 L114 1008.2 L114.5 1006.4 L115 1004.4 L115.5 1002.1 L116 999.6 L116.5 996.8 L117 993.8 L117.5 990.5 L118 986.8 L118.5 982.9 L119 978.6 L119.5 973.9 L120 969 L120.5 963.7 L121 958 L121.5 952.1 L122 945.8 L122.5 939.2 L123 932.3 L123.5 925.1 L124 917.7 L124.5 910.2 L125 902.4 L125.5 894.6 L126 886.6 L126.5 878.7 L127 870.7 L127.5 862.9 L128 855.2 L128.5 847.8 L129 840.5 L129.5 833.7 L130 827.2 L130.5 821.1 L131 815.6 L131.5 810.6 L132 806.3 L132.5 802.5 L133 799.5 L133.5 797.1 L134 795.5 L134.5 794.7 L135 794.6 L135.5 795.2 L136 796.7 L136.5 798.8 L137 801.7 L137.5 805.3 L138 809.5 L138.5 814.3 L139 819.7 L139.5 825.6 L140 831.9 L140.5 838.7 L141 845.8 L141.5 853.2 L142 860.8 L142.5 868.6 L143 876.4 L143.5 884.3 L144 892.2 L144.5 900 L145 907.7 L145.5 915.3 L146 922.7 L146.5 929.8 L147 936.7 L147.5 943.3 L148 949.6 L148.5 955.5 L149 961.2 L149.5 966.5 L150 971.4 L150.5 976 L151 980.3 L151.5 984.2 L152 987.9 L152.5 991.2 L153 994.2 L153.5 996.9 L154 999.3 L154.5 1001.5 L155 1003.5 L155.5 1005.2 L156 1006.8 L156.5 1008.1 L157 1009.3 L157.5 1010.3 L158 1011.2 L158.5 1011.9 L159 1012.6 L159.5 1013.1 L160 1013.6 L160.5 1013.9 L161 1014.2 L161.5 1014.4 L162 1014.6 L162.5 1014.7 L163 1014.8 L163.5 1014.8 L164 1014.9 L164.5 1014.8 L165 1014.8 L165.5 1014.8 L166 1014.7 L166.5 1014.6 L167 1014.5 L167.5 1014.4 L168 1014.3 L168.5 1014.2 L169 1014.1 L169.5 1014 L170 1013.9 L170.5 1013.7 L171 1013.6 L171.5 1013.5 L172 1013.4 L172.5 1013.3 L173 1013.1 L173.5 1013 L174 1012.9 L174.5 1012.8 L175 1012.7 L175.5 1012.6 L176 1012.5 L176.5 1012.4 L177 1012.3 L177.5 1012.2 L178 1012.2 L178.5 1012.1 L179 1012 L179.5 1011.9 L180 1011.9 L180.5 1011.8 L181 1011.8 L181.5 1011.7 L182 1011.7 L182.5 1011.7 L183 1011.6 L183.5 1011.6 L184 1011.6 L184.5 1011.6 L185 1011.6 L185.5 1011.6 L186 1011.6 L186.5 1011.6 L187 1011.6 L187.5 1011.6 L188 1011.6 L188.5 1011.7 L189 1011.7 L189.5 1011.7 L190 1011.8 L190.5 1011.8 L191 1011.9 L191.5 1011.9 L192 1012 L192.5 1012.1 L193 1012.1 L193.5 1012.2 L194 1012.3 L194.5 1012.4 L195 1012.5 L195.5 1012.5 L196 1012.6 L196.5 1012.7 L197 1012.8 L197.5 1012.9 L198 1013 L198.5 1013.1 L199 1013.2 L199.5 1013.3 L200 1013.4 L200.5 1013.5 L201 1013.6 L201.5 1013.7 L202 1013.8 L202.5 1013.9 L203 1014 L203.5 1014.1 L204 1014.2 L204.5 1014.3 L205 1014.4 L205.5 1014.5 L206 1014.6 L206.5 1014.7 L207 1014.8 L207.5 1014.9 L208 1015 L208.5 1015.1 L209 1015.2 L209.5 1015.3 L210 1015.4 L210.5 1015.5 L211 1015.6 L211.5 1015.7 L212 1015.7 L212.5 1015.8 L213 1015.9 L213.5 1016 L214 1016.1 L214.5 1016.1 L215 1016.2 L215.5 1016.3 L216 1016.4 L216.5 1016.4 L217 1016.5 L217.5 1016.6 L218 1016.6 L218.5 1016.7 L219 1016.7 L219.5 1016.8 L220 1016.9 L220.5 1016.9 L221 1017 L221.5 1017 L222 1017.1 L222.5 1017.1 L223 1017.2 L223.5 1017.2 L224 1017.3 L224.5 1017.3 L225 1017.4 L225.5 1017.4 L226 1017.5 L226.5 1017.5 L227 1017.5 L227.5 1017.6 L228 1017.6 L228.5 1017.7 L229 1017.7 L229.5 1017.7 L230 1017.8 L230.5 1017.8 L231 1017.8 L231.5 1017.9 L232 1017.9 L232.5 1017.9 L233 1018 L233.5 1018 L234 1018 L234.5 1018.1 L235 1018.1 L235.5 1018.1 L236 1018.2 L236.5 1018.2 L237 1018.2 L237.5 1018.3 L238 1018.3 L238.5 1018.3 L239 1018.4 L239.5 1018.4 L240 1018.4 L240.5 1018.4 L241 1018.5 L241.5 1018.5 L242 1018.5 L242.5 1018.6 L243 1018.6 L243.5 1018.6 L244 1018.6 L244.5 1018.7 L245 1018.7 L245.5 1018.7 L246 1018.8 L246.5 1018.8 L247 1018.8 L247.5 1018.8 L248 1018.9 L248.5 1018.9 L249 1018.9 L249.5 1019 L250 1019 L250.5 1019 L251 1019 L251.5 1019.1 L252 1019.1 L252.5 1019.1 L253 1019.1 L253.5 1019.2 L254 1019.2 L254.5 1019.2 L255 1019.2 L255.5 1019.3 L256 1019.3 L256.5 1019.3 L257 1019.3 L257.5 1019.3 L258 1019.4 L258.5 1019.4 L259 1019.4 L259.5 1019.4 L260 1019.5 L260.5 1019.5 L261 1019.5 L261.5 1019.5 L262 1019.5 L262.5 1019.6 L263 1019.6 L263.5 1019.6 L264 1019.6 L264.5 1019.6 L265 1019.7 L265.5 1019.7 L266 1019.7 L266.5 1019.7 L267 1019.7 L267.5 1019.7 L268 1019.8 L268.5 1019.8 L269 1019.8 L269.5 1019.8 L270 1019.8 L270.5 1019.8 L271 1019.8 L271.5 1019.9 L272 1019.9 L272.5 1019.9 L273 1019.9 L273.5 1019.9 L274 1019.9 L274.5 1019.9 L275 1019.9 L275.5 1020 L276 1020 L276.5 1020 L277 1020 L277.5 1020 L278 1020 L278.5 1020 L279 1020 L279.5 1020 L280 1020.1 L280.5 1020.1 L281 1020.1 L281.5 1020.1 L282 1020.1 L282.5 1020.1 L283 1020.1 L283.5 1020.1 L284 1020.1 L284.5 1020.1 L285 1020.1 L285.5 1020.1 L286 1020.1 L286.5 1020.1 L287 1020.2 L287.5 1020.2 L288 1020.2 L288.5 1020.2 L289 1020.2 L289.5 1020.2 L290 1020.2 L290.5 1020.2 L291 1020.2 L291.5 1020.2 L292 1020.2 L292.5 1020.2 L293 1020.2 L293.5 1020.2 L294 1020.2 L294.5 1020.2 L295 1020.2 L295.5 1020.2 L296 1020.2 L296.5 1020.2 L297 1020.2 L297.5 1020.2 L298 1020.2 L298.5 1020.2 L299 1020.2 L299.5 1020.3 L300 1020.3 L300.5 1020.3 L301 1020.3 L301.5 1020.3 L302 1020.3" fill="none" stroke="#FF0000" stroke-width="2.2" stroke-linejoin="round"/>
<path d="M88.4 766 V1020.6 H483.1 M82.2 768.8 H88.4 M85.2 789.8 H88.4 M85.2 810.8 H88.4 M85.2 831.7 H88.4 M82.2 852.7 H88.4 M85.2 873.7 H88.4 M85.2 894.7 H88.4 M85.2 915.7 H88.4 M82.2 936.6 H88.4 M85.2 957.6 H88.4 M85.2 978.6 H88.4 M85.2 999.6 H88.4 M82.2 1020.6 H88.4 M88.4 1020.6 V1026.8 M127.8 1020.6 V1024 M167.2 1020.6 V1026.8 M206.6 1020.6 V1024 M246 1020.6 V1026.8 M285.4 1020.6 V1024 M324.8 1020.6 V1026.8 M364.2 1020.6 V1024 M403.6 1020.6 V1026.8 M443 1020.6 V1024 M482.4 1020.6 V1026.8" fill="none" stroke="#000" stroke-width="1.4"/>
<path id="h2f" d="M604 1021 L604 1021 L604.5 1021 L605 1021 L605.5 1021 L606 1020.9 L606.5 1020.9 L607 1020.9 L607.5 1020.9 L608 1020.9 L608.5 1020.9 L609 1020.8 L609.5 1020.8 L610 1020.8 L610.5 1020.7 L611 1020.7 L611.5 1020.6 L612 1020.6 L612.5 1020.5 L613 1020.4 L613.5 1020.3 L614 1020.1 L614.5 1019.3 L615 1019.5 L615.5 1019.2 L616 1018.6 L616.5 1018.6 L617 1018.5 L617.5 1017.8 L618 1017.7 L618.5 1017.3 L619 1016.6 L619.5 1015.9 L620 1014.9 L620.5 1014.5 L621 1013.6 L621.5 1012.1 L622 1010.9 L622.5 1009.5 L623 1008.5 L623.5 1007.2 L624 1005.3 L624.5 1003.3 L625 1001.4 L625.5 998.3 L626 996.7 L626.5 994.4 L627 991.3 L627.5 988.3 L628 985.1 L628.5 981.6 L629 977.5 L629.5 973.5 L630 969.2 L630.5 964.8 L631 960.5 L631.5 955.4 L632 950.4 L632.5 945.4 L633 939.7 L633.5 933.5 L634 928.7 L634.5 922.9 L635 917.1 L635.5 911.1 L636 904.7 L636.5 898.4 L637 893.2 L637.5 887.5 L638 881.8 L638.5 876.4 L639 870 L639.5 864.9 L640 861.2 L640.5 857.1 L641 853.2 L641.5 849 L642 845.8 L642.5 843.2 L643 839.8 L643.5 838.7 L644 836.9 L644.5 835.4 L645 835 L645.5 835.6 L646 836.2 L646.5 836.8 L647 838.1 L647.5 840.7 L648 843 L648.5 845.9 L649 849.3 L649.5 852.5 L650 856 L650.5 861 L651 865.6 L651.5 870.3 L652 875 L652.5 880.1 L653 885.7 L653.5 891 L654 895.7 L654.5 901.9 L655 907.8 L655.5 912.7 L656 918.1 L656.5 923.4 L657 929 L657.5 933.6 L658 938.8 L658.5 943.7 L659 948 L659.5 952.3 L660 956.6 L660.5 960.3 L661 963.7 L661.5 966.8 L662 970.7 L662.5 974 L663 976.7 L663.5 979.5 L664 981.7 L664.5 984.1 L665 986.2 L665.5 987.3 L666 990.1 L666.5 991.7 L667 993 L667.5 994.4 L668 994.8 L668.5 996.6 L669 997.1 L669.5 998 L670 998.6 L670.5 999.2 L671 1000.6 L671.5 1001.1 L672 1001.4 L672.5 1001.1 L673 1002.3 L673.5 1002.8 L674 1003.3 L674.5 1002.9 L675 1003.6 L675.5 1004.4 L676 1004.4 L676.5 1004.7 L677 1004.9 L677.5 1005 L678 1005.6 L678.5 1005.9 L679 1006.1 L679.5 1006.4 L680 1006.2 L680.5 1006.6 L681 1006.2 L681.5 1007.2 L682 1007.2 L682.5 1007.4 L683 1007.5 L683.5 1007.7 L684 1008.1 L684.5 1008.5 L685 1008.2 L685.5 1008.8 L686 1009.2 L686.5 1009.5 L687 1009.7 L687.5 1009.4 L688 1009.7 L688.5 1009.8 L689 1010.5 L689.5 1010.8 L690 1011.2 L690.5 1011 L691 1011.6 L691.5 1011.2 L692 1011.3 L692.5 1012 L693 1012.1 L693.5 1012.6 L694 1012.7 L694.5 1013 L695 1012.9 L695.5 1013 L696 1013 L696.5 1013.6 L697 1013.7 L697.5 1013.9 L698 1013.3 L698.5 1013.8 L699 1014 L699.5 1014 L700 1014.3 L700.5 1014.7 L701 1014.7 L701.5 1014.8 L702 1014.2 L702.5 1015.1 L703 1014.5 L703.5 1015.1 L704 1015.3 L704.5 1015.4 L705 1015.6 L705.5 1015.4 L706 1015.2 L706.5 1015.7 L707 1015.7 L707.5 1016 L708 1015.5 L708.5 1015.9 L709 1015.6 L709.5 1016.2 L710 1016.1 L710.5 1016.1 L711 1016.1 L711.5 1016 L712 1016.3 L712.5 1016.4 L713 1016.6 L713.5 1016.1 L714 1016.4 L714.5 1016.6 L715 1016.7 L715.5 1016.6 L716 1017 L716.5 1016.4 L717 1017 L717.5 1016.5 L718 1017.1 L718.5 1016.9 L719 1016.9 L719.5 1017 L720 1016.1 L720.5 1016.5 L721 1016.8 L721.5 1017.4 L722 1017.5 L722.5 1017 L723 1017.6 L723.5 1017.3 L724 1017.2 L724.5 1016.7 L725 1017.6 L725.5 1017.4 L726 1017.9 L726.5 1018 L727 1017.3 L727.5 1018 L728 1017.7 L728.5 1017.8 L729 1018 L729.5 1018.1 L730 1017.8 L730.5 1018.4 L731 1018.5 L731.5 1018.3 L732 1017.6 L732.5 1018.3 L733 1018.6 L733.5 1018.3 L734 1018.7 L734.5 1017.9 L735 1018.6 L735.5 1018.3 L736 1018.9 L736.5 1018.9 L737 1019 L737.5 1019.1 L738 1018.5 L738.5 1018.8 L739 1018.9 L739.5 1018.6 L740 1019.1 L740.5 1019.1 L741 1019.1 L741.5 1019.4 L742 1019 L742.5 1018.9 L743 1019.5 L743.5 1019.3 L744 1019.4 L744.5 1019.5 L745 1019.6 L745.5 1019 L746 1019 L746.5 1019.8 L747 1019.6 L747.5 1019.1 L748 1019.4 L748.5 1019.6 L749 1020 L749.5 1020.1 L750 1020.1 L750.5 1020.1 L751 1020.1 L751.5 1020.2 L752 1020.2 L752.5 1020.2 L753 1020.2 L753.5 1020.3 L754 1020.3 L754.5 1020.3 L755 1020.3 L755.5 1020.4 L756 1020.4 L756.5 1020.4 L757 1020.4 L757.5 1020.5 L758 1020.5 L758.5 1020.5 L759 1020.5 L759.5 1020.5 L760 1020.5 L760.5 1020.6 L761 1020.6 L761.5 1020.6 L762 1020.6 L762.5 1020.6 L763 1020.6 L763.5 1020.7 L764 1020.7 L764.5 1020.7 L765 1020.7 L765.5 1020.7 L766 1020.7 L766.5 1020.7 L767 1020.7 L767.5 1020.8 L768 1020.8 L768.5 1020.8 L769 1020.8 L769.5 1020.8 L770 1020.8 L770.5 1020.8 L771 1020.8 L771.5 1020.8 L772 1020.8 L772.5 1020.8 L773 1020.8 L773.5 1020.9 L774 1020.9 L774.5 1020.9 L775 1020.9 L775.5 1020.9 L776 1020.9 L776.5 1020.9 L777 1020.9 L777.5 1020.9 L778 1020.9 L778.5 1020.9 L779 1020.9 L779.5 1020.9 L780 1020.9 L780.5 1020.9 L781 1020.9 L781.5 1020.9 L782 1020.9 L782.5 1020.9 L783 1020.9 L783.5 1020.9 L784 1021 L784.5 1021 L785 1021 L785.5 1021 L786 1021 L786.5 1021 L787 1021 L787.5 1021 L788 1021 L788.5 1021 L789 1021 L789.5 1021 L790 1021 L790.5 1021 L791 1021 L791.5 1021 L792 1021 L792.5 1021 L793 1021 L793.5 1021 L794 1021 L794.5 1021 L795 1021 L795.5 1021 L796 1021 L796.5 1021 L797 1021 L797.5 1021 L798 1021 L798.5 1021 L799 1021 L799.5 1021 L800 1021 L800.5 1021 L801 1021 L801.5 1021 L802 1021 L802.5 1021 L803 1021 L803.5 1021 L804 1021 L804.5 1021 L805 1021 L805.5 1021 L806 1021 L806.5 1021 L807 1021 L807.5 1021 L808 1021 L808 1021Z" fill="#000"/>
<path id="h2r" d="M604 1020.7 L604.5 1020.7 L605 1020.7 L605.5 1020.7 L606 1020.6 L606.5 1020.6 L607 1020.6 L607.5 1020.6 L608 1020.6 L608.5 1020.6 L609 1020.5 L609.5 1020.5 L610 1020.5 L610.5 1020.4 L611 1020.4 L611.5 1020.3 L612 1020.3 L612.5 1020.2 L613 1020.1 L613.5 1020 L614 1019.8 L614.5 1019.7 L615 1019.5 L615.5 1019.3 L616 1019 L616.5 1018.8 L617 1018.4 L617.5 1018.1 L618 1017.6 L618.5 1017.1 L619 1016.6 L619.5 1016 L620 1015.2 L620.5 1014.4 L621 1013.5 L621.5 1012.5 L622 1011.4 L622.5 1010.1 L623 1008.7 L623.5 1007.2 L624 1005.5 L624.5 1003.6 L625 1001.5 L625.5 999.3 L626 996.8 L626.5 994.2 L627 991.3 L627.5 988.2 L628 984.9 L628.5 981.4 L629 977.6 L629.5 973.6 L630 969.4 L630.5 965 L631 960.3 L631.5 955.4 L632 950.4 L632.5 945.1 L633 939.7 L633.5 934.1 L634 928.4 L634.5 922.7 L635 916.8 L635.5 910.9 L636 905 L636.5 899.1 L637 893.2 L637.5 887.5 L638 881.9 L638.5 876.4 L639 871.2 L639.5 866.1 L640 861.4 L640.5 857 L641 852.9 L641.5 849.2 L642 845.8 L642.5 843 L643 840.5 L643.5 838.5 L644 837.1 L644.5 836.1 L645 835.6 L645.5 835.6 L646 836.1 L646.5 837.1 L647 838.6 L647.5 840.5 L648 842.9 L648.5 845.7 L649 849 L649.5 852.6 L650 856.5 L650.5 860.8 L651 865.3 L651.5 870.1 L652 875.1 L652.5 880.3 L653 885.6 L653.5 891 L654 896.5 L654.5 902 L655 907.5 L655.5 912.9 L656 918.3 L656.5 923.6 L657 928.8 L657.5 933.8 L658 938.7 L658.5 943.5 L659 948 L659.5 952.3 L660 956.5 L660.5 960.4 L661 964.1 L661.5 967.6 L662 970.9 L662.5 973.9 L663 976.8 L663.5 979.4 L664 981.9 L664.5 984.1 L665 986.2 L665.5 988.1 L666 989.9 L666.5 991.4 L667 992.9 L667.5 994.2 L668 995.4 L668.5 996.4 L669 997.4 L669.5 998.3 L670 999 L670.5 999.8 L671 1000.4 L671.5 1001 L672 1001.5 L672.5 1002 L673 1002.4 L673.5 1002.8 L674 1003.2 L674.5 1003.5 L675 1003.9 L675.5 1004.2 L676 1004.4 L676.5 1004.7 L677 1005 L677.5 1005.2 L678 1005.5 L678.5 1005.7 L679 1006 L679.5 1006.2 L680 1006.5 L680.5 1006.7 L681 1006.9 L681.5 1007.2 L682 1007.4 L682.5 1007.7 L683 1007.9 L683.5 1008.1 L684 1008.4 L684.5 1008.6 L685 1008.8 L685.5 1009.1 L686 1009.3 L686.5 1009.5 L687 1009.7 L687.5 1010 L688 1010.2 L688.5 1010.4 L689 1010.6 L689.5 1010.8 L690 1011 L690.5 1011.2 L691 1011.4 L691.5 1011.6 L692 1011.8 L692.5 1012 L693 1012.2 L693.5 1012.4 L694 1012.6 L694.5 1012.7 L695 1012.9 L695.5 1013.1 L696 1013.2 L696.5 1013.4 L697 1013.5 L697.5 1013.7 L698 1013.8 L698.5 1013.9 L699 1014.1 L699.5 1014.2 L700 1014.3 L700.5 1014.4 L701 1014.5 L701.5 1014.6 L702 1014.7 L702.5 1014.8 L703 1014.9 L703.5 1015 L704 1015.1 L704.5 1015.2 L705 1015.3 L705.5 1015.4 L706 1015.5 L706.5 1015.5 L707 1015.6 L707.5 1015.7 L708 1015.8 L708.5 1015.8 L709 1015.9 L709.5 1016 L710 1016 L710.5 1016.1 L711 1016.2 L711.5 1016.2 L712 1016.3 L712.5 1016.3 L713 1016.4 L713.5 1016.4 L714 1016.5 L714.5 1016.6 L715 1016.6 L715.5 1016.7 L716 1016.7 L716.5 1016.8 L717 1016.8 L717.5 1016.9 L718 1016.9 L718.5 1017 L719 1017 L719.5 1017.1 L720 1017.1 L720.5 1017.2 L721 1017.2 L721.5 1017.3 L722 1017.3 L722.5 1017.4 L723 1017.5 L723.5 1017.5 L724 1017.6 L724.5 1017.6 L725 1017.7 L725.5 1017.7 L726 1017.8 L726.5 1017.8 L727 1017.9 L727.5 1017.9 L728 1018 L728.5 1018 L729 1018.1 L729.5 1018.1 L730 1018.2 L730.5 1018.2 L731 1018.3 L731.5 1018.3 L732 1018.4 L732.5 1018.4 L733 1018.4 L733.5 1018.5 L734 1018.5 L734.5 1018.6 L735 1018.6 L735.5 1018.7 L736 1018.7 L736.5 1018.8 L737 1018.8 L737.5 1018.9 L738 1018.9 L738.5 1019 L739 1019 L739.5 1019 L740 1019.1 L740.5 1019.1 L741 1019.2 L741.5 1019.2 L742 1019.2 L742.5 1019.3 L743 1019.3 L743.5 1019.4 L744 1019.4 L744.5 1019.4 L745 1019.5 L745.5 1019.5 L746 1019.5 L746.5 1019.6 L747 1019.6 L747.5 1019.6 L748 1019.7 L748.5 1019.7 L749 1019.7 L749.5 1019.8 L750 1019.8 L750.5 1019.8 L751 1019.8 L751.5 1019.9 L752 1019.9 L752.5 1019.9 L753 1019.9 L753.5 1020 L754 1020 L754.5 1020 L755 1020 L755.5 1020.1 L756 1020.1 L756.5 1020.1 L757 1020.1 L757.5 1020.2 L758 1020.2 L758.5 1020.2 L759 1020.2 L759.5 1020.2 L760 1020.2 L760.5 1020.3 L761 1020.3 L761.5 1020.3 L762 1020.3 L762.5 1020.3 L763 1020.3 L763.5 1020.4 L764 1020.4 L764.5 1020.4 L765 1020.4 L765.5 1020.4 L766 1020.4 L766.5 1020.4 L767 1020.4 L767.5 1020.5 L768 1020.5 L768.5 1020.5 L769 1020.5 L769.5 1020.5 L770 1020.5 L770.5 1020.5 L771 1020.5 L771.5 1020.5 L772 1020.5 L772.5 1020.5 L773 1020.5 L773.5 1020.6 L774 1020.6 L774.5 1020.6 L775 1020.6 L775.5 1020.6 L776 1020.6 L776.5 1020.6 L777 1020.6 L777.5 1020.6 L778 1020.6 L778.5 1020.6 L779 1020.6 L779.5 1020.6 L780 1020.6 L780.5 1020.6 L781 1020.6 L781.5 1020.6 L782 1020.6 L782.5 1020.6 L783 1020.6 L783.5 1020.6 L784 1020.7 L784.5 1020.7 L785 1020.7 L785.5 1020.7 L786 1020.7 L786.5 1020.7 L787 1020.7 L787.5 1020.7 L788 1020.7 L788.5 1020.7 L789 1020.7 L789.5 1020.7 L790 1020.7 L790.5 1020.7 L791 1020.7 L791.5 1020.7 L792 1020.7 L792.5 1020.7 L793 1020.7 L793.5 1020.7 L794 1020.7 L794.5 1020.7 L795 1020.7 L795.5 1020.7 L796 1020.7 L796.5 1020.7 L797 1020.7 L797.5 1020.7 L798 1020.7 L798.5 1020.7 L799 1020.7 L799.5 1020.7 L800 1020.7 L800.5 1020.7 L801 1020.7 L801.5 1020.7 L802 1020.7 L802.5 1020.7 L803 1020.7 L803.5 1020.7 L804 1020.7 L804.5 1020.7 L805 1020.7 L805.5 1020.7 L806 1020.7 L806.5 1020.7 L807 1020.7 L807.5 1020.7 L808 1020.7" fill="none" stroke="#FF0000" stroke-width="2.2" stroke-linejoin="round"/>
<path d="M593.1 1021 H989.3 M593.8 1021 V1027.2 M633.3 1021 V1024.4 M672.8 1021 V1027.2 M712.2 1021 V1024.4 M751.7 1021 V1027.2 M791.2 1021 V1024.4 M830.7 1021 V1027.2 M870.2 1021 V1024.4 M909.6 1021 V1027.2 M949.1 1021 V1024.4 M988.6 1021 V1027.2" fill="none" stroke="#000" stroke-width="1.4"/>
<path id="h3f" d="M1096 1021.6 L1096 1021.6 L1096.5 1021.6 L1097 1021.6 L1097.5 1021.6 L1098 1021.6 L1098.5 1021.6 L1099 1021.6 L1099.5 1021.6 L1100 1021.6 L1100.5 1021.6 L1101 1021.6 L1101.5 1021.6 L1102 1021.6 L1102.5 1021.6 L1103 1021.6 L1103.5 1021.5 L1104 1021.5 L1104.5 1021.5 L1105 1021.5 L1105.5 1021.4 L1106 1021.4 L1106.5 1021.4 L1107 1021.3 L1107.5 1021.2 L1108 1021.1 L1108.5 1021 L1109 1020.9 L1109.5 1020.8 L1110 1020.6 L1110.5 1019.8 L1111 1019.5 L1111.5 1019.9 L1112 1019.1 L1112.5 1018.8 L1113 1018.7 L1113.5 1018.2 L1114 1017.2 L1114.5 1016.9 L1115 1016 L1115.5 1014.4 L1116 1013.9 L1116.5 1013.2 L1117 1012.2 L1117.5 1010.9 L1118 1009.2 L1118.5 1007.5 L1119 1006 L1119.5 1004.1 L1120 1002.1 L1120.5 1000.1 L1121 997.9 L1121.5 994.7 L1122 992.9 L1122.5 990 L1123 987.5 L1123.5 984.3 L1124 980.8 L1124.5 978.1 L1125 973.9 L1125.5 971 L1126 967.3 L1126.5 964.6 L1127 961.2 L1127.5 957.5 L1128 954.1 L1128.5 951.3 L1129 948.2 L1129.5 944.8 L1130 941.9 L1130.5 939.4 L1131 937.5 L1131.5 935.5 L1132 933.7 L1132.5 932.3 L1133 930.7 L1133.5 929.4 L1134 929.9 L1134.5 929.2 L1135 930.2 L1135.5 930.8 L1136 931.7 L1136.5 932.6 L1137 934.3 L1137.5 936 L1138 938.6 L1138.5 940.5 L1139 943.2 L1139.5 946.3 L1140 949.1 L1140.5 952.4 L1141 955.7 L1141.5 959.1 L1142 962.1 L1142.5 965.7 L1143 968.9 L1143.5 972.2 L1144 975.4 L1144.5 979.5 L1145 982.5 L1145.5 985.8 L1146 988.5 L1146.5 991.6 L1147 993.8 L1147.5 996.4 L1148 999.2 L1148.5 1001 L1149 1003.5 L1149.5 1005.5 L1150 1007.1 L1150.5 1008.6 L1151 1010.3 L1151.5 1011.6 L1152 1012.1 L1152.5 1013.9 L1153 1014.4 L1153.5 1015.9 L1154 1016.1 L1154.5 1016.2 L1155 1017.8 L1155.5 1018.4 L1156 1018.5 L1156.5 1019 L1157 1019.4 L1157.5 1020 L1158 1019.8 L1158.5 1020 L1159 1020.7 L1159.5 1020.8 L1160 1021 L1160.5 1021.1 L1161 1021.2 L1161.5 1021.3 L1162 1021.3 L1162.5 1021.4 L1163 1021.4 L1163.5 1021.5 L1164 1021.5 L1164.5 1021.5 L1165 1021.5 L1165.5 1021.5 L1166 1021.6 L1166.5 1021.6 L1167 1021.6 L1167.5 1021.6 L1168 1021.6 L1168.5 1021.6 L1169 1021.6 L1169.5 1021.6 L1170 1021.6 L1170.5 1021.6 L1171 1021.6 L1171.5 1021.6 L1172 1021.6 L1172.5 1021.6 L1173 1021.6 L1173.5 1021.6 L1174 1021.6 L1174.5 1021.6 L1175 1021.6 L1175.5 1021.6 L1176 1021.6 L1176.5 1021.6 L1177 1021.6 L1177.5 1021.6 L1178 1021.6 L1178.5 1021.6 L1179 1021.6 L1179.5 1021.6 L1180 1021.6 L1180.5 1021.6 L1181 1021.6 L1181.5 1021.6 L1182 1021.6 L1182.5 1021.6 L1183 1021.6 L1183.5 1021.6 L1184 1021.6 L1184.5 1021.6 L1185 1021.6 L1185.5 1021.6 L1186 1021.6 L1186.5 1021.6 L1187 1021.6 L1187.5 1021.6 L1188 1021.6 L1188.5 1021.6 L1189 1021.6 L1189.5 1021.6 L1190 1021.6 L1190.5 1021.6 L1191 1021.6 L1191.5 1021.6 L1192 1021.6 L1192.5 1021.6 L1193 1021.6 L1193.5 1021.6 L1194 1021.6 L1194.5 1021.6 L1195 1021.6 L1195.5 1021.6 L1196 1021.6 L1196.5 1021.6 L1197 1021.6 L1197.5 1021.6 L1198 1021.6 L1198.5 1021.6 L1199 1021.6 L1199.5 1021.6 L1200 1021.6 L1200.5 1021.6 L1201 1021.6 L1201.5 1021.6 L1202 1021.6 L1202.5 1021.6 L1203 1021.6 L1203.5 1021.6 L1204 1021.6 L1204.5 1021.6 L1205 1021.6 L1205.5 1021.6 L1206 1021.6 L1206.5 1021.6 L1207 1021.6 L1207.5 1021.6 L1208 1021.6 L1208.5 1021.6 L1209 1021.6 L1209.5 1021.6 L1210 1021.6 L1210.5 1021.6 L1211 1021.6 L1211.5 1021.6 L1212 1021.6 L1212.5 1021.6 L1213 1021.6 L1213.5 1021.6 L1214 1021.6 L1214.5 1021.6 L1215 1021.6 L1215.5 1021.6 L1216 1021.6 L1216.5 1021.6 L1217 1021.6 L1217.5 1021.6 L1218 1021.6 L1218.5 1021.6 L1219 1021.6 L1219.5 1021.6 L1220 1021.6 L1220.5 1021.6 L1221 1021.6 L1221.5 1021.6 L1222 1021.6 L1222.5 1021.6 L1223 1021.6 L1223.5 1021.6 L1224 1021.6 L1224.5 1021.6 L1225 1021.6 L1225.5 1021.6 L1226 1021.6 L1226.5 1021.6 L1227 1021.6 L1227.5 1021.6 L1228 1021.6 L1228.5 1021.6 L1229 1021.6 L1229.5 1021.6 L1230 1021.6 L1230.5 1021.6 L1231 1021.6 L1231.5 1021.6 L1232 1021.6 L1232.5 1021.6 L1233 1021.6 L1233.5 1021.6 L1234 1021.6 L1234.5 1021.6 L1235 1021.6 L1235.5 1021.6 L1236 1021.6 L1236.5 1021.6 L1237 1021.6 L1237.5 1021.6 L1238 1021.6 L1238.5 1021.6 L1239 1021.6 L1239.5 1021.6 L1240 1021.6 L1240.5 1021.6 L1241 1021.6 L1241.5 1021.6 L1242 1021.6 L1242.5 1021.6 L1243 1021.6 L1243.5 1021.6 L1244 1021.6 L1244.5 1021.6 L1245 1021.6 L1245.5 1021.6 L1246 1021.6 L1246.5 1021.6 L1247 1021.6 L1247.5 1021.6 L1248 1021.6 L1248.5 1021.6 L1249 1021.6 L1249.5 1021.6 L1250 1021.6 L1250.5 1021.6 L1251 1021.6 L1251.5 1021.6 L1252 1021.6 L1252.5 1021.6 L1253 1021.6 L1253.5 1021.5 L1254 1021.5 L1254.5 1021.5 L1255 1021.5 L1255.5 1021.5 L1256 1021.5 L1256.5 1021.5 L1257 1021.5 L1257.5 1021.5 L1258 1021.5 L1258.5 1021.5 L1259 1021.5 L1259.5 1021.5 L1260 1021.5 L1260.5 1021.4 L1261 1021.4 L1261.5 1021.4 L1262 1021.4 L1262.5 1021.4 L1263 1021.4 L1263.5 1021.4 L1264 1021.4 L1264.5 1021.3 L1265 1021.3 L1265.5 1021.3 L1266 1021.3 L1266.5 1021.3 L1267 1021.3 L1267.5 1021.2 L1268 1021.2 L1268.5 1021.2 L1269 1021.2 L1269.5 1021.1 L1270 1021.1 L1270.5 1021.1 L1271 1021.1 L1271.5 1021 L1272 1021 L1272.5 1021 L1273 1020.9 L1273.5 1020.9 L1274 1020.9 L1274.5 1020.8 L1275 1020.8 L1275.5 1020.7 L1276 1020.7 L1276.5 1020.7 L1277 1020.6 L1277.5 1020.4 L1278 1020.3 L1278.5 1020.1 L1279 1020.1 L1279.5 1020 L1280 1019.9 L1280.5 1019.9 L1281 1020 L1281.5 1019.8 L1282 1019.4 L1282.5 1019.7 L1283 1019.6 L1283.5 1019.4 L1284 1019.3 L1284.5 1019.7 L1285 1019.3 L1285.5 1019.3 L1286 1019.6 L1286.5 1019.3 L1287 1018.9 L1287.5 1018.7 L1288 1018.6 L1288.5 1018.8 L1289 1019.2 L1289.5 1018.8 L1290 1018.8 L1290.5 1018.7 L1291 1018.7 L1291.5 1018.6 L1292 1018.6 L1292.5 1018.6 L1293 1018.5 L1293.5 1018.1 L1294 1017.8 L1294.5 1017 L1295 1018.1 L1295.5 1017.3 L1296 1017.4 L1296.5 1017.6 L1297 1016.9 L1297.5 1017.6 L1298 1017.1 L1298.5 1016.6 L1299 1016.4 L1299.5 1016.7 L1300 1015.7 L1300.5 1017 L1301 1016.4 L1301.5 1016.4 L1302 1015.1 L1302.5 1016.2 L1303 1016 L1303.5 1014.7 L1304 1015.5 L1304.5 1015.5 L1305 1015.4 L1305.5 1015.2 L1306 1014.9 L1306.5 1013.8 L1307 1014.5 L1307.5 1014.1 L1308 1013.7 L1308.5 1013.6 L1309 1013.8 L1309.5 1012.8 L1310 1013.2 L1310.5 1012.9 L1311 1012.1 L1311.5 1012.1 L1312 1011.9 L1312.5 1011.3 L1313 1010.7 L1313.5 1010.5 L1314 1010.5 L1314.5 1009.5 L1315 1009.3 L1315.5 1009 L1316 1008.6 L1316.5 1007.6 L1317 1007.8 L1317.5 1007.1 L1318 1006.6 L1318.5 1005.6 L1319 1005.2 L1319.5 1004.6 L1320 1003.8 L1320.5 1004 L1321 1003.1 L1321.5 1002.1 L1322 1001.7 L1322.5 1001.2 L1323 999.7 L1323.5 1000 L1324 998.8 L1324.5 997.5 L1325 996.9 L1325.5 996 L1326 995.7 L1326.5 994.9 L1327 994.3 L1327.5 993.7 L1328 992.7 L1328.5 991.4 L1329 991 L1329.5 990.1 L1330 990.6 L1330.5 989 L1331 988.6 L1331.5 987.8 L1332 986.8 L1332.5 985.5 L1333 985.1 L1333.5 983.7 L1334 983 L1334.5 982.4 L1335 981.4 L1335.5 979.9 L1336 979.1 L1336.5 977.9 L1337 977.3 L1337.5 976.6 L1338 975.9 L1338.5 975.1 L1339 974.2 L1339.5 973.3 L1340 972.5 L1340.5 972.2 L1341 971.1 L1341.5 971 L1342 969.4 L1342.5 968.8 L1343 968.9 L1343.5 967.8 L1344 967.4 L1344.5 967.4 L1345 966.6 L1345.5 966.7 L1346 965.7 L1346.5 965.9 L1347 965.5 L1347.5 965.2 L1348 964.8 L1348.5 965 L1349 964.5 L1349.5 964.6 L1350 964.5 L1350.5 964.5 L1351 964.4 L1351.5 964.2 L1352 964.5 L1352.5 964.4 L1353 964.8 L1353.5 964.8 L1354 965.3 L1354.5 965.2 L1355 965 L1355.5 966.3 L1356 966.4 L1356.5 967.3 L1357 967.8 L1357.5 967.4 L1358 968.2 L1358.5 969.3 L1359 969.9 L1359.5 970.2 L1360 970.9 L1360.5 972.1 L1361 972.3 L1361.5 973.4 L1362 974.3 L1362.5 974.9 L1363 975.1 L1363.5 976 L1364 976.9 L1364.5 978.4 L1365 978.7 L1365.5 979.8 L1366 980 L1366.5 981.5 L1367 982.6 L1367.5 983.5 L1368 984.7 L1368.5 985.5 L1369 986.4 L1369.5 986.6 L1370 988.1 L1370.5 989 L1371 990.1 L1371.5 990.7 L1372 992 L1372.5 992 L1373 993.2 L1373.5 994.6 L1374 995.6 L1374.5 996.1 L1375 997.4 L1375.5 998 L1376 998.5 L1376.5 999.8 L1377 1000.5 L1377.5 1001.3 L1378 1002.2 L1378.5 1002.9 L1379 1003.6 L1379.5 1004.3 L1380 1004.6 L1380.5 1005.9 L1381 1006.5 L1381.5 1006.7 L1382 1007.9 L1382.5 1008.4 L1383 1009 L1383.5 1009.5 L1384 1009.6 L1384.5 1010.7 L1385 1010.8 L1385.5 1011.5 L1386 1012 L1386.5 1012.4 L1387 1012.9 L1387.5 1013.4 L1388 1013.4 L1388.5 1014.4 L1389 1014.1 L1389.5 1014.6 L1390 1015.3 L1390.5 1015.8 L1391 1015.8 L1391.5 1016.4 L1392 1016.1 L1392.5 1017 L1393 1016.6 L1393.5 1017.1 L1394 1017.1 L1394.5 1017.9 L1395 1018.1 L1395.5 1018.4 L1396 1018.4 L1396.5 1018.7 L1397 1018.7 L1397.5 1019.1 L1398 1018.7 L1398.5 1019.3 L1399 1019.4 L1399.5 1019.7 L1400 1019.9 L1400.5 1020 L1401 1019 L1401.5 1019.3 L1402 1019.8 L1402.5 1019.8 L1403 1019.9 L1403.5 1020.6 L1404 1020.7 L1404.5 1020.7 L1405 1020.8 L1405.5 1020.9 L1406 1020.9 L1406.5 1021 L1407 1021 L1407.5 1021.1 L1408 1021.1 L1408.5 1021.2 L1409 1021.2 L1409.5 1021.2 L1410 1021.3 L1410.5 1021.3 L1411 1021.3 L1411.5 1021.3 L1412 1021.4 L1412.5 1021.4 L1413 1021.4 L1413.5 1021.4 L1414 1021.4 L1414.5 1021.4 L1415 1021.5 L1415.5 1021.5 L1416 1021.5 L1416.5 1021.5 L1417 1021.5 L1417.5 1021.5 L1418 1021.5 L1418.5 1021.5 L1419 1021.5 L1419.5 1021.5 L1420 1021.5 L1420.5 1021.6 L1421 1021.6 L1421.5 1021.6 L1422 1021.6 L1422.5 1021.6 L1423 1021.6 L1423.5 1021.6 L1424 1021.6 L1424.5 1021.6 L1425 1021.6 L1425 1021.6Z" fill="#000"/>
<path id="h3r" d="M1096 1021.3 L1096.5 1021.3 L1097 1021.3 L1097.5 1021.3 L1098 1021.3 L1098.5 1021.3 L1099 1021.3 L1099.5 1021.3 L1100 1021.3 L1100.5 1021.3 L1101 1021.3 L1101.5 1021.3 L1102 1021.3 L1102.5 1021.3 L1103 1021.3 L1103.5 1021.2 L1104 1021.2 L1104.5 1021.2 L1105 1021.2 L1105.5 1021.1 L1106 1021.1 L1106.5 1021.1 L1107 1021 L1107.5 1020.9 L1108 1020.8 L1108.5 1020.7 L1109 1020.6 L1109.5 1020.5 L1110 1020.3 L1110.5 1020.1 L1111 1019.9 L1111.5 1019.6 L1112 1019.3 L1112.5 1018.9 L1113 1018.5 L1113.5 1018 L1114 1017.5 L1114.5 1016.8 L1115 1016.1 L1115.5 1015.3 L1116 1014.4 L1116.5 1013.3 L1117 1012.2 L1117.5 1010.9 L1118 1009.5 L1118.5 1008 L1119 1006.3 L1119.5 1004.4 L1120 1002.4 L1120.5 1000.3 L1121 998 L1121.5 995.5 L1122 992.9 L1122.5 990.2 L1123 987.3 L1123.5 984.3 L1124 981.1 L1124.5 977.9 L1125 974.6 L1125.5 971.2 L1126 967.8 L1126.5 964.4 L1127 961 L1127.5 957.6 L1128 954.3 L1128.5 951 L1129 948 L1129.5 945 L1130 942.3 L1130.5 939.7 L1131 937.4 L1131.5 935.4 L1132 933.6 L1132.5 932.2 L1133 931.1 L1133.5 930.3 L1134 929.8 L1134.5 929.7 L1135 930 L1135.5 930.5 L1136 931.5 L1136.5 932.7 L1137 934.3 L1137.5 936.2 L1138 938.3 L1138.5 940.7 L1139 943.3 L1139.5 946.2 L1140 949.2 L1140.5 952.3 L1141 955.6 L1141.5 958.9 L1142 962.3 L1142.5 965.7 L1143 969.2 L1143.5 972.6 L1144 975.9 L1144.5 979.2 L1145 982.4 L1145.5 985.5 L1146 988.4 L1146.5 991.3 L1147 994 L1147.5 996.5 L1148 998.9 L1148.5 1001.2 L1149 1003.3 L1149.5 1005.2 L1150 1007 L1150.5 1008.6 L1151 1010.1 L1151.5 1011.4 L1152 1012.7 L1152.5 1013.8 L1153 1014.7 L1153.5 1015.6 L1154 1016.4 L1154.5 1017.1 L1155 1017.7 L1155.5 1018.2 L1156 1018.7 L1156.5 1019.1 L1157 1019.4 L1157.5 1019.7 L1158 1020 L1158.5 1020.2 L1159 1020.4 L1159.5 1020.5 L1160 1020.7 L1160.5 1020.8 L1161 1020.9 L1161.5 1021 L1162 1021 L1162.5 1021.1 L1163 1021.1 L1163.5 1021.2 L1164 1021.2 L1164.5 1021.2 L1165 1021.2 L1165.5 1021.2 L1166 1021.3 L1166.5 1021.3 L1167 1021.3 L1167.5 1021.3 L1168 1021.3 L1168.5 1021.3 L1169 1021.3 L1169.5 1021.3 L1170 1021.3 L1170.5 1021.3 L1171 1021.3 L1171.5 1021.3 L1172 1021.3 L1172.5 1021.3 L1173 1021.3 L1173.5 1021.3 L1174 1021.3 L1174.5 1021.3 L1175 1021.3 L1175.5 1021.3 L1176 1021.3 L1176.5 1021.3 L1177 1021.3 L1177.5 1021.3 L1178 1021.3 L1178.5 1021.3 L1179 1021.3 L1179.5 1021.3 L1180 1021.3 L1180.5 1021.3 L1181 1021.3 L1181.5 1021.3 L1182 1021.3 L1182.5 1021.3 L1183 1021.3 L1183.5 1021.3 L1184 1021.3 L1184.5 1021.3 L1185 1021.3 L1185.5 1021.3 L1186 1021.3 L1186.5 1021.3 L1187 1021.3 L1187.5 1021.3 L1188 1021.3 L1188.5 1021.3 L1189 1021.3 L1189.5 1021.3 L1190 1021.3 L1190.5 1021.3 L1191 1021.3 L1191.5 1021.3 L1192 1021.3 L1192.5 1021.3 L1193 1021.3 L1193.5 1021.3 L1194 1021.3 L1194.5 1021.3 L1195 1021.3 L1195.5 1021.3 L1196 1021.3 L1196.5 1021.3 L1197 1021.3 L1197.5 1021.3 L1198 1021.3 L1198.5 1021.3 L1199 1021.3 L1199.5 1021.3 L1200 1021.3 L1200.5 1021.3 L1201 1021.3 L1201.5 1021.3 L1202 1021.3 L1202.5 1021.3 L1203 1021.3 L1203.5 1021.3 L1204 1021.3 L1204.5 1021.3 L1205 1021.3 L1205.5 1021.3 L1206 1021.3 L1206.5 1021.3 L1207 1021.3 L1207.5 1021.3 L1208 1021.3 L1208.5 1021.3 L1209 1021.3 L1209.5 1021.3 L1210 1021.3 L1210.5 1021.3 L1211 1021.3 L1211.5 1021.3 L1212 1021.3 L1212.5 1021.3 L1213 1021.3 L1213.5 1021.3 L1214 1021.3 L1214.5 1021.3 L1215 1021.3 L1215.5 1021.3 L1216 1021.3 L1216.5 1021.3 L1217 1021.3 L1217.5 1021.3 L1218 1021.3 L1218.5 1021.3 L1219 1021.3 L1219.5 1021.3 L1220 1021.3 L1220.5 1021.3 L1221 1021.3 L1221.5 1021.3 L1222 1021.3 L1222.5 1021.3 L1223 1021.3 L1223.5 1021.3 L1224 1021.3 L1224.5 1021.3 L1225 1021.3 L1225.5 1021.3 L1226 1021.3 L1226.5 1021.3 L1227 1021.3 L1227.5 1021.3 L1228 1021.3 L1228.5 1021.3 L1229 1021.3 L1229.5 1021.3 L1230 1021.3 L1230.5 1021.3 L1231 1021.3 L1231.5 1021.3 L1232 1021.3 L1232.5 1021.3 L1233 1021.3 L1233.5 1021.3 L1234 1021.3 L1234.5 1021.3 L1235 1021.3 L1235.5 1021.3 L1236 1021.3 L1236.5 1021.3 L1237 1021.3 L1237.5 1021.3 L1238 1021.3 L1238.5 1021.3 L1239 1021.3 L1239.5 1021.3 L1240 1021.3 L1240.5 1021.3 L1241 1021.3 L1241.5 1021.3 L1242 1021.3 L1242.5 1021.3 L1243 1021.3 L1243.5 1021.3 L1244 1021.3 L1244.5 1021.3 L1245 1021.3 L1245.5 1021.3 L1246 1021.3 L1246.5 1021.3 L1247 1021.3 L1247.5 1021.3 L1248 1021.3 L1248.5 1021.3 L1249 1021.3 L1249.5 1021.3 L1250 1021.3 L1250.5 1021.3 L1251 1021.3 L1251.5 1021.3 L1252 1021.3 L1252.5 1021.3 L1253 1021.3 L1253.5 1021.3 L1254 1021.3 L1254.5 1021.3 L1255 1021.3 L1255.5 1021.3 L1256 1021.3 L1256.5 1021.3 L1257 1021.3 L1257.5 1021.3 L1258 1021.3 L1258.5 1021.3 L1259 1021.3 L1259.5 1021.3 L1260 1021.3 L1260.5 1021.3 L1261 1021.3 L1261.5 1021.3 L1262 1021.3 L1262.5 1021.3 L1263 1021.3 L1263.5 1021.3 L1264 1021.3 L1264.5 1021.3 L1265 1021.3 L1265.5 1021.3 L1266 1021.3 L1266.5 1021.3 L1267 1021.3 L1267.5 1021.3 L1268 1021.3 L1268.5 1021.3 L1269 1021.3 L1269.5 1021.3 L1270 1021.3 L1270.5 1021.3 L1271 1021.3 L1271.5 1021.3 L1272 1021.3 L1272.5 1021.3 L1273 1021.3 L1273.5 1021.3 L1274 1021.3 L1274.5 1021.3 L1275 1021.3 L1275.5 1021.3 L1276 1021.3 L1276.5 1021.3 L1277 1021.3 L1277.5 1021.3 L1278 1021.3 L1278.5 1021.3 L1279 1021.3 L1279.5 1021.3 L1280 1021.3 L1280.5 1021.3 L1281 1021.2 L1281.5 1021.2 L1282 1021.2 L1282.5 1021.2 L1283 1021.2 L1283.5 1021.2 L1284 1021.2 L1284.5 1021.2 L1285 1021.2 L1285.5 1021.2 L1286 1021.2 L1286.5 1021.1 L1287 1021.1 L1287.5 1021.1 L1288 1021.1 L1288.5 1021.1 L1289 1021.1 L1289.5 1021 L1290 1021 L1290.5 1021 L1291 1021 L1291.5 1020.9 L1292 1020.9 L1292.5 1020.9 L1293 1020.8 L1293.5 1020.8 L1294 1020.7 L1294.5 1020.7 L1295 1020.6 L1295.5 1020.6 L1296 1020.5 L1296.5 1020.5 L1297 1020.4 L1297.5 1020.3 L1298 1020.3 L1298.5 1020.2 L1299 1020.1 L1299.5 1020 L1300 1019.9 L1300.5 1019.8 L1301 1019.7 L1301.5 1019.6 L1302 1019.4 L1302.5 1019.3 L1303 1019.1 L1303.5 1019 L1304 1018.8 L1304.5 1018.7 L1305 1018.5 L1305.5 1018.3 L1306 1018.1 L1306.5 1017.9 L1307 1017.6 L1307.5 1017.4 L1308 1017.2 L1308.5 1016.9 L1309 1016.6 L1309.5 1016.3 L1310 1016 L1310.5 1015.7 L1311 1015.4 L1311.5 1015 L1312 1014.7 L1312.5 1014.3 L1313 1013.9 L1313.5 1013.5 L1314 1013.1 L1314.5 1012.6 L1315 1012.2 L1315.5 1011.7 L1316 1011.2 L1316.5 1010.7 L1317 1010.2 L1317.5 1009.6 L1318 1009 L1318.5 1008.4 L1319 1007.8 L1319.5 1007.2 L1320 1006.6 L1320.5 1005.9 L1321 1005.2 L1321.5 1004.5 L1322 1003.8 L1322.5 1003.1 L1323 1002.3 L1323.5 1001.6 L1324 1000.8 L1324.5 1000 L1325 999.2 L1325.5 998.4 L1326 997.5 L1326.5 996.7 L1327 995.8 L1327.5 994.9 L1328 994.1 L1328.5 993.2 L1329 992.3 L1329.5 991.3 L1330 990.4 L1330.5 989.5 L1331 988.6 L1331.5 987.7 L1332 986.7 L1332.5 985.8 L1333 984.9 L1333.5 983.9 L1334 983 L1334.5 982.1 L1335 981.2 L1335.5 980.3 L1336 979.4 L1336.5 978.5 L1337 977.7 L1337.5 976.8 L1338 976 L1338.5 975.2 L1339 974.4 L1339.5 973.6 L1340 972.8 L1340.5 972.1 L1341 971.4 L1341.5 970.7 L1342 970.1 L1342.5 969.5 L1343 968.9 L1343.5 968.3 L1344 967.8 L1344.5 967.3 L1345 966.8 L1345.5 966.4 L1346 966 L1346.5 965.7 L1347 965.4 L1347.5 965.1 L1348 964.9 L1348.5 964.7 L1349 964.5 L1349.5 964.4 L1350 964.3 L1350.5 964.3 L1351 964.3 L1351.5 964.4 L1352 964.5 L1352.5 964.6 L1353 964.8 L1353.5 965 L1354 965.2 L1354.5 965.5 L1355 965.9 L1355.5 966.2 L1356 966.7 L1356.5 967.1 L1357 967.6 L1357.5 968.1 L1358 968.6 L1358.5 969.2 L1359 969.8 L1359.5 970.5 L1360 971.1 L1360.5 971.8 L1361 972.5 L1361.5 973.3 L1362 974.1 L1362.5 974.8 L1363 975.7 L1363.5 976.5 L1364 977.3 L1364.5 978.2 L1365 979.1 L1365.5 979.9 L1366 980.8 L1366.5 981.7 L1367 982.7 L1367.5 983.6 L1368 984.5 L1368.5 985.4 L1369 986.4 L1369.5 987.3 L1370 988.2 L1370.5 989.1 L1371 990.1 L1371.5 991 L1372 991.9 L1372.5 992.8 L1373 993.7 L1373.5 994.6 L1374 995.5 L1374.5 996.3 L1375 997.2 L1375.5 998 L1376 998.9 L1376.5 999.7 L1377 1000.5 L1377.5 1001.3 L1378 1002 L1378.5 1002.8 L1379 1003.5 L1379.5 1004.3 L1380 1005 L1380.5 1005.6 L1381 1006.3 L1381.5 1007 L1382 1007.6 L1382.5 1008.2 L1383 1008.8 L1383.5 1009.4 L1384 1009.9 L1384.5 1010.5 L1385 1011 L1385.5 1011.5 L1386 1012 L1386.5 1012.5 L1387 1012.9 L1387.5 1013.3 L1388 1013.8 L1388.5 1014.2 L1389 1014.5 L1389.5 1014.9 L1390 1015.3 L1390.5 1015.6 L1391 1015.9 L1391.5 1016.2 L1392 1016.5 L1392.5 1016.8 L1393 1017.1 L1393.5 1017.3 L1394 1017.6 L1394.5 1017.8 L1395 1018 L1395.5 1018.2 L1396 1018.4 L1396.5 1018.6 L1397 1018.8 L1397.5 1018.9 L1398 1019.1 L1398.5 1019.2 L1399 1019.4 L1399.5 1019.5 L1400 1019.6 L1400.5 1019.7 L1401 1019.8 L1401.5 1020 L1402 1020 L1402.5 1020.1 L1403 1020.2 L1403.5 1020.3 L1404 1020.4 L1404.5 1020.4 L1405 1020.5 L1405.5 1020.6 L1406 1020.6 L1406.5 1020.7 L1407 1020.7 L1407.5 1020.8 L1408 1020.8 L1408.5 1020.9 L1409 1020.9 L1409.5 1020.9 L1410 1021 L1410.5 1021 L1411 1021 L1411.5 1021 L1412 1021.1 L1412.5 1021.1 L1413 1021.1 L1413.5 1021.1 L1414 1021.1 L1414.5 1021.1 L1415 1021.2 L1415.5 1021.2 L1416 1021.2 L1416.5 1021.2 L1417 1021.2 L1417.5 1021.2 L1418 1021.2 L1418.5 1021.2 L1419 1021.2 L1419.5 1021.2 L1420 1021.2 L1420.5 1021.3 L1421 1021.3 L1421.5 1021.3 L1422 1021.3 L1422.5 1021.3 L1423 1021.3 L1423.5 1021.3 L1424 1021.3 L1424.5 1021.3 L1425 1021.3" fill="none" stroke="#FF0000" stroke-width="2.2" stroke-linejoin="round"/>
<path d="M1089.7 1021.6 H1484.7 M1090.4 1021.6 V1027.8 M1129.8 1021.6 V1025 M1169.1 1021.6 V1027.8 M1208.5 1021.6 V1025 M1247.8 1021.6 V1027.8 M1287.2 1021.6 V1025 M1326.6 1021.6 V1027.8 M1365.9 1021.6 V1025 M1405.3 1021.6 V1027.8 M1444.6 1021.6 V1025 M1484 1021.6 V1027.8" fill="none" stroke="#000" stroke-width="1.4"/>
</g>
<g font-family="'Liberation Sans', Arial, Helvetica, sans-serif" fill="#000">
<text x="77.2" y="774.8" font-size="32" text-anchor="end">6000</text>
<text x="80.6" y="1028.2" font-size="32" text-anchor="end">0</text>
<text x="75" y="895.8" font-size="32" text-anchor="middle" transform="rotate(-90 75 895.8)">Counts</text>
<text x="89" y="1047.6" font-size="32" text-anchor="middle">0</text>
<text x="482.6" y="1047.6" font-size="32" text-anchor="middle">50</text>
<text x="594.4" y="1047.6" font-size="32" text-anchor="middle">0</text>
<text x="988.8" y="1047.6" font-size="32" text-anchor="middle">50</text>
<text x="1091" y="1047.6" font-size="32" text-anchor="middle">0</text>
<text x="1484.2" y="1047.6" font-size="32" text-anchor="middle">50</text>
<text x="303" y="1067.6" font-size="32" text-anchor="middle">Current (pA)</text>
<text x="809" y="1067.6" font-size="32" text-anchor="middle">Current (pA)</text>
<text x="1306" y="1067.6" font-size="32" text-anchor="middle">Current (pA)</text>
</g>
</svg>
</body></html>
